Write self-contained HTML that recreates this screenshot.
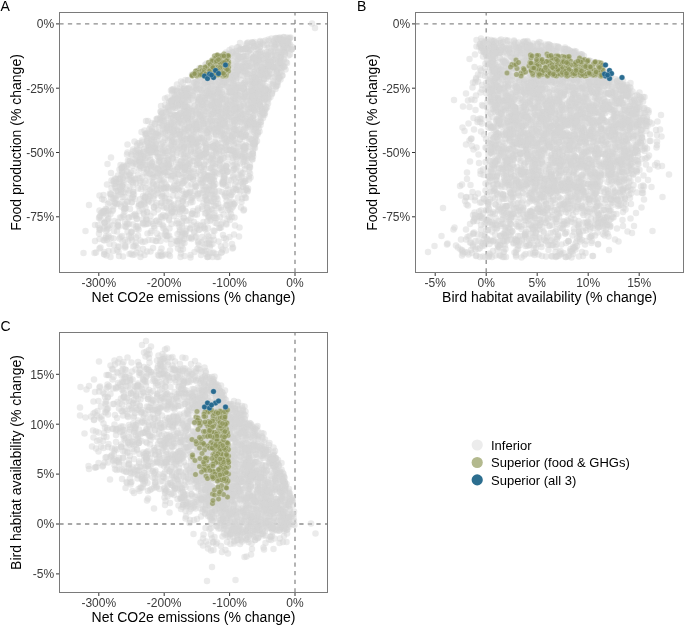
<!DOCTYPE html><html><head><meta charset="utf-8"><style>html,body{margin:0;padding:0;background:#fff;width:685px;height:626px;overflow:hidden}svg{display:block;font-family:"Liberation Sans", sans-serif;will-change:transform}.tk{font-size:12px;fill:#3a3a3a}.ti{font-size:14px;fill:#000}.tag{font-size:14px;fill:#000}.lg{font-size:13px;fill:#000}.g circle{fill:#d4d4d4;fill-opacity:.47}circle.o{fill:#8c9355;fill-opacity:.68;stroke:#fff;stroke-width:1;stroke-opacity:.45}circle.b{fill:#20658c;fill-opacity:.95;stroke:#fff;stroke-width:1;stroke-opacity:.45}</style></head><body><svg width="685" height="626" viewBox="0 0 685 626"><line x1="59.3" x2="327.5" y1="23.95" y2="23.95" stroke="#8c8c8c" stroke-width="1.3" stroke-dasharray="4.3 4.27"/><line y1="272.5" y2="12.5" x1="295.0" x2="295.0" stroke="#8c8c8c" stroke-width="1.3" stroke-dasharray="4.3 4.27"/><line x1="415.3" x2="683.5" y1="23.95" y2="23.95" stroke="#8c8c8c" stroke-width="1.3" stroke-dasharray="4.3 4.27"/><line y1="272.5" y2="12.5" x1="486.2" x2="486.2" stroke="#8c8c8c" stroke-width="1.3" stroke-dasharray="4.3 4.27"/><line x1="59.3" x2="327.5" y1="524.0" y2="524.0" stroke="#8c8c8c" stroke-width="1.3" stroke-dasharray="4.3 4.27"/><line y1="592.5" y2="332.5" x1="295.0" x2="295.0" stroke="#8c8c8c" stroke-width="1.3" stroke-dasharray="4.3 4.27"/><filter id="bl" x="-5%" y="-5%" width="110%" height="110%"><feGaussianBlur stdDeviation="0.7"/></filter><clipPath id="cpA"><rect x="60" y="13" width="267" height="259"/></clipPath><g clip-path="url(#cpA)"><g class="g" filter="url(#bl)"><g transform="scale(.5)"><circle cx=510 cy=164 r=6.5 /><circle cx=319 cy=320 r=6.5 /><circle cx=385 cy=259 r=6.5 /><circle cx=353 cy=279 r=6.5 /><circle cx=401 cy=306 r=6.5 /><circle cx=370 cy=189 r=6.5 /><circle cx=502 cy=109 r=6.5 /><circle cx=479 cy=215 r=6.5 /><circle cx=361 cy=412 r=6.5 /><circle cx=372 cy=185 r=6.5 /><circle cx=456 cy=315 r=6.5 /><circle cx=520 cy=177 r=6.5 /><circle cx=300 cy=330 r=6.5 /><circle cx=542 cy=124 r=6.5 /><circle cx=442 cy=219 r=6.5 /><circle cx=446 cy=219 r=6.5 /><circle cx=562 cy=124 r=6.5 /><circle cx=312 cy=442 r=6.5 /><circle cx=523 cy=194 r=6.5 /><circle cx=386 cy=358 r=6.5 /><circle cx=366 cy=233 r=6.5 /><circle cx=293 cy=439 r=6.5 /><circle cx=412 cy=426 r=6.5 /><circle cx=345 cy=307 r=6.5 /><circle cx=487 cy=178 r=6.5 /><circle cx=434 cy=206 r=6.5 /><circle cx=178 cy=410 r=6.5 /><circle cx=333 cy=305 r=6.5 /><circle cx=465 cy=273 r=6.5 /><circle cx=419 cy=294 r=6.5 /><circle cx=421 cy=490 r=6.5 /><circle cx=462 cy=226 r=6.5 /><circle cx=580 cy=109 r=6.5 /><circle cx=492 cy=143 r=6.5 /><circle cx=449 cy=243 r=6.5 /><circle cx=359 cy=210 r=6.5 /><circle cx=324 cy=332 r=6.5 /><circle cx=418 cy=248 r=6.5 /><circle cx=301 cy=348 r=6.5 /><circle cx=536 cy=183 r=6.5 /><circle cx=547 cy=83 r=6.5 /><circle cx=364 cy=330 r=6.5 /><circle cx=382 cy=299 r=6.5 /><circle cx=493 cy=379 r=6.5 /><circle cx=324 cy=393 r=6.5 /><circle cx=489 cy=358 r=6.5 /><circle cx=463 cy=390 r=6.5 /><circle cx=508 cy=249 r=6.5 /><circle cx=495 cy=383 r=6.5 /><circle cx=318 cy=444 r=6.5 /><circle cx=515 cy=94 r=6.5 /><circle cx=491 cy=143 r=6.5 /><circle cx=226 cy=419 r=6.5 /><circle cx=443 cy=310 r=6.5 /><circle cx=390 cy=307 r=6.5 /><circle cx=438 cy=208 r=6.5 /><circle cx=348 cy=287 r=6.5 /><circle cx=498 cy=341 r=6.5 /><circle cx=279 cy=322 r=6.5 /><circle cx=436 cy=236 r=6.5 /><circle cx=400 cy=314 r=6.5 /><circle cx=370 cy=336 r=6.5 /><circle cx=359 cy=195 r=6.5 /><circle cx=417 cy=259 r=6.5 /><circle cx=413 cy=358 r=6.5 /><circle cx=500 cy=243 r=6.5 /><circle cx=212 cy=429 r=6.5 /><circle cx=511 cy=187 r=6.5 /><circle cx=512 cy=207 r=6.5 /><circle cx=524 cy=134 r=6.5 /><circle cx=458 cy=300 r=6.5 /><circle cx=491 cy=290 r=6.5 /><circle cx=382 cy=353 r=6.5 /><circle cx=486 cy=367 r=6.5 /><circle cx=476 cy=234 r=6.5 /><circle cx=409 cy=286 r=6.5 /><circle cx=446 cy=165 r=6.5 /><circle cx=290 cy=483 r=6.5 /><circle cx=345 cy=352 r=6.5 /><circle cx=236 cy=493 r=6.5 /><circle cx=560 cy=115 r=6.5 /><circle cx=515 cy=184 r=6.5 /><circle cx=428 cy=435 r=6.5 /><circle cx=443 cy=265 r=6.5 /><circle cx=389 cy=465 r=6.5 /><circle cx=487 cy=421 r=6.5 /><circle cx=463 cy=227 r=6.5 /><circle cx=321 cy=246 r=6.5 /><circle cx=308 cy=369 r=6.5 /><circle cx=342 cy=414 r=6.5 /><circle cx=365 cy=304 r=6.5 /><circle cx=505 cy=262 r=6.5 /><circle cx=568 cy=75 r=6.5 /><circle cx=539 cy=125 r=6.5 /><circle cx=255 cy=464 r=6.5 /><circle cx=279 cy=422 r=6.5 /><circle cx=486 cy=374 r=6.5 /><circle cx=295 cy=278 r=6.5 /><circle cx=337 cy=294 r=6.5 /><circle cx=331 cy=263 r=6.5 /><circle cx=439 cy=164 r=6.5 /><circle cx=445 cy=318 r=6.5 /><circle cx=303 cy=462 r=6.5 /><circle cx=467 cy=350 r=6.5 /><circle cx=575 cy=90 r=6.5 /><circle cx=316 cy=338 r=6.5 /><circle cx=440 cy=295 r=6.5 /><circle cx=284 cy=327 r=6.5 /><circle cx=333 cy=335 r=6.5 /><circle cx=212 cy=462 r=6.5 /><circle cx=360 cy=424 r=6.5 /><circle cx=543 cy=89 r=6.5 /><circle cx=203 cy=425 r=6.5 /><circle cx=300 cy=321 r=6.5 /><circle cx=472 cy=123 r=6.5 /><circle cx=564 cy=86 r=6.5 /><circle cx=397 cy=241 r=6.5 /><circle cx=555 cy=163 r=6.5 /><circle cx=431 cy=299 r=6.5 /><circle cx=506 cy=242 r=6.5 /><circle cx=289 cy=261 r=6.5 /><circle cx=368 cy=220 r=6.5 /><circle cx=489 cy=166 r=6.5 /><circle cx=437 cy=153 r=6.5 /><circle cx=343 cy=252 r=6.5 /><circle cx=293 cy=346 r=6.5 /><circle cx=472 cy=107 r=6.5 /><circle cx=313 cy=372 r=6.5 /><circle cx=518 cy=121 r=6.5 /><circle cx=478 cy=182 r=6.5 /><circle cx=396 cy=417 r=6.5 /><circle cx=385 cy=396 r=6.5 /><circle cx=533 cy=125 r=6.5 /><circle cx=564 cy=151 r=6.5 /><circle cx=291 cy=396 r=6.5 /><circle cx=446 cy=162 r=6.5 /><circle cx=223 cy=376 r=6.5 /><circle cx=506 cy=237 r=6.5 /><circle cx=401 cy=259 r=6.5 /><circle cx=260 cy=360 r=6.5 /><circle cx=455 cy=137 r=6.5 /><circle cx=486 cy=112 r=6.5 /><circle cx=505 cy=319 r=6.5 /><circle cx=330 cy=276 r=6.5 /><circle cx=375 cy=235 r=6.5 /><circle cx=240 cy=356 r=6.5 /><circle cx=413 cy=292 r=6.5 /><circle cx=467 cy=207 r=6.5 /><circle cx=338 cy=327 r=6.5 /><circle cx=513 cy=181 r=6.5 /><circle cx=213 cy=511 r=6.5 /><circle cx=397 cy=196 r=6.5 /><circle cx=264 cy=463 r=6.5 /><circle cx=482 cy=171 r=6.5 /><circle cx=499 cy=284 r=6.5 /><circle cx=237 cy=364 r=6.5 /><circle cx=570 cy=90 r=6.5 /><circle cx=196 cy=450 r=6.5 /><circle cx=431 cy=172 r=6.5 /><circle cx=425 cy=210 r=6.5 /><circle cx=521 cy=132 r=6.5 /><circle cx=406 cy=343 r=6.5 /><circle cx=394 cy=429 r=6.5 /><circle cx=405 cy=380 r=6.5 /><circle cx=240 cy=435 r=6.5 /><circle cx=438 cy=210 r=6.5 /><circle cx=524 cy=147 r=6.5 /><circle cx=454 cy=279 r=6.5 /><circle cx=209 cy=446 r=6.5 /><circle cx=489 cy=263 r=6.5 /><circle cx=519 cy=140 r=6.5 /><circle cx=410 cy=427 r=6.5 /><circle cx=517 cy=248 r=6.5 /><circle cx=443 cy=345 r=6.5 /><circle cx=344 cy=186 r=6.5 /><circle cx=502 cy=278 r=6.5 /><circle cx=500 cy=214 r=6.5 /><circle cx=368 cy=295 r=6.5 /><circle cx=238 cy=494 r=6.5 /><circle cx=207 cy=480 r=6.5 /><circle cx=555 cy=154 r=6.5 /><circle cx=414 cy=183 r=6.5 /><circle cx=406 cy=152 r=6.5 /><circle cx=412 cy=238 r=6.5 /><circle cx=365 cy=465 r=6.5 /><circle cx=393 cy=227 r=6.5 /><circle cx=307 cy=347 r=6.5 /><circle cx=383 cy=291 r=6.5 /><circle cx=497 cy=273 r=6.5 /><circle cx=535 cy=89 r=6.5 /><circle cx=357 cy=399 r=6.5 /><circle cx=323 cy=288 r=6.5 /><circle cx=513 cy=117 r=6.5 /><circle cx=450 cy=276 r=6.5 /><circle cx=226 cy=397 r=6.5 /><circle cx=425 cy=137 r=6.5 /><circle cx=340 cy=501 r=6.5 /><circle cx=465 cy=151 r=6.5 /><circle cx=543 cy=147 r=6.5 /><circle cx=483 cy=347 r=6.5 /><circle cx=415 cy=267 r=6.5 /><circle cx=443 cy=337 r=6.5 /><circle cx=394 cy=151 r=6.5 /><circle cx=455 cy=240 r=6.5 /><circle cx=388 cy=283 r=6.5 /><circle cx=255 cy=403 r=6.5 /><circle cx=222 cy=346 r=6.5 /><circle cx=417 cy=259 r=6.5 /><circle cx=373 cy=278 r=6.5 /><circle cx=509 cy=221 r=6.5 /><circle cx=404 cy=275 r=6.5 /><circle cx=348 cy=252 r=6.5 /><circle cx=207 cy=427 r=6.5 /><circle cx=262 cy=309 r=6.5 /><circle cx=214 cy=459 r=6.5 /><circle cx=466 cy=413 r=6.5 /><circle cx=295 cy=351 r=6.5 /><circle cx=345 cy=264 r=6.5 /><circle cx=379 cy=384 r=6.5 /><circle cx=347 cy=379 r=6.5 /><circle cx=423 cy=261 r=6.5 /><circle cx=437 cy=171 r=6.5 /><circle cx=363 cy=182 r=6.5 /><circle cx=480 cy=98 r=6.5 /><circle cx=443 cy=226 r=6.5 /><circle cx=520 cy=192 r=6.5 /><circle cx=441 cy=112 r=6.5 /><circle cx=443 cy=505 r=6.5 /><circle cx=479 cy=455 r=6.5 /><circle cx=461 cy=121 r=6.5 /><circle cx=476 cy=170 r=6.5 /><circle cx=541 cy=124 r=6.5 /><circle cx=304 cy=377 r=6.5 /><circle cx=407 cy=276 r=6.5 /><circle cx=467 cy=186 r=6.5 /><circle cx=333 cy=252 r=6.5 /><circle cx=333 cy=218 r=6.5 /><circle cx=524 cy=140 r=6.5 /><circle cx=410 cy=394 r=6.5 /><circle cx=221 cy=514 r=6.5 /><circle cx=453 cy=109 r=6.5 /><circle cx=491 cy=188 r=6.5 /><circle cx=314 cy=298 r=6.5 /><circle cx=287 cy=402 r=6.5 /><circle cx=407 cy=358 r=6.5 /><circle cx=268 cy=430 r=6.5 /><circle cx=510 cy=174 r=6.5 /><circle cx=353 cy=310 r=6.5 /><circle cx=534 cy=104 r=6.5 /><circle cx=384 cy=233 r=6.5 /><circle cx=523 cy=182 r=6.5 /><circle cx=244 cy=336 r=6.5 /><circle cx=529 cy=194 r=6.5 /><circle cx=480 cy=278 r=6.5 /><circle cx=580 cy=89 r=6.5 /><circle cx=316 cy=476 r=6.5 /><circle cx=476 cy=315 r=6.5 /><circle cx=480 cy=86 r=6.5 /><circle cx=373 cy=307 r=6.5 /><circle cx=531 cy=81 r=6.5 /><circle cx=342 cy=488 r=6.5 /><circle cx=485 cy=288 r=6.5 /><circle cx=533 cy=179 r=6.5 /><circle cx=357 cy=349 r=6.5 /><circle cx=318 cy=512 r=6.5 /><circle cx=255 cy=344 r=6.5 /><circle cx=330 cy=469 r=6.5 /><circle cx=516 cy=265 r=6.5 /><circle cx=399 cy=136 r=6.5 /><circle cx=488 cy=389 r=6.5 /><circle cx=422 cy=336 r=6.5 /><circle cx=429 cy=195 r=6.5 /><circle cx=540 cy=139 r=6.5 /><circle cx=217 cy=437 r=6.5 /><circle cx=431 cy=394 r=6.5 /><circle cx=422 cy=229 r=6.5 /><circle cx=448 cy=476 r=6.5 /><circle cx=425 cy=326 r=6.5 /><circle cx=412 cy=297 r=6.5 /><circle cx=323 cy=332 r=6.5 /><circle cx=522 cy=148 r=6.5 /><circle cx=427 cy=388 r=6.5 /><circle cx=513 cy=121 r=6.5 /><circle cx=448 cy=363 r=6.5 /><circle cx=294 cy=282 r=6.5 /><circle cx=381 cy=456 r=6.5 /><circle cx=380 cy=190 r=6.5 /><circle cx=569 cy=109 r=6.5 /><circle cx=514 cy=163 r=6.5 /><circle cx=504 cy=318 r=6.5 /><circle cx=400 cy=311 r=6.5 /><circle cx=428 cy=398 r=6.5 /><circle cx=217 cy=471 r=6.5 /><circle cx=453 cy=262 r=6.5 /><circle cx=496 cy=377 r=6.5 /><circle cx=422 cy=211 r=6.5 /><circle cx=425 cy=154 r=6.5 /><circle cx=412 cy=305 r=6.5 /><circle cx=488 cy=128 r=6.5 /><circle cx=452 cy=150 r=6.5 /><circle cx=567 cy=97 r=6.5 /><circle cx=506 cy=215 r=6.5 /><circle cx=431 cy=185 r=6.5 /><circle cx=507 cy=197 r=6.5 /><circle cx=482 cy=114 r=6.5 /><circle cx=471 cy=153 r=6.5 /><circle cx=460 cy=440 r=6.5 /><circle cx=455 cy=343 r=6.5 /><circle cx=401 cy=350 r=6.5 /><circle cx=559 cy=136 r=6.5 /><circle cx=396 cy=297 r=6.5 /><circle cx=497 cy=253 r=6.5 /><circle cx=479 cy=227 r=6.5 /><circle cx=508 cy=154 r=6.5 /><circle cx=491 cy=296 r=6.5 /><circle cx=409 cy=167 r=6.5 /><circle cx=429 cy=462 r=6.5 /><circle cx=365 cy=202 r=6.5 /><circle cx=292 cy=272 r=6.5 /><circle cx=474 cy=216 r=6.5 /><circle cx=208 cy=400 r=6.5 /><circle cx=395 cy=387 r=6.5 /><circle cx=373 cy=278 r=6.5 /><circle cx=407 cy=406 r=6.5 /><circle cx=436 cy=201 r=6.5 /><circle cx=335 cy=471 r=6.5 /><circle cx=450 cy=350 r=6.5 /><circle cx=371 cy=182 r=6.5 /><circle cx=285 cy=324 r=6.5 /><circle cx=474 cy=145 r=6.5 /><circle cx=506 cy=308 r=6.5 /><circle cx=453 cy=401 r=6.5 /><circle cx=425 cy=506 r=6.5 /><circle cx=422 cy=361 r=6.5 /><circle cx=443 cy=249 r=6.5 /><circle cx=363 cy=264 r=6.5 /><circle cx=522 cy=149 r=6.5 /><circle cx=304 cy=258 r=6.5 /><circle cx=371 cy=389 r=6.5 /><circle cx=232 cy=358 r=6.5 /><circle cx=383 cy=478 r=6.5 /><circle cx=507 cy=236 r=6.5 /><circle cx=463 cy=155 r=6.5 /><circle cx=418 cy=274 r=6.5 /><circle cx=457 cy=193 r=6.5 /><circle cx=476 cy=242 r=6.5 /><circle cx=260 cy=351 r=6.5 /><circle cx=553 cy=90 r=6.5 /><circle cx=303 cy=405 r=6.5 /><circle cx=399 cy=194 r=6.5 /><circle cx=375 cy=255 r=6.5 /><circle cx=562 cy=80 r=6.5 /><circle cx=325 cy=226 r=6.5 /><circle cx=272 cy=475 r=6.5 /><circle cx=416 cy=144 r=6.5 /><circle cx=427 cy=505 r=6.5 /><circle cx=403 cy=335 r=6.5 /><circle cx=397 cy=277 r=6.5 /><circle cx=552 cy=88 r=6.5 /><circle cx=337 cy=246 r=6.5 /><circle cx=372 cy=192 r=6.5 /><circle cx=569 cy=133 r=6.5 /><circle cx=267 cy=327 r=6.5 /><circle cx=234 cy=500 r=6.5 /><circle cx=376 cy=236 r=6.5 /><circle cx=401 cy=361 r=6.5 /><circle cx=480 cy=139 r=6.5 /><circle cx=207 cy=390 r=6.5 /><circle cx=339 cy=262 r=6.5 /><circle cx=342 cy=427 r=6.5 /><circle cx=280 cy=366 r=6.5 /><circle cx=480 cy=327 r=6.5 /><circle cx=337 cy=344 r=6.5 /><circle cx=467 cy=241 r=6.5 /><circle cx=256 cy=483 r=6.5 /><circle cx=251 cy=454 r=6.5 /><circle cx=393 cy=176 r=6.5 /><circle cx=509 cy=92 r=6.5 /><circle cx=393 cy=258 r=6.5 /><circle cx=487 cy=363 r=6.5 /><circle cx=472 cy=235 r=6.5 /><circle cx=342 cy=290 r=6.5 /><circle cx=230 cy=367 r=6.5 /><circle cx=576 cy=88 r=6.5 /><circle cx=263 cy=356 r=6.5 /><circle cx=370 cy=315 r=6.5 /><circle cx=441 cy=170 r=6.5 /><circle cx=366 cy=187 r=6.5 /><circle cx=426 cy=371 r=6.5 /><circle cx=458 cy=273 r=6.5 /><circle cx=509 cy=230 r=6.5 /><circle cx=214 cy=441 r=6.5 /><circle cx=288 cy=345 r=6.5 /><circle cx=394 cy=147 r=6.5 /><circle cx=338 cy=437 r=6.5 /><circle cx=330 cy=279 r=6.5 /><circle cx=584 cy=98 r=6.5 /><circle cx=502 cy=227 r=6.5 /><circle cx=275 cy=452 r=6.5 /><circle cx=467 cy=197 r=6.5 /><circle cx=241 cy=330 r=6.5 /><circle cx=375 cy=177 r=6.5 /><circle cx=476 cy=294 r=6.5 /><circle cx=488 cy=295 r=6.5 /><circle cx=536 cy=151 r=6.5 /><circle cx=404 cy=185 r=6.5 /><circle cx=308 cy=415 r=6.5 /><circle cx=480 cy=264 r=6.5 /><circle cx=458 cy=146 r=6.5 /><circle cx=478 cy=259 r=6.5 /><circle cx=317 cy=314 r=6.5 /><circle cx=214 cy=479 r=6.5 /><circle cx=313 cy=238 r=6.5 /><circle cx=343 cy=204 r=6.5 /><circle cx=292 cy=242 r=6.5 /><circle cx=476 cy=198 r=6.5 /><circle cx=409 cy=330 r=6.5 /><circle cx=514 cy=130 r=6.5 /><circle cx=536 cy=111 r=6.5 /><circle cx=325 cy=235 r=6.5 /><circle cx=420 cy=177 r=6.5 /><circle cx=462 cy=361 r=6.5 /><circle cx=364 cy=190 r=6.5 /><circle cx=450 cy=233 r=6.5 /><circle cx=439 cy=348 r=6.5 /><circle cx=312 cy=269 r=6.5 /><circle cx=527 cy=175 r=6.5 /><circle cx=309 cy=274 r=6.5 /><circle cx=344 cy=211 r=6.5 /><circle cx=468 cy=221 r=6.5 /><circle cx=368 cy=293 r=6.5 /><circle cx=407 cy=218 r=6.5 /><circle cx=323 cy=229 r=6.5 /><circle cx=466 cy=340 r=6.5 /><circle cx=572 cy=124 r=6.5 /><circle cx=318 cy=360 r=6.5 /><circle cx=420 cy=362 r=6.5 /><circle cx=418 cy=228 r=6.5 /><circle cx=354 cy=483 r=6.5 /><circle cx=413 cy=260 r=6.5 /><circle cx=415 cy=353 r=6.5 /><circle cx=475 cy=155 r=6.5 /><circle cx=216 cy=408 r=6.5 /><circle cx=345 cy=265 r=6.5 /><circle cx=531 cy=181 r=6.5 /><circle cx=316 cy=271 r=6.5 /><circle cx=484 cy=237 r=6.5 /><circle cx=455 cy=438 r=6.5 /><circle cx=321 cy=235 r=6.5 /><circle cx=474 cy=134 r=6.5 /><circle cx=491 cy=98 r=6.5 /><circle cx=389 cy=213 r=6.5 /><circle cx=551 cy=88 r=6.5 /><circle cx=484 cy=230 r=6.5 /><circle cx=500 cy=347 r=6.5 /><circle cx=504 cy=173 r=6.5 /><circle cx=273 cy=322 r=6.5 /><circle cx=402 cy=501 r=6.5 /><circle cx=356 cy=406 r=6.5 /><circle cx=453 cy=449 r=6.5 /><circle cx=417 cy=435 r=6.5 /><circle cx=501 cy=254 r=6.5 /><circle cx=551 cy=113 r=6.5 /><circle cx=415 cy=423 r=6.5 /><circle cx=499 cy=99 r=6.5 /><circle cx=440 cy=434 r=6.5 /><circle cx=489 cy=293 r=6.5 /><circle cx=232 cy=382 r=6.5 /><circle cx=439 cy=299 r=6.5 /><circle cx=485 cy=115 r=6.5 /><circle cx=371 cy=221 r=6.5 /><circle cx=419 cy=372 r=6.5 /><circle cx=460 cy=233 r=6.5 /><circle cx=273 cy=437 r=6.5 /><circle cx=312 cy=288 r=6.5 /><circle cx=511 cy=216 r=6.5 /><circle cx=391 cy=250 r=6.5 /><circle cx=537 cy=198 r=6.5 /><circle cx=438 cy=222 r=6.5 /><circle cx=450 cy=392 r=6.5 /><circle cx=433 cy=121 r=6.5 /><circle cx=339 cy=311 r=6.5 /><circle cx=461 cy=201 r=6.5 /><circle cx=532 cy=186 r=6.5 /><circle cx=427 cy=349 r=6.5 /><circle cx=466 cy=212 r=6.5 /><circle cx=381 cy=276 r=6.5 /><circle cx=396 cy=227 r=6.5 /><circle cx=496 cy=219 r=6.5 /><circle cx=417 cy=178 r=6.5 /><circle cx=582 cy=99 r=6.5 /><circle cx=347 cy=279 r=6.5 /><circle cx=526 cy=184 r=6.5 /><circle cx=465 cy=115 r=6.5 /><circle cx=372 cy=228 r=6.5 /><circle cx=345 cy=317 r=6.5 /><circle cx=228 cy=462 r=6.5 /><circle cx=303 cy=277 r=6.5 /><circle cx=418 cy=421 r=6.5 /><circle cx=281 cy=336 r=6.5 /><circle cx=326 cy=305 r=6.5 /><circle cx=491 cy=99 r=6.5 /><circle cx=229 cy=442 r=6.5 /><circle cx=369 cy=308 r=6.5 /><circle cx=446 cy=164 r=6.5 /><circle cx=401 cy=254 r=6.5 /><circle cx=550 cy=90 r=6.5 /><circle cx=304 cy=326 r=6.5 /><circle cx=477 cy=144 r=6.5 /><circle cx=511 cy=184 r=6.5 /><circle cx=422 cy=439 r=6.5 /><circle cx=409 cy=148 r=6.5 /><circle cx=358 cy=365 r=6.5 /><circle cx=476 cy=141 r=6.5 /><circle cx=523 cy=103 r=6.5 /><circle cx=367 cy=281 r=6.5 /><circle cx=281 cy=362 r=6.5 /><circle cx=510 cy=217 r=6.5 /><circle cx=245 cy=394 r=6.5 /><circle cx=487 cy=113 r=6.5 /><circle cx=371 cy=212 r=6.5 /><circle cx=462 cy=161 r=6.5 /><circle cx=550 cy=137 r=6.5 /><circle cx=527 cy=193 r=6.5 /><circle cx=286 cy=312 r=6.5 /><circle cx=354 cy=305 r=6.5 /><circle cx=489 cy=183 r=6.5 /><circle cx=363 cy=211 r=6.5 /><circle cx=443 cy=250 r=6.5 /><circle cx=474 cy=124 r=6.5 /><circle cx=424 cy=218 r=6.5 /><circle cx=217 cy=502 r=6.5 /><circle cx=364 cy=467 r=6.5 /><circle cx=514 cy=120 r=6.5 /><circle cx=430 cy=223 r=6.5 /><circle cx=504 cy=193 r=6.5 /><circle cx=260 cy=322 r=6.5 /><circle cx=276 cy=350 r=6.5 /><circle cx=291 cy=317 r=6.5 /><circle cx=486 cy=98 r=6.5 /><circle cx=425 cy=356 r=6.5 /><circle cx=355 cy=182 r=6.5 /><circle cx=477 cy=269 r=6.5 /><circle cx=541 cy=194 r=6.5 /><circle cx=478 cy=269 r=6.5 /><circle cx=512 cy=123 r=6.5 /><circle cx=324 cy=252 r=6.5 /><circle cx=489 cy=165 r=6.5 /><circle cx=406 cy=372 r=6.5 /><circle cx=432 cy=305 r=6.5 /><circle cx=519 cy=241 r=6.5 /><circle cx=400 cy=240 r=6.5 /><circle cx=466 cy=273 r=6.5 /><circle cx=442 cy=493 r=6.5 /><circle cx=481 cy=233 r=6.5 /><circle cx=344 cy=281 r=6.5 /><circle cx=357 cy=284 r=6.5 /><circle cx=228 cy=396 r=6.5 /><circle cx=276 cy=377 r=6.5 /><circle cx=434 cy=514 r=6.5 /><circle cx=355 cy=337 r=6.5 /><circle cx=388 cy=444 r=6.5 /><circle cx=412 cy=356 r=6.5 /><circle cx=529 cy=158 r=6.5 /><circle cx=369 cy=206 r=6.5 /><circle cx=404 cy=413 r=6.5 /><circle cx=476 cy=130 r=6.5 /><circle cx=335 cy=271 r=6.5 /><circle cx=359 cy=329 r=6.5 /><circle cx=262 cy=507 r=6.5 /><circle cx=451 cy=337 r=6.5 /><circle cx=430 cy=436 r=6.5 /><circle cx=448 cy=138 r=6.5 /><circle cx=494 cy=264 r=6.5 /><circle cx=382 cy=301 r=6.5 /><circle cx=341 cy=273 r=6.5 /><circle cx=339 cy=203 r=6.5 /><circle cx=473 cy=317 r=6.5 /><circle cx=518 cy=205 r=6.5 /><circle cx=456 cy=343 r=6.5 /><circle cx=428 cy=201 r=6.5 /><circle cx=249 cy=418 r=6.5 /><circle cx=474 cy=238 r=6.5 /><circle cx=321 cy=223 r=6.5 /><circle cx=426 cy=292 r=6.5 /><circle cx=263 cy=474 r=6.5 /><circle cx=248 cy=418 r=6.5 /><circle cx=375 cy=197 r=6.5 /><circle cx=509 cy=179 r=6.5 /><circle cx=523 cy=183 r=6.5 /><circle cx=546 cy=163 r=6.5 /><circle cx=426 cy=223 r=6.5 /><circle cx=449 cy=179 r=6.5 /><circle cx=561 cy=105 r=6.5 /><circle cx=413 cy=138 r=6.5 /><circle cx=519 cy=209 r=6.5 /><circle cx=418 cy=145 r=6.5 /><circle cx=371 cy=422 r=6.5 /><circle cx=440 cy=179 r=6.5 /><circle cx=344 cy=260 r=6.5 /><circle cx=495 cy=239 r=6.5 /><circle cx=491 cy=270 r=6.5 /><circle cx=432 cy=508 r=6.5 /><circle cx=504 cy=85 r=6.5 /><circle cx=527 cy=225 r=6.5 /><circle cx=297 cy=302 r=6.5 /><circle cx=289 cy=510 r=6.5 /><circle cx=425 cy=488 r=6.5 /><circle cx=572 cy=100 r=6.5 /><circle cx=506 cy=293 r=6.5 /><circle cx=505 cy=182 r=6.5 /><circle cx=427 cy=154 r=6.5 /><circle cx=362 cy=192 r=6.5 /><circle cx=405 cy=210 r=6.5 /><circle cx=424 cy=242 r=6.5 /><circle cx=455 cy=143 r=6.5 /><circle cx=570 cy=104 r=6.5 /><circle cx=365 cy=399 r=6.5 /><circle cx=405 cy=418 r=6.5 /><circle cx=343 cy=211 r=6.5 /><circle cx=495 cy=223 r=6.5 /><circle cx=227 cy=412 r=6.5 /><circle cx=318 cy=327 r=6.5 /><circle cx=553 cy=142 r=6.5 /><circle cx=440 cy=155 r=6.5 /><circle cx=293 cy=330 r=6.5 /><circle cx=552 cy=76 r=6.5 /><circle cx=456 cy=209 r=6.5 /><circle cx=407 cy=361 r=6.5 /><circle cx=482 cy=257 r=6.5 /><circle cx=209 cy=445 r=6.5 /><circle cx=424 cy=349 r=6.5 /><circle cx=509 cy=118 r=6.5 /><circle cx=499 cy=334 r=6.5 /><circle cx=542 cy=102 r=6.5 /><circle cx=366 cy=217 r=6.5 /><circle cx=459 cy=474 r=6.5 /><circle cx=491 cy=242 r=6.5 /><circle cx=337 cy=333 r=6.5 /><circle cx=297 cy=299 r=6.5 /><circle cx=324 cy=512 r=6.5 /><circle cx=425 cy=228 r=6.5 /><circle cx=492 cy=174 r=6.5 /><circle cx=201 cy=495 r=6.5 /><circle cx=411 cy=393 r=6.5 /><circle cx=526 cy=184 r=6.5 /><circle cx=255 cy=305 r=6.5 /><circle cx=370 cy=467 r=6.5 /><circle cx=217 cy=475 r=6.5 /><circle cx=469 cy=337 r=6.5 /><circle cx=473 cy=108 r=6.5 /><circle cx=505 cy=118 r=6.5 /><circle cx=445 cy=366 r=6.5 /><circle cx=472 cy=163 r=6.5 /><circle cx=558 cy=155 r=6.5 /><circle cx=513 cy=201 r=6.5 /><circle cx=466 cy=222 r=6.5 /><circle cx=398 cy=327 r=6.5 /><circle cx=516 cy=89 r=6.5 /><circle cx=368 cy=323 r=6.5 /><circle cx=251 cy=493 r=6.5 /><circle cx=521 cy=202 r=6.5 /><circle cx=293 cy=440 r=6.5 /><circle cx=488 cy=228 r=6.5 /><circle cx=254 cy=309 r=6.5 /><circle cx=430 cy=284 r=6.5 /><circle cx=503 cy=208 r=6.5 /><circle cx=222 cy=388 r=6.5 /><circle cx=366 cy=416 r=6.5 /><circle cx=414 cy=190 r=6.5 /><circle cx=281 cy=306 r=6.5 /><circle cx=529 cy=195 r=6.5 /><circle cx=455 cy=137 r=6.5 /><circle cx=482 cy=219 r=6.5 /><circle cx=366 cy=165 r=6.5 /><circle cx=247 cy=345 r=6.5 /><circle cx=504 cy=85 r=6.5 /><circle cx=459 cy=177 r=6.5 /><circle cx=348 cy=432 r=6.5 /><circle cx=325 cy=437 r=6.5 /><circle cx=471 cy=177 r=6.5 /><circle cx=238 cy=512 r=6.5 /><circle cx=526 cy=83 r=6.5 /><circle cx=563 cy=108 r=6.5 /><circle cx=400 cy=330 r=6.5 /><circle cx=434 cy=289 r=6.5 /><circle cx=482 cy=268 r=6.5 /><circle cx=302 cy=284 r=6.5 /><circle cx=466 cy=253 r=6.5 /><circle cx=376 cy=289 r=6.5 /><circle cx=385 cy=322 r=6.5 /><circle cx=274 cy=291 r=6.5 /><circle cx=425 cy=372 r=6.5 /><circle cx=322 cy=511 r=6.5 /><circle cx=489 cy=214 r=6.5 /><circle cx=412 cy=391 r=6.5 /><circle cx=419 cy=353 r=6.5 /><circle cx=376 cy=332 r=6.5 /><circle cx=449 cy=357 r=6.5 /><circle cx=395 cy=243 r=6.5 /><circle cx=360 cy=269 r=6.5 /><circle cx=472 cy=379 r=6.5 /><circle cx=390 cy=429 r=6.5 /><circle cx=397 cy=201 r=6.5 /><circle cx=239 cy=339 r=6.5 /><circle cx=308 cy=425 r=6.5 /><circle cx=454 cy=344 r=6.5 /><circle cx=547 cy=135 r=6.5 /><circle cx=339 cy=457 r=6.5 /><circle cx=283 cy=264 r=6.5 /><circle cx=402 cy=204 r=6.5 /><circle cx=454 cy=221 r=6.5 /><circle cx=473 cy=238 r=6.5 /><circle cx=431 cy=368 r=6.5 /><circle cx=504 cy=178 r=6.5 /><circle cx=236 cy=451 r=6.5 /><circle cx=352 cy=183 r=6.5 /><circle cx=462 cy=234 r=6.5 /><circle cx=462 cy=299 r=6.5 /><circle cx=373 cy=457 r=6.5 /><circle cx=507 cy=116 r=6.5 /><circle cx=247 cy=331 r=6.5 /><circle cx=347 cy=262 r=6.5 /><circle cx=425 cy=241 r=6.5 /><circle cx=511 cy=225 r=6.5 /><circle cx=433 cy=179 r=6.5 /><circle cx=343 cy=202 r=6.5 /><circle cx=388 cy=250 r=6.5 /><circle cx=559 cy=78 r=6.5 /><circle cx=447 cy=189 r=6.5 /><circle cx=379 cy=327 r=6.5 /><circle cx=447 cy=232 r=6.5 /><circle cx=326 cy=257 r=6.5 /><circle cx=447 cy=337 r=6.5 /><circle cx=371 cy=323 r=6.5 /><circle cx=510 cy=196 r=6.5 /><circle cx=490 cy=272 r=6.5 /><circle cx=481 cy=150 r=6.5 /><circle cx=360 cy=226 r=6.5 /><circle cx=426 cy=187 r=6.5 /><circle cx=487 cy=99 r=6.5 /><circle cx=528 cy=119 r=6.5 /><circle cx=567 cy=74 r=6.5 /><circle cx=371 cy=160 r=6.5 /><circle cx=448 cy=306 r=6.5 /><circle cx=521 cy=215 r=6.5 /><circle cx=424 cy=310 r=6.5 /><circle cx=398 cy=343 r=6.5 /><circle cx=410 cy=197 r=6.5 /><circle cx=345 cy=317 r=6.5 /><circle cx=421 cy=390 r=6.5 /><circle cx=430 cy=291 r=6.5 /><circle cx=559 cy=145 r=6.5 /><circle cx=437 cy=118 r=6.5 /><circle cx=221 cy=389 r=6.5 /><circle cx=297 cy=480 r=6.5 /><circle cx=302 cy=263 r=6.5 /><circle cx=429 cy=148 r=6.5 /><circle cx=355 cy=468 r=6.5 /><circle cx=475 cy=219 r=6.5 /><circle cx=298 cy=293 r=6.5 /><circle cx=345 cy=342 r=6.5 /><circle cx=322 cy=317 r=6.5 /><circle cx=335 cy=223 r=6.5 /><circle cx=452 cy=501 r=6.5 /><circle cx=379 cy=234 r=6.5 /><circle cx=342 cy=353 r=6.5 /><circle cx=447 cy=364 r=6.5 /><circle cx=404 cy=503 r=6.5 /><circle cx=321 cy=504 r=6.5 /><circle cx=477 cy=355 r=6.5 /><circle cx=408 cy=248 r=6.5 /><circle cx=404 cy=261 r=6.5 /><circle cx=285 cy=314 r=6.5 /><circle cx=462 cy=204 r=6.5 /><circle cx=364 cy=285 r=6.5 /><circle cx=453 cy=200 r=6.5 /><circle cx=301 cy=333 r=6.5 /><circle cx=393 cy=452 r=6.5 /><circle cx=322 cy=212 r=6.5 /><circle cx=386 cy=359 r=6.5 /><circle cx=438 cy=248 r=6.5 /><circle cx=325 cy=509 r=6.5 /><circle cx=231 cy=373 r=6.5 /><circle cx=237 cy=358 r=6.5 /><circle cx=346 cy=236 r=6.5 /><circle cx=406 cy=451 r=6.5 /><circle cx=530 cy=226 r=6.5 /><circle cx=546 cy=120 r=6.5 /><circle cx=355 cy=230 r=6.5 /><circle cx=490 cy=338 r=6.5 /><circle cx=234 cy=408 r=6.5 /><circle cx=342 cy=210 r=6.5 /><circle cx=357 cy=297 r=6.5 /><circle cx=307 cy=304 r=6.5 /><circle cx=478 cy=191 r=6.5 /><circle cx=398 cy=256 r=6.5 /><circle cx=427 cy=149 r=6.5 /><circle cx=472 cy=339 r=6.5 /><circle cx=542 cy=124 r=6.5 /><circle cx=437 cy=483 r=6.5 /><circle cx=227 cy=368 r=6.5 /><circle cx=520 cy=82 r=6.5 /><circle cx=485 cy=131 r=6.5 /><circle cx=432 cy=265 r=6.5 /><circle cx=395 cy=284 r=6.5 /><circle cx=294 cy=503 r=6.5 /><circle cx=489 cy=112 r=6.5 /><circle cx=442 cy=449 r=6.5 /><circle cx=436 cy=133 r=6.5 /><circle cx=239 cy=365 r=6.5 /><circle cx=398 cy=215 r=6.5 /><circle cx=397 cy=213 r=6.5 /><circle cx=435 cy=241 r=6.5 /><circle cx=308 cy=354 r=6.5 /><circle cx=381 cy=279 r=6.5 /><circle cx=281 cy=308 r=6.5 /><circle cx=430 cy=242 r=6.5 /><circle cx=418 cy=487 r=6.5 /><circle cx=526 cy=236 r=6.5 /><circle cx=489 cy=143 r=6.5 /><circle cx=375 cy=187 r=6.5 /><circle cx=398 cy=198 r=6.5 /><circle cx=406 cy=248 r=6.5 /><circle cx=528 cy=157 r=6.5 /><circle cx=575 cy=82 r=6.5 /><circle cx=404 cy=215 r=6.5 /><circle cx=524 cy=109 r=6.5 /><circle cx=377 cy=310 r=6.5 /><circle cx=402 cy=367 r=6.5 /><circle cx=492 cy=376 r=6.5 /><circle cx=222 cy=395 r=6.5 /><circle cx=342 cy=359 r=6.5 /><circle cx=364 cy=447 r=6.5 /><circle cx=505 cy=122 r=6.5 /><circle cx=308 cy=452 r=6.5 /><circle cx=459 cy=405 r=6.5 /><circle cx=350 cy=230 r=6.5 /><circle cx=583 cy=99 r=6.5 /><circle cx=355 cy=243 r=6.5 /><circle cx=384 cy=149 r=6.5 /><circle cx=362 cy=323 r=6.5 /><circle cx=430 cy=152 r=6.5 /><circle cx=368 cy=214 r=6.5 /><circle cx=328 cy=336 r=6.5 /><circle cx=473 cy=380 r=6.5 /><circle cx=441 cy=126 r=6.5 /><circle cx=262 cy=464 r=6.5 /><circle cx=425 cy=190 r=6.5 /><circle cx=487 cy=195 r=6.5 /><circle cx=530 cy=192 r=6.5 /><circle cx=425 cy=164 r=6.5 /><circle cx=334 cy=330 r=6.5 /><circle cx=476 cy=118 r=6.5 /><circle cx=412 cy=241 r=6.5 /><circle cx=297 cy=403 r=6.5 /><circle cx=244 cy=372 r=6.5 /><circle cx=451 cy=228 r=6.5 /><circle cx=470 cy=240 r=6.5 /><circle cx=424 cy=212 r=6.5 /><circle cx=429 cy=383 r=6.5 /><circle cx=467 cy=306 r=6.5 /><circle cx=417 cy=263 r=6.5 /><circle cx=438 cy=301 r=6.5 /><circle cx=405 cy=201 r=6.5 /><circle cx=267 cy=342 r=6.5 /><circle cx=490 cy=275 r=6.5 /><circle cx=471 cy=189 r=6.5 /><circle cx=471 cy=144 r=6.5 /><circle cx=266 cy=365 r=6.5 /><circle cx=511 cy=202 r=6.5 /><circle cx=462 cy=277 r=6.5 /><circle cx=489 cy=299 r=6.5 /><circle cx=347 cy=178 r=6.5 /><circle cx=252 cy=332 r=6.5 /><circle cx=432 cy=268 r=6.5 /><circle cx=439 cy=187 r=6.5 /><circle cx=304 cy=328 r=6.5 /><circle cx=496 cy=98 r=6.5 /><circle cx=386 cy=192 r=6.5 /><circle cx=370 cy=395 r=6.5 /><circle cx=370 cy=290 r=6.5 /><circle cx=466 cy=316 r=6.5 /><circle cx=539 cy=126 r=6.5 /><circle cx=488 cy=178 r=6.5 /><circle cx=424 cy=390 r=6.5 /><circle cx=343 cy=204 r=6.5 /><circle cx=332 cy=369 r=6.5 /><circle cx=393 cy=164 r=6.5 /><circle cx=296 cy=242 r=6.5 /><circle cx=531 cy=146 r=6.5 /><circle cx=393 cy=317 r=6.5 /><circle cx=323 cy=497 r=6.5 /><circle cx=536 cy=193 r=6.5 /><circle cx=447 cy=267 r=6.5 /><circle cx=215 cy=453 r=6.5 /><circle cx=268 cy=388 r=6.5 /><circle cx=335 cy=350 r=6.5 /><circle cx=337 cy=330 r=6.5 /><circle cx=397 cy=301 r=6.5 /><circle cx=469 cy=135 r=6.5 /><circle cx=242 cy=384 r=6.5 /><circle cx=443 cy=271 r=6.5 /><circle cx=453 cy=224 r=6.5 /><circle cx=446 cy=365 r=6.5 /><circle cx=346 cy=300 r=6.5 /><circle cx=486 cy=324 r=6.5 /><circle cx=330 cy=197 r=6.5 /><circle cx=493 cy=250 r=6.5 /><circle cx=458 cy=360 r=6.5 /><circle cx=271 cy=302 r=6.5 /><circle cx=430 cy=297 r=6.5 /><circle cx=355 cy=368 r=6.5 /><circle cx=313 cy=406 r=6.5 /><circle cx=341 cy=478 r=6.5 /><circle cx=357 cy=350 r=6.5 /><circle cx=322 cy=372 r=6.5 /><circle cx=511 cy=285 r=6.5 /><circle cx=409 cy=455 r=6.5 /><circle cx=411 cy=300 r=6.5 /><circle cx=429 cy=291 r=6.5 /><circle cx=357 cy=244 r=6.5 /><circle cx=479 cy=350 r=6.5 /><circle cx=483 cy=314 r=6.5 /><circle cx=474 cy=132 r=6.5 /><circle cx=209 cy=453 r=6.5 /><circle cx=363 cy=342 r=6.5 /><circle cx=556 cy=131 r=6.5 /><circle cx=403 cy=154 r=6.5 /><circle cx=418 cy=487 r=6.5 /><circle cx=439 cy=321 r=6.5 /><circle cx=534 cy=148 r=6.5 /><circle cx=207 cy=426 r=6.5 /><circle cx=415 cy=164 r=6.5 /><circle cx=480 cy=309 r=6.5 /><circle cx=331 cy=462 r=6.5 /><circle cx=388 cy=463 r=6.5 /><circle cx=269 cy=509 r=6.5 /><circle cx=246 cy=355 r=6.5 /><circle cx=568 cy=120 r=6.5 /><circle cx=431 cy=277 r=6.5 /><circle cx=346 cy=380 r=6.5 /><circle cx=463 cy=174 r=6.5 /><circle cx=418 cy=151 r=6.5 /><circle cx=440 cy=248 r=6.5 /><circle cx=515 cy=265 r=6.5 /><circle cx=409 cy=350 r=6.5 /><circle cx=429 cy=257 r=6.5 /><circle cx=341 cy=249 r=6.5 /><circle cx=499 cy=101 r=6.5 /><circle cx=238 cy=408 r=6.5 /><circle cx=353 cy=231 r=6.5 /><circle cx=464 cy=104 r=6.5 /><circle cx=501 cy=202 r=6.5 /><circle cx=434 cy=169 r=6.5 /><circle cx=322 cy=224 r=6.5 /><circle cx=367 cy=388 r=6.5 /><circle cx=514 cy=143 r=6.5 /><circle cx=535 cy=194 r=6.5 /><circle cx=511 cy=208 r=6.5 /><circle cx=297 cy=401 r=6.5 /><circle cx=542 cy=133 r=6.5 /><circle cx=316 cy=386 r=6.5 /><circle cx=199 cy=421 r=6.5 /><circle cx=366 cy=498 r=6.5 /><circle cx=348 cy=418 r=6.5 /><circle cx=568 cy=95 r=6.5 /><circle cx=336 cy=214 r=6.5 /><circle cx=393 cy=230 r=6.5 /><circle cx=569 cy=88 r=6.5 /><circle cx=343 cy=448 r=6.5 /><circle cx=338 cy=471 r=6.5 /><circle cx=460 cy=155 r=6.5 /><circle cx=291 cy=330 r=6.5 /><circle cx=480 cy=139 r=6.5 /><circle cx=428 cy=360 r=6.5 /><circle cx=528 cy=185 r=6.5 /><circle cx=493 cy=154 r=6.5 /><circle cx=566 cy=88 r=6.5 /><circle cx=470 cy=201 r=6.5 /><circle cx=370 cy=279 r=6.5 /><circle cx=559 cy=95 r=6.5 /><circle cx=190 cy=482 r=6.5 /><circle cx=432 cy=127 r=6.5 /><circle cx=209 cy=509 r=6.5 /><circle cx=384 cy=285 r=6.5 /><circle cx=417 cy=192 r=6.5 /><circle cx=494 cy=313 r=6.5 /><circle cx=463 cy=417 r=6.5 /><circle cx=482 cy=160 r=6.5 /><circle cx=452 cy=192 r=6.5 /><circle cx=501 cy=142 r=6.5 /><circle cx=501 cy=249 r=6.5 /><circle cx=415 cy=514 r=6.5 /><circle cx=559 cy=75 r=6.5 /><circle cx=411 cy=165 r=6.5 /><circle cx=355 cy=195 r=6.5 /><circle cx=451 cy=214 r=6.5 /><circle cx=509 cy=273 r=6.5 /><circle cx=413 cy=165 r=6.5 /><circle cx=425 cy=292 r=6.5 /><circle cx=333 cy=316 r=6.5 /><circle cx=219 cy=488 r=6.5 /><circle cx=330 cy=403 r=6.5 /><circle cx=377 cy=440 r=6.5 /><circle cx=272 cy=485 r=6.5 /><circle cx=487 cy=170 r=6.5 /><circle cx=310 cy=335 r=6.5 /><circle cx=481 cy=364 r=6.5 /><circle cx=473 cy=302 r=6.5 /><circle cx=405 cy=223 r=6.5 /><circle cx=465 cy=210 r=6.5 /><circle cx=281 cy=481 r=6.5 /><circle cx=311 cy=258 r=6.5 /><circle cx=378 cy=175 r=6.5 /><circle cx=469 cy=104 r=6.5 /><circle cx=529 cy=200 r=6.5 /><circle cx=392 cy=352 r=6.5 /><circle cx=408 cy=315 r=6.5 /><circle cx=414 cy=487 r=6.5 /><circle cx=427 cy=361 r=6.5 /><circle cx=293 cy=338 r=6.5 /><circle cx=436 cy=125 r=6.5 /><circle cx=446 cy=139 r=6.5 /><circle cx=525 cy=87 r=6.5 /><circle cx=522 cy=199 r=6.5 /><circle cx=410 cy=130 r=6.5 /><circle cx=254 cy=333 r=6.5 /><circle cx=435 cy=184 r=6.5 /><circle cx=512 cy=255 r=6.5 /><circle cx=307 cy=354 r=6.5 /><circle cx=484 cy=312 r=6.5 /><circle cx=517 cy=187 r=6.5 /><circle cx=418 cy=429 r=6.5 /><circle cx=442 cy=319 r=6.5 /><circle cx=254 cy=447 r=6.5 /><circle cx=327 cy=457 r=6.5 /><circle cx=395 cy=194 r=6.5 /><circle cx=285 cy=484 r=6.5 /><circle cx=421 cy=143 r=6.5 /><circle cx=345 cy=217 r=6.5 /><circle cx=338 cy=404 r=6.5 /><circle cx=517 cy=120 r=6.5 /><circle cx=270 cy=398 r=6.5 /><circle cx=495 cy=162 r=6.5 /><circle cx=398 cy=326 r=6.5 /><circle cx=386 cy=422 r=6.5 /><circle cx=311 cy=304 r=6.5 /><circle cx=546 cy=134 r=6.5 /><circle cx=439 cy=132 r=6.5 /><circle cx=456 cy=145 r=6.5 /><circle cx=418 cy=375 r=6.5 /><circle cx=263 cy=363 r=6.5 /><circle cx=272 cy=311 r=6.5 /><circle cx=276 cy=471 r=6.5 /><circle cx=453 cy=293 r=6.5 /><circle cx=352 cy=261 r=6.5 /><circle cx=442 cy=236 r=6.5 /><circle cx=311 cy=482 r=6.5 /><circle cx=409 cy=338 r=6.5 /><circle cx=320 cy=297 r=6.5 /><circle cx=321 cy=482 r=6.5 /><circle cx=299 cy=363 r=6.5 /><circle cx=407 cy=230 r=6.5 /><circle cx=530 cy=141 r=6.5 /><circle cx=489 cy=303 r=6.5 /><circle cx=297 cy=446 r=6.5 /><circle cx=368 cy=213 r=6.5 /><circle cx=502 cy=199 r=6.5 /><circle cx=507 cy=208 r=6.5 /><circle cx=387 cy=392 r=6.5 /><circle cx=445 cy=227 r=6.5 /><circle cx=493 cy=91 r=6.5 /><circle cx=511 cy=156 r=6.5 /><circle cx=396 cy=318 r=6.5 /><circle cx=501 cy=164 r=6.5 /><circle cx=445 cy=129 r=6.5 /><circle cx=388 cy=338 r=6.5 /><circle cx=363 cy=473 r=6.5 /><circle cx=294 cy=266 r=6.5 /><circle cx=464 cy=97 r=6.5 /><circle cx=460 cy=210 r=6.5 /><circle cx=391 cy=255 r=6.5 /><circle cx=505 cy=307 r=6.5 /><circle cx=349 cy=284 r=6.5 /><circle cx=511 cy=248 r=6.5 /><circle cx=279 cy=286 r=6.5 /><circle cx=406 cy=235 r=6.5 /><circle cx=547 cy=134 r=6.5 /><circle cx=359 cy=242 r=6.5 /><circle cx=505 cy=155 r=6.5 /><circle cx=420 cy=361 r=6.5 /><circle cx=437 cy=204 r=6.5 /><circle cx=421 cy=157 r=6.5 /><circle cx=524 cy=197 r=6.5 /><circle cx=387 cy=264 r=6.5 /><circle cx=499 cy=168 r=6.5 /><circle cx=439 cy=142 r=6.5 /><circle cx=466 cy=495 r=6.5 /><circle cx=472 cy=181 r=6.5 /><circle cx=437 cy=416 r=6.5 /><circle cx=405 cy=242 r=6.5 /><circle cx=536 cy=116 r=6.5 /><circle cx=376 cy=240 r=6.5 /><circle cx=501 cy=216 r=6.5 /><circle cx=333 cy=330 r=6.5 /><circle cx=456 cy=144 r=6.5 /><circle cx=506 cy=117 r=6.5 /><circle cx=328 cy=233 r=6.5 /><circle cx=397 cy=205 r=6.5 /><circle cx=465 cy=404 r=6.5 /><circle cx=528 cy=227 r=6.5 /><circle cx=274 cy=311 r=6.5 /><circle cx=449 cy=268 r=6.5 /><circle cx=506 cy=198 r=6.5 /><circle cx=374 cy=214 r=6.5 /><circle cx=319 cy=448 r=6.5 /><circle cx=581 cy=75 r=6.5 /><circle cx=295 cy=314 r=6.5 /><circle cx=411 cy=399 r=6.5 /><circle cx=244 cy=343 r=6.5 /><circle cx=419 cy=258 r=6.5 /><circle cx=520 cy=210 r=6.5 /><circle cx=505 cy=195 r=6.5 /><circle cx=455 cy=411 r=6.5 /><circle cx=471 cy=226 r=6.5 /><circle cx=440 cy=260 r=6.5 /><circle cx=486 cy=293 r=6.5 /><circle cx=348 cy=200 r=6.5 /><circle cx=415 cy=380 r=6.5 /><circle cx=565 cy=151 r=6.5 /><circle cx=547 cy=119 r=6.5 /><circle cx=243 cy=435 r=6.5 /><circle cx=247 cy=433 r=6.5 /><circle cx=512 cy=126 r=6.5 /><circle cx=489 cy=331 r=6.5 /><circle cx=302 cy=296 r=6.5 /><circle cx=295 cy=341 r=6.5 /><circle cx=374 cy=390 r=6.5 /><circle cx=518 cy=116 r=6.5 /><circle cx=396 cy=204 r=6.5 /><circle cx=220 cy=387 r=6.5 /><circle cx=469 cy=241 r=6.5 /><circle cx=544 cy=188 r=6.5 /><circle cx=479 cy=218 r=6.5 /><circle cx=532 cy=130 r=6.5 /><circle cx=455 cy=246 r=6.5 /><circle cx=415 cy=168 r=6.5 /><circle cx=207 cy=422 r=6.5 /><circle cx=523 cy=218 r=6.5 /><circle cx=295 cy=467 r=6.5 /><circle cx=266 cy=493 r=6.5 /><circle cx=356 cy=196 r=6.5 /><circle cx=501 cy=355 r=6.5 /><circle cx=407 cy=246 r=6.5 /><circle cx=566 cy=80 r=6.5 /><circle cx=474 cy=137 r=6.5 /><circle cx=362 cy=292 r=6.5 /><circle cx=472 cy=363 r=6.5 /><circle cx=241 cy=378 r=6.5 /><circle cx=517 cy=99 r=6.5 /><circle cx=376 cy=257 r=6.5 /><circle cx=171 cy=462 r=6.5 /><circle cx=358 cy=204 r=6.5 /><circle cx=408 cy=293 r=6.5 /><circle cx=249 cy=394 r=6.5 /><circle cx=489 cy=120 r=6.5 /><circle cx=405 cy=313 r=6.5 /><circle cx=326 cy=430 r=6.5 /><circle cx=539 cy=131 r=6.5 /><circle cx=528 cy=179 r=6.5 /><circle cx=376 cy=192 r=6.5 /><circle cx=458 cy=271 r=6.5 /><circle cx=439 cy=117 r=6.5 /><circle cx=493 cy=87 r=6.5 /><circle cx=454 cy=300 r=6.5 /><circle cx=412 cy=186 r=6.5 /><circle cx=384 cy=248 r=6.5 /><circle cx=417 cy=351 r=6.5 /><circle cx=355 cy=334 r=6.5 /><circle cx=510 cy=250 r=6.5 /><circle cx=217 cy=457 r=6.5 /><circle cx=482 cy=415 r=6.5 /><circle cx=364 cy=299 r=6.5 /><circle cx=363 cy=184 r=6.5 /><circle cx=414 cy=217 r=6.5 /><circle cx=497 cy=303 r=6.5 /><circle cx=536 cy=207 r=6.5 /><circle cx=309 cy=296 r=6.5 /><circle cx=412 cy=307 r=6.5 /><circle cx=394 cy=329 r=6.5 /><circle cx=447 cy=162 r=6.5 /><circle cx=199 cy=478 r=6.5 /><circle cx=386 cy=185 r=6.5 /><circle cx=507 cy=264 r=6.5 /><circle cx=427 cy=296 r=6.5 /><circle cx=545 cy=155 r=6.5 /><circle cx=467 cy=150 r=6.5 /><circle cx=414 cy=266 r=6.5 /><circle cx=451 cy=283 r=6.5 /><circle cx=500 cy=330 r=6.5 /><circle cx=409 cy=159 r=6.5 /><circle cx=363 cy=177 r=6.5 /><circle cx=207 cy=423 r=6.5 /><circle cx=338 cy=296 r=6.5 /><circle cx=352 cy=419 r=6.5 /><circle cx=402 cy=339 r=6.5 /><circle cx=391 cy=295 r=6.5 /><circle cx=333 cy=472 r=6.5 /><circle cx=405 cy=355 r=6.5 /><circle cx=416 cy=388 r=6.5 /><circle cx=399 cy=177 r=6.5 /><circle cx=400 cy=316 r=6.5 /><circle cx=420 cy=494 r=6.5 /><circle cx=564 cy=88 r=6.5 /><circle cx=352 cy=325 r=6.5 /><circle cx=480 cy=136 r=6.5 /><circle cx=346 cy=236 r=6.5 /><circle cx=255 cy=329 r=6.5 /><circle cx=432 cy=287 r=6.5 /><circle cx=505 cy=192 r=6.5 /><circle cx=392 cy=224 r=6.5 /><circle cx=360 cy=480 r=6.5 /><circle cx=271 cy=317 r=6.5 /><circle cx=568 cy=101 r=6.5 /><circle cx=552 cy=172 r=6.5 /><circle cx=557 cy=105 r=6.5 /><circle cx=455 cy=283 r=6.5 /><circle cx=332 cy=464 r=6.5 /><circle cx=325 cy=240 r=6.5 /><circle cx=407 cy=303 r=6.5 /><circle cx=364 cy=234 r=6.5 /><circle cx=452 cy=166 r=6.5 /><circle cx=442 cy=455 r=6.5 /><circle cx=454 cy=410 r=6.5 /><circle cx=566 cy=132 r=6.5 /><circle cx=488 cy=177 r=6.5 /><circle cx=368 cy=276 r=6.5 /><circle cx=366 cy=418 r=6.5 /><circle cx=418 cy=280 r=6.5 /><circle cx=524 cy=224 r=6.5 /><circle cx=347 cy=204 r=6.5 /><circle cx=295 cy=448 r=6.5 /><circle cx=238 cy=453 r=6.5 /><circle cx=278 cy=320 r=6.5 /><circle cx=485 cy=300 r=6.5 /><circle cx=424 cy=365 r=6.5 /><circle cx=295 cy=276 r=6.5 /><circle cx=250 cy=444 r=6.5 /><circle cx=360 cy=268 r=6.5 /><circle cx=442 cy=415 r=6.5 /><circle cx=488 cy=176 r=6.5 /><circle cx=472 cy=260 r=6.5 /><circle cx=288 cy=428 r=6.5 /><circle cx=437 cy=514 r=6.5 /><circle cx=230 cy=357 r=6.5 /><circle cx=388 cy=165 r=6.5 /><circle cx=561 cy=76 r=6.5 /><circle cx=354 cy=442 r=6.5 /><circle cx=285 cy=374 r=6.5 /><circle cx=400 cy=159 r=6.5 /><circle cx=477 cy=311 r=6.5 /><circle cx=371 cy=193 r=6.5 /><circle cx=499 cy=311 r=6.5 /><circle cx=519 cy=263 r=6.5 /><circle cx=472 cy=215 r=6.5 /><circle cx=345 cy=245 r=6.5 /><circle cx=240 cy=358 r=6.5 /><circle cx=274 cy=438 r=6.5 /><circle cx=564 cy=135 r=6.5 /><circle cx=345 cy=198 r=6.5 /><circle cx=529 cy=106 r=6.5 /><circle cx=554 cy=77 r=6.5 /><circle cx=419 cy=180 r=6.5 /><circle cx=520 cy=212 r=6.5 /><circle cx=459 cy=130 r=6.5 /><circle cx=554 cy=168 r=6.5 /><circle cx=516 cy=244 r=6.5 /><circle cx=492 cy=118 r=6.5 /><circle cx=363 cy=276 r=6.5 /><circle cx=373 cy=385 r=6.5 /><circle cx=385 cy=272 r=6.5 /><circle cx=488 cy=192 r=6.5 /><circle cx=491 cy=194 r=6.5 /><circle cx=396 cy=284 r=6.5 /><circle cx=431 cy=412 r=6.5 /><circle cx=491 cy=228 r=6.5 /><circle cx=563 cy=144 r=6.5 /><circle cx=478 cy=380 r=6.5 /><circle cx=478 cy=176 r=6.5 /><circle cx=350 cy=231 r=6.5 /><circle cx=463 cy=112 r=6.5 /><circle cx=261 cy=476 r=6.5 /><circle cx=435 cy=189 r=6.5 /><circle cx=516 cy=108 r=6.5 /><circle cx=454 cy=146 r=6.5 /><circle cx=495 cy=317 r=6.5 /><circle cx=237 cy=390 r=6.5 /><circle cx=336 cy=334 r=6.5 /><circle cx=495 cy=250 r=6.5 /><circle cx=250 cy=411 r=6.5 /><circle cx=512 cy=186 r=6.5 /><circle cx=466 cy=353 r=6.5 /><circle cx=469 cy=303 r=6.5 /><circle cx=531 cy=190 r=6.5 /><circle cx=424 cy=252 r=6.5 /><circle cx=328 cy=242 r=6.5 /><circle cx=389 cy=281 r=6.5 /><circle cx=355 cy=392 r=6.5 /><circle cx=492 cy=396 r=6.5 /><circle cx=414 cy=277 r=6.5 /><circle cx=363 cy=246 r=6.5 /><circle cx=236 cy=444 r=6.5 /><circle cx=421 cy=151 r=6.5 /><circle cx=321 cy=377 r=6.5 /><circle cx=346 cy=376 r=6.5 /><circle cx=432 cy=242 r=6.5 /><circle cx=493 cy=292 r=6.5 /><circle cx=362 cy=264 r=6.5 /><circle cx=518 cy=177 r=6.5 /><circle cx=342 cy=243 r=6.5 /><circle cx=425 cy=294 r=6.5 /><circle cx=417 cy=479 r=6.5 /><circle cx=270 cy=428 r=6.5 /><circle cx=505 cy=307 r=6.5 /><circle cx=335 cy=250 r=6.5 /><circle cx=538 cy=82 r=6.5 /><circle cx=502 cy=215 r=6.5 /><circle cx=518 cy=199 r=6.5 /><circle cx=483 cy=245 r=6.5 /><circle cx=342 cy=202 r=6.5 /><circle cx=393 cy=247 r=6.5 /><circle cx=328 cy=376 r=6.5 /><circle cx=509 cy=289 r=6.5 /><circle cx=203 cy=426 r=6.5 /><circle cx=454 cy=233 r=6.5 /><circle cx=509 cy=286 r=6.5 /><circle cx=257 cy=386 r=6.5 /><circle cx=320 cy=348 r=6.5 /><circle cx=496 cy=103 r=6.5 /><circle cx=434 cy=221 r=6.5 /><circle cx=379 cy=278 r=6.5 /><circle cx=453 cy=394 r=6.5 /><circle cx=434 cy=261 r=6.5 /><circle cx=562 cy=111 r=6.5 /><circle cx=504 cy=135 r=6.5 /><circle cx=400 cy=275 r=6.5 /><circle cx=378 cy=246 r=6.5 /><circle cx=324 cy=367 r=6.5 /><circle cx=470 cy=129 r=6.5 /><circle cx=449 cy=142 r=6.5 /><circle cx=480 cy=222 r=6.5 /><circle cx=451 cy=386 r=6.5 /><circle cx=469 cy=435 r=6.5 /><circle cx=389 cy=165 r=6.5 /><circle cx=477 cy=232 r=6.5 /><circle cx=476 cy=373 r=6.5 /><circle cx=276 cy=455 r=6.5 /><circle cx=384 cy=260 r=6.5 /><circle cx=189 cy=506 r=6.5 /><circle cx=345 cy=181 r=6.5 /><circle cx=576 cy=82 r=6.5 /><circle cx=534 cy=204 r=6.5 /><circle cx=460 cy=421 r=6.5 /><circle cx=426 cy=326 r=6.5 /><circle cx=463 cy=241 r=6.5 /><circle cx=354 cy=187 r=6.5 /><circle cx=313 cy=305 r=6.5 /><circle cx=505 cy=179 r=6.5 /><circle cx=544 cy=112 r=6.5 /><circle cx=504 cy=183 r=6.5 /><circle cx=343 cy=210 r=6.5 /><circle cx=199 cy=434 r=6.5 /><circle cx=292 cy=385 r=6.5 /><circle cx=265 cy=311 r=6.5 /><circle cx=511 cy=128 r=6.5 /><circle cx=467 cy=379 r=6.5 /><circle cx=360 cy=460 r=6.5 /><circle cx=485 cy=143 r=6.5 /><circle cx=528 cy=207 r=6.5 /><circle cx=489 cy=143 r=6.5 /><circle cx=550 cy=91 r=6.5 /><circle cx=497 cy=132 r=6.5 /><circle cx=413 cy=401 r=6.5 /><circle cx=397 cy=253 r=6.5 /><circle cx=300 cy=295 r=6.5 /><circle cx=506 cy=302 r=6.5 /><circle cx=411 cy=138 r=6.5 /><circle cx=375 cy=179 r=6.5 /><circle cx=368 cy=178 r=6.5 /><circle cx=460 cy=300 r=6.5 /><circle cx=436 cy=180 r=6.5 /><circle cx=449 cy=234 r=6.5 /><circle cx=462 cy=182 r=6.5 /><circle cx=535 cy=136 r=6.5 /><circle cx=301 cy=304 r=6.5 /><circle cx=575 cy=97 r=6.5 /><circle cx=325 cy=241 r=6.5 /><circle cx=358 cy=203 r=6.5 /><circle cx=331 cy=432 r=6.5 /><circle cx=369 cy=478 r=6.5 /><circle cx=452 cy=411 r=6.5 /><circle cx=389 cy=316 r=6.5 /><circle cx=485 cy=274 r=6.5 /><circle cx=347 cy=198 r=6.5 /><circle cx=284 cy=355 r=6.5 /><circle cx=462 cy=301 r=6.5 /><circle cx=341 cy=255 r=6.5 /><circle cx=521 cy=120 r=6.5 /><circle cx=404 cy=209 r=6.5 /><circle cx=392 cy=374 r=6.5 /><circle cx=332 cy=224 r=6.5 /><circle cx=328 cy=415 r=6.5 /><circle cx=278 cy=408 r=6.5 /><circle cx=389 cy=504 r=6.5 /><circle cx=505 cy=251 r=6.5 /><circle cx=303 cy=341 r=6.5 /><circle cx=403 cy=277 r=6.5 /><circle cx=282 cy=409 r=6.5 /><circle cx=512 cy=109 r=6.5 /><circle cx=556 cy=126 r=6.5 /><circle cx=379 cy=355 r=6.5 /><circle cx=512 cy=207 r=6.5 /><circle cx=409 cy=479 r=6.5 /><circle cx=338 cy=206 r=6.5 /><circle cx=521 cy=244 r=6.5 /><circle cx=341 cy=229 r=6.5 /><circle cx=432 cy=346 r=6.5 /><circle cx=279 cy=312 r=6.5 /><circle cx=452 cy=372 r=6.5 /><circle cx=327 cy=376 r=6.5 /><circle cx=467 cy=289 r=6.5 /><circle cx=404 cy=194 r=6.5 /><circle cx=493 cy=112 r=6.5 /><circle cx=375 cy=214 r=6.5 /><circle cx=549 cy=81 r=6.5 /><circle cx=465 cy=105 r=6.5 /><circle cx=429 cy=222 r=6.5 /><circle cx=213 cy=422 r=6.5 /><circle cx=474 cy=268 r=6.5 /><circle cx=367 cy=316 r=6.5 /><circle cx=327 cy=312 r=6.5 /><circle cx=473 cy=286 r=6.5 /><circle cx=436 cy=263 r=6.5 /><circle cx=278 cy=299 r=6.5 /><circle cx=481 cy=140 r=6.5 /><circle cx=453 cy=156 r=6.5 /><circle cx=530 cy=171 r=6.5 /><circle cx=470 cy=142 r=6.5 /><circle cx=504 cy=239 r=6.5 /><circle cx=397 cy=388 r=6.5 /><circle cx=275 cy=287 r=6.5 /><circle cx=489 cy=323 r=6.5 /><circle cx=415 cy=405 r=6.5 /><circle cx=232 cy=368 r=6.5 /><circle cx=499 cy=92 r=6.5 /><circle cx=451 cy=490 r=6.5 /><circle cx=466 cy=220 r=6.5 /><circle cx=361 cy=280 r=6.5 /><circle cx=271 cy=431 r=6.5 /><circle cx=510 cy=213 r=6.5 /><circle cx=281 cy=398 r=6.5 /><circle cx=510 cy=130 r=6.5 /><circle cx=373 cy=238 r=6.5 /><circle cx=250 cy=452 r=6.5 /><circle cx=371 cy=243 r=6.5 /><circle cx=288 cy=298 r=6.5 /><circle cx=523 cy=214 r=6.5 /><circle cx=305 cy=290 r=6.5 /><circle cx=257 cy=435 r=6.5 /><circle cx=334 cy=374 r=6.5 /><circle cx=518 cy=198 r=6.5 /><circle cx=376 cy=160 r=6.5 /><circle cx=365 cy=192 r=6.5 /><circle cx=449 cy=223 r=6.5 /><circle cx=457 cy=175 r=6.5 /><circle cx=293 cy=267 r=6.5 /><circle cx=468 cy=281 r=6.5 /><circle cx=390 cy=370 r=6.5 /><circle cx=233 cy=364 r=6.5 /><circle cx=473 cy=152 r=6.5 /><circle cx=414 cy=468 r=6.5 /><circle cx=508 cy=295 r=6.5 /><circle cx=433 cy=227 r=6.5 /><circle cx=240 cy=375 r=6.5 /><circle cx=418 cy=324 r=6.5 /><circle cx=434 cy=208 r=6.5 /><circle cx=385 cy=150 r=6.5 /><circle cx=379 cy=176 r=6.5 /><circle cx=358 cy=208 r=6.5 /><circle cx=438 cy=137 r=6.5 /><circle cx=299 cy=347 r=6.5 /><circle cx=453 cy=111 r=6.5 /><circle cx=466 cy=153 r=6.5 /><circle cx=273 cy=329 r=6.5 /><circle cx=377 cy=220 r=6.5 /><circle cx=370 cy=212 r=6.5 /><circle cx=420 cy=135 r=6.5 /><circle cx=419 cy=211 r=6.5 /><circle cx=298 cy=294 r=6.5 /><circle cx=507 cy=197 r=6.5 /><circle cx=267 cy=360 r=6.5 /><circle cx=361 cy=208 r=6.5 /><circle cx=491 cy=96 r=6.5 /><circle cx=556 cy=84 r=6.5 /><circle cx=406 cy=284 r=6.5 /><circle cx=305 cy=480 r=6.5 /><circle cx=531 cy=112 r=6.5 /><circle cx=440 cy=191 r=6.5 /><circle cx=452 cy=333 r=6.5 /><circle cx=309 cy=456 r=6.5 /><circle cx=365 cy=486 r=6.5 /><circle cx=474 cy=149 r=6.5 /><circle cx=369 cy=340 r=6.5 /><circle cx=422 cy=337 r=6.5 /><circle cx=452 cy=332 r=6.5 /><circle cx=554 cy=141 r=6.5 /><circle cx=576 cy=78 r=6.5 /><circle cx=369 cy=200 r=6.5 /><circle cx=474 cy=236 r=6.5 /><circle cx=375 cy=233 r=6.5 /><circle cx=469 cy=357 r=6.5 /><circle cx=167 cy=506 r=6.5 /><circle cx=546 cy=109 r=6.5 /><circle cx=432 cy=270 r=6.5 /><circle cx=413 cy=383 r=6.5 /><circle cx=486 cy=260 r=6.5 /><circle cx=390 cy=382 r=6.5 /><circle cx=426 cy=312 r=6.5 /><circle cx=334 cy=255 r=6.5 /><circle cx=369 cy=254 r=6.5 /><circle cx=377 cy=332 r=6.5 /><circle cx=468 cy=244 r=6.5 /><circle cx=509 cy=220 r=6.5 /><circle cx=416 cy=163 r=6.5 /><circle cx=566 cy=87 r=6.5 /><circle cx=420 cy=131 r=6.5 /><circle cx=533 cy=158 r=6.5 /><circle cx=551 cy=96 r=6.5 /><circle cx=486 cy=309 r=6.5 /><circle cx=331 cy=344 r=6.5 /><circle cx=360 cy=271 r=6.5 /><circle cx=451 cy=198 r=6.5 /><circle cx=349 cy=257 r=6.5 /><circle cx=438 cy=382 r=6.5 /><circle cx=406 cy=193 r=6.5 /><circle cx=393 cy=259 r=6.5 /><circle cx=537 cy=135 r=6.5 /><circle cx=533 cy=147 r=6.5 /><circle cx=344 cy=284 r=6.5 /><circle cx=491 cy=132 r=6.5 /><circle cx=288 cy=404 r=6.5 /><circle cx=418 cy=135 r=6.5 /><circle cx=248 cy=334 r=6.5 /><circle cx=255 cy=404 r=6.5 /><circle cx=453 cy=120 r=6.5 /><circle cx=557 cy=158 r=6.5 /><circle cx=277 cy=459 r=6.5 /><circle cx=281 cy=333 r=6.5 /><circle cx=510 cy=296 r=6.5 /><circle cx=466 cy=384 r=6.5 /><circle cx=526 cy=185 r=6.5 /><circle cx=289 cy=408 r=6.5 /><circle cx=521 cy=172 r=6.5 /><circle cx=412 cy=322 r=6.5 /><circle cx=426 cy=317 r=6.5 /><circle cx=499 cy=149 r=6.5 /><circle cx=532 cy=214 r=6.5 /><circle cx=425 cy=420 r=6.5 /><circle cx=514 cy=117 r=6.5 /><circle cx=429 cy=431 r=6.5 /><circle cx=281 cy=514 r=6.5 /><circle cx=417 cy=192 r=6.5 /><circle cx=219 cy=405 r=6.5 /><circle cx=522 cy=137 r=6.5 /><circle cx=507 cy=260 r=6.5 /><circle cx=360 cy=191 r=6.5 /><circle cx=559 cy=124 r=6.5 /><circle cx=456 cy=112 r=6.5 /><circle cx=359 cy=464 r=6.5 /><circle cx=462 cy=184 r=6.5 /><circle cx=525 cy=217 r=6.5 /><circle cx=219 cy=451 r=6.5 /><circle cx=495 cy=247 r=6.5 /><circle cx=412 cy=374 r=6.5 /><circle cx=470 cy=310 r=6.5 /><circle cx=407 cy=176 r=6.5 /><circle cx=386 cy=178 r=6.5 /><circle cx=375 cy=312 r=6.5 /><circle cx=520 cy=84 r=6.5 /><circle cx=556 cy=164 r=6.5 /><circle cx=530 cy=218 r=6.5 /><circle cx=335 cy=195 r=6.5 /><circle cx=462 cy=218 r=6.5 /><circle cx=495 cy=381 r=6.5 /><circle cx=459 cy=385 r=6.5 /><circle cx=402 cy=171 r=6.5 /><circle cx=348 cy=372 r=6.5 /><circle cx=490 cy=186 r=6.5 /><circle cx=404 cy=474 r=6.5 /><circle cx=444 cy=122 r=6.5 /><circle cx=299 cy=306 r=6.5 /><circle cx=516 cy=251 r=6.5 /><circle cx=359 cy=429 r=6.5 /><circle cx=525 cy=189 r=6.5 /><circle cx=380 cy=286 r=6.5 /><circle cx=503 cy=315 r=6.5 /><circle cx=352 cy=181 r=6.5 /><circle cx=481 cy=243 r=6.5 /><circle cx=273 cy=505 r=6.5 /><circle cx=502 cy=186 r=6.5 /><circle cx=411 cy=145 r=6.5 /><circle cx=385 cy=165 r=6.5 /><circle cx=410 cy=205 r=6.5 /><circle cx=489 cy=295 r=6.5 /><circle cx=414 cy=205 r=6.5 /><circle cx=364 cy=417 r=6.5 /><circle cx=316 cy=307 r=6.5 /><circle cx=494 cy=99 r=6.5 /><circle cx=427 cy=208 r=6.5 /><circle cx=503 cy=147 r=6.5 /><circle cx=472 cy=206 r=6.5 /><circle cx=567 cy=93 r=6.5 /><circle cx=472 cy=222 r=6.5 /><circle cx=370 cy=188 r=6.5 /><circle cx=490 cy=188 r=6.5 /><circle cx=345 cy=411 r=6.5 /><circle cx=258 cy=448 r=6.5 /><circle cx=396 cy=485 r=6.5 /><circle cx=488 cy=177 r=6.5 /><circle cx=491 cy=238 r=6.5 /><circle cx=477 cy=288 r=6.5 /><circle cx=266 cy=299 r=6.5 /><circle cx=451 cy=212 r=6.5 /><circle cx=357 cy=335 r=6.5 /><circle cx=349 cy=241 r=6.5 /><circle cx=441 cy=224 r=6.5 /><circle cx=365 cy=231 r=6.5 /><circle cx=331 cy=433 r=6.5 /><circle cx=393 cy=372 r=6.5 /><circle cx=538 cy=180 r=6.5 /><circle cx=457 cy=202 r=6.5 /><circle cx=410 cy=201 r=6.5 /><circle cx=244 cy=334 r=6.5 /><circle cx=480 cy=175 r=6.5 /><circle cx=380 cy=328 r=6.5 /><circle cx=490 cy=363 r=6.5 /><circle cx=360 cy=295 r=6.5 /><circle cx=368 cy=223 r=6.5 /><circle cx=467 cy=226 r=6.5 /><circle cx=272 cy=453 r=6.5 /><circle cx=329 cy=344 r=6.5 /><circle cx=345 cy=315 r=6.5 /><circle cx=392 cy=249 r=6.5 /><circle cx=323 cy=360 r=6.5 /><circle cx=405 cy=366 r=6.5 /><circle cx=538 cy=95 r=6.5 /><circle cx=527 cy=152 r=6.5 /><circle cx=414 cy=400 r=6.5 /><circle cx=425 cy=231 r=6.5 /><circle cx=322 cy=330 r=6.5 /><circle cx=357 cy=246 r=6.5 /><circle cx=565 cy=86 r=6.5 /><circle cx=452 cy=226 r=6.5 /><circle cx=286 cy=498 r=6.5 /><circle cx=350 cy=381 r=6.5 /><circle cx=455 cy=421 r=6.5 /><circle cx=425 cy=197 r=6.5 /><circle cx=277 cy=306 r=6.5 /><circle cx=530 cy=197 r=6.5 /><circle cx=418 cy=380 r=6.5 /><circle cx=370 cy=210 r=6.5 /><circle cx=347 cy=288 r=6.5 /><circle cx=574 cy=75 r=6.5 /><circle cx=395 cy=391 r=6.5 /><circle cx=367 cy=197 r=6.5 /><circle cx=221 cy=428 r=6.5 /><circle cx=249 cy=385 r=6.5 /><circle cx=324 cy=340 r=6.5 /><circle cx=492 cy=321 r=6.5 /><circle cx=537 cy=196 r=6.5 /><circle cx=544 cy=126 r=6.5 /><circle cx=363 cy=329 r=6.5 /><circle cx=343 cy=292 r=6.5 /><circle cx=354 cy=216 r=6.5 /><circle cx=308 cy=299 r=6.5 /><circle cx=428 cy=344 r=6.5 /><circle cx=433 cy=394 r=6.5 /><circle cx=488 cy=135 r=6.5 /><circle cx=327 cy=306 r=6.5 /><circle cx=322 cy=433 r=6.5 /><circle cx=551 cy=178 r=6.5 /><circle cx=422 cy=230 r=6.5 /><circle cx=192 cy=505 r=6.5 /><circle cx=529 cy=138 r=6.5 /><circle cx=387 cy=322 r=6.5 /><circle cx=477 cy=190 r=6.5 /><circle cx=556 cy=120 r=6.5 /><circle cx=459 cy=255 r=6.5 /><circle cx=310 cy=248 r=6.5 /><circle cx=470 cy=451 r=6.5 /><circle cx=500 cy=244 r=6.5 /><circle cx=363 cy=413 r=6.5 /><circle cx=407 cy=211 r=6.5 /><circle cx=334 cy=416 r=6.5 /><circle cx=306 cy=324 r=6.5 /><circle cx=383 cy=450 r=6.5 /><circle cx=516 cy=165 r=6.5 /><circle cx=398 cy=140 r=6.5 /><circle cx=466 cy=331 r=6.5 /><circle cx=460 cy=277 r=6.5 /><circle cx=245 cy=369 r=6.5 /><circle cx=294 cy=424 r=6.5 /><circle cx=385 cy=427 r=6.5 /><circle cx=368 cy=395 r=6.5 /><circle cx=383 cy=238 r=6.5 /><circle cx=474 cy=253 r=6.5 /><circle cx=292 cy=269 r=6.5 /><circle cx=335 cy=320 r=6.5 /><circle cx=387 cy=201 r=6.5 /><circle cx=199 cy=497 r=6.5 /><circle cx=426 cy=126 r=6.5 /><circle cx=439 cy=456 r=6.5 /><circle cx=452 cy=289 r=6.5 /><circle cx=242 cy=379 r=6.5 /><circle cx=394 cy=178 r=6.5 /><circle cx=409 cy=255 r=6.5 /><circle cx=365 cy=402 r=6.5 /><circle cx=285 cy=419 r=6.5 /><circle cx=265 cy=510 r=6.5 /><circle cx=465 cy=299 r=6.5 /><circle cx=272 cy=327 r=6.5 /><circle cx=355 cy=321 r=6.5 /><circle cx=368 cy=175 r=6.5 /><circle cx=476 cy=395 r=6.5 /><circle cx=324 cy=388 r=6.5 /><circle cx=447 cy=170 r=6.5 /><circle cx=448 cy=316 r=6.5 /><circle cx=392 cy=259 r=6.5 /><circle cx=484 cy=100 r=6.5 /><circle cx=303 cy=443 r=6.5 /><circle cx=355 cy=348 r=6.5 /><circle cx=554 cy=144 r=6.5 /><circle cx=372 cy=265 r=6.5 /><circle cx=329 cy=246 r=6.5 /><circle cx=518 cy=155 r=6.5 /><circle cx=405 cy=309 r=6.5 /><circle cx=537 cy=153 r=6.5 /><circle cx=333 cy=389 r=6.5 /><circle cx=364 cy=190 r=6.5 /><circle cx=372 cy=462 r=6.5 /><circle cx=520 cy=111 r=6.5 /><circle cx=357 cy=234 r=6.5 /><circle cx=469 cy=261 r=6.5 /><circle cx=464 cy=144 r=6.5 /><circle cx=399 cy=459 r=6.5 /><circle cx=371 cy=468 r=6.5 /><circle cx=426 cy=472 r=6.5 /><circle cx=413 cy=224 r=6.5 /><circle cx=559 cy=114 r=6.5 /><circle cx=510 cy=142 r=6.5 /><circle cx=488 cy=319 r=6.5 /><circle cx=428 cy=411 r=6.5 /><circle cx=494 cy=191 r=6.5 /><circle cx=392 cy=265 r=6.5 /><circle cx=330 cy=210 r=6.5 /><circle cx=447 cy=249 r=6.5 /><circle cx=528 cy=90 r=6.5 /><circle cx=505 cy=159 r=6.5 /><circle cx=250 cy=408 r=6.5 /><circle cx=537 cy=79 r=6.5 /><circle cx=457 cy=417 r=6.5 /><circle cx=506 cy=313 r=6.5 /><circle cx=534 cy=138 r=6.5 /><circle cx=445 cy=445 r=6.5 /><circle cx=250 cy=416 r=6.5 /><circle cx=460 cy=184 r=6.5 /><circle cx=416 cy=215 r=6.5 /><circle cx=403 cy=360 r=6.5 /><circle cx=345 cy=337 r=6.5 /><circle cx=448 cy=355 r=6.5 /><circle cx=344 cy=229 r=6.5 /><circle cx=369 cy=177 r=6.5 /><circle cx=464 cy=488 r=6.5 /><circle cx=449 cy=277 r=6.5 /><circle cx=475 cy=119 r=6.5 /><circle cx=430 cy=328 r=6.5 /><circle cx=504 cy=155 r=6.5 /><circle cx=414 cy=416 r=6.5 /><circle cx=560 cy=103 r=6.5 /><circle cx=327 cy=453 r=6.5 /><circle cx=459 cy=185 r=6.5 /><circle cx=402 cy=510 r=6.5 /><circle cx=296 cy=306 r=6.5 /><circle cx=388 cy=269 r=6.5 /><circle cx=228 cy=361 r=6.5 /><circle cx=432 cy=328 r=6.5 /><circle cx=426 cy=344 r=6.5 /><circle cx=543 cy=168 r=6.5 /><circle cx=398 cy=489 r=6.5 /><circle cx=459 cy=134 r=6.5 /><circle cx=215 cy=328 r=6.5 /><circle cx=466 cy=161 r=6.5 /><circle cx=448 cy=279 r=6.5 /><circle cx=568 cy=134 r=6.5 /><circle cx=396 cy=151 r=6.5 /><circle cx=400 cy=163 r=6.5 /><circle cx=265 cy=332 r=6.5 /><circle cx=520 cy=164 r=6.5 /><circle cx=277 cy=305 r=6.5 /><circle cx=507 cy=116 r=6.5 /><circle cx=395 cy=147 r=6.5 /><circle cx=416 cy=131 r=6.5 /><circle cx=214 cy=369 r=6.5 /><circle cx=263 cy=325 r=6.5 /><circle cx=491 cy=146 r=6.5 /><circle cx=383 cy=428 r=6.5 /><circle cx=366 cy=403 r=6.5 /><circle cx=491 cy=311 r=6.5 /><circle cx=423 cy=359 r=6.5 /><circle cx=491 cy=362 r=6.5 /><circle cx=561 cy=128 r=6.5 /><circle cx=341 cy=260 r=6.5 /><circle cx=389 cy=302 r=6.5 /><circle cx=462 cy=127 r=6.5 /><circle cx=556 cy=103 r=6.5 /><circle cx=415 cy=133 r=6.5 /><circle cx=530 cy=185 r=6.5 /><circle cx=405 cy=236 r=6.5 /><circle cx=324 cy=405 r=6.5 /><circle cx=315 cy=239 r=6.5 /><circle cx=416 cy=456 r=6.5 /><circle cx=424 cy=131 r=6.5 /><circle cx=308 cy=414 r=6.5 /><circle cx=434 cy=131 r=6.5 /><circle cx=442 cy=272 r=6.5 /><circle cx=397 cy=228 r=6.5 /><circle cx=247 cy=360 r=6.5 /><circle cx=574 cy=126 r=6.5 /><circle cx=382 cy=400 r=6.5 /><circle cx=560 cy=155 r=6.5 /><circle cx=274 cy=299 r=6.5 /><circle cx=565 cy=80 r=6.5 /><circle cx=268 cy=492 r=6.5 /><circle cx=470 cy=247 r=6.5 /><circle cx=484 cy=177 r=6.5 /><circle cx=522 cy=235 r=6.5 /><circle cx=245 cy=483 r=6.5 /><circle cx=314 cy=467 r=6.5 /><circle cx=344 cy=208 r=6.5 /><circle cx=384 cy=245 r=6.5 /><circle cx=231 cy=376 r=6.5 /><circle cx=335 cy=261 r=6.5 /><circle cx=400 cy=232 r=6.5 /><circle cx=328 cy=327 r=6.5 /><circle cx=538 cy=179 r=6.5 /><circle cx=579 cy=76 r=6.5 /><circle cx=354 cy=258 r=6.5 /><circle cx=423 cy=143 r=6.5 /><circle cx=546 cy=103 r=6.5 /><circle cx=480 cy=279 r=6.5 /><circle cx=379 cy=289 r=6.5 /><circle cx=406 cy=241 r=6.5 /><circle cx=190 cy=450 r=6.5 /><circle cx=438 cy=308 r=6.5 /><circle cx=341 cy=277 r=6.5 /><circle cx=470 cy=406 r=6.5 /><circle cx=469 cy=248 r=6.5 /><circle cx=483 cy=98 r=6.5 /><circle cx=529 cy=178 r=6.5 /><circle cx=301 cy=380 r=6.5 /><circle cx=370 cy=338 r=6.5 /><circle cx=371 cy=190 r=6.5 /><circle cx=260 cy=418 r=6.5 /><circle cx=434 cy=188 r=6.5 /><circle cx=486 cy=346 r=6.5 /><circle cx=508 cy=94 r=6.5 /><circle cx=372 cy=388 r=6.5 /><circle cx=501 cy=178 r=6.5 /><circle cx=397 cy=365 r=6.5 /><circle cx=495 cy=153 r=6.5 /><circle cx=506 cy=286 r=6.5 /><circle cx=365 cy=208 r=6.5 /><circle cx=408 cy=308 r=6.5 /><circle cx=313 cy=369 r=6.5 /><circle cx=408 cy=333 r=6.5 /><circle cx=501 cy=235 r=6.5 /><circle cx=421 cy=162 r=6.5 /><circle cx=337 cy=377 r=6.5 /><circle cx=392 cy=285 r=6.5 /><circle cx=381 cy=405 r=6.5 /><circle cx=395 cy=498 r=6.5 /><circle cx=425 cy=202 r=6.5 /><circle cx=315 cy=346 r=6.5 /><circle cx=475 cy=170 r=6.5 /><circle cx=512 cy=98 r=6.5 /><circle cx=561 cy=159 r=6.5 /><circle cx=403 cy=485 r=6.5 /><circle cx=328 cy=322 r=6.5 /><circle cx=353 cy=299 r=6.5 /><circle cx=230 cy=406 r=6.5 /><circle cx=493 cy=133 r=6.5 /><circle cx=486 cy=124 r=6.5 /><circle cx=306 cy=365 r=6.5 /><circle cx=408 cy=309 r=6.5 /><circle cx=444 cy=384 r=6.5 /><circle cx=483 cy=363 r=6.5 /><circle cx=516 cy=144 r=6.5 /><circle cx=347 cy=248 r=6.5 /><circle cx=521 cy=223 r=6.5 /><circle cx=503 cy=162 r=6.5 /><circle cx=452 cy=478 r=6.5 /><circle cx=440 cy=331 r=6.5 /><circle cx=550 cy=77 r=6.5 /><circle cx=244 cy=344 r=6.5 /><circle cx=376 cy=338 r=6.5 /><circle cx=292 cy=437 r=6.5 /><circle cx=448 cy=352 r=6.5 /><circle cx=323 cy=412 r=6.5 /><circle cx=455 cy=309 r=6.5 /><circle cx=520 cy=165 r=6.5 /><circle cx=530 cy=127 r=6.5 /><circle cx=420 cy=442 r=6.5 /><circle cx=565 cy=79 r=6.5 /><circle cx=327 cy=392 r=6.5 /><circle cx=440 cy=251 r=6.5 /><circle cx=225 cy=450 r=6.5 /><circle cx=465 cy=301 r=6.5 /><circle cx=370 cy=361 r=6.5 /><circle cx=439 cy=127 r=6.5 /><circle cx=444 cy=197 r=6.5 /><circle cx=477 cy=94 r=6.5 /><circle cx=265 cy=395 r=6.5 /><circle cx=330 cy=396 r=6.5 /><circle cx=212 cy=473 r=6.5 /><circle cx=450 cy=164 r=6.5 /><circle cx=213 cy=419 r=6.5 /><circle cx=477 cy=269 r=6.5 /><circle cx=505 cy=134 r=6.5 /><circle cx=536 cy=124 r=6.5 /><circle cx=537 cy=183 r=6.5 /><circle cx=495 cy=246 r=6.5 /><circle cx=527 cy=222 r=6.5 /><circle cx=482 cy=225 r=6.5 /><circle cx=365 cy=355 r=6.5 /><circle cx=427 cy=461 r=6.5 /><circle cx=452 cy=447 r=6.5 /><circle cx=427 cy=183 r=6.5 /><circle cx=344 cy=274 r=6.5 /><circle cx=498 cy=352 r=6.5 /><circle cx=316 cy=510 r=6.5 /><circle cx=331 cy=216 r=6.5 /><circle cx=487 cy=152 r=6.5 /><circle cx=457 cy=109 r=6.5 /><circle cx=481 cy=193 r=6.5 /><circle cx=304 cy=385 r=6.5 /><circle cx=452 cy=139 r=6.5 /><circle cx=350 cy=195 r=6.5 /><circle cx=495 cy=87 r=6.5 /><circle cx=381 cy=341 r=6.5 /><circle cx=266 cy=389 r=6.5 /><circle cx=498 cy=277 r=6.5 /><circle cx=301 cy=319 r=6.5 /><circle cx=338 cy=222 r=6.5 /><circle cx=539 cy=142 r=6.5 /><circle cx=329 cy=290 r=6.5 /><circle cx=473 cy=328 r=6.5 /><circle cx=281 cy=507 r=6.5 /><circle cx=392 cy=285 r=6.5 /><circle cx=445 cy=189 r=6.5 /><circle cx=455 cy=126 r=6.5 /><circle cx=417 cy=236 r=6.5 /><circle cx=535 cy=120 r=6.5 /><circle cx=400 cy=386 r=6.5 /><circle cx=311 cy=336 r=6.5 /><circle cx=346 cy=299 r=6.5 /><circle cx=518 cy=160 r=6.5 /><circle cx=369 cy=229 r=6.5 /><circle cx=281 cy=323 r=6.5 /><circle cx=350 cy=356 r=6.5 /><circle cx=428 cy=293 r=6.5 /><circle cx=259 cy=322 r=6.5 /><circle cx=452 cy=148 r=6.5 /><circle cx=336 cy=236 r=6.5 /><circle cx=350 cy=294 r=6.5 /><circle cx=508 cy=154 r=6.5 /><circle cx=296 cy=388 r=6.5 /><circle cx=409 cy=348 r=6.5 /><circle cx=348 cy=229 r=6.5 /><circle cx=415 cy=309 r=6.5 /><circle cx=290 cy=393 r=6.5 /><circle cx=295 cy=302 r=6.5 /><circle cx=434 cy=447 r=6.5 /><circle cx=330 cy=306 r=6.5 /><circle cx=410 cy=458 r=6.5 /><circle cx=399 cy=397 r=6.5 /><circle cx=390 cy=239 r=6.5 /><circle cx=416 cy=147 r=6.5 /><circle cx=521 cy=107 r=6.5 /><circle cx=273 cy=458 r=6.5 /><circle cx=449 cy=389 r=6.5 /><circle cx=379 cy=219 r=6.5 /><circle cx=207 cy=457 r=6.5 /><circle cx=396 cy=160 r=6.5 /><circle cx=417 cy=305 r=6.5 /><circle cx=248 cy=367 r=6.5 /><circle cx=498 cy=189 r=6.5 /><circle cx=526 cy=167 r=6.5 /><circle cx=266 cy=370 r=6.5 /><circle cx=519 cy=125 r=6.5 /><circle cx=548 cy=135 r=6.5 /><circle cx=427 cy=162 r=6.5 /><circle cx=462 cy=428 r=6.5 /><circle cx=199 cy=456 r=6.5 /><circle cx=445 cy=163 r=6.5 /><circle cx=359 cy=237 r=6.5 /><circle cx=407 cy=456 r=6.5 /><circle cx=377 cy=342 r=6.5 /><circle cx=326 cy=348 r=6.5 /><circle cx=406 cy=209 r=6.5 /><circle cx=336 cy=317 r=6.5 /><circle cx=354 cy=379 r=6.5 /><circle cx=381 cy=355 r=6.5 /><circle cx=523 cy=185 r=6.5 /><circle cx=304 cy=279 r=6.5 /><circle cx=279 cy=410 r=6.5 /><circle cx=369 cy=240 r=6.5 /><circle cx=423 cy=243 r=6.5 /><circle cx=386 cy=221 r=6.5 /><circle cx=209 cy=422 r=6.5 /><circle cx=440 cy=147 r=6.5 /><circle cx=371 cy=350 r=6.5 /><circle cx=494 cy=331 r=6.5 /><circle cx=286 cy=304 r=6.5 /><circle cx=569 cy=103 r=6.5 /><circle cx=534 cy=116 r=6.5 /><circle cx=378 cy=254 r=6.5 /><circle cx=386 cy=354 r=6.5 /><circle cx=407 cy=444 r=6.5 /><circle cx=427 cy=224 r=6.5 /><circle cx=446 cy=342 r=6.5 /><circle cx=382 cy=289 r=6.5 /><circle cx=415 cy=350 r=6.5 /><circle cx=398 cy=311 r=6.5 /><circle cx=435 cy=158 r=6.5 /><circle cx=368 cy=354 r=6.5 /><circle cx=368 cy=436 r=6.5 /><circle cx=392 cy=176 r=6.5 /><circle cx=402 cy=228 r=6.5 /><circle cx=345 cy=205 r=6.5 /><circle cx=531 cy=198 r=6.5 /><circle cx=520 cy=228 r=6.5 /><circle cx=423 cy=175 r=6.5 /><circle cx=424 cy=251 r=6.5 /><circle cx=506 cy=287 r=6.5 /><circle cx=377 cy=178 r=6.5 /><circle cx=377 cy=346 r=6.5 /><circle cx=538 cy=175 r=6.5 /><circle cx=444 cy=278 r=6.5 /><circle cx=350 cy=268 r=6.5 /><circle cx=376 cy=201 r=6.5 /><circle cx=545 cy=182 r=6.5 /><circle cx=459 cy=100 r=6.5 /><circle cx=371 cy=423 r=6.5 /><circle cx=350 cy=194 r=6.5 /><circle cx=543 cy=77 r=6.5 /><circle cx=410 cy=360 r=6.5 /><circle cx=457 cy=232 r=6.5 /><circle cx=262 cy=345 r=6.5 /><circle cx=529 cy=230 r=6.5 /><circle cx=285 cy=439 r=6.5 /><circle cx=231 cy=395 r=6.5 /><circle cx=524 cy=136 r=6.5 /><circle cx=400 cy=219 r=6.5 /><circle cx=422 cy=193 r=6.5 /><circle cx=307 cy=300 r=6.5 /><circle cx=372 cy=231 r=6.5 /><circle cx=499 cy=195 r=6.5 /><circle cx=502 cy=99 r=6.5 /><circle cx=572 cy=86 r=6.5 /><circle cx=489 cy=211 r=6.5 /><circle cx=474 cy=95 r=6.5 /><circle cx=392 cy=249 r=6.5 /><circle cx=425 cy=316 r=6.5 /><circle cx=373 cy=235 r=6.5 /><circle cx=562 cy=131 r=6.5 /><circle cx=319 cy=322 r=6.5 /><circle cx=486 cy=273 r=6.5 /><circle cx=312 cy=389 r=6.5 /><circle cx=367 cy=362 r=6.5 /><circle cx=383 cy=475 r=6.5 /><circle cx=428 cy=212 r=6.5 /><circle cx=436 cy=215 r=6.5 /><circle cx=384 cy=222 r=6.5 /><circle cx=308 cy=382 r=6.5 /><circle cx=406 cy=171 r=6.5 /><circle cx=461 cy=409 r=6.5 /><circle cx=359 cy=268 r=6.5 /><circle cx=481 cy=343 r=6.5 /><circle cx=403 cy=180 r=6.5 /><circle cx=420 cy=242 r=6.5 /><circle cx=515 cy=176 r=6.5 /><circle cx=513 cy=174 r=6.5 /><circle cx=290 cy=395 r=6.5 /><circle cx=421 cy=321 r=6.5 /><circle cx=306 cy=349 r=6.5 /><circle cx=306 cy=333 r=6.5 /><circle cx=514 cy=141 r=6.5 /><circle cx=445 cy=200 r=6.5 /><circle cx=350 cy=424 r=6.5 /><circle cx=357 cy=229 r=6.5 /><circle cx=261 cy=397 r=6.5 /><circle cx=579 cy=77 r=6.5 /><circle cx=491 cy=127 r=6.5 /><circle cx=313 cy=268 r=6.5 /><circle cx=439 cy=339 r=6.5 /><circle cx=479 cy=114 r=6.5 /><circle cx=469 cy=311 r=6.5 /><circle cx=222 cy=476 r=6.5 /><circle cx=508 cy=113 r=6.5 /><circle cx=490 cy=395 r=6.5 /><circle cx=289 cy=325 r=6.5 /><circle cx=495 cy=125 r=6.5 /><circle cx=286 cy=392 r=6.5 /><circle cx=303 cy=305 r=6.5 /><circle cx=301 cy=392 r=6.5 /><circle cx=559 cy=122 r=6.5 /><circle cx=453 cy=217 r=6.5 /><circle cx=465 cy=323 r=6.5 /><circle cx=291 cy=375 r=6.5 /><circle cx=390 cy=211 r=6.5 /><circle cx=209 cy=481 r=6.5 /><circle cx=397 cy=483 r=6.5 /><circle cx=556 cy=124 r=6.5 /><circle cx=359 cy=477 r=6.5 /><circle cx=409 cy=372 r=6.5 /><circle cx=450 cy=243 r=6.5 /><circle cx=376 cy=225 r=6.5 /><circle cx=376 cy=371 r=6.5 /><circle cx=512 cy=124 r=6.5 /><circle cx=369 cy=340 r=6.5 /><circle cx=392 cy=473 r=6.5 /><circle cx=511 cy=194 r=6.5 /><circle cx=419 cy=337 r=6.5 /><circle cx=296 cy=287 r=6.5 /><circle cx=564 cy=86 r=6.5 /><circle cx=430 cy=333 r=6.5 /><circle cx=553 cy=147 r=6.5 /><circle cx=444 cy=157 r=6.5 /><circle cx=430 cy=344 r=6.5 /><circle cx=369 cy=486 r=6.5 /><circle cx=420 cy=187 r=6.5 /><circle cx=367 cy=335 r=6.5 /><circle cx=376 cy=194 r=6.5 /><circle cx=392 cy=288 r=6.5 /><circle cx=428 cy=480 r=6.5 /><circle cx=442 cy=286 r=6.5 /><circle cx=327 cy=251 r=6.5 /><circle cx=496 cy=209 r=6.5 /><circle cx=306 cy=448 r=6.5 /><circle cx=511 cy=255 r=6.5 /><circle cx=432 cy=407 r=6.5 /><circle cx=436 cy=407 r=6.5 /><circle cx=358 cy=241 r=6.5 /><circle cx=479 cy=209 r=6.5 /><circle cx=491 cy=380 r=6.5 /><circle cx=306 cy=496 r=6.5 /><circle cx=484 cy=176 r=6.5 /><circle cx=387 cy=305 r=6.5 /><circle cx=446 cy=368 r=6.5 /><circle cx=259 cy=508 r=6.5 /><circle cx=493 cy=139 r=6.5 /><circle cx=312 cy=291 r=6.5 /><circle cx=416 cy=218 r=6.5 /><circle cx=382 cy=272 r=6.5 /><circle cx=378 cy=263 r=6.5 /><circle cx=379 cy=209 r=6.5 /><circle cx=498 cy=183 r=6.5 /><circle cx=505 cy=189 r=6.5 /><circle cx=513 cy=118 r=6.5 /><circle cx=500 cy=335 r=6.5 /><circle cx=198 cy=467 r=6.5 /><circle cx=499 cy=241 r=6.5 /><circle cx=376 cy=244 r=6.5 /><circle cx=477 cy=118 r=6.5 /><circle cx=417 cy=513 r=6.5 /><circle cx=499 cy=219 r=6.5 /><circle cx=413 cy=296 r=6.5 /><circle cx=402 cy=203 r=6.5 /><circle cx=325 cy=293 r=6.5 /><circle cx=299 cy=258 r=6.5 /><circle cx=443 cy=126 r=6.5 /><circle cx=303 cy=336 r=6.5 /><circle cx=410 cy=489 r=6.5 /><circle cx=425 cy=383 r=6.5 /><circle cx=414 cy=443 r=6.5 /><circle cx=361 cy=500 r=6.5 /><circle cx=564 cy=125 r=6.5 /><circle cx=530 cy=177 r=6.5 /><circle cx=246 cy=384 r=6.5 /><circle cx=291 cy=362 r=6.5 /><circle cx=237 cy=504 r=6.5 /><circle cx=547 cy=167 r=6.5 /><circle cx=235 cy=453 r=6.5 /><circle cx=448 cy=247 r=6.5 /><circle cx=327 cy=359 r=6.5 /><circle cx=452 cy=253 r=6.5 /><circle cx=258 cy=352 r=6.5 /><circle cx=481 cy=267 r=6.5 /><circle cx=349 cy=341 r=6.5 /><circle cx=359 cy=375 r=6.5 /><circle cx=476 cy=192 r=6.5 /><circle cx=402 cy=181 r=6.5 /><circle cx=462 cy=389 r=6.5 /><circle cx=383 cy=395 r=6.5 /><circle cx=572 cy=84 r=6.5 /><circle cx=469 cy=192 r=6.5 /><circle cx=503 cy=195 r=6.5 /><circle cx=381 cy=275 r=6.5 /><circle cx=299 cy=269 r=6.5 /><circle cx=216 cy=439 r=6.5 /><circle cx=342 cy=247 r=6.5 /><circle cx=259 cy=373 r=6.5 /><circle cx=420 cy=506 r=6.5 /><circle cx=509 cy=195 r=6.5 /><circle cx=548 cy=88 r=6.5 /><circle cx=495 cy=148 r=6.5 /><circle cx=263 cy=465 r=6.5 /><circle cx=521 cy=151 r=6.5 /><circle cx=370 cy=258 r=6.5 /><circle cx=409 cy=151 r=6.5 /><circle cx=447 cy=270 r=6.5 /><circle cx=279 cy=356 r=6.5 /><circle cx=338 cy=440 r=6.5 /><circle cx=503 cy=119 r=6.5 /><circle cx=398 cy=315 r=6.5 /><circle cx=354 cy=260 r=6.5 /><circle cx=515 cy=269 r=6.5 /><circle cx=242 cy=388 r=6.5 /><circle cx=472 cy=314 r=6.5 /><circle cx=384 cy=427 r=6.5 /><circle cx=419 cy=378 r=6.5 /><circle cx=232 cy=400 r=6.5 /><circle cx=509 cy=84 r=6.5 /><circle cx=307 cy=393 r=6.5 /><circle cx=461 cy=252 r=6.5 /><circle cx=318 cy=271 r=6.5 /><circle cx=330 cy=345 r=6.5 /><circle cx=443 cy=171 r=6.5 /><circle cx=415 cy=415 r=6.5 /><circle cx=550 cy=154 r=6.5 /><circle cx=364 cy=333 r=6.5 /><circle cx=498 cy=359 r=6.5 /><circle cx=438 cy=128 r=6.5 /><circle cx=354 cy=169 r=6.5 /><circle cx=315 cy=377 r=6.5 /><circle cx=408 cy=328 r=6.5 /><circle cx=490 cy=257 r=6.5 /><circle cx=470 cy=369 r=6.5 /><circle cx=285 cy=284 r=6.5 /><circle cx=499 cy=133 r=6.5 /><circle cx=362 cy=308 r=6.5 /><circle cx=464 cy=434 r=6.5 /><circle cx=303 cy=293 r=6.5 /><circle cx=200 cy=459 r=6.5 /><circle cx=426 cy=193 r=6.5 /><circle cx=452 cy=160 r=6.5 /><circle cx=394 cy=456 r=6.5 /><circle cx=371 cy=262 r=6.5 /><circle cx=317 cy=246 r=6.5 /><circle cx=481 cy=99 r=6.5 /><circle cx=495 cy=202 r=6.5 /><circle cx=311 cy=299 r=6.5 /><circle cx=555 cy=128 r=6.5 /><circle cx=471 cy=150 r=6.5 /><circle cx=304 cy=246 r=6.5 /><circle cx=373 cy=359 r=6.5 /><circle cx=362 cy=163 r=6.5 /><circle cx=457 cy=110 r=6.5 /><circle cx=349 cy=190 r=6.5 /><circle cx=445 cy=343 r=6.5 /><circle cx=339 cy=398 r=6.5 /><circle cx=306 cy=367 r=6.5 /><circle cx=450 cy=165 r=6.5 /><circle cx=367 cy=333 r=6.5 /><circle cx=356 cy=497 r=6.5 /><circle cx=356 cy=377 r=6.5 /><circle cx=511 cy=154 r=6.5 /><circle cx=423 cy=162 r=6.5 /><circle cx=391 cy=475 r=6.5 /><circle cx=436 cy=191 r=6.5 /><circle cx=318 cy=323 r=6.5 /><circle cx=436 cy=287 r=6.5 /><circle cx=249 cy=423 r=6.5 /><circle cx=431 cy=139 r=6.5 /><circle cx=301 cy=466 r=6.5 /><circle cx=322 cy=342 r=6.5 /><circle cx=445 cy=269 r=6.5 /><circle cx=459 cy=147 r=6.5 /><circle cx=315 cy=313 r=6.5 /><circle cx=443 cy=241 r=6.5 /><circle cx=389 cy=175 r=6.5 /><circle cx=423 cy=187 r=6.5 /><circle cx=347 cy=270 r=6.5 /><circle cx=503 cy=194 r=6.5 /><circle cx=337 cy=427 r=6.5 /><circle cx=548 cy=95 r=6.5 /><circle cx=310 cy=294 r=6.5 /><circle cx=431 cy=160 r=6.5 /><circle cx=470 cy=197 r=6.5 /><circle cx=375 cy=260 r=6.5 /><circle cx=398 cy=199 r=6.5 /><circle cx=399 cy=500 r=6.5 /><circle cx=484 cy=201 r=6.5 /><circle cx=433 cy=301 r=6.5 /><circle cx=388 cy=250 r=6.5 /><circle cx=443 cy=295 r=6.5 /><circle cx=510 cy=247 r=6.5 /><circle cx=467 cy=303 r=6.5 /><circle cx=443 cy=215 r=6.5 /><circle cx=513 cy=162 r=6.5 /><circle cx=468 cy=291 r=6.5 /><circle cx=507 cy=289 r=6.5 /><circle cx=337 cy=302 r=6.5 /><circle cx=443 cy=243 r=6.5 /><circle cx=449 cy=168 r=6.5 /><circle cx=282 cy=319 r=6.5 /><circle cx=383 cy=233 r=6.5 /><circle cx=252 cy=351 r=6.5 /><circle cx=454 cy=215 r=6.5 /><circle cx=376 cy=161 r=6.5 /><circle cx=520 cy=94 r=6.5 /><circle cx=250 cy=480 r=6.5 /><circle cx=451 cy=203 r=6.5 /><circle cx=369 cy=512 r=6.5 /><circle cx=546 cy=171 r=6.5 /><circle cx=423 cy=318 r=6.5 /><circle cx=307 cy=397 r=6.5 /><circle cx=474 cy=181 r=6.5 /><circle cx=486 cy=239 r=6.5 /><circle cx=430 cy=204 r=6.5 /><circle cx=395 cy=216 r=6.5 /><circle cx=355 cy=211 r=6.5 /><circle cx=344 cy=423 r=6.5 /><circle cx=344 cy=179 r=6.5 /><circle cx=510 cy=279 r=6.5 /><circle cx=532 cy=115 r=6.5 /><circle cx=476 cy=142 r=6.5 /><circle cx=414 cy=263 r=6.5 /><circle cx=263 cy=405 r=6.5 /><circle cx=449 cy=137 r=6.5 /><circle cx=259 cy=349 r=6.5 /><circle cx=389 cy=373 r=6.5 /><circle cx=363 cy=492 r=6.5 /><circle cx=392 cy=244 r=6.5 /><circle cx=434 cy=250 r=6.5 /><circle cx=418 cy=157 r=6.5 /><circle cx=479 cy=133 r=6.5 /><circle cx=357 cy=198 r=6.5 /><circle cx=395 cy=309 r=6.5 /><circle cx=523 cy=118 r=6.5 /><circle cx=491 cy=164 r=6.5 /><circle cx=327 cy=343 r=6.5 /><circle cx=264 cy=404 r=6.5 /><circle cx=255 cy=448 r=6.5 /><circle cx=375 cy=228 r=6.5 /><circle cx=463 cy=283 r=6.5 /><circle cx=539 cy=148 r=6.5 /><circle cx=408 cy=281 r=6.5 /><circle cx=347 cy=267 r=6.5 /><circle cx=255 cy=289 r=6.5 /><circle cx=333 cy=415 r=6.5 /><circle cx=562 cy=115 r=6.5 /><circle cx=415 cy=174 r=6.5 /><circle cx=279 cy=323 r=6.5 /><circle cx=271 cy=357 r=6.5 /><circle cx=430 cy=202 r=6.5 /><circle cx=508 cy=93 r=6.5 /><circle cx=382 cy=475 r=6.5 /><circle cx=476 cy=196 r=6.5 /><circle cx=428 cy=254 r=6.5 /><circle cx=499 cy=132 r=6.5 /><circle cx=575 cy=87 r=6.5 /><circle cx=427 cy=204 r=6.5 /><circle cx=333 cy=233 r=6.5 /><circle cx=352 cy=207 r=6.5 /><circle cx=385 cy=190 r=6.5 /><circle cx=506 cy=166 r=6.5 /><circle cx=444 cy=198 r=6.5 /><circle cx=343 cy=305 r=6.5 /><circle cx=301 cy=432 r=6.5 /><circle cx=435 cy=146 r=6.5 /><circle cx=445 cy=369 r=6.5 /><circle cx=561 cy=81 r=6.5 /><circle cx=287 cy=366 r=6.5 /><circle cx=425 cy=172 r=6.5 /><circle cx=447 cy=357 r=6.5 /><circle cx=435 cy=398 r=6.5 /><circle cx=301 cy=310 r=6.5 /><circle cx=506 cy=86 r=6.5 /><circle cx=502 cy=240 r=6.5 /><circle cx=575 cy=84 r=6.5 /><circle cx=431 cy=155 r=6.5 /><circle cx=473 cy=132 r=6.5 /><circle cx=324 cy=227 r=6.5 /><circle cx=374 cy=326 r=6.5 /><circle cx=419 cy=353 r=6.5 /><circle cx=455 cy=222 r=6.5 /><circle cx=498 cy=224 r=6.5 /><circle cx=368 cy=297 r=6.5 /><circle cx=337 cy=320 r=6.5 /><circle cx=465 cy=497 r=6.5 /><circle cx=291 cy=415 r=6.5 /><circle cx=470 cy=213 r=6.5 /><circle cx=455 cy=206 r=6.5 /><circle cx=342 cy=327 r=6.5 /><circle cx=511 cy=154 r=6.5 /><circle cx=246 cy=356 r=6.5 /><circle cx=496 cy=85 r=6.5 /><circle cx=522 cy=176 r=6.5 /><circle cx=509 cy=167 r=6.5 /><circle cx=292 cy=448 r=6.5 /><circle cx=357 cy=291 r=6.5 /><circle cx=545 cy=121 r=6.5 /><circle cx=393 cy=347 r=6.5 /><circle cx=441 cy=234 r=6.5 /><circle cx=387 cy=343 r=6.5 /><circle cx=573 cy=90 r=6.5 /><circle cx=509 cy=144 r=6.5 /><circle cx=270 cy=323 r=6.5 /><circle cx=477 cy=112 r=6.5 /><circle cx=290 cy=395 r=6.5 /><circle cx=449 cy=243 r=6.5 /><circle cx=342 cy=181 r=6.5 /><circle cx=301 cy=331 r=6.5 /><circle cx=363 cy=332 r=6.5 /><circle cx=389 cy=276 r=6.5 /><circle cx=326 cy=285 r=6.5 /><circle cx=557 cy=155 r=6.5 /><circle cx=450 cy=252 r=6.5 /><circle cx=364 cy=249 r=6.5 /><circle cx=384 cy=222 r=6.5 /><circle cx=453 cy=140 r=6.5 /><circle cx=522 cy=123 r=6.5 /><circle cx=362 cy=507 r=6.5 /><circle cx=244 cy=372 r=6.5 /><circle cx=486 cy=132 r=6.5 /><circle cx=427 cy=257 r=6.5 /><circle cx=522 cy=244 r=6.5 /><circle cx=380 cy=255 r=6.5 /><circle cx=314 cy=441 r=6.5 /><circle cx=288 cy=312 r=6.5 /><circle cx=289 cy=407 r=6.5 /><circle cx=453 cy=333 r=6.5 /><circle cx=512 cy=157 r=6.5 /><circle cx=209 cy=445 r=6.5 /><circle cx=331 cy=509 r=6.5 /><circle cx=446 cy=144 r=6.5 /><circle cx=504 cy=281 r=6.5 /><circle cx=258 cy=359 r=6.5 /><circle cx=424 cy=289 r=6.5 /><circle cx=329 cy=365 r=6.5 /><circle cx=526 cy=230 r=6.5 /><circle cx=454 cy=259 r=6.5 /><circle cx=304 cy=299 r=6.5 /><circle cx=413 cy=502 r=6.5 /><circle cx=497 cy=233 r=6.5 /><circle cx=469 cy=277 r=6.5 /><circle cx=465 cy=269 r=6.5 /><circle cx=505 cy=193 r=6.5 /><circle cx=380 cy=355 r=6.5 /><circle cx=552 cy=116 r=6.5 /><circle cx=345 cy=423 r=6.5 /><circle cx=250 cy=495 r=6.5 /><circle cx=530 cy=181 r=6.5 /><circle cx=360 cy=228 r=6.5 /><circle cx=436 cy=228 r=6.5 /><circle cx=333 cy=403 r=6.5 /><circle cx=402 cy=232 r=6.5 /><circle cx=391 cy=181 r=6.5 /><circle cx=294 cy=300 r=6.5 /><circle cx=415 cy=207 r=6.5 /><circle cx=227 cy=477 r=6.5 /><circle cx=443 cy=294 r=6.5 /><circle cx=299 cy=392 r=6.5 /><circle cx=472 cy=157 r=6.5 /><circle cx=413 cy=252 r=6.5 /><circle cx=505 cy=167 r=6.5 /><circle cx=445 cy=329 r=6.5 /><circle cx=356 cy=338 r=6.5 /><circle cx=412 cy=305 r=6.5 /><circle cx=346 cy=200 r=6.5 /><circle cx=520 cy=104 r=6.5 /><circle cx=340 cy=512 r=6.5 /><circle cx=440 cy=257 r=6.5 /><circle cx=352 cy=233 r=6.5 /><circle cx=503 cy=210 r=6.5 /><circle cx=246 cy=513 r=6.5 /><circle cx=241 cy=474 r=6.5 /><circle cx=472 cy=102 r=6.5 /><circle cx=218 cy=421 r=6.5 /><circle cx=533 cy=109 r=6.5 /><circle cx=234 cy=463 r=6.5 /><circle cx=297 cy=375 r=6.5 /><circle cx=463 cy=192 r=6.5 /><circle cx=445 cy=499 r=6.5 /><circle cx=377 cy=200 r=6.5 /><circle cx=508 cy=246 r=6.5 /><circle cx=271 cy=491 r=6.5 /><circle cx=428 cy=303 r=6.5 /><circle cx=345 cy=215 r=6.5 /><circle cx=444 cy=197 r=6.5 /><circle cx=353 cy=447 r=6.5 /><circle cx=487 cy=198 r=6.5 /><circle cx=373 cy=298 r=6.5 /><circle cx=410 cy=196 r=6.5 /><circle cx=301 cy=503 r=6.5 /><circle cx=488 cy=419 r=6.5 /><circle cx=358 cy=380 r=6.5 /><circle cx=356 cy=234 r=6.5 /><circle cx=320 cy=360 r=6.5 /><circle cx=496 cy=294 r=6.5 /><circle cx=477 cy=112 r=6.5 /><circle cx=393 cy=173 r=6.5 /><circle cx=488 cy=212 r=6.5 /><circle cx=367 cy=347 r=6.5 /><circle cx=437 cy=224 r=6.5 /><circle cx=428 cy=373 r=6.5 /><circle cx=349 cy=181 r=6.5 /><circle cx=474 cy=141 r=6.5 /><circle cx=376 cy=329 r=6.5 /><circle cx=521 cy=222 r=6.5 /><circle cx=425 cy=314 r=6.5 /><circle cx=403 cy=195 r=6.5 /><circle cx=465 cy=273 r=6.5 /><circle cx=278 cy=338 r=6.5 /><circle cx=528 cy=139 r=6.5 /><circle cx=381 cy=383 r=6.5 /><circle cx=296 cy=398 r=6.5 /><circle cx=236 cy=383 r=6.5 /><circle cx=239 cy=477 r=6.5 /><circle cx=393 cy=286 r=6.5 /><circle cx=246 cy=374 r=6.5 /><circle cx=516 cy=187 r=6.5 /><circle cx=429 cy=426 r=6.5 /><circle cx=425 cy=403 r=6.5 /><circle cx=356 cy=213 r=6.5 /><circle cx=318 cy=255 r=6.5 /><circle cx=202 cy=439 r=6.5 /><circle cx=305 cy=356 r=6.5 /><circle cx=391 cy=280 r=6.5 /><circle cx=304 cy=273 r=6.5 /><circle cx=394 cy=169 r=6.5 /><circle cx=577 cy=111 r=6.5 /><circle cx=385 cy=278 r=6.5 /><circle cx=443 cy=505 r=6.5 /><circle cx=306 cy=265 r=6.5 /><circle cx=380 cy=317 r=6.5 /><circle cx=522 cy=147 r=6.5 /><circle cx=314 cy=380 r=6.5 /><circle cx=467 cy=242 r=6.5 /><circle cx=467 cy=201 r=6.5 /><circle cx=204 cy=398 r=6.5 /><circle cx=280 cy=325 r=6.5 /><circle cx=266 cy=303 r=6.5 /><circle cx=495 cy=252 r=6.5 /><circle cx=359 cy=454 r=6.5 /><circle cx=452 cy=300 r=6.5 /><circle cx=366 cy=267 r=6.5 /><circle cx=507 cy=199 r=6.5 /><circle cx=498 cy=127 r=6.5 /><circle cx=258 cy=435 r=6.5 /><circle cx=483 cy=176 r=6.5 /><circle cx=232 cy=407 r=6.5 /><circle cx=216 cy=427 r=6.5 /><circle cx=458 cy=434 r=6.5 /><circle cx=440 cy=200 r=6.5 /><circle cx=469 cy=223 r=6.5 /><circle cx=477 cy=175 r=6.5 /><circle cx=334 cy=256 r=6.5 /><circle cx=461 cy=173 r=6.5 /><circle cx=535 cy=153 r=6.5 /><circle cx=364 cy=418 r=6.5 /><circle cx=365 cy=442 r=6.5 /><circle cx=490 cy=225 r=6.5 /><circle cx=374 cy=183 r=6.5 /><circle cx=244 cy=472 r=6.5 /><circle cx=468 cy=409 r=6.5 /><circle cx=516 cy=250 r=6.5 /><circle cx=470 cy=207 r=6.5 /><circle cx=507 cy=251 r=6.5 /><circle cx=441 cy=259 r=6.5 /><circle cx=339 cy=335 r=6.5 /><circle cx=422 cy=403 r=6.5 /><circle cx=485 cy=118 r=6.5 /><circle cx=512 cy=165 r=6.5 /><circle cx=208 cy=508 r=6.5 /><circle cx=480 cy=383 r=6.5 /><circle cx=353 cy=362 r=6.5 /><circle cx=521 cy=250 r=6.5 /><circle cx=364 cy=367 r=6.5 /><circle cx=333 cy=479 r=6.5 /><circle cx=432 cy=204 r=6.5 /><circle cx=370 cy=336 r=6.5 /><circle cx=467 cy=408 r=6.5 /><circle cx=485 cy=169 r=6.5 /><circle cx=397 cy=303 r=6.5 /><circle cx=264 cy=433 r=6.5 /><circle cx=454 cy=159 r=6.5 /><circle cx=557 cy=150 r=6.5 /><circle cx=465 cy=166 r=6.5 /><circle cx=243 cy=337 r=6.5 /><circle cx=227 cy=363 r=6.5 /><circle cx=524 cy=225 r=6.5 /><circle cx=289 cy=289 r=6.5 /><circle cx=483 cy=312 r=6.5 /><circle cx=467 cy=162 r=6.5 /><circle cx=315 cy=237 r=6.5 /><circle cx=449 cy=366 r=6.5 /><circle cx=456 cy=371 r=6.5 /><circle cx=354 cy=488 r=6.5 /><circle cx=385 cy=281 r=6.5 /><circle cx=431 cy=126 r=6.5 /><circle cx=510 cy=221 r=6.5 /><circle cx=352 cy=481 r=6.5 /><circle cx=442 cy=154 r=6.5 /><circle cx=316 cy=419 r=6.5 /><circle cx=512 cy=108 r=6.5 /><circle cx=408 cy=380 r=6.5 /><circle cx=333 cy=325 r=6.5 /><circle cx=301 cy=254 r=6.5 /><circle cx=290 cy=268 r=6.5 /><circle cx=302 cy=289 r=6.5 /><circle cx=326 cy=299 r=6.5 /><circle cx=511 cy=276 r=6.5 /><circle cx=395 cy=292 r=6.5 /><circle cx=570 cy=93 r=6.5 /><circle cx=471 cy=172 r=6.5 /><circle cx=436 cy=203 r=6.5 /><circle cx=321 cy=471 r=6.5 /><circle cx=253 cy=453 r=6.5 /><circle cx=361 cy=262 r=6.5 /><circle cx=471 cy=175 r=6.5 /><circle cx=338 cy=329 r=6.5 /><circle cx=477 cy=102 r=6.5 /><circle cx=544 cy=186 r=6.5 /><circle cx=549 cy=102 r=6.5 /><circle cx=225 cy=422 r=6.5 /><circle cx=438 cy=213 r=6.5 /><circle cx=567 cy=118 r=6.5 /><circle cx=346 cy=214 r=6.5 /><circle cx=381 cy=515 r=6.5 /><circle cx=470 cy=184 r=6.5 /><circle cx=414 cy=314 r=6.5 /><circle cx=475 cy=266 r=6.5 /><circle cx=414 cy=181 r=6.5 /><circle cx=490 cy=97 r=6.5 /><circle cx=412 cy=290 r=6.5 /><circle cx=393 cy=330 r=6.5 /><circle cx=437 cy=182 r=6.5 /><circle cx=317 cy=265 r=6.5 /><circle cx=284 cy=281 r=6.5 /><circle cx=489 cy=314 r=6.5 /><circle cx=483 cy=404 r=6.5 /><circle cx=342 cy=233 r=6.5 /><circle cx=522 cy=140 r=6.5 /><circle cx=443 cy=420 r=6.5 /><circle cx=266 cy=449 r=6.5 /><circle cx=309 cy=247 r=6.5 /><circle cx=397 cy=460 r=6.5 /><circle cx=466 cy=194 r=6.5 /><circle cx=441 cy=237 r=6.5 /><circle cx=466 cy=280 r=6.5 /><circle cx=416 cy=248 r=6.5 /><circle cx=469 cy=258 r=6.5 /><circle cx=387 cy=182 r=6.5 /><circle cx=415 cy=199 r=6.5 /><circle cx=469 cy=329 r=6.5 /><circle cx=447 cy=251 r=6.5 /><circle cx=517 cy=155 r=6.5 /><circle cx=334 cy=338 r=6.5 /><circle cx=401 cy=266 r=6.5 /><circle cx=325 cy=301 r=6.5 /><circle cx=359 cy=205 r=6.5 /><circle cx=506 cy=114 r=6.5 /><circle cx=306 cy=280 r=6.5 /><circle cx=348 cy=262 r=6.5 /><circle cx=313 cy=482 r=6.5 /><circle cx=369 cy=258 r=6.5 /><circle cx=565 cy=93 r=6.5 /><circle cx=370 cy=471 r=6.5 /><circle cx=469 cy=377 r=6.5 /><circle cx=314 cy=307 r=6.5 /><circle cx=380 cy=276 r=6.5 /><circle cx=368 cy=290 r=6.5 /><circle cx=312 cy=411 r=6.5 /><circle cx=405 cy=211 r=6.5 /><circle cx=352 cy=268 r=6.5 /><circle cx=449 cy=248 r=6.5 /><circle cx=520 cy=93 r=6.5 /><circle cx=435 cy=119 r=6.5 /><circle cx=381 cy=437 r=6.5 /><circle cx=444 cy=184 r=6.5 /><circle cx=531 cy=219 r=6.5 /><circle cx=467 cy=169 r=6.5 /><circle cx=478 cy=473 r=6.5 /><circle cx=365 cy=481 r=6.5 /><circle cx=286 cy=446 r=6.5 /><circle cx=319 cy=348 r=6.5 /><circle cx=524 cy=166 r=6.5 /><circle cx=428 cy=214 r=6.5 /><circle cx=478 cy=205 r=6.5 /><circle cx=443 cy=135 r=6.5 /><circle cx=411 cy=222 r=6.5 /><circle cx=552 cy=173 r=6.5 /><circle cx=266 cy=383 r=6.5 /><circle cx=562 cy=137 r=6.5 /><circle cx=474 cy=333 r=6.5 /><circle cx=318 cy=281 r=6.5 /><circle cx=470 cy=112 r=6.5 /><circle cx=393 cy=164 r=6.5 /><circle cx=325 cy=450 r=6.5 /><circle cx=450 cy=295 r=6.5 /><circle cx=522 cy=111 r=6.5 /><circle cx=489 cy=253 r=6.5 /><circle cx=211 cy=418 r=6.5 /><circle cx=382 cy=304 r=6.5 /><circle cx=471 cy=179 r=6.5 /><circle cx=401 cy=451 r=6.5 /><circle cx=354 cy=482 r=6.5 /><circle cx=518 cy=256 r=6.5 /><circle cx=431 cy=383 r=6.5 /><circle cx=427 cy=395 r=6.5 /><circle cx=354 cy=211 r=6.5 /><circle cx=365 cy=280 r=6.5 /><circle cx=555 cy=171 r=6.5 /><circle cx=286 cy=447 r=6.5 /><circle cx=422 cy=268 r=6.5 /><circle cx=482 cy=183 r=6.5 /><circle cx=435 cy=255 r=6.5 /><circle cx=347 cy=351 r=6.5 /><circle cx=541 cy=105 r=6.5 /><circle cx=367 cy=467 r=6.5 /><circle cx=222 cy=315 r=6.5 /><circle cx=296 cy=290 r=6.5 /><circle cx=458 cy=184 r=6.5 /><circle cx=502 cy=180 r=6.5 /><circle cx=521 cy=232 r=6.5 /><circle cx=395 cy=421 r=6.5 /><circle cx=421 cy=167 r=6.5 /><circle cx=379 cy=386 r=6.5 /><circle cx=336 cy=281 r=6.5 /><circle cx=408 cy=247 r=6.5 /><circle cx=209 cy=504 r=6.5 /><circle cx=498 cy=207 r=6.5 /><circle cx=433 cy=131 r=6.5 /><circle cx=535 cy=95 r=6.5 /><circle cx=288 cy=449 r=6.5 /><circle cx=510 cy=286 r=6.5 /><circle cx=314 cy=351 r=6.5 /><circle cx=535 cy=110 r=6.5 /><circle cx=380 cy=458 r=6.5 /><circle cx=439 cy=456 r=6.5 /><circle cx=437 cy=242 r=6.5 /><circle cx=367 cy=365 r=6.5 /><circle cx=381 cy=510 r=6.5 /><circle cx=310 cy=292 r=6.5 /><circle cx=322 cy=268 r=6.5 /><circle cx=425 cy=514 r=6.5 /><circle cx=456 cy=122 r=6.5 /><circle cx=199 cy=460 r=6.5 /><circle cx=379 cy=217 r=6.5 /><circle cx=462 cy=167 r=6.5 /><circle cx=493 cy=112 r=6.5 /><circle cx=463 cy=235 r=6.5 /><circle cx=326 cy=265 r=6.5 /><circle cx=378 cy=476 r=6.5 /><circle cx=270 cy=359 r=6.5 /><circle cx=483 cy=353 r=6.5 /><circle cx=280 cy=331 r=6.5 /><circle cx=308 cy=280 r=6.5 /><circle cx=523 cy=150 r=6.5 /><circle cx=372 cy=408 r=6.5 /><circle cx=514 cy=282 r=6.5 /><circle cx=514 cy=132 r=6.5 /><circle cx=489 cy=300 r=6.5 /><circle cx=537 cy=124 r=6.5 /><circle cx=323 cy=393 r=6.5 /><circle cx=223 cy=361 r=6.5 /><circle cx=415 cy=514 r=6.5 /><circle cx=409 cy=495 r=6.5 /><circle cx=440 cy=196 r=6.5 /><circle cx=440 cy=134 r=6.5 /><circle cx=464 cy=270 r=6.5 /><circle cx=473 cy=174 r=6.5 /><circle cx=368 cy=242 r=6.5 /><circle cx=413 cy=410 r=6.5 /><circle cx=506 cy=217 r=6.5 /><circle cx=489 cy=195 r=6.5 /><circle cx=378 cy=190 r=6.5 /><circle cx=247 cy=430 r=6.5 /><circle cx=384 cy=197 r=6.5 /><circle cx=416 cy=164 r=6.5 /><circle cx=367 cy=435 r=6.5 /><circle cx=411 cy=185 r=6.5 /><circle cx=468 cy=259 r=6.5 /><circle cx=455 cy=212 r=6.5 /><circle cx=335 cy=260 r=6.5 /><circle cx=366 cy=203 r=6.5 /><circle cx=397 cy=291 r=6.5 /><circle cx=347 cy=251 r=6.5 /><circle cx=432 cy=150 r=6.5 /><circle cx=462 cy=157 r=6.5 /><circle cx=266 cy=384 r=6.5 /><circle cx=341 cy=418 r=6.5 /><circle cx=375 cy=233 r=6.5 /><circle cx=385 cy=404 r=6.5 /><circle cx=241 cy=367 r=6.5 /><circle cx=330 cy=267 r=6.5 /><circle cx=357 cy=447 r=6.5 /><circle cx=512 cy=272 r=6.5 /><circle cx=428 cy=371 r=6.5 /><circle cx=282 cy=310 r=6.5 /><circle cx=228 cy=490 r=6.5 /><circle cx=463 cy=137 r=6.5 /><circle cx=381 cy=345 r=6.5 /><circle cx=318 cy=338 r=6.5 /><circle cx=562 cy=81 r=6.5 /><circle cx=488 cy=294 r=6.5 /><circle cx=510 cy=169 r=6.5 /><circle cx=243 cy=350 r=6.5 /><circle cx=396 cy=249 r=6.5 /><circle cx=498 cy=122 r=6.5 /><circle cx=500 cy=234 r=6.5 /><circle cx=446 cy=470 r=6.5 /><circle cx=481 cy=213 r=6.5 /><circle cx=445 cy=302 r=6.5 /><circle cx=337 cy=351 r=6.5 /><circle cx=288 cy=303 r=6.5 /><circle cx=337 cy=220 r=6.5 /><circle cx=294 cy=283 r=6.5 /><circle cx=315 cy=337 r=6.5 /><circle cx=429 cy=353 r=6.5 /><circle cx=454 cy=119 r=6.5 /><circle cx=376 cy=387 r=6.5 /><circle cx=417 cy=433 r=6.5 /><circle cx=379 cy=320 r=6.5 /><circle cx=458 cy=262 r=6.5 /><circle cx=265 cy=395 r=6.5 /><circle cx=294 cy=338 r=6.5 /><circle cx=534 cy=215 r=6.5 /><circle cx=485 cy=229 r=6.5 /><circle cx=484 cy=397 r=6.5 /><circle cx=199 cy=391 r=6.5 /><circle cx=421 cy=402 r=6.5 /><circle cx=242 cy=413 r=6.5 /><circle cx=453 cy=284 r=6.5 /><circle cx=349 cy=369 r=6.5 /><circle cx=264 cy=480 r=6.5 /><circle cx=253 cy=379 r=6.5 /><circle cx=487 cy=374 r=6.5 /><circle cx=449 cy=119 r=6.5 /><circle cx=277 cy=412 r=6.5 /><circle cx=250 cy=491 r=6.5 /><circle cx=466 cy=182 r=6.5 /><circle cx=320 cy=315 r=6.5 /><circle cx=470 cy=258 r=6.5 /><circle cx=456 cy=379 r=6.5 /><circle cx=508 cy=192 r=6.5 /><circle cx=465 cy=263 r=6.5 /><circle cx=460 cy=393 r=6.5 /><circle cx=295 cy=425 r=6.5 /><circle cx=560 cy=80 r=6.5 /><circle cx=417 cy=189 r=6.5 /><circle cx=470 cy=151 r=6.5 /><circle cx=481 cy=244 r=6.5 /><circle cx=377 cy=253 r=6.5 /><circle cx=442 cy=236 r=6.5 /><circle cx=456 cy=220 r=6.5 /><circle cx=468 cy=339 r=6.5 /><circle cx=402 cy=143 r=6.5 /><circle cx=226 cy=502 r=6.5 /><circle cx=395 cy=449 r=6.5 /><circle cx=358 cy=271 r=6.5 /><circle cx=282 cy=410 r=6.5 /><circle cx=332 cy=377 r=6.5 /><circle cx=419 cy=294 r=6.5 /><circle cx=435 cy=147 r=6.5 /><circle cx=492 cy=199 r=6.5 /><circle cx=386 cy=289 r=6.5 /><circle cx=417 cy=473 r=6.5 /><circle cx=372 cy=295 r=6.5 /><circle cx=432 cy=221 r=6.5 /><circle cx=456 cy=288 r=6.5 /><circle cx=322 cy=406 r=6.5 /><circle cx=384 cy=279 r=6.5 /><circle cx=520 cy=210 r=6.5 /><circle cx=372 cy=224 r=6.5 /><circle cx=550 cy=110 r=6.5 /><circle cx=432 cy=305 r=6.5 /><circle cx=430 cy=178 r=6.5 /><circle cx=436 cy=319 r=6.5 /><circle cx=406 cy=310 r=6.5 /><circle cx=229 cy=405 r=6.5 /><circle cx=244 cy=404 r=6.5 /><circle cx=320 cy=240 r=6.5 /><circle cx=473 cy=305 r=6.5 /><circle cx=500 cy=245 r=6.5 /><circle cx=439 cy=186 r=6.5 /><circle cx=429 cy=264 r=6.5 /><circle cx=444 cy=242 r=6.5 /><circle cx=377 cy=226 r=6.5 /><circle cx=364 cy=453 r=6.5 /><circle cx=511 cy=261 r=6.5 /><circle cx=509 cy=289 r=6.5 /><circle cx=236 cy=450 r=6.5 /><circle cx=200 cy=432 r=6.5 /><circle cx=447 cy=429 r=6.5 /><circle cx=328 cy=377 r=6.5 /><circle cx=437 cy=211 r=6.5 /><circle cx=459 cy=109 r=6.5 /><circle cx=576 cy=97 r=6.5 /><circle cx=361 cy=514 r=6.5 /><circle cx=533 cy=134 r=6.5 /><circle cx=483 cy=134 r=6.5 /><circle cx=433 cy=139 r=6.5 /><circle cx=366 cy=198 r=6.5 /><circle cx=252 cy=416 r=6.5 /><circle cx=371 cy=333 r=6.5 /><circle cx=350 cy=216 r=6.5 /><circle cx=399 cy=185 r=6.5 /><circle cx=254 cy=343 r=6.5 /><circle cx=385 cy=228 r=6.5 /><circle cx=313 cy=267 r=6.5 /><circle cx=556 cy=77 r=6.5 /><circle cx=497 cy=184 r=6.5 /><circle cx=436 cy=316 r=6.5 /><circle cx=517 cy=106 r=6.5 /><circle cx=322 cy=379 r=6.5 /><circle cx=464 cy=311 r=6.5 /><circle cx=454 cy=173 r=6.5 /><circle cx=438 cy=177 r=6.5 /><circle cx=341 cy=406 r=6.5 /><circle cx=283 cy=332 r=6.5 /><circle cx=281 cy=291 r=6.5 /><circle cx=409 cy=502 r=6.5 /><circle cx=330 cy=258 r=6.5 /><circle cx=316 cy=347 r=6.5 /><circle cx=331 cy=302 r=6.5 /><circle cx=358 cy=418 r=6.5 /><circle cx=269 cy=283 r=6.5 /><circle cx=346 cy=391 r=6.5 /><circle cx=523 cy=182 r=6.5 /><circle cx=423 cy=418 r=6.5 /><circle cx=336 cy=375 r=6.5 /><circle cx=486 cy=208 r=6.5 /><circle cx=478 cy=299 r=6.5 /><circle cx=584 cy=94 r=6.5 /><circle cx=399 cy=278 r=6.5 /><circle cx=373 cy=442 r=6.5 /><circle cx=448 cy=247 r=6.5 /><circle cx=421 cy=480 r=6.5 /><circle cx=521 cy=88 r=6.5 /><circle cx=374 cy=271 r=6.5 /><circle cx=412 cy=265 r=6.5 /><circle cx=468 cy=217 r=6.5 /><circle cx=493 cy=133 r=6.5 /><circle cx=460 cy=184 r=6.5 /><circle cx=433 cy=253 r=6.5 /><circle cx=323 cy=434 r=6.5 /><circle cx=360 cy=175 r=6.5 /><circle cx=395 cy=255 r=6.5 /><circle cx=546 cy=133 r=6.5 /><circle cx=235 cy=381 r=6.5 /><circle cx=488 cy=241 r=6.5 /><circle cx=439 cy=327 r=6.5 /><circle cx=413 cy=127 r=6.5 /><circle cx=314 cy=281 r=6.5 /><circle cx=333 cy=472 r=6.5 /><circle cx=343 cy=201 r=6.5 /><circle cx=231 cy=392 r=6.5 /><circle cx=236 cy=351 r=6.5 /><circle cx=539 cy=128 r=6.5 /><circle cx=480 cy=114 r=6.5 /><circle cx=406 cy=385 r=6.5 /><circle cx=259 cy=381 r=6.5 /><circle cx=431 cy=446 r=6.5 /><circle cx=453 cy=340 r=6.5 /><circle cx=351 cy=416 r=6.5 /><circle cx=422 cy=208 r=6.5 /><circle cx=440 cy=320 r=6.5 /><circle cx=383 cy=369 r=6.5 /><circle cx=443 cy=261 r=6.5 /><circle cx=357 cy=483 r=6.5 /><circle cx=496 cy=167 r=6.5 /><circle cx=445 cy=363 r=6.5 /><circle cx=536 cy=131 r=6.5 /><circle cx=492 cy=270 r=6.5 /><circle cx=528 cy=158 r=6.5 /><circle cx=391 cy=221 r=6.5 /><circle cx=211 cy=476 r=6.5 /><circle cx=571 cy=139 r=6.5 /><circle cx=256 cy=321 r=6.5 /><circle cx=409 cy=229 r=6.5 /><circle cx=395 cy=327 r=6.5 /><circle cx=463 cy=272 r=6.5 /><circle cx=421 cy=240 r=6.5 /><circle cx=198 cy=436 r=6.5 /><circle cx=430 cy=232 r=6.5 /><circle cx=365 cy=367 r=6.5 /><circle cx=466 cy=180 r=6.5 /><circle cx=562 cy=114 r=6.5 /><circle cx=287 cy=426 r=6.5 /><circle cx=426 cy=227 r=6.5 /><circle cx=409 cy=161 r=6.5 /><circle cx=506 cy=149 r=6.5 /><circle cx=273 cy=432 r=6.5 /><circle cx=433 cy=436 r=6.5 /><circle cx=455 cy=328 r=6.5 /><circle cx=411 cy=287 r=6.5 /><circle cx=413 cy=508 r=6.5 /><circle cx=363 cy=321 r=6.5 /><circle cx=359 cy=254 r=6.5 /><circle cx=439 cy=253 r=6.5 /><circle cx=439 cy=208 r=6.5 /><circle cx=578 cy=86 r=6.5 /><circle cx=258 cy=471 r=6.5 /><circle cx=524 cy=135 r=6.5 /><circle cx=438 cy=165 r=6.5 /><circle cx=355 cy=197 r=6.5 /><circle cx=305 cy=263 r=6.5 /><circle cx=537 cy=106 r=6.5 /><circle cx=560 cy=124 r=6.5 /><circle cx=344 cy=425 r=6.5 /><circle cx=508 cy=204 r=6.5 /><circle cx=363 cy=421 r=6.5 /><circle cx=367 cy=310 r=6.5 /><circle cx=282 cy=378 r=6.5 /><circle cx=313 cy=338 r=6.5 /><circle cx=348 cy=409 r=6.5 /><circle cx=349 cy=348 r=6.5 /><circle cx=417 cy=352 r=6.5 /><circle cx=508 cy=88 r=6.5 /><circle cx=362 cy=226 r=6.5 /><circle cx=452 cy=105 r=6.5 /><circle cx=337 cy=509 r=6.5 /><circle cx=364 cy=381 r=6.5 /><circle cx=425 cy=334 r=6.5 /><circle cx=419 cy=433 r=6.5 /><circle cx=459 cy=300 r=6.5 /><circle cx=456 cy=108 r=6.5 /><circle cx=272 cy=366 r=6.5 /><circle cx=465 cy=182 r=6.5 /><circle cx=288 cy=336 r=6.5 /><circle cx=570 cy=107 r=6.5 /><circle cx=447 cy=208 r=6.5 /><circle cx=275 cy=496 r=6.5 /><circle cx=290 cy=316 r=6.5 /><circle cx=400 cy=230 r=6.5 /><circle cx=506 cy=232 r=6.5 /><circle cx=468 cy=469 r=6.5 /><circle cx=624 cy=47 r=6.5 /><circle cx=630 cy=56 r=6.5 /></g></g></g><clipPath id="cpB"><rect x="416" y="13" width="267" height="259"/></clipPath><g clip-path="url(#cpB)"><g class="g" filter="url(#bl)"><g transform="scale(.5)"><circle cx=1106 cy=430 r=6.5 /><circle cx=1184 cy=292 r=6.5 /><circle cx=1106 cy=490 r=6.5 /><circle cx=1180 cy=408 r=6.5 /><circle cx=976 cy=89 r=6.5 /><circle cx=988 cy=332 r=6.5 /><circle cx=1181 cy=250 r=6.5 /><circle cx=1186 cy=171 r=6.5 /><circle cx=1137 cy=394 r=6.5 /><circle cx=1239 cy=323 r=6.5 /><circle cx=1289 cy=194 r=6.5 /><circle cx=1086 cy=278 r=6.5 /><circle cx=1134 cy=265 r=6.5 /><circle cx=988 cy=109 r=6.5 /><circle cx=1259 cy=194 r=6.5 /><circle cx=1041 cy=271 r=6.5 /><circle cx=1165 cy=144 r=6.5 /><circle cx=945 cy=384 r=6.5 /><circle cx=1246 cy=330 r=6.5 /><circle cx=1180 cy=459 r=6.5 /><circle cx=1041 cy=306 r=6.5 /><circle cx=1030 cy=275 r=6.5 /><circle cx=1202 cy=258 r=6.5 /><circle cx=1256 cy=262 r=6.5 /><circle cx=1030 cy=136 r=6.5 /><circle cx=1104 cy=267 r=6.5 /><circle cx=1029 cy=231 r=6.5 /><circle cx=1139 cy=275 r=6.5 /><circle cx=1253 cy=191 r=6.5 /><circle cx=1100 cy=253 r=6.5 /><circle cx=936 cy=411 r=6.5 /><circle cx=1218 cy=272 r=6.5 /><circle cx=1011 cy=391 r=6.5 /><circle cx=940 cy=323 r=6.5 /><circle cx=1140 cy=502 r=6.5 /><circle cx=1191 cy=140 r=6.5 /><circle cx=1182 cy=472 r=6.5 /><circle cx=995 cy=246 r=6.5 /><circle cx=1081 cy=179 r=6.5 /><circle cx=1079 cy=299 r=6.5 /><circle cx=1041 cy=276 r=6.5 /><circle cx=1182 cy=180 r=6.5 /><circle cx=1058 cy=284 r=6.5 /><circle cx=1066 cy=87 r=6.5 /><circle cx=1044 cy=92 r=6.5 /><circle cx=1087 cy=111 r=6.5 /><circle cx=984 cy=329 r=6.5 /><circle cx=1069 cy=250 r=6.5 /><circle cx=1084 cy=235 r=6.5 /><circle cx=1269 cy=254 r=6.5 /><circle cx=1109 cy=194 r=6.5 /><circle cx=1171 cy=281 r=6.5 /><circle cx=1168 cy=112 r=6.5 /><circle cx=1032 cy=505 r=6.5 /><circle cx=1015 cy=348 r=6.5 /><circle cx=981 cy=194 r=6.5 /><circle cx=1235 cy=263 r=6.5 /><circle cx=1027 cy=386 r=6.5 /><circle cx=1274 cy=225 r=6.5 /><circle cx=1070 cy=229 r=6.5 /><circle cx=1049 cy=186 r=6.5 /><circle cx=955 cy=244 r=6.5 /><circle cx=1087 cy=155 r=6.5 /><circle cx=1136 cy=117 r=6.5 /><circle cx=1250 cy=398 r=6.5 /><circle cx=1209 cy=150 r=6.5 /><circle cx=979 cy=112 r=6.5 /><circle cx=1077 cy=150 r=6.5 /><circle cx=1082 cy=149 r=6.5 /><circle cx=1006 cy=338 r=6.5 /><circle cx=1209 cy=173 r=6.5 /><circle cx=1097 cy=348 r=6.5 /><circle cx=1279 cy=340 r=6.5 /><circle cx=946 cy=430 r=6.5 /><circle cx=1025 cy=232 r=6.5 /><circle cx=1194 cy=289 r=6.5 /><circle cx=1000 cy=183 r=6.5 /><circle cx=1139 cy=370 r=6.5 /><circle cx=1001 cy=102 r=6.5 /><circle cx=1197 cy=261 r=6.5 /><circle cx=1155 cy=335 r=6.5 /><circle cx=1096 cy=89 r=6.5 /><circle cx=1074 cy=399 r=6.5 /><circle cx=993 cy=458 r=6.5 /><circle cx=1001 cy=490 r=6.5 /><circle cx=1124 cy=259 r=6.5 /><circle cx=1265 cy=306 r=6.5 /><circle cx=1095 cy=117 r=6.5 /><circle cx=1098 cy=339 r=6.5 /><circle cx=1106 cy=326 r=6.5 /><circle cx=1098 cy=221 r=6.5 /><circle cx=1198 cy=323 r=6.5 /><circle cx=1239 cy=203 r=6.5 /><circle cx=1158 cy=373 r=6.5 /><circle cx=1293 cy=249 r=6.5 /><circle cx=1102 cy=216 r=6.5 /><circle cx=1017 cy=336 r=6.5 /><circle cx=1252 cy=376 r=6.5 /><circle cx=1075 cy=380 r=6.5 /><circle cx=1103 cy=224 r=6.5 /><circle cx=1167 cy=204 r=6.5 /><circle cx=1092 cy=357 r=6.5 /><circle cx=1117 cy=512 r=6.5 /><circle cx=1039 cy=358 r=6.5 /><circle cx=1046 cy=386 r=6.5 /><circle cx=947 cy=442 r=6.5 /><circle cx=1044 cy=339 r=6.5 /><circle cx=1123 cy=489 r=6.5 /><circle cx=1160 cy=119 r=6.5 /><circle cx=1081 cy=179 r=6.5 /><circle cx=979 cy=129 r=6.5 /><circle cx=1189 cy=451 r=6.5 /><circle cx=1054 cy=312 r=6.5 /><circle cx=950 cy=401 r=6.5 /><circle cx=1202 cy=138 r=6.5 /><circle cx=1192 cy=153 r=6.5 /><circle cx=1211 cy=332 r=6.5 /><circle cx=1027 cy=100 r=6.5 /><circle cx=1204 cy=206 r=6.5 /><circle cx=1087 cy=115 r=6.5 /><circle cx=984 cy=178 r=6.5 /><circle cx=1008 cy=356 r=6.5 /><circle cx=1190 cy=471 r=6.5 /><circle cx=1007 cy=436 r=6.5 /><circle cx=1128 cy=104 r=6.5 /><circle cx=1071 cy=157 r=6.5 /><circle cx=1010 cy=125 r=6.5 /><circle cx=1039 cy=341 r=6.5 /><circle cx=1189 cy=307 r=6.5 /><circle cx=1275 cy=301 r=6.5 /><circle cx=1013 cy=237 r=6.5 /><circle cx=1249 cy=219 r=6.5 /><circle cx=1045 cy=100 r=6.5 /><circle cx=992 cy=174 r=6.5 /><circle cx=1257 cy=181 r=6.5 /><circle cx=1127 cy=151 r=6.5 /><circle cx=1033 cy=108 r=6.5 /><circle cx=1139 cy=317 r=6.5 /><circle cx=1118 cy=221 r=6.5 /><circle cx=1103 cy=320 r=6.5 /><circle cx=1156 cy=320 r=6.5 /><circle cx=1075 cy=206 r=6.5 /><circle cx=1038 cy=237 r=6.5 /><circle cx=1155 cy=382 r=6.5 /><circle cx=995 cy=100 r=6.5 /><circle cx=1046 cy=401 r=6.5 /><circle cx=1028 cy=380 r=6.5 /><circle cx=1092 cy=209 r=6.5 /><circle cx=1152 cy=151 r=6.5 /><circle cx=1074 cy=285 r=6.5 /><circle cx=1257 cy=240 r=6.5 /><circle cx=983 cy=131 r=6.5 /><circle cx=1070 cy=224 r=6.5 /><circle cx=1231 cy=181 r=6.5 /><circle cx=995 cy=104 r=6.5 /><circle cx=1177 cy=328 r=6.5 /><circle cx=1249 cy=359 r=6.5 /><circle cx=907 cy=459 r=6.5 /><circle cx=1136 cy=293 r=6.5 /><circle cx=1011 cy=187 r=6.5 /><circle cx=1163 cy=179 r=6.5 /><circle cx=1181 cy=230 r=6.5 /><circle cx=1003 cy=200 r=6.5 /><circle cx=998 cy=141 r=6.5 /><circle cx=1287 cy=235 r=6.5 /><circle cx=1096 cy=362 r=6.5 /><circle cx=1181 cy=160 r=6.5 /><circle cx=1168 cy=134 r=6.5 /><circle cx=1192 cy=302 r=6.5 /><circle cx=1260 cy=240 r=6.5 /><circle cx=1232 cy=392 r=6.5 /><circle cx=984 cy=308 r=6.5 /><circle cx=983 cy=351 r=6.5 /><circle cx=1058 cy=127 r=6.5 /><circle cx=1229 cy=176 r=6.5 /><circle cx=1232 cy=348 r=6.5 /><circle cx=953 cy=511 r=6.5 /><circle cx=1058 cy=449 r=6.5 /><circle cx=1047 cy=116 r=6.5 /><circle cx=1102 cy=415 r=6.5 /><circle cx=1022 cy=226 r=6.5 /><circle cx=1068 cy=98 r=6.5 /><circle cx=1096 cy=284 r=6.5 /><circle cx=1049 cy=292 r=6.5 /><circle cx=957 cy=482 r=6.5 /><circle cx=1067 cy=432 r=6.5 /><circle cx=1051 cy=271 r=6.5 /><circle cx=987 cy=382 r=6.5 /><circle cx=1051 cy=247 r=6.5 /><circle cx=1045 cy=106 r=6.5 /><circle cx=1047 cy=417 r=6.5 /><circle cx=1223 cy=219 r=6.5 /><circle cx=983 cy=172 r=6.5 /><circle cx=1175 cy=444 r=6.5 /><circle cx=1247 cy=364 r=6.5 /><circle cx=1008 cy=96 r=6.5 /><circle cx=1010 cy=127 r=6.5 /><circle cx=1149 cy=366 r=6.5 /><circle cx=1019 cy=200 r=6.5 /><circle cx=1076 cy=321 r=6.5 /><circle cx=1056 cy=122 r=6.5 /><circle cx=1272 cy=245 r=6.5 /><circle cx=1075 cy=267 r=6.5 /><circle cx=1077 cy=202 r=6.5 /><circle cx=1070 cy=190 r=6.5 /><circle cx=1120 cy=225 r=6.5 /><circle cx=1112 cy=347 r=6.5 /><circle cx=1080 cy=446 r=6.5 /><circle cx=991 cy=360 r=6.5 /><circle cx=1239 cy=342 r=6.5 /><circle cx=1012 cy=154 r=6.5 /><circle cx=978 cy=419 r=6.5 /><circle cx=1224 cy=225 r=6.5 /><circle cx=943 cy=277 r=6.5 /><circle cx=1078 cy=169 r=6.5 /><circle cx=1012 cy=220 r=6.5 /><circle cx=1043 cy=286 r=6.5 /><circle cx=1010 cy=278 r=6.5 /><circle cx=1122 cy=138 r=6.5 /><circle cx=1006 cy=264 r=6.5 /><circle cx=1104 cy=423 r=6.5 /><circle cx=1059 cy=233 r=6.5 /><circle cx=1247 cy=220 r=6.5 /><circle cx=986 cy=142 r=6.5 /><circle cx=1248 cy=298 r=6.5 /><circle cx=1273 cy=289 r=6.5 /><circle cx=1063 cy=480 r=6.5 /><circle cx=1122 cy=380 r=6.5 /><circle cx=1258 cy=306 r=6.5 /><circle cx=1106 cy=400 r=6.5 /><circle cx=1184 cy=471 r=6.5 /><circle cx=1081 cy=237 r=6.5 /><circle cx=1041 cy=266 r=6.5 /><circle cx=1073 cy=161 r=6.5 /><circle cx=1210 cy=243 r=6.5 /><circle cx=1077 cy=334 r=6.5 /><circle cx=1041 cy=136 r=6.5 /><circle cx=1281 cy=286 r=6.5 /><circle cx=1229 cy=397 r=6.5 /><circle cx=1282 cy=236 r=6.5 /><circle cx=1066 cy=188 r=6.5 /><circle cx=1104 cy=146 r=6.5 /><circle cx=982 cy=270 r=6.5 /><circle cx=1106 cy=465 r=6.5 /><circle cx=1127 cy=152 r=6.5 /><circle cx=1212 cy=444 r=6.5 /><circle cx=976 cy=408 r=6.5 /><circle cx=1023 cy=232 r=6.5 /><circle cx=1076 cy=178 r=6.5 /><circle cx=1103 cy=324 r=6.5 /><circle cx=1257 cy=373 r=6.5 /><circle cx=1263 cy=297 r=6.5 /><circle cx=991 cy=224 r=6.5 /><circle cx=1219 cy=440 r=6.5 /><circle cx=1033 cy=104 r=6.5 /><circle cx=1067 cy=319 r=6.5 /><circle cx=1068 cy=110 r=6.5 /><circle cx=1167 cy=127 r=6.5 /><circle cx=1022 cy=370 r=6.5 /><circle cx=1102 cy=148 r=6.5 /><circle cx=1118 cy=427 r=6.5 /><circle cx=1121 cy=238 r=6.5 /><circle cx=1194 cy=405 r=6.5 /><circle cx=987 cy=482 r=6.5 /><circle cx=1084 cy=278 r=6.5 /><circle cx=1230 cy=189 r=6.5 /><circle cx=1032 cy=510 r=6.5 /><circle cx=1054 cy=120 r=6.5 /><circle cx=1112 cy=377 r=6.5 /><circle cx=1171 cy=405 r=6.5 /><circle cx=1299 cy=339 r=6.5 /><circle cx=1013 cy=195 r=6.5 /><circle cx=1120 cy=298 r=6.5 /><circle cx=1032 cy=136 r=6.5 /><circle cx=1043 cy=91 r=6.5 /><circle cx=1161 cy=135 r=6.5 /><circle cx=1220 cy=205 r=6.5 /><circle cx=1184 cy=183 r=6.5 /><circle cx=1242 cy=201 r=6.5 /><circle cx=1120 cy=311 r=6.5 /><circle cx=1048 cy=184 r=6.5 /><circle cx=1250 cy=305 r=6.5 /><circle cx=1109 cy=370 r=6.5 /><circle cx=1063 cy=182 r=6.5 /><circle cx=1053 cy=427 r=6.5 /><circle cx=986 cy=279 r=6.5 /><circle cx=1025 cy=242 r=6.5 /><circle cx=1087 cy=331 r=6.5 /><circle cx=1195 cy=199 r=6.5 /><circle cx=1107 cy=380 r=6.5 /><circle cx=1104 cy=285 r=6.5 /><circle cx=1112 cy=245 r=6.5 /><circle cx=1108 cy=114 r=6.5 /><circle cx=1160 cy=168 r=6.5 /><circle cx=1179 cy=424 r=6.5 /><circle cx=1190 cy=338 r=6.5 /><circle cx=1137 cy=202 r=6.5 /><circle cx=1107 cy=253 r=6.5 /><circle cx=985 cy=209 r=6.5 /><circle cx=1178 cy=263 r=6.5 /><circle cx=1002 cy=178 r=6.5 /><circle cx=1016 cy=434 r=6.5 /><circle cx=1245 cy=181 r=6.5 /><circle cx=1264 cy=254 r=6.5 /><circle cx=990 cy=330 r=6.5 /><circle cx=1204 cy=273 r=6.5 /><circle cx=1257 cy=270 r=6.5 /><circle cx=980 cy=300 r=6.5 /><circle cx=1079 cy=459 r=6.5 /><circle cx=1038 cy=451 r=6.5 /><circle cx=1304 cy=247 r=6.5 /><circle cx=1007 cy=219 r=6.5 /><circle cx=1234 cy=162 r=6.5 /><circle cx=1144 cy=286 r=6.5 /><circle cx=993 cy=282 r=6.5 /><circle cx=1198 cy=243 r=6.5 /><circle cx=1232 cy=248 r=6.5 /><circle cx=1054 cy=280 r=6.5 /><circle cx=1127 cy=225 r=6.5 /><circle cx=1139 cy=290 r=6.5 /><circle cx=1018 cy=370 r=6.5 /><circle cx=1080 cy=154 r=6.5 /><circle cx=1252 cy=177 r=6.5 /><circle cx=1052 cy=464 r=6.5 /><circle cx=1249 cy=361 r=6.5 /><circle cx=1119 cy=210 r=6.5 /><circle cx=1146 cy=316 r=6.5 /><circle cx=1090 cy=236 r=6.5 /><circle cx=1085 cy=388 r=6.5 /><circle cx=1123 cy=114 r=6.5 /><circle cx=997 cy=251 r=6.5 /><circle cx=1255 cy=175 r=6.5 /><circle cx=1284 cy=239 r=6.5 /><circle cx=1156 cy=200 r=6.5 /><circle cx=1164 cy=266 r=6.5 /><circle cx=1283 cy=226 r=6.5 /><circle cx=1007 cy=202 r=6.5 /><circle cx=1077 cy=279 r=6.5 /><circle cx=987 cy=330 r=6.5 /><circle cx=1121 cy=259 r=6.5 /><circle cx=1251 cy=298 r=6.5 /><circle cx=1064 cy=177 r=6.5 /><circle cx=1067 cy=324 r=6.5 /><circle cx=1031 cy=216 r=6.5 /><circle cx=1067 cy=343 r=6.5 /><circle cx=1065 cy=316 r=6.5 /><circle cx=1094 cy=178 r=6.5 /><circle cx=1167 cy=445 r=6.5 /><circle cx=1089 cy=164 r=6.5 /><circle cx=1103 cy=434 r=6.5 /><circle cx=1022 cy=449 r=6.5 /><circle cx=1136 cy=113 r=6.5 /><circle cx=1230 cy=219 r=6.5 /><circle cx=963 cy=96 r=6.5 /><circle cx=1109 cy=298 r=6.5 /><circle cx=1146 cy=235 r=6.5 /><circle cx=1072 cy=248 r=6.5 /><circle cx=1044 cy=254 r=6.5 /><circle cx=1202 cy=350 r=6.5 /><circle cx=988 cy=352 r=6.5 /><circle cx=1216 cy=343 r=6.5 /><circle cx=909 cy=455 r=6.5 /><circle cx=1259 cy=233 r=6.5 /><circle cx=1074 cy=215 r=6.5 /><circle cx=999 cy=192 r=6.5 /><circle cx=1008 cy=176 r=6.5 /><circle cx=1236 cy=399 r=6.5 /><circle cx=1012 cy=125 r=6.5 /><circle cx=1096 cy=204 r=6.5 /><circle cx=1044 cy=135 r=6.5 /><circle cx=1061 cy=101 r=6.5 /><circle cx=1245 cy=264 r=6.5 /><circle cx=1242 cy=197 r=6.5 /><circle cx=1079 cy=439 r=6.5 /><circle cx=1258 cy=331 r=6.5 /><circle cx=1192 cy=298 r=6.5 /><circle cx=1091 cy=446 r=6.5 /><circle cx=1150 cy=131 r=6.5 /><circle cx=1157 cy=366 r=6.5 /><circle cx=1239 cy=271 r=6.5 /><circle cx=1150 cy=198 r=6.5 /><circle cx=1066 cy=475 r=6.5 /><circle cx=1003 cy=228 r=6.5 /><circle cx=1029 cy=216 r=6.5 /><circle cx=1104 cy=252 r=6.5 /><circle cx=1011 cy=304 r=6.5 /><circle cx=1026 cy=341 r=6.5 /><circle cx=1099 cy=295 r=6.5 /><circle cx=1114 cy=419 r=6.5 /><circle cx=947 cy=299 r=6.5 /><circle cx=1044 cy=364 r=6.5 /><circle cx=1034 cy=407 r=6.5 /><circle cx=1074 cy=302 r=6.5 /><circle cx=1117 cy=381 r=6.5 /><circle cx=1006 cy=206 r=6.5 /><circle cx=1056 cy=344 r=6.5 /><circle cx=1183 cy=259 r=6.5 /><circle cx=1070 cy=118 r=6.5 /><circle cx=1101 cy=293 r=6.5 /><circle cx=1157 cy=157 r=6.5 /><circle cx=949 cy=425 r=6.5 /><circle cx=1143 cy=145 r=6.5 /><circle cx=1056 cy=182 r=6.5 /><circle cx=1032 cy=365 r=6.5 /><circle cx=1256 cy=289 r=6.5 /><circle cx=1050 cy=210 r=6.5 /><circle cx=1055 cy=125 r=6.5 /><circle cx=995 cy=183 r=6.5 /><circle cx=1238 cy=294 r=6.5 /><circle cx=987 cy=275 r=6.5 /><circle cx=1205 cy=166 r=6.5 /><circle cx=1184 cy=137 r=6.5 /><circle cx=984 cy=463 r=6.5 /><circle cx=1163 cy=320 r=6.5 /><circle cx=1010 cy=122 r=6.5 /><circle cx=1177 cy=239 r=6.5 /><circle cx=1048 cy=129 r=6.5 /><circle cx=1166 cy=381 r=6.5 /><circle cx=999 cy=155 r=6.5 /><circle cx=1065 cy=455 r=6.5 /><circle cx=1185 cy=148 r=6.5 /><circle cx=1137 cy=273 r=6.5 /><circle cx=1151 cy=248 r=6.5 /><circle cx=1282 cy=260 r=6.5 /><circle cx=1051 cy=508 r=6.5 /><circle cx=1134 cy=330 r=6.5 /><circle cx=1198 cy=245 r=6.5 /><circle cx=1037 cy=287 r=6.5 /><circle cx=1221 cy=295 r=6.5 /><circle cx=1190 cy=196 r=6.5 /><circle cx=1205 cy=145 r=6.5 /><circle cx=1206 cy=251 r=6.5 /><circle cx=1192 cy=170 r=6.5 /><circle cx=1056 cy=181 r=6.5 /><circle cx=1163 cy=304 r=6.5 /><circle cx=1223 cy=327 r=6.5 /><circle cx=1175 cy=236 r=6.5 /><circle cx=1147 cy=280 r=6.5 /><circle cx=1158 cy=193 r=6.5 /><circle cx=1172 cy=152 r=6.5 /><circle cx=1102 cy=344 r=6.5 /><circle cx=939 cy=214 r=6.5 /><circle cx=1110 cy=265 r=6.5 /><circle cx=1127 cy=407 r=6.5 /><circle cx=1272 cy=271 r=6.5 /><circle cx=949 cy=438 r=6.5 /><circle cx=1248 cy=305 r=6.5 /><circle cx=1078 cy=84 r=6.5 /><circle cx=1017 cy=170 r=6.5 /><circle cx=1175 cy=164 r=6.5 /><circle cx=982 cy=341 r=6.5 /><circle cx=1087 cy=376 r=6.5 /><circle cx=1112 cy=213 r=6.5 /><circle cx=1025 cy=289 r=6.5 /><circle cx=1106 cy=394 r=6.5 /><circle cx=1028 cy=335 r=6.5 /><circle cx=975 cy=446 r=6.5 /><circle cx=1203 cy=154 r=6.5 /><circle cx=995 cy=390 r=6.5 /><circle cx=1212 cy=143 r=6.5 /><circle cx=1199 cy=162 r=6.5 /><circle cx=1058 cy=277 r=6.5 /><circle cx=1019 cy=259 r=6.5 /><circle cx=1139 cy=281 r=6.5 /><circle cx=989 cy=81 r=6.5 /><circle cx=1105 cy=150 r=6.5 /><circle cx=1021 cy=250 r=6.5 /><circle cx=1209 cy=436 r=6.5 /><circle cx=1208 cy=199 r=6.5 /><circle cx=1013 cy=328 r=6.5 /><circle cx=1063 cy=365 r=6.5 /><circle cx=1118 cy=197 r=6.5 /><circle cx=1053 cy=119 r=6.5 /><circle cx=1136 cy=385 r=6.5 /><circle cx=1041 cy=437 r=6.5 /><circle cx=1220 cy=209 r=6.5 /><circle cx=988 cy=480 r=6.5 /><circle cx=1036 cy=243 r=6.5 /><circle cx=1046 cy=224 r=6.5 /><circle cx=1028 cy=128 r=6.5 /><circle cx=1050 cy=362 r=6.5 /><circle cx=1202 cy=335 r=6.5 /><circle cx=1110 cy=222 r=6.5 /><circle cx=1210 cy=435 r=6.5 /><circle cx=960 cy=514 r=6.5 /><circle cx=1068 cy=195 r=6.5 /><circle cx=1053 cy=279 r=6.5 /><circle cx=1047 cy=266 r=6.5 /><circle cx=1137 cy=213 r=6.5 /><circle cx=1155 cy=253 r=6.5 /><circle cx=1196 cy=396 r=6.5 /><circle cx=1037 cy=141 r=6.5 /><circle cx=1073 cy=138 r=6.5 /><circle cx=1170 cy=332 r=6.5 /><circle cx=1172 cy=171 r=6.5 /><circle cx=1129 cy=272 r=6.5 /><circle cx=1255 cy=342 r=6.5 /><circle cx=1003 cy=91 r=6.5 /><circle cx=1198 cy=200 r=6.5 /><circle cx=1239 cy=201 r=6.5 /><circle cx=1056 cy=274 r=6.5 /><circle cx=994 cy=302 r=6.5 /><circle cx=979 cy=186 r=6.5 /><circle cx=992 cy=322 r=6.5 /><circle cx=1224 cy=299 r=6.5 /><circle cx=1029 cy=251 r=6.5 /><circle cx=1068 cy=169 r=6.5 /><circle cx=1100 cy=335 r=6.5 /><circle cx=1274 cy=339 r=6.5 /><circle cx=1085 cy=298 r=6.5 /><circle cx=1233 cy=252 r=6.5 /><circle cx=1208 cy=240 r=6.5 /><circle cx=1011 cy=80 r=6.5 /><circle cx=1201 cy=346 r=6.5 /><circle cx=1031 cy=86 r=6.5 /><circle cx=1011 cy=416 r=6.5 /><circle cx=1019 cy=268 r=6.5 /><circle cx=1034 cy=228 r=6.5 /><circle cx=1176 cy=392 r=6.5 /><circle cx=1247 cy=248 r=6.5 /><circle cx=1176 cy=451 r=6.5 /><circle cx=1230 cy=288 r=6.5 /><circle cx=1128 cy=185 r=6.5 /><circle cx=1033 cy=360 r=6.5 /><circle cx=1035 cy=266 r=6.5 /><circle cx=856 cy=504 r=6.5 /><circle cx=1210 cy=445 r=6.5 /><circle cx=1123 cy=508 r=6.5 /><circle cx=1118 cy=433 r=6.5 /><circle cx=1231 cy=291 r=6.5 /><circle cx=983 cy=344 r=6.5 /><circle cx=1009 cy=471 r=6.5 /><circle cx=1102 cy=204 r=6.5 /><circle cx=1030 cy=216 r=6.5 /><circle cx=1083 cy=229 r=6.5 /><circle cx=964 cy=82 r=6.5 /><circle cx=1253 cy=343 r=6.5 /><circle cx=990 cy=319 r=6.5 /><circle cx=1220 cy=454 r=6.5 /><circle cx=1132 cy=135 r=6.5 /><circle cx=1206 cy=270 r=6.5 /><circle cx=1145 cy=363 r=6.5 /><circle cx=1244 cy=176 r=6.5 /><circle cx=1247 cy=339 r=6.5 /><circle cx=1012 cy=270 r=6.5 /><circle cx=1121 cy=374 r=6.5 /><circle cx=1148 cy=159 r=6.5 /><circle cx=1071 cy=321 r=6.5 /><circle cx=1246 cy=383 r=6.5 /><circle cx=1045 cy=165 r=6.5 /><circle cx=1005 cy=305 r=6.5 /><circle cx=1074 cy=238 r=6.5 /><circle cx=1107 cy=280 r=6.5 /><circle cx=1108 cy=276 r=6.5 /><circle cx=1135 cy=107 r=6.5 /><circle cx=985 cy=148 r=6.5 /><circle cx=1162 cy=354 r=6.5 /><circle cx=1029 cy=242 r=6.5 /><circle cx=1191 cy=245 r=6.5 /><circle cx=1012 cy=265 r=6.5 /><circle cx=1156 cy=286 r=6.5 /><circle cx=1091 cy=481 r=6.5 /><circle cx=1092 cy=283 r=6.5 /><circle cx=1103 cy=512 r=6.5 /><circle cx=963 cy=485 r=6.5 /><circle cx=1003 cy=149 r=6.5 /><circle cx=883 cy=472 r=6.5 /><circle cx=1230 cy=235 r=6.5 /><circle cx=1044 cy=481 r=6.5 /><circle cx=1140 cy=166 r=6.5 /><circle cx=1203 cy=258 r=6.5 /><circle cx=1139 cy=314 r=6.5 /><circle cx=1000 cy=86 r=6.5 /><circle cx=1104 cy=317 r=6.5 /><circle cx=1096 cy=489 r=6.5 /><circle cx=1216 cy=382 r=6.5 /><circle cx=1183 cy=383 r=6.5 /><circle cx=1278 cy=252 r=6.5 /><circle cx=1041 cy=239 r=6.5 /><circle cx=983 cy=120 r=6.5 /><circle cx=1175 cy=425 r=6.5 /><circle cx=1195 cy=157 r=6.5 /><circle cx=1261 cy=313 r=6.5 /><circle cx=1111 cy=167 r=6.5 /><circle cx=1108 cy=153 r=6.5 /><circle cx=1274 cy=344 r=6.5 /><circle cx=1007 cy=467 r=6.5 /><circle cx=1051 cy=286 r=6.5 /><circle cx=1215 cy=338 r=6.5 /><circle cx=1048 cy=261 r=6.5 /><circle cx=1188 cy=403 r=6.5 /><circle cx=1113 cy=239 r=6.5 /><circle cx=1158 cy=143 r=6.5 /><circle cx=1171 cy=274 r=6.5 /><circle cx=1155 cy=117 r=6.5 /><circle cx=1174 cy=271 r=6.5 /><circle cx=1034 cy=155 r=6.5 /><circle cx=1150 cy=205 r=6.5 /><circle cx=1067 cy=334 r=6.5 /><circle cx=1027 cy=229 r=6.5 /><circle cx=1009 cy=240 r=6.5 /><circle cx=1122 cy=333 r=6.5 /><circle cx=1144 cy=503 r=6.5 /><circle cx=1170 cy=146 r=6.5 /><circle cx=1093 cy=476 r=6.5 /><circle cx=1044 cy=253 r=6.5 /><circle cx=1256 cy=374 r=6.5 /><circle cx=1040 cy=96 r=6.5 /><circle cx=1071 cy=357 r=6.5 /><circle cx=984 cy=450 r=6.5 /><circle cx=993 cy=210 r=6.5 /><circle cx=1202 cy=398 r=6.5 /><circle cx=1109 cy=271 r=6.5 /><circle cx=1152 cy=165 r=6.5 /><circle cx=1109 cy=117 r=6.5 /><circle cx=1277 cy=243 r=6.5 /><circle cx=1060 cy=396 r=6.5 /><circle cx=1186 cy=169 r=6.5 /><circle cx=967 cy=350 r=6.5 /><circle cx=1174 cy=194 r=6.5 /><circle cx=1191 cy=171 r=6.5 /><circle cx=1134 cy=354 r=6.5 /><circle cx=952 cy=159 r=6.5 /><circle cx=1065 cy=396 r=6.5 /><circle cx=986 cy=395 r=6.5 /><circle cx=963 cy=95 r=6.5 /><circle cx=1110 cy=325 r=6.5 /><circle cx=1067 cy=151 r=6.5 /><circle cx=960 cy=432 r=6.5 /><circle cx=1059 cy=265 r=6.5 /><circle cx=1178 cy=272 r=6.5 /><circle cx=1135 cy=408 r=6.5 /><circle cx=993 cy=265 r=6.5 /><circle cx=1122 cy=368 r=6.5 /><circle cx=1164 cy=413 r=6.5 /><circle cx=1054 cy=296 r=6.5 /><circle cx=1099 cy=147 r=6.5 /><circle cx=1220 cy=218 r=6.5 /><circle cx=1089 cy=279 r=6.5 /><circle cx=1088 cy=425 r=6.5 /><circle cx=1199 cy=192 r=6.5 /><circle cx=1037 cy=95 r=6.5 /><circle cx=985 cy=105 r=6.5 /><circle cx=1070 cy=319 r=6.5 /><circle cx=1213 cy=147 r=6.5 /><circle cx=1101 cy=354 r=6.5 /><circle cx=1171 cy=197 r=6.5 /><circle cx=997 cy=442 r=6.5 /><circle cx=1041 cy=155 r=6.5 /><circle cx=996 cy=240 r=6.5 /><circle cx=940 cy=448 r=6.5 /><circle cx=1273 cy=220 r=6.5 /><circle cx=1082 cy=343 r=6.5 /><circle cx=1224 cy=190 r=6.5 /><circle cx=1072 cy=214 r=6.5 /><circle cx=1047 cy=83 r=6.5 /><circle cx=1276 cy=287 r=6.5 /><circle cx=1197 cy=446 r=6.5 /><circle cx=1141 cy=228 r=6.5 /><circle cx=1125 cy=310 r=6.5 /><circle cx=1127 cy=249 r=6.5 /><circle cx=1169 cy=127 r=6.5 /><circle cx=1151 cy=375 r=6.5 /><circle cx=1185 cy=330 r=6.5 /><circle cx=1151 cy=242 r=6.5 /><circle cx=1090 cy=359 r=6.5 /><circle cx=1253 cy=285 r=6.5 /><circle cx=1155 cy=276 r=6.5 /><circle cx=1054 cy=127 r=6.5 /><circle cx=999 cy=142 r=6.5 /><circle cx=1031 cy=481 r=6.5 /><circle cx=1008 cy=503 r=6.5 /><circle cx=1057 cy=131 r=6.5 /><circle cx=1217 cy=288 r=6.5 /><circle cx=1161 cy=152 r=6.5 /><circle cx=1131 cy=219 r=6.5 /><circle cx=995 cy=199 r=6.5 /><circle cx=1171 cy=445 r=6.5 /><circle cx=1116 cy=262 r=6.5 /><circle cx=1185 cy=427 r=6.5 /><circle cx=1198 cy=429 r=6.5 /><circle cx=1164 cy=118 r=6.5 /><circle cx=1092 cy=93 r=6.5 /><circle cx=1168 cy=270 r=6.5 /><circle cx=1033 cy=358 r=6.5 /><circle cx=1011 cy=136 r=6.5 /><circle cx=1071 cy=476 r=6.5 /><circle cx=1062 cy=450 r=6.5 /><circle cx=1123 cy=371 r=6.5 /><circle cx=1189 cy=385 r=6.5 /><circle cx=1179 cy=396 r=6.5 /><circle cx=1264 cy=466 r=6.5 /><circle cx=1129 cy=183 r=6.5 /><circle cx=1127 cy=301 r=6.5 /><circle cx=978 cy=112 r=6.5 /><circle cx=986 cy=134 r=6.5 /><circle cx=1251 cy=238 r=6.5 /><circle cx=1132 cy=371 r=6.5 /><circle cx=1148 cy=322 r=6.5 /><circle cx=1037 cy=228 r=6.5 /><circle cx=1264 cy=204 r=6.5 /><circle cx=1251 cy=183 r=6.5 /><circle cx=1187 cy=393 r=6.5 /><circle cx=1096 cy=225 r=6.5 /><circle cx=1047 cy=284 r=6.5 /><circle cx=1037 cy=317 r=6.5 /><circle cx=1215 cy=433 r=6.5 /><circle cx=1041 cy=326 r=6.5 /><circle cx=1070 cy=286 r=6.5 /><circle cx=1076 cy=150 r=6.5 /><circle cx=1121 cy=275 r=6.5 /><circle cx=1102 cy=111 r=6.5 /><circle cx=1148 cy=363 r=6.5 /><circle cx=969 cy=491 r=6.5 /><circle cx=1000 cy=116 r=6.5 /><circle cx=1260 cy=199 r=6.5 /><circle cx=981 cy=184 r=6.5 /><circle cx=1217 cy=262 r=6.5 /><circle cx=1112 cy=386 r=6.5 /><circle cx=1167 cy=347 r=6.5 /><circle cx=1065 cy=181 r=6.5 /><circle cx=1184 cy=257 r=6.5 /><circle cx=1154 cy=337 r=6.5 /><circle cx=997 cy=161 r=6.5 /><circle cx=1157 cy=400 r=6.5 /><circle cx=1266 cy=271 r=6.5 /><circle cx=995 cy=280 r=6.5 /><circle cx=1166 cy=213 r=6.5 /><circle cx=1181 cy=219 r=6.5 /><circle cx=1032 cy=190 r=6.5 /><circle cx=1015 cy=146 r=6.5 /><circle cx=1008 cy=175 r=6.5 /><circle cx=1168 cy=121 r=6.5 /><circle cx=1048 cy=233 r=6.5 /><circle cx=1240 cy=386 r=6.5 /><circle cx=929 cy=262 r=6.5 /><circle cx=1084 cy=379 r=6.5 /><circle cx=1074 cy=203 r=6.5 /><circle cx=1277 cy=328 r=6.5 /><circle cx=984 cy=199 r=6.5 /><circle cx=1109 cy=92 r=6.5 /><circle cx=1071 cy=453 r=6.5 /><circle cx=971 cy=127 r=6.5 /><circle cx=1150 cy=192 r=6.5 /><circle cx=980 cy=399 r=6.5 /><circle cx=1123 cy=329 r=6.5 /><circle cx=1187 cy=226 r=6.5 /><circle cx=1123 cy=146 r=6.5 /><circle cx=1098 cy=392 r=6.5 /><circle cx=998 cy=181 r=6.5 /><circle cx=1117 cy=274 r=6.5 /><circle cx=1227 cy=279 r=6.5 /><circle cx=1203 cy=359 r=6.5 /><circle cx=942 cy=485 r=6.5 /><circle cx=994 cy=361 r=6.5 /><circle cx=1156 cy=318 r=6.5 /><circle cx=976 cy=100 r=6.5 /><circle cx=1134 cy=449 r=6.5 /><circle cx=1056 cy=441 r=6.5 /><circle cx=1082 cy=488 r=6.5 /><circle cx=980 cy=177 r=6.5 /><circle cx=1022 cy=211 r=6.5 /><circle cx=1018 cy=320 r=6.5 /><circle cx=1070 cy=195 r=6.5 /><circle cx=1133 cy=282 r=6.5 /><circle cx=1147 cy=497 r=6.5 /><circle cx=1006 cy=237 r=6.5 /><circle cx=942 cy=394 r=6.5 /><circle cx=1225 cy=262 r=6.5 /><circle cx=1153 cy=405 r=6.5 /><circle cx=1115 cy=131 r=6.5 /><circle cx=1230 cy=267 r=6.5 /><circle cx=1183 cy=375 r=6.5 /><circle cx=1092 cy=342 r=6.5 /><circle cx=1014 cy=320 r=6.5 /><circle cx=1246 cy=254 r=6.5 /><circle cx=1001 cy=511 r=6.5 /><circle cx=1297 cy=221 r=6.5 /><circle cx=1073 cy=423 r=6.5 /><circle cx=992 cy=359 r=6.5 /><circle cx=1253 cy=182 r=6.5 /><circle cx=1215 cy=449 r=6.5 /><circle cx=1149 cy=329 r=6.5 /><circle cx=1039 cy=485 r=6.5 /><circle cx=1239 cy=411 r=6.5 /><circle cx=1185 cy=186 r=6.5 /><circle cx=1062 cy=193 r=6.5 /><circle cx=1183 cy=183 r=6.5 /><circle cx=1225 cy=405 r=6.5 /><circle cx=1013 cy=427 r=6.5 /><circle cx=1103 cy=412 r=6.5 /><circle cx=1061 cy=141 r=6.5 /><circle cx=1218 cy=215 r=6.5 /><circle cx=1269 cy=217 r=6.5 /><circle cx=1085 cy=105 r=6.5 /><circle cx=982 cy=170 r=6.5 /><circle cx=1146 cy=350 r=6.5 /><circle cx=1202 cy=235 r=6.5 /><circle cx=1039 cy=392 r=6.5 /><circle cx=1074 cy=291 r=6.5 /><circle cx=1094 cy=416 r=6.5 /><circle cx=1052 cy=219 r=6.5 /><circle cx=1022 cy=389 r=6.5 /><circle cx=1098 cy=102 r=6.5 /><circle cx=1021 cy=206 r=6.5 /><circle cx=1193 cy=412 r=6.5 /><circle cx=1239 cy=239 r=6.5 /><circle cx=1063 cy=98 r=6.5 /><circle cx=1187 cy=253 r=6.5 /><circle cx=1157 cy=369 r=6.5 /><circle cx=1181 cy=211 r=6.5 /><circle cx=1088 cy=205 r=6.5 /><circle cx=1051 cy=492 r=6.5 /><circle cx=1132 cy=279 r=6.5 /><circle cx=1272 cy=294 r=6.5 /><circle cx=990 cy=162 r=6.5 /><circle cx=997 cy=248 r=6.5 /><circle cx=1155 cy=204 r=6.5 /><circle cx=1063 cy=121 r=6.5 /><circle cx=1079 cy=125 r=6.5 /><circle cx=969 cy=469 r=6.5 /><circle cx=1262 cy=387 r=6.5 /><circle cx=1088 cy=401 r=6.5 /><circle cx=1127 cy=312 r=6.5 /><circle cx=1125 cy=374 r=6.5 /><circle cx=1053 cy=118 r=6.5 /><circle cx=1247 cy=380 r=6.5 /><circle cx=1110 cy=484 r=6.5 /><circle cx=1110 cy=309 r=6.5 /><circle cx=1217 cy=288 r=6.5 /><circle cx=1071 cy=340 r=6.5 /><circle cx=1118 cy=285 r=6.5 /><circle cx=1243 cy=312 r=6.5 /><circle cx=1055 cy=435 r=6.5 /><circle cx=1047 cy=84 r=6.5 /><circle cx=1025 cy=198 r=6.5 /><circle cx=1148 cy=203 r=6.5 /><circle cx=1169 cy=329 r=6.5 /><circle cx=1042 cy=290 r=6.5 /><circle cx=1196 cy=489 r=6.5 /><circle cx=987 cy=111 r=6.5 /><circle cx=1135 cy=128 r=6.5 /><circle cx=1046 cy=96 r=6.5 /><circle cx=1086 cy=237 r=6.5 /><circle cx=1143 cy=181 r=6.5 /><circle cx=1127 cy=240 r=6.5 /><circle cx=1072 cy=131 r=6.5 /><circle cx=1151 cy=206 r=6.5 /><circle cx=1067 cy=444 r=6.5 /><circle cx=1245 cy=175 r=6.5 /><circle cx=934 cy=358 r=6.5 /><circle cx=1202 cy=256 r=6.5 /><circle cx=1008 cy=104 r=6.5 /><circle cx=1035 cy=415 r=6.5 /><circle cx=1160 cy=469 r=6.5 /><circle cx=1277 cy=276 r=6.5 /><circle cx=1125 cy=193 r=6.5 /><circle cx=1188 cy=420 r=6.5 /><circle cx=997 cy=134 r=6.5 /><circle cx=1156 cy=203 r=6.5 /><circle cx=1061 cy=160 r=6.5 /><circle cx=1095 cy=441 r=6.5 /><circle cx=1208 cy=329 r=6.5 /><circle cx=1260 cy=315 r=6.5 /><circle cx=1179 cy=294 r=6.5 /><circle cx=932 cy=459 r=6.5 /><circle cx=1103 cy=210 r=6.5 /><circle cx=1154 cy=387 r=6.5 /><circle cx=1136 cy=137 r=6.5 /><circle cx=1031 cy=245 r=6.5 /><circle cx=1148 cy=302 r=6.5 /><circle cx=1131 cy=163 r=6.5 /><circle cx=1186 cy=377 r=6.5 /><circle cx=1144 cy=236 r=6.5 /><circle cx=1128 cy=271 r=6.5 /><circle cx=1158 cy=172 r=6.5 /><circle cx=1000 cy=490 r=6.5 /><circle cx=912 cy=491 r=6.5 /><circle cx=1096 cy=118 r=6.5 /><circle cx=1122 cy=332 r=6.5 /><circle cx=1177 cy=418 r=6.5 /><circle cx=1174 cy=140 r=6.5 /><circle cx=1124 cy=169 r=6.5 /><circle cx=1019 cy=357 r=6.5 /><circle cx=1282 cy=373 r=6.5 /><circle cx=1161 cy=379 r=6.5 /><circle cx=1120 cy=161 r=6.5 /><circle cx=1182 cy=260 r=6.5 /><circle cx=1222 cy=219 r=6.5 /><circle cx=1035 cy=271 r=6.5 /><circle cx=994 cy=450 r=6.5 /><circle cx=1274 cy=216 r=6.5 /><circle cx=1105 cy=357 r=6.5 /><circle cx=1055 cy=180 r=6.5 /><circle cx=978 cy=353 r=6.5 /><circle cx=1033 cy=96 r=6.5 /><circle cx=1194 cy=269 r=6.5 /><circle cx=1108 cy=283 r=6.5 /><circle cx=1215 cy=414 r=6.5 /><circle cx=1245 cy=252 r=6.5 /><circle cx=1195 cy=465 r=6.5 /><circle cx=1165 cy=322 r=6.5 /><circle cx=1246 cy=380 r=6.5 /><circle cx=1094 cy=141 r=6.5 /><circle cx=1030 cy=139 r=6.5 /><circle cx=1117 cy=345 r=6.5 /><circle cx=1185 cy=418 r=6.5 /><circle cx=1049 cy=170 r=6.5 /><circle cx=1038 cy=390 r=6.5 /><circle cx=1064 cy=343 r=6.5 /><circle cx=1001 cy=417 r=6.5 /><circle cx=996 cy=492 r=6.5 /><circle cx=1261 cy=175 r=6.5 /><circle cx=1088 cy=243 r=6.5 /><circle cx=1161 cy=257 r=6.5 /><circle cx=1162 cy=326 r=6.5 /><circle cx=1082 cy=92 r=6.5 /><circle cx=940 cy=485 r=6.5 /><circle cx=996 cy=421 r=6.5 /><circle cx=1114 cy=448 r=6.5 /><circle cx=1035 cy=273 r=6.5 /><circle cx=1273 cy=299 r=6.5 /><circle cx=922 cy=479 r=6.5 /><circle cx=1150 cy=249 r=6.5 /><circle cx=1019 cy=298 r=6.5 /><circle cx=1151 cy=150 r=6.5 /><circle cx=1088 cy=234 r=6.5 /><circle cx=1039 cy=160 r=6.5 /><circle cx=995 cy=337 r=6.5 /><circle cx=1055 cy=323 r=6.5 /><circle cx=1253 cy=282 r=6.5 /><circle cx=1099 cy=238 r=6.5 /><circle cx=1203 cy=326 r=6.5 /><circle cx=966 cy=427 r=6.5 /><circle cx=1077 cy=314 r=6.5 /><circle cx=1222 cy=240 r=6.5 /><circle cx=1100 cy=451 r=6.5 /><circle cx=1205 cy=139 r=6.5 /><circle cx=1046 cy=137 r=6.5 /><circle cx=1228 cy=195 r=6.5 /><circle cx=1155 cy=217 r=6.5 /><circle cx=1143 cy=151 r=6.5 /><circle cx=1094 cy=279 r=6.5 /><circle cx=1199 cy=150 r=6.5 /><circle cx=1103 cy=252 r=6.5 /><circle cx=1099 cy=379 r=6.5 /><circle cx=1053 cy=111 r=6.5 /><circle cx=1244 cy=191 r=6.5 /><circle cx=1130 cy=289 r=6.5 /><circle cx=1132 cy=268 r=6.5 /><circle cx=1087 cy=110 r=6.5 /><circle cx=966 cy=487 r=6.5 /><circle cx=977 cy=371 r=6.5 /><circle cx=1258 cy=223 r=6.5 /><circle cx=962 cy=450 r=6.5 /><circle cx=1068 cy=353 r=6.5 /><circle cx=1180 cy=270 r=6.5 /><circle cx=1085 cy=252 r=6.5 /><circle cx=1197 cy=213 r=6.5 /><circle cx=1116 cy=201 r=6.5 /><circle cx=1016 cy=153 r=6.5 /><circle cx=1246 cy=255 r=6.5 /><circle cx=1081 cy=85 r=6.5 /><circle cx=1201 cy=328 r=6.5 /><circle cx=971 cy=178 r=6.5 /><circle cx=1062 cy=275 r=6.5 /><circle cx=988 cy=253 r=6.5 /><circle cx=1137 cy=182 r=6.5 /><circle cx=1179 cy=175 r=6.5 /><circle cx=1031 cy=172 r=6.5 /><circle cx=1158 cy=473 r=6.5 /><circle cx=1095 cy=202 r=6.5 /><circle cx=942 cy=278 r=6.5 /><circle cx=977 cy=409 r=6.5 /><circle cx=1098 cy=257 r=6.5 /><circle cx=1254 cy=301 r=6.5 /><circle cx=975 cy=100 r=6.5 /><circle cx=1084 cy=421 r=6.5 /><circle cx=1079 cy=285 r=6.5 /><circle cx=1001 cy=223 r=6.5 /><circle cx=1126 cy=418 r=6.5 /><circle cx=1007 cy=489 r=6.5 /><circle cx=1050 cy=198 r=6.5 /><circle cx=971 cy=83 r=6.5 /><circle cx=1007 cy=363 r=6.5 /><circle cx=1021 cy=241 r=6.5 /><circle cx=960 cy=244 r=6.5 /><circle cx=1286 cy=371 r=6.5 /><circle cx=1299 cy=244 r=6.5 /><circle cx=1015 cy=107 r=6.5 /><circle cx=1107 cy=285 r=6.5 /><circle cx=1227 cy=330 r=6.5 /><circle cx=1065 cy=106 r=6.5 /><circle cx=1224 cy=341 r=6.5 /><circle cx=1013 cy=246 r=6.5 /><circle cx=1144 cy=106 r=6.5 /><circle cx=988 cy=171 r=6.5 /><circle cx=1204 cy=154 r=6.5 /><circle cx=1067 cy=168 r=6.5 /><circle cx=1189 cy=213 r=6.5 /><circle cx=1118 cy=305 r=6.5 /><circle cx=1209 cy=217 r=6.5 /><circle cx=992 cy=219 r=6.5 /><circle cx=1219 cy=335 r=6.5 /><circle cx=999 cy=248 r=6.5 /><circle cx=1012 cy=335 r=6.5 /><circle cx=1154 cy=137 r=6.5 /><circle cx=1272 cy=320 r=6.5 /><circle cx=1098 cy=399 r=6.5 /><circle cx=1100 cy=293 r=6.5 /><circle cx=1189 cy=227 r=6.5 /><circle cx=1162 cy=203 r=6.5 /><circle cx=1079 cy=350 r=6.5 /><circle cx=1183 cy=368 r=6.5 /><circle cx=997 cy=97 r=6.5 /><circle cx=1193 cy=350 r=6.5 /><circle cx=1084 cy=217 r=6.5 /><circle cx=1081 cy=356 r=6.5 /><circle cx=1012 cy=474 r=6.5 /><circle cx=966 cy=113 r=6.5 /><circle cx=1224 cy=265 r=6.5 /><circle cx=1281 cy=282 r=6.5 /><circle cx=977 cy=416 r=6.5 /><circle cx=1231 cy=385 r=6.5 /><circle cx=1256 cy=250 r=6.5 /><circle cx=1057 cy=272 r=6.5 /><circle cx=1190 cy=293 r=6.5 /><circle cx=1176 cy=199 r=6.5 /><circle cx=1202 cy=439 r=6.5 /><circle cx=1095 cy=291 r=6.5 /><circle cx=1102 cy=244 r=6.5 /><circle cx=1151 cy=321 r=6.5 /><circle cx=1149 cy=446 r=6.5 /><circle cx=1174 cy=446 r=6.5 /><circle cx=1137 cy=360 r=6.5 /><circle cx=1130 cy=467 r=6.5 /><circle cx=1076 cy=100 r=6.5 /><circle cx=1108 cy=126 r=6.5 /><circle cx=1064 cy=341 r=6.5 /><circle cx=1185 cy=259 r=6.5 /><circle cx=1214 cy=282 r=6.5 /><circle cx=1085 cy=158 r=6.5 /><circle cx=981 cy=227 r=6.5 /><circle cx=1011 cy=201 r=6.5 /><circle cx=1023 cy=241 r=6.5 /><circle cx=1033 cy=140 r=6.5 /><circle cx=1116 cy=159 r=6.5 /><circle cx=1246 cy=379 r=6.5 /><circle cx=1100 cy=200 r=6.5 /><circle cx=1175 cy=137 r=6.5 /><circle cx=1183 cy=300 r=6.5 /><circle cx=1110 cy=325 r=6.5 /><circle cx=1068 cy=267 r=6.5 /><circle cx=1149 cy=122 r=6.5 /><circle cx=1059 cy=239 r=6.5 /><circle cx=1197 cy=437 r=6.5 /><circle cx=1085 cy=327 r=6.5 /><circle cx=987 cy=290 r=6.5 /><circle cx=1031 cy=193 r=6.5 /><circle cx=1028 cy=258 r=6.5 /><circle cx=1048 cy=511 r=6.5 /><circle cx=1099 cy=238 r=6.5 /><circle cx=1067 cy=496 r=6.5 /><circle cx=1059 cy=225 r=6.5 /><circle cx=994 cy=328 r=6.5 /><circle cx=1101 cy=206 r=6.5 /><circle cx=1176 cy=368 r=6.5 /><circle cx=1149 cy=144 r=6.5 /><circle cx=1103 cy=226 r=6.5 /><circle cx=1065 cy=291 r=6.5 /><circle cx=974 cy=215 r=6.5 /><circle cx=1277 cy=248 r=6.5 /><circle cx=1190 cy=398 r=6.5 /><circle cx=1140 cy=244 r=6.5 /><circle cx=1032 cy=487 r=6.5 /><circle cx=990 cy=469 r=6.5 /><circle cx=976 cy=225 r=6.5 /><circle cx=1002 cy=132 r=6.5 /><circle cx=1005 cy=333 r=6.5 /><circle cx=1013 cy=315 r=6.5 /><circle cx=1001 cy=171 r=6.5 /><circle cx=1126 cy=175 r=6.5 /><circle cx=1052 cy=101 r=6.5 /><circle cx=1141 cy=275 r=6.5 /><circle cx=991 cy=171 r=6.5 /><circle cx=1172 cy=226 r=6.5 /><circle cx=1164 cy=138 r=6.5 /><circle cx=921 cy=499 r=6.5 /><circle cx=1104 cy=361 r=6.5 /><circle cx=1077 cy=184 r=6.5 /><circle cx=1136 cy=249 r=6.5 /><circle cx=981 cy=96 r=6.5 /><circle cx=1042 cy=154 r=6.5 /><circle cx=1123 cy=215 r=6.5 /><circle cx=1067 cy=258 r=6.5 /><circle cx=1094 cy=196 r=6.5 /><circle cx=1160 cy=323 r=6.5 /><circle cx=1076 cy=340 r=6.5 /><circle cx=1189 cy=346 r=6.5 /><circle cx=1133 cy=158 r=6.5 /><circle cx=1071 cy=133 r=6.5 /><circle cx=1109 cy=420 r=6.5 /><circle cx=1235 cy=255 r=6.5 /><circle cx=1081 cy=298 r=6.5 /><circle cx=1087 cy=386 r=6.5 /><circle cx=1012 cy=97 r=6.5 /><circle cx=1228 cy=279 r=6.5 /><circle cx=1070 cy=231 r=6.5 /><circle cx=984 cy=179 r=6.5 /><circle cx=1099 cy=155 r=6.5 /><circle cx=1019 cy=470 r=6.5 /><circle cx=1294 cy=238 r=6.5 /><circle cx=993 cy=102 r=6.5 /><circle cx=1204 cy=190 r=6.5 /><circle cx=1103 cy=490 r=6.5 /><circle cx=1107 cy=438 r=6.5 /><circle cx=1101 cy=374 r=6.5 /><circle cx=1034 cy=155 r=6.5 /><circle cx=991 cy=98 r=6.5 /><circle cx=1149 cy=383 r=6.5 /><circle cx=1120 cy=341 r=6.5 /><circle cx=1176 cy=451 r=6.5 /><circle cx=1118 cy=95 r=6.5 /><circle cx=1024 cy=206 r=6.5 /><circle cx=1105 cy=478 r=6.5 /><circle cx=1214 cy=297 r=6.5 /><circle cx=1184 cy=320 r=6.5 /><circle cx=1116 cy=257 r=6.5 /><circle cx=1079 cy=412 r=6.5 /><circle cx=1225 cy=303 r=6.5 /><circle cx=1015 cy=480 r=6.5 /><circle cx=1062 cy=160 r=6.5 /><circle cx=1057 cy=458 r=6.5 /><circle cx=1020 cy=260 r=6.5 /><circle cx=1064 cy=171 r=6.5 /><circle cx=1127 cy=409 r=6.5 /><circle cx=1066 cy=507 r=6.5 /><circle cx=1129 cy=243 r=6.5 /><circle cx=1213 cy=162 r=6.5 /><circle cx=1026 cy=291 r=6.5 /><circle cx=1221 cy=317 r=6.5 /><circle cx=1288 cy=373 r=6.5 /><circle cx=1062 cy=467 r=6.5 /><circle cx=1080 cy=424 r=6.5 /><circle cx=1076 cy=114 r=6.5 /><circle cx=1130 cy=270 r=6.5 /><circle cx=1040 cy=308 r=6.5 /><circle cx=1190 cy=305 r=6.5 /><circle cx=1085 cy=301 r=6.5 /><circle cx=995 cy=172 r=6.5 /><circle cx=1121 cy=274 r=6.5 /><circle cx=1193 cy=296 r=6.5 /><circle cx=1067 cy=254 r=6.5 /><circle cx=1043 cy=405 r=6.5 /><circle cx=1266 cy=350 r=6.5 /><circle cx=1252 cy=408 r=6.5 /><circle cx=1170 cy=133 r=6.5 /><circle cx=1123 cy=248 r=6.5 /><circle cx=1022 cy=365 r=6.5 /><circle cx=1087 cy=193 r=6.5 /><circle cx=1177 cy=398 r=6.5 /><circle cx=1228 cy=229 r=6.5 /><circle cx=1211 cy=226 r=6.5 /><circle cx=1201 cy=184 r=6.5 /><circle cx=1219 cy=350 r=6.5 /><circle cx=1044 cy=215 r=6.5 /><circle cx=990 cy=216 r=6.5 /><circle cx=1070 cy=175 r=6.5 /><circle cx=1231 cy=324 r=6.5 /><circle cx=1025 cy=248 r=6.5 /><circle cx=1014 cy=161 r=6.5 /><circle cx=1021 cy=439 r=6.5 /><circle cx=1046 cy=307 r=6.5 /><circle cx=1210 cy=153 r=6.5 /><circle cx=1197 cy=372 r=6.5 /><circle cx=961 cy=342 r=6.5 /><circle cx=1132 cy=106 r=6.5 /><circle cx=1081 cy=116 r=6.5 /><circle cx=998 cy=283 r=6.5 /><circle cx=1151 cy=487 r=6.5 /><circle cx=1249 cy=214 r=6.5 /><circle cx=1025 cy=152 r=6.5 /><circle cx=1114 cy=251 r=6.5 /><circle cx=1079 cy=375 r=6.5 /><circle cx=1052 cy=269 r=6.5 /><circle cx=1070 cy=274 r=6.5 /><circle cx=1096 cy=416 r=6.5 /><circle cx=1016 cy=456 r=6.5 /><circle cx=974 cy=113 r=6.5 /><circle cx=1070 cy=455 r=6.5 /><circle cx=1054 cy=369 r=6.5 /><circle cx=1010 cy=412 r=6.5 /><circle cx=1225 cy=347 r=6.5 /><circle cx=1187 cy=153 r=6.5 /><circle cx=1051 cy=325 r=6.5 /><circle cx=995 cy=173 r=6.5 /><circle cx=958 cy=433 r=6.5 /><circle cx=1163 cy=315 r=6.5 /><circle cx=1070 cy=102 r=6.5 /><circle cx=1191 cy=400 r=6.5 /><circle cx=1147 cy=226 r=6.5 /><circle cx=1109 cy=162 r=6.5 /><circle cx=1104 cy=450 r=6.5 /><circle cx=961 cy=432 r=6.5 /><circle cx=1079 cy=108 r=6.5 /><circle cx=1081 cy=179 r=6.5 /><circle cx=1202 cy=426 r=6.5 /><circle cx=1150 cy=495 r=6.5 /><circle cx=1047 cy=340 r=6.5 /><circle cx=972 cy=445 r=6.5 /><circle cx=1080 cy=476 r=6.5 /><circle cx=1078 cy=149 r=6.5 /><circle cx=1037 cy=122 r=6.5 /><circle cx=987 cy=148 r=6.5 /><circle cx=1148 cy=345 r=6.5 /><circle cx=1095 cy=473 r=6.5 /><circle cx=1046 cy=256 r=6.5 /><circle cx=1234 cy=253 r=6.5 /><circle cx=999 cy=81 r=6.5 /><circle cx=943 cy=199 r=6.5 /><circle cx=1162 cy=191 r=6.5 /><circle cx=1080 cy=450 r=6.5 /><circle cx=985 cy=187 r=6.5 /><circle cx=1155 cy=251 r=6.5 /><circle cx=1026 cy=268 r=6.5 /><circle cx=1116 cy=234 r=6.5 /><circle cx=1182 cy=214 r=6.5 /><circle cx=1173 cy=218 r=6.5 /><circle cx=987 cy=83 r=6.5 /><circle cx=1013 cy=173 r=6.5 /><circle cx=1000 cy=472 r=6.5 /><circle cx=1015 cy=425 r=6.5 /><circle cx=992 cy=260 r=6.5 /><circle cx=994 cy=350 r=6.5 /><circle cx=1237 cy=483 r=6.5 /><circle cx=994 cy=101 r=6.5 /><circle cx=1153 cy=148 r=6.5 /><circle cx=1236 cy=172 r=6.5 /><circle cx=978 cy=106 r=6.5 /><circle cx=1231 cy=349 r=6.5 /><circle cx=1262 cy=295 r=6.5 /><circle cx=1259 cy=319 r=6.5 /><circle cx=1127 cy=448 r=6.5 /><circle cx=1082 cy=116 r=6.5 /><circle cx=1082 cy=394 r=6.5 /><circle cx=1137 cy=210 r=6.5 /><circle cx=1290 cy=227 r=6.5 /><circle cx=1170 cy=284 r=6.5 /><circle cx=1315 cy=243 r=6.5 /><circle cx=1152 cy=243 r=6.5 /><circle cx=1069 cy=155 r=6.5 /><circle cx=988 cy=369 r=6.5 /><circle cx=980 cy=322 r=6.5 /><circle cx=1035 cy=228 r=6.5 /><circle cx=1171 cy=210 r=6.5 /><circle cx=1006 cy=391 r=6.5 /><circle cx=1033 cy=174 r=6.5 /><circle cx=1125 cy=457 r=6.5 /><circle cx=1198 cy=250 r=6.5 /><circle cx=1040 cy=107 r=6.5 /><circle cx=1045 cy=232 r=6.5 /><circle cx=1283 cy=198 r=6.5 /><circle cx=1125 cy=449 r=6.5 /><circle cx=1172 cy=353 r=6.5 /><circle cx=1066 cy=243 r=6.5 /><circle cx=1154 cy=231 r=6.5 /><circle cx=1199 cy=223 r=6.5 /><circle cx=1239 cy=344 r=6.5 /><circle cx=1029 cy=135 r=6.5 /><circle cx=1244 cy=285 r=6.5 /><circle cx=1065 cy=195 r=6.5 /><circle cx=1080 cy=230 r=6.5 /><circle cx=1166 cy=257 r=6.5 /><circle cx=1085 cy=229 r=6.5 /><circle cx=1051 cy=90 r=6.5 /><circle cx=1245 cy=281 r=6.5 /><circle cx=1244 cy=324 r=6.5 /><circle cx=1087 cy=241 r=6.5 /><circle cx=1204 cy=262 r=6.5 /><circle cx=1057 cy=283 r=6.5 /><circle cx=1103 cy=348 r=6.5 /><circle cx=1004 cy=294 r=6.5 /><circle cx=1262 cy=250 r=6.5 /><circle cx=1100 cy=388 r=6.5 /><circle cx=1158 cy=513 r=6.5 /><circle cx=988 cy=159 r=6.5 /><circle cx=1279 cy=240 r=6.5 /><circle cx=1230 cy=227 r=6.5 /><circle cx=1069 cy=165 r=6.5 /><circle cx=1144 cy=156 r=6.5 /><circle cx=991 cy=511 r=6.5 /><circle cx=986 cy=101 r=6.5 /><circle cx=1066 cy=147 r=6.5 /><circle cx=1012 cy=514 r=6.5 /><circle cx=1126 cy=117 r=6.5 /><circle cx=1121 cy=186 r=6.5 /><circle cx=1197 cy=267 r=6.5 /><circle cx=995 cy=499 r=6.5 /><circle cx=963 cy=95 r=6.5 /><circle cx=1242 cy=328 r=6.5 /><circle cx=984 cy=444 r=6.5 /><circle cx=1059 cy=207 r=6.5 /><circle cx=1077 cy=509 r=6.5 /><circle cx=1238 cy=364 r=6.5 /><circle cx=1098 cy=162 r=6.5 /><circle cx=1068 cy=353 r=6.5 /><circle cx=1037 cy=85 r=6.5 /><circle cx=1118 cy=284 r=6.5 /><circle cx=1197 cy=429 r=6.5 /><circle cx=1113 cy=362 r=6.5 /><circle cx=1182 cy=220 r=6.5 /><circle cx=1031 cy=184 r=6.5 /><circle cx=1003 cy=374 r=6.5 /><circle cx=1027 cy=485 r=6.5 /><circle cx=1008 cy=271 r=6.5 /><circle cx=1250 cy=241 r=6.5 /><circle cx=1084 cy=176 r=6.5 /><circle cx=1255 cy=193 r=6.5 /><circle cx=1052 cy=250 r=6.5 /><circle cx=1111 cy=266 r=6.5 /><circle cx=1236 cy=299 r=6.5 /><circle cx=1163 cy=351 r=6.5 /><circle cx=1057 cy=249 r=6.5 /><circle cx=1286 cy=203 r=6.5 /><circle cx=1280 cy=206 r=6.5 /><circle cx=1094 cy=225 r=6.5 /><circle cx=979 cy=248 r=6.5 /><circle cx=1012 cy=127 r=6.5 /><circle cx=1205 cy=285 r=6.5 /><circle cx=1099 cy=113 r=6.5 /><circle cx=1058 cy=281 r=6.5 /><circle cx=1061 cy=156 r=6.5 /><circle cx=986 cy=502 r=6.5 /><circle cx=1273 cy=300 r=6.5 /><circle cx=1138 cy=205 r=6.5 /><circle cx=1017 cy=173 r=6.5 /><circle cx=1138 cy=407 r=6.5 /><circle cx=1214 cy=435 r=6.5 /><circle cx=1015 cy=175 r=6.5 /><circle cx=1040 cy=121 r=6.5 /><circle cx=1199 cy=178 r=6.5 /><circle cx=1043 cy=174 r=6.5 /><circle cx=956 cy=469 r=6.5 /><circle cx=1149 cy=102 r=6.5 /><circle cx=1150 cy=375 r=6.5 /><circle cx=1032 cy=110 r=6.5 /><circle cx=1131 cy=216 r=6.5 /><circle cx=1092 cy=513 r=6.5 /><circle cx=1073 cy=184 r=6.5 /><circle cx=1252 cy=190 r=6.5 /><circle cx=1018 cy=298 r=6.5 /><circle cx=1180 cy=228 r=6.5 /><circle cx=1164 cy=504 r=6.5 /><circle cx=1069 cy=380 r=6.5 /><circle cx=1182 cy=142 r=6.5 /><circle cx=1049 cy=450 r=6.5 /><circle cx=1148 cy=216 r=6.5 /><circle cx=1247 cy=267 r=6.5 /><circle cx=1102 cy=355 r=6.5 /><circle cx=1104 cy=310 r=6.5 /><circle cx=1108 cy=302 r=6.5 /><circle cx=1018 cy=455 r=6.5 /><circle cx=1117 cy=255 r=6.5 /><circle cx=1265 cy=325 r=6.5 /><circle cx=1170 cy=208 r=6.5 /><circle cx=1197 cy=426 r=6.5 /><circle cx=1031 cy=247 r=6.5 /><circle cx=1001 cy=146 r=6.5 /><circle cx=980 cy=126 r=6.5 /><circle cx=1113 cy=202 r=6.5 /><circle cx=1179 cy=448 r=6.5 /><circle cx=1286 cy=282 r=6.5 /><circle cx=1072 cy=496 r=6.5 /><circle cx=1199 cy=166 r=6.5 /><circle cx=1176 cy=342 r=6.5 /><circle cx=1154 cy=162 r=6.5 /><circle cx=971 cy=514 r=6.5 /><circle cx=1072 cy=270 r=6.5 /><circle cx=948 cy=465 r=6.5 /><circle cx=1109 cy=123 r=6.5 /><circle cx=1240 cy=281 r=6.5 /><circle cx=1270 cy=229 r=6.5 /><circle cx=1184 cy=217 r=6.5 /><circle cx=1098 cy=150 r=6.5 /><circle cx=1212 cy=379 r=6.5 /><circle cx=1082 cy=106 r=6.5 /><circle cx=1217 cy=158 r=6.5 /><circle cx=1125 cy=457 r=6.5 /><circle cx=1199 cy=156 r=6.5 /><circle cx=1085 cy=454 r=6.5 /><circle cx=1013 cy=329 r=6.5 /><circle cx=1021 cy=91 r=6.5 /><circle cx=1056 cy=172 r=6.5 /><circle cx=1054 cy=266 r=6.5 /><circle cx=1137 cy=172 r=6.5 /><circle cx=1076 cy=88 r=6.5 /><circle cx=1234 cy=313 r=6.5 /><circle cx=1244 cy=167 r=6.5 /><circle cx=1139 cy=101 r=6.5 /><circle cx=1009 cy=398 r=6.5 /><circle cx=1049 cy=470 r=6.5 /><circle cx=1060 cy=271 r=6.5 /><circle cx=1214 cy=266 r=6.5 /><circle cx=1245 cy=344 r=6.5 /><circle cx=1076 cy=488 r=6.5 /><circle cx=1179 cy=147 r=6.5 /><circle cx=1128 cy=244 r=6.5 /><circle cx=1206 cy=217 r=6.5 /><circle cx=1152 cy=225 r=6.5 /><circle cx=946 cy=493 r=6.5 /><circle cx=1141 cy=226 r=6.5 /><circle cx=1092 cy=445 r=6.5 /><circle cx=1203 cy=167 r=6.5 /><circle cx=1236 cy=206 r=6.5 /><circle cx=1257 cy=240 r=6.5 /><circle cx=985 cy=451 r=6.5 /><circle cx=1061 cy=368 r=6.5 /><circle cx=1179 cy=178 r=6.5 /><circle cx=1014 cy=269 r=6.5 /><circle cx=1096 cy=261 r=6.5 /><circle cx=1093 cy=382 r=6.5 /><circle cx=1181 cy=349 r=6.5 /><circle cx=1052 cy=368 r=6.5 /><circle cx=1144 cy=330 r=6.5 /><circle cx=1159 cy=227 r=6.5 /><circle cx=1145 cy=211 r=6.5 /><circle cx=1121 cy=456 r=6.5 /><circle cx=1225 cy=252 r=6.5 /><circle cx=1072 cy=361 r=6.5 /><circle cx=1088 cy=370 r=6.5 /><circle cx=1178 cy=164 r=6.5 /><circle cx=1285 cy=299 r=6.5 /><circle cx=1222 cy=190 r=6.5 /><circle cx=1243 cy=307 r=6.5 /><circle cx=1211 cy=172 r=6.5 /><circle cx=1073 cy=234 r=6.5 /><circle cx=1155 cy=189 r=6.5 /><circle cx=1084 cy=313 r=6.5 /><circle cx=1169 cy=423 r=6.5 /><circle cx=1166 cy=369 r=6.5 /><circle cx=1055 cy=206 r=6.5 /><circle cx=1137 cy=136 r=6.5 /><circle cx=1193 cy=267 r=6.5 /><circle cx=1020 cy=446 r=6.5 /><circle cx=1017 cy=101 r=6.5 /><circle cx=1092 cy=260 r=6.5 /><circle cx=982 cy=481 r=6.5 /><circle cx=1084 cy=417 r=6.5 /><circle cx=960 cy=237 r=6.5 /><circle cx=1063 cy=325 r=6.5 /><circle cx=1241 cy=180 r=6.5 /><circle cx=1113 cy=93 r=6.5 /><circle cx=1034 cy=452 r=6.5 /><circle cx=1123 cy=367 r=6.5 /><circle cx=962 cy=141 r=6.5 /><circle cx=1110 cy=306 r=6.5 /><circle cx=1184 cy=277 r=6.5 /><circle cx=932 cy=187 r=6.5 /><circle cx=983 cy=191 r=6.5 /><circle cx=1141 cy=323 r=6.5 /><circle cx=1045 cy=123 r=6.5 /><circle cx=1195 cy=349 r=6.5 /><circle cx=1027 cy=319 r=6.5 /><circle cx=1118 cy=269 r=6.5 /><circle cx=1016 cy=364 r=6.5 /><circle cx=1002 cy=309 r=6.5 /><circle cx=1094 cy=235 r=6.5 /><circle cx=1269 cy=226 r=6.5 /><circle cx=1260 cy=396 r=6.5 /><circle cx=952 cy=156 r=6.5 /><circle cx=960 cy=89 r=6.5 /><circle cx=1156 cy=329 r=6.5 /><circle cx=985 cy=118 r=6.5 /><circle cx=973 cy=440 r=6.5 /><circle cx=972 cy=186 r=6.5 /><circle cx=1191 cy=388 r=6.5 /><circle cx=1113 cy=435 r=6.5 /><circle cx=1127 cy=241 r=6.5 /><circle cx=1103 cy=282 r=6.5 /><circle cx=1077 cy=258 r=6.5 /><circle cx=980 cy=434 r=6.5 /><circle cx=996 cy=196 r=6.5 /><circle cx=1114 cy=315 r=6.5 /><circle cx=987 cy=123 r=6.5 /><circle cx=1048 cy=215 r=6.5 /><circle cx=1038 cy=374 r=6.5 /><circle cx=1142 cy=162 r=6.5 /><circle cx=1109 cy=139 r=6.5 /><circle cx=985 cy=428 r=6.5 /><circle cx=1060 cy=423 r=6.5 /><circle cx=1164 cy=234 r=6.5 /><circle cx=1046 cy=268 r=6.5 /><circle cx=995 cy=489 r=6.5 /><circle cx=1267 cy=370 r=6.5 /><circle cx=1168 cy=304 r=6.5 /><circle cx=1048 cy=231 r=6.5 /><circle cx=1109 cy=340 r=6.5 /><circle cx=1121 cy=256 r=6.5 /><circle cx=966 cy=212 r=6.5 /><circle cx=1045 cy=420 r=6.5 /><circle cx=1143 cy=280 r=6.5 /><circle cx=1159 cy=211 r=6.5 /><circle cx=1178 cy=216 r=6.5 /><circle cx=1030 cy=214 r=6.5 /><circle cx=1201 cy=272 r=6.5 /><circle cx=1168 cy=176 r=6.5 /><circle cx=1196 cy=488 r=6.5 /><circle cx=1239 cy=249 r=6.5 /><circle cx=1310 cy=330 r=6.5 /><circle cx=1160 cy=283 r=6.5 /><circle cx=1086 cy=106 r=6.5 /><circle cx=1118 cy=325 r=6.5 /><circle cx=1098 cy=345 r=6.5 /><circle cx=1261 cy=318 r=6.5 /><circle cx=1049 cy=135 r=6.5 /><circle cx=1081 cy=136 r=6.5 /><circle cx=1010 cy=359 r=6.5 /><circle cx=1191 cy=367 r=6.5 /><circle cx=1176 cy=142 r=6.5 /><circle cx=1189 cy=448 r=6.5 /><circle cx=1191 cy=223 r=6.5 /><circle cx=1210 cy=188 r=6.5 /><circle cx=1055 cy=428 r=6.5 /><circle cx=999 cy=106 r=6.5 /><circle cx=981 cy=203 r=6.5 /><circle cx=1087 cy=463 r=6.5 /><circle cx=1052 cy=94 r=6.5 /><circle cx=1295 cy=315 r=6.5 /><circle cx=1155 cy=355 r=6.5 /><circle cx=1119 cy=122 r=6.5 /><circle cx=1048 cy=165 r=6.5 /><circle cx=1267 cy=207 r=6.5 /><circle cx=1161 cy=384 r=6.5 /><circle cx=1236 cy=282 r=6.5 /><circle cx=1233 cy=428 r=6.5 /><circle cx=1186 cy=372 r=6.5 /><circle cx=1137 cy=483 r=6.5 /><circle cx=1096 cy=373 r=6.5 /><circle cx=1043 cy=515 r=6.5 /><circle cx=1076 cy=287 r=6.5 /><circle cx=1051 cy=210 r=6.5 /><circle cx=999 cy=246 r=6.5 /><circle cx=1097 cy=208 r=6.5 /><circle cx=894 cy=489 r=6.5 /><circle cx=1126 cy=363 r=6.5 /><circle cx=1312 cy=260 r=6.5 /><circle cx=1119 cy=201 r=6.5 /><circle cx=1098 cy=245 r=6.5 /><circle cx=1005 cy=335 r=6.5 /><circle cx=1204 cy=148 r=6.5 /><circle cx=970 cy=136 r=6.5 /><circle cx=1032 cy=126 r=6.5 /><circle cx=1060 cy=431 r=6.5 /><circle cx=1073 cy=364 r=6.5 /><circle cx=1194 cy=240 r=6.5 /><circle cx=1230 cy=249 r=6.5 /><circle cx=1051 cy=189 r=6.5 /><circle cx=1273 cy=228 r=6.5 /><circle cx=920 cy=372 r=6.5 /><circle cx=1106 cy=377 r=6.5 /><circle cx=1090 cy=179 r=6.5 /><circle cx=1107 cy=272 r=6.5 /><circle cx=1153 cy=152 r=6.5 /><circle cx=1096 cy=208 r=6.5 /><circle cx=1182 cy=322 r=6.5 /><circle cx=1261 cy=232 r=6.5 /><circle cx=1211 cy=285 r=6.5 /><circle cx=1072 cy=158 r=6.5 /><circle cx=1031 cy=286 r=6.5 /><circle cx=1019 cy=195 r=6.5 /><circle cx=1249 cy=318 r=6.5 /><circle cx=1118 cy=162 r=6.5 /><circle cx=1021 cy=429 r=6.5 /><circle cx=1250 cy=184 r=6.5 /><circle cx=1062 cy=163 r=6.5 /><circle cx=1134 cy=147 r=6.5 /><circle cx=1257 cy=270 r=6.5 /><circle cx=1069 cy=358 r=6.5 /><circle cx=1183 cy=217 r=6.5 /><circle cx=1127 cy=319 r=6.5 /><circle cx=1182 cy=298 r=6.5 /><circle cx=1142 cy=281 r=6.5 /><circle cx=1298 cy=311 r=6.5 /><circle cx=1160 cy=478 r=6.5 /><circle cx=1275 cy=306 r=6.5 /><circle cx=1105 cy=138 r=6.5 /><circle cx=1187 cy=151 r=6.5 /><circle cx=1103 cy=349 r=6.5 /><circle cx=996 cy=295 r=6.5 /><circle cx=977 cy=364 r=6.5 /><circle cx=1039 cy=420 r=6.5 /><circle cx=1038 cy=98 r=6.5 /><circle cx=1104 cy=160 r=6.5 /><circle cx=1078 cy=301 r=6.5 /><circle cx=1067 cy=360 r=6.5 /><circle cx=1094 cy=237 r=6.5 /><circle cx=1002 cy=86 r=6.5 /><circle cx=1065 cy=134 r=6.5 /><circle cx=1239 cy=294 r=6.5 /><circle cx=1065 cy=176 r=6.5 /><circle cx=908 cy=200 r=6.5 /><circle cx=1042 cy=315 r=6.5 /><circle cx=1162 cy=413 r=6.5 /><circle cx=1201 cy=151 r=6.5 /><circle cx=1127 cy=231 r=6.5 /><circle cx=1074 cy=111 r=6.5 /><circle cx=1072 cy=286 r=6.5 /><circle cx=986 cy=122 r=6.5 /><circle cx=1130 cy=131 r=6.5 /><circle cx=1072 cy=230 r=6.5 /><circle cx=1162 cy=262 r=6.5 /><circle cx=1074 cy=189 r=6.5 /><circle cx=1027 cy=394 r=6.5 /><circle cx=984 cy=288 r=6.5 /><circle cx=1000 cy=483 r=6.5 /><circle cx=1186 cy=456 r=6.5 /><circle cx=1018 cy=96 r=6.5 /><circle cx=1201 cy=171 r=6.5 /><circle cx=1123 cy=345 r=6.5 /><circle cx=1172 cy=164 r=6.5 /><circle cx=1057 cy=376 r=6.5 /><circle cx=1209 cy=350 r=6.5 /><circle cx=1241 cy=244 r=6.5 /><circle cx=1010 cy=202 r=6.5 /><circle cx=1001 cy=226 r=6.5 /><circle cx=993 cy=196 r=6.5 /><circle cx=1018 cy=204 r=6.5 /><circle cx=1217 cy=418 r=6.5 /><circle cx=1092 cy=223 r=6.5 /><circle cx=1002 cy=250 r=6.5 /><circle cx=1231 cy=298 r=6.5 /><circle cx=990 cy=158 r=6.5 /><circle cx=1138 cy=377 r=6.5 /><circle cx=997 cy=201 r=6.5 /><circle cx=1248 cy=302 r=6.5 /><circle cx=977 cy=175 r=6.5 /><circle cx=1110 cy=378 r=6.5 /><circle cx=1040 cy=127 r=6.5 /><circle cx=1218 cy=500 r=6.5 /><circle cx=1051 cy=473 r=6.5 /><circle cx=990 cy=129 r=6.5 /><circle cx=1000 cy=208 r=6.5 /><circle cx=1066 cy=348 r=6.5 /><circle cx=1085 cy=191 r=6.5 /><circle cx=1056 cy=204 r=6.5 /><circle cx=1082 cy=102 r=6.5 /><circle cx=1246 cy=172 r=6.5 /><circle cx=1285 cy=380 r=6.5 /><circle cx=1230 cy=271 r=6.5 /><circle cx=994 cy=456 r=6.5 /><circle cx=1170 cy=489 r=6.5 /><circle cx=1082 cy=272 r=6.5 /><circle cx=1024 cy=195 r=6.5 /><circle cx=1002 cy=337 r=6.5 /><circle cx=1002 cy=472 r=6.5 /><circle cx=1159 cy=130 r=6.5 /><circle cx=1131 cy=514 r=6.5 /><circle cx=1252 cy=192 r=6.5 /><circle cx=1111 cy=102 r=6.5 /><circle cx=1115 cy=121 r=6.5 /><circle cx=1162 cy=230 r=6.5 /><circle cx=1018 cy=89 r=6.5 /><circle cx=1027 cy=379 r=6.5 /><circle cx=922 cy=391 r=6.5 /><circle cx=1105 cy=316 r=6.5 /><circle cx=1260 cy=252 r=6.5 /><circle cx=949 cy=134 r=6.5 /><circle cx=1012 cy=397 r=6.5 /><circle cx=1225 cy=340 r=6.5 /><circle cx=1103 cy=365 r=6.5 /><circle cx=1262 cy=408 r=6.5 /><circle cx=1172 cy=482 r=6.5 /><circle cx=1119 cy=150 r=6.5 /><circle cx=1156 cy=152 r=6.5 /><circle cx=1034 cy=246 r=6.5 /><circle cx=1128 cy=443 r=6.5 /><circle cx=1213 cy=394 r=6.5 /><circle cx=1070 cy=291 r=6.5 /><circle cx=983 cy=382 r=6.5 /><circle cx=1105 cy=205 r=6.5 /><circle cx=1141 cy=111 r=6.5 /><circle cx=1025 cy=330 r=6.5 /><circle cx=1150 cy=393 r=6.5 /><circle cx=1177 cy=142 r=6.5 /><circle cx=1175 cy=147 r=6.5 /><circle cx=1009 cy=200 r=6.5 /><circle cx=1029 cy=260 r=6.5 /><circle cx=1059 cy=490 r=6.5 /><circle cx=1004 cy=439 r=6.5 /><circle cx=1024 cy=240 r=6.5 /><circle cx=895 cy=487 r=6.5 /><circle cx=1261 cy=379 r=6.5 /><circle cx=1149 cy=237 r=6.5 /><circle cx=1002 cy=79 r=6.5 /><circle cx=1080 cy=264 r=6.5 /><circle cx=975 cy=203 r=6.5 /><circle cx=1000 cy=310 r=6.5 /><circle cx=1279 cy=185 r=6.5 /><circle cx=1215 cy=380 r=6.5 /><circle cx=988 cy=222 r=6.5 /><circle cx=1118 cy=197 r=6.5 /><circle cx=1036 cy=472 r=6.5 /><circle cx=1236 cy=412 r=6.5 /><circle cx=1108 cy=377 r=6.5 /><circle cx=1253 cy=331 r=6.5 /><circle cx=1143 cy=193 r=6.5 /><circle cx=1004 cy=195 r=6.5 /><circle cx=1186 cy=130 r=6.5 /><circle cx=1064 cy=336 r=6.5 /><circle cx=1136 cy=249 r=6.5 /><circle cx=1194 cy=377 r=6.5 /><circle cx=1242 cy=227 r=6.5 /><circle cx=1237 cy=402 r=6.5 /><circle cx=979 cy=161 r=6.5 /><circle cx=1181 cy=223 r=6.5 /><circle cx=1113 cy=371 r=6.5 /><circle cx=1123 cy=255 r=6.5 /><circle cx=1088 cy=269 r=6.5 /><circle cx=1115 cy=427 r=6.5 /><circle cx=1196 cy=245 r=6.5 /><circle cx=1114 cy=298 r=6.5 /><circle cx=1212 cy=459 r=6.5 /><circle cx=1086 cy=189 r=6.5 /><circle cx=1026 cy=223 r=6.5 /><circle cx=1132 cy=446 r=6.5 /><circle cx=1104 cy=167 r=6.5 /><circle cx=1089 cy=155 r=6.5 /><circle cx=1026 cy=425 r=6.5 /><circle cx=1144 cy=106 r=6.5 /><circle cx=1166 cy=221 r=6.5 /><circle cx=1210 cy=335 r=6.5 /><circle cx=1266 cy=229 r=6.5 /><circle cx=1067 cy=343 r=6.5 /><circle cx=1161 cy=134 r=6.5 /><circle cx=1085 cy=124 r=6.5 /><circle cx=1125 cy=323 r=6.5 /><circle cx=1154 cy=297 r=6.5 /><circle cx=1056 cy=234 r=6.5 /><circle cx=1111 cy=167 r=6.5 /><circle cx=1143 cy=397 r=6.5 /><circle cx=1144 cy=143 r=6.5 /><circle cx=1270 cy=306 r=6.5 /><circle cx=1151 cy=124 r=6.5 /><circle cx=974 cy=390 r=6.5 /><circle cx=1051 cy=88 r=6.5 /><circle cx=1184 cy=209 r=6.5 /><circle cx=1059 cy=403 r=6.5 /><circle cx=1231 cy=197 r=6.5 /><circle cx=1179 cy=174 r=6.5 /><circle cx=1028 cy=352 r=6.5 /><circle cx=1235 cy=250 r=6.5 /><circle cx=1153 cy=188 r=6.5 /><circle cx=1042 cy=177 r=6.5 /><circle cx=1290 cy=293 r=6.5 /><circle cx=1119 cy=350 r=6.5 /><circle cx=994 cy=368 r=6.5 /><circle cx=1062 cy=387 r=6.5 /><circle cx=1081 cy=195 r=6.5 /><circle cx=1063 cy=114 r=6.5 /><circle cx=1261 cy=166 r=6.5 /><circle cx=1155 cy=110 r=6.5 /><circle cx=972 cy=278 r=6.5 /><circle cx=1058 cy=105 r=6.5 /><circle cx=1024 cy=357 r=6.5 /><circle cx=1122 cy=186 r=6.5 /><circle cx=1107 cy=210 r=6.5 /><circle cx=1180 cy=125 r=6.5 /><circle cx=991 cy=409 r=6.5 /><circle cx=1080 cy=139 r=6.5 /><circle cx=1274 cy=251 r=6.5 /><circle cx=1036 cy=386 r=6.5 /><circle cx=1225 cy=185 r=6.5 /><circle cx=1286 cy=194 r=6.5 /><circle cx=989 cy=381 r=6.5 /><circle cx=983 cy=111 r=6.5 /><circle cx=1225 cy=214 r=6.5 /><circle cx=1259 cy=175 r=6.5 /><circle cx=1218 cy=312 r=6.5 /><circle cx=1029 cy=505 r=6.5 /><circle cx=1264 cy=300 r=6.5 /><circle cx=1135 cy=291 r=6.5 /><circle cx=1050 cy=344 r=6.5 /><circle cx=1116 cy=253 r=6.5 /><circle cx=1061 cy=172 r=6.5 /><circle cx=1282 cy=287 r=6.5 /><circle cx=1125 cy=204 r=6.5 /><circle cx=1212 cy=218 r=6.5 /><circle cx=1248 cy=376 r=6.5 /><circle cx=1081 cy=114 r=6.5 /><circle cx=1036 cy=491 r=6.5 /><circle cx=1021 cy=161 r=6.5 /><circle cx=1105 cy=124 r=6.5 /><circle cx=1086 cy=225 r=6.5 /><circle cx=1171 cy=194 r=6.5 /><circle cx=1119 cy=395 r=6.5 /><circle cx=1268 cy=202 r=6.5 /><circle cx=997 cy=494 r=6.5 /><circle cx=964 cy=179 r=6.5 /><circle cx=1216 cy=388 r=6.5 /><circle cx=1053 cy=246 r=6.5 /><circle cx=1244 cy=236 r=6.5 /><circle cx=1153 cy=120 r=6.5 /><circle cx=1112 cy=197 r=6.5 /><circle cx=1091 cy=249 r=6.5 /><circle cx=1192 cy=286 r=6.5 /><circle cx=1237 cy=173 r=6.5 /><circle cx=1094 cy=287 r=6.5 /><circle cx=1236 cy=227 r=6.5 /><circle cx=1006 cy=84 r=6.5 /><circle cx=1046 cy=245 r=6.5 /><circle cx=976 cy=460 r=6.5 /><circle cx=1273 cy=342 r=6.5 /><circle cx=962 cy=102 r=6.5 /><circle cx=1104 cy=153 r=6.5 /><circle cx=982 cy=126 r=6.5 /><circle cx=1051 cy=190 r=6.5 /><circle cx=1275 cy=247 r=6.5 /><circle cx=1127 cy=103 r=6.5 /><circle cx=1025 cy=188 r=6.5 /><circle cx=1048 cy=350 r=6.5 /><circle cx=1151 cy=124 r=6.5 /><circle cx=1187 cy=214 r=6.5 /><circle cx=1085 cy=132 r=6.5 /><circle cx=1084 cy=324 r=6.5 /><circle cx=1100 cy=229 r=6.5 /><circle cx=1182 cy=269 r=6.5 /><circle cx=1219 cy=188 r=6.5 /><circle cx=1052 cy=293 r=6.5 /><circle cx=1119 cy=259 r=6.5 /><circle cx=1281 cy=270 r=6.5 /><circle cx=1255 cy=314 r=6.5 /><circle cx=1080 cy=356 r=6.5 /><circle cx=1135 cy=220 r=6.5 /><circle cx=1022 cy=388 r=6.5 /><circle cx=1205 cy=277 r=6.5 /><circle cx=1182 cy=369 r=6.5 /><circle cx=1031 cy=114 r=6.5 /><circle cx=1098 cy=452 r=6.5 /><circle cx=1082 cy=284 r=6.5 /><circle cx=1042 cy=337 r=6.5 /><circle cx=1088 cy=286 r=6.5 /><circle cx=1100 cy=229 r=6.5 /><circle cx=1264 cy=333 r=6.5 /><circle cx=1035 cy=165 r=6.5 /><circle cx=1055 cy=350 r=6.5 /><circle cx=1131 cy=404 r=6.5 /><circle cx=1176 cy=368 r=6.5 /><circle cx=1072 cy=262 r=6.5 /><circle cx=986 cy=161 r=6.5 /><circle cx=964 cy=247 r=6.5 /><circle cx=1016 cy=81 r=6.5 /><circle cx=1190 cy=133 r=6.5 /><circle cx=1013 cy=202 r=6.5 /><circle cx=987 cy=254 r=6.5 /><circle cx=1272 cy=226 r=6.5 /><circle cx=1099 cy=330 r=6.5 /><circle cx=1129 cy=241 r=6.5 /><circle cx=1155 cy=162 r=6.5 /><circle cx=1260 cy=307 r=6.5 /><circle cx=1011 cy=321 r=6.5 /><circle cx=971 cy=324 r=6.5 /><circle cx=1200 cy=353 r=6.5 /><circle cx=1097 cy=292 r=6.5 /><circle cx=1212 cy=158 r=6.5 /><circle cx=1162 cy=113 r=6.5 /><circle cx=1089 cy=365 r=6.5 /><circle cx=1245 cy=192 r=6.5 /><circle cx=1274 cy=251 r=6.5 /><circle cx=1110 cy=364 r=6.5 /><circle cx=1054 cy=167 r=6.5 /><circle cx=972 cy=144 r=6.5 /><circle cx=1279 cy=199 r=6.5 /><circle cx=1179 cy=175 r=6.5 /><circle cx=1081 cy=205 r=6.5 /><circle cx=1286 cy=241 r=6.5 /><circle cx=1133 cy=117 r=6.5 /><circle cx=1068 cy=212 r=6.5 /><circle cx=1080 cy=372 r=6.5 /><circle cx=1094 cy=237 r=6.5 /><circle cx=1049 cy=290 r=6.5 /><circle cx=1116 cy=394 r=6.5 /><circle cx=1184 cy=134 r=6.5 /><circle cx=1238 cy=215 r=6.5 /><circle cx=1167 cy=261 r=6.5 /><circle cx=1083 cy=195 r=6.5 /><circle cx=1059 cy=387 r=6.5 /><circle cx=1025 cy=463 r=6.5 /><circle cx=1183 cy=269 r=6.5 /><circle cx=1068 cy=144 r=6.5 /><circle cx=1063 cy=423 r=6.5 /><circle cx=1111 cy=227 r=6.5 /><circle cx=1032 cy=417 r=6.5 /><circle cx=1242 cy=196 r=6.5 /><circle cx=1195 cy=175 r=6.5 /><circle cx=1274 cy=190 r=6.5 /><circle cx=1052 cy=287 r=6.5 /><circle cx=1074 cy=87 r=6.5 /><circle cx=1127 cy=243 r=6.5 /><circle cx=1063 cy=259 r=6.5 /><circle cx=1159 cy=278 r=6.5 /><circle cx=1041 cy=110 r=6.5 /><circle cx=974 cy=478 r=6.5 /><circle cx=1211 cy=319 r=6.5 /><circle cx=1098 cy=222 r=6.5 /><circle cx=1055 cy=224 r=6.5 /><circle cx=1287 cy=351 r=6.5 /><circle cx=1049 cy=184 r=6.5 /><circle cx=1033 cy=416 r=6.5 /><circle cx=1144 cy=173 r=6.5 /><circle cx=1066 cy=99 r=6.5 /><circle cx=991 cy=182 r=6.5 /><circle cx=973 cy=84 r=6.5 /><circle cx=1168 cy=178 r=6.5 /><circle cx=1193 cy=171 r=6.5 /><circle cx=1160 cy=177 r=6.5 /><circle cx=1065 cy=133 r=6.5 /><circle cx=1264 cy=258 r=6.5 /><circle cx=994 cy=196 r=6.5 /><circle cx=1221 cy=308 r=6.5 /><circle cx=1117 cy=472 r=6.5 /><circle cx=1204 cy=148 r=6.5 /><circle cx=1055 cy=240 r=6.5 /><circle cx=1104 cy=513 r=6.5 /><circle cx=1141 cy=235 r=6.5 /><circle cx=1011 cy=163 r=6.5 /><circle cx=1215 cy=217 r=6.5 /><circle cx=986 cy=370 r=6.5 /><circle cx=1129 cy=98 r=6.5 /><circle cx=1215 cy=467 r=6.5 /><circle cx=1058 cy=166 r=6.5 /><circle cx=1133 cy=358 r=6.5 /><circle cx=1263 cy=347 r=6.5 /><circle cx=1223 cy=252 r=6.5 /><circle cx=1159 cy=159 r=6.5 /><circle cx=1287 cy=217 r=6.5 /><circle cx=1228 cy=165 r=6.5 /><circle cx=1034 cy=334 r=6.5 /><circle cx=1211 cy=465 r=6.5 /><circle cx=1231 cy=206 r=6.5 /><circle cx=1134 cy=310 r=6.5 /><circle cx=990 cy=290 r=6.5 /><circle cx=1231 cy=240 r=6.5 /><circle cx=1098 cy=89 r=6.5 /><circle cx=1062 cy=108 r=6.5 /><circle cx=1154 cy=235 r=6.5 /><circle cx=1230 cy=201 r=6.5 /><circle cx=1212 cy=161 r=6.5 /><circle cx=1201 cy=413 r=6.5 /><circle cx=1162 cy=299 r=6.5 /><circle cx=950 cy=109 r=6.5 /><circle cx=1222 cy=151 r=6.5 /><circle cx=1055 cy=97 r=6.5 /><circle cx=1212 cy=223 r=6.5 /><circle cx=1192 cy=152 r=6.5 /><circle cx=1295 cy=252 r=6.5 /><circle cx=1144 cy=170 r=6.5 /><circle cx=1028 cy=368 r=6.5 /><circle cx=1135 cy=440 r=6.5 /><circle cx=1020 cy=129 r=6.5 /><circle cx=1184 cy=334 r=6.5 /><circle cx=1038 cy=373 r=6.5 /><circle cx=1209 cy=290 r=6.5 /><circle cx=1145 cy=371 r=6.5 /><circle cx=1089 cy=339 r=6.5 /><circle cx=1207 cy=420 r=6.5 /><circle cx=1061 cy=114 r=6.5 /><circle cx=1200 cy=453 r=6.5 /><circle cx=1185 cy=129 r=6.5 /><circle cx=991 cy=450 r=6.5 /><circle cx=1224 cy=186 r=6.5 /><circle cx=1015 cy=205 r=6.5 /><circle cx=1016 cy=204 r=6.5 /><circle cx=1075 cy=420 r=6.5 /><circle cx=1215 cy=214 r=6.5 /><circle cx=947 cy=468 r=6.5 /><circle cx=1063 cy=286 r=6.5 /><circle cx=1182 cy=437 r=6.5 /><circle cx=1223 cy=313 r=6.5 /><circle cx=1181 cy=454 r=6.5 /><circle cx=1238 cy=172 r=6.5 /><circle cx=1052 cy=344 r=6.5 /><circle cx=1101 cy=272 r=6.5 /><circle cx=975 cy=127 r=6.5 /><circle cx=1248 cy=405 r=6.5 /><circle cx=1242 cy=233 r=6.5 /><circle cx=1008 cy=514 r=6.5 /><circle cx=1268 cy=218 r=6.5 /><circle cx=1016 cy=192 r=6.5 /><circle cx=1102 cy=402 r=6.5 /><circle cx=1211 cy=398 r=6.5 /><circle cx=1166 cy=183 r=6.5 /><circle cx=1196 cy=311 r=6.5 /><circle cx=1166 cy=196 r=6.5 /><circle cx=1021 cy=276 r=6.5 /><circle cx=1047 cy=213 r=6.5 /><circle cx=1016 cy=166 r=6.5 /><circle cx=1057 cy=92 r=6.5 /><circle cx=1003 cy=107 r=6.5 /><circle cx=1148 cy=458 r=6.5 /><circle cx=1069 cy=432 r=6.5 /><circle cx=1029 cy=129 r=6.5 /><circle cx=1089 cy=353 r=6.5 /><circle cx=980 cy=157 r=6.5 /><circle cx=1188 cy=329 r=6.5 /><circle cx=994 cy=213 r=6.5 /><circle cx=1241 cy=228 r=6.5 /><circle cx=1269 cy=272 r=6.5 /><circle cx=1250 cy=220 r=6.5 /><circle cx=996 cy=369 r=6.5 /><circle cx=995 cy=388 r=6.5 /><circle cx=1281 cy=195 r=6.5 /><circle cx=1105 cy=367 r=6.5 /><circle cx=1184 cy=482 r=6.5 /><circle cx=1000 cy=471 r=6.5 /><circle cx=961 cy=436 r=6.5 /><circle cx=1152 cy=315 r=6.5 /><circle cx=1254 cy=170 r=6.5 /><circle cx=1077 cy=204 r=6.5 /><circle cx=1201 cy=349 r=6.5 /><circle cx=1196 cy=174 r=6.5 /><circle cx=1149 cy=269 r=6.5 /><circle cx=1221 cy=182 r=6.5 /><circle cx=1041 cy=321 r=6.5 /><circle cx=990 cy=427 r=6.5 /><circle cx=1165 cy=329 r=6.5 /><circle cx=1217 cy=473 r=6.5 /><circle cx=1144 cy=267 r=6.5 /><circle cx=1050 cy=133 r=6.5 /><circle cx=1189 cy=240 r=6.5 /><circle cx=1080 cy=439 r=6.5 /><circle cx=1164 cy=270 r=6.5 /><circle cx=1256 cy=190 r=6.5 /><circle cx=1023 cy=228 r=6.5 /><circle cx=1011 cy=101 r=6.5 /><circle cx=956 cy=149 r=6.5 /><circle cx=1242 cy=410 r=6.5 /><circle cx=1165 cy=228 r=6.5 /><circle cx=1032 cy=513 r=6.5 /><circle cx=1060 cy=202 r=6.5 /><circle cx=1188 cy=250 r=6.5 /><circle cx=979 cy=87 r=6.5 /><circle cx=1206 cy=443 r=6.5 /><circle cx=1123 cy=415 r=6.5 /><circle cx=1030 cy=222 r=6.5 /><circle cx=1289 cy=297 r=6.5 /><circle cx=1211 cy=421 r=6.5 /><circle cx=1041 cy=306 r=6.5 /><circle cx=1244 cy=318 r=6.5 /><circle cx=1080 cy=387 r=6.5 /><circle cx=1276 cy=259 r=6.5 /><circle cx=1107 cy=371 r=6.5 /><circle cx=1210 cy=160 r=6.5 /><circle cx=1214 cy=433 r=6.5 /><circle cx=1087 cy=224 r=6.5 /><circle cx=1022 cy=465 r=6.5 /><circle cx=1246 cy=250 r=6.5 /><circle cx=1037 cy=405 r=6.5 /><circle cx=1209 cy=471 r=6.5 /><circle cx=978 cy=250 r=6.5 /><circle cx=1143 cy=127 r=6.5 /><circle cx=1097 cy=216 r=6.5 /><circle cx=1217 cy=324 r=6.5 /><circle cx=1197 cy=352 r=6.5 /><circle cx=1067 cy=292 r=6.5 /><circle cx=1090 cy=297 r=6.5 /><circle cx=1111 cy=198 r=6.5 /><circle cx=998 cy=336 r=6.5 /><circle cx=1159 cy=134 r=6.5 /><circle cx=976 cy=405 r=6.5 /><circle cx=1001 cy=239 r=6.5 /><circle cx=1084 cy=122 r=6.5 /><circle cx=1073 cy=190 r=6.5 /><circle cx=986 cy=109 r=6.5 /><circle cx=946 cy=467 r=6.5 /><circle cx=1235 cy=253 r=6.5 /><circle cx=976 cy=481 r=6.5 /><circle cx=1233 cy=227 r=6.5 /><circle cx=1121 cy=191 r=6.5 /><circle cx=1212 cy=185 r=6.5 /><circle cx=1281 cy=283 r=6.5 /><circle cx=1030 cy=367 r=6.5 /><circle cx=961 cy=348 r=6.5 /><circle cx=1042 cy=348 r=6.5 /><circle cx=1151 cy=204 r=6.5 /><circle cx=1076 cy=195 r=6.5 /><circle cx=1024 cy=269 r=6.5 /><circle cx=1268 cy=248 r=6.5 /><circle cx=1270 cy=192 r=6.5 /><circle cx=1164 cy=118 r=6.5 /><circle cx=1002 cy=168 r=6.5 /><circle cx=1070 cy=115 r=6.5 /><circle cx=1164 cy=109 r=6.5 /><circle cx=1116 cy=190 r=6.5 /><circle cx=1032 cy=98 r=6.5 /><circle cx=985 cy=253 r=6.5 /><circle cx=1002 cy=248 r=6.5 /><circle cx=1107 cy=179 r=6.5 /><circle cx=1159 cy=196 r=6.5 /><circle cx=1040 cy=472 r=6.5 /><circle cx=1141 cy=134 r=6.5 /><circle cx=1257 cy=345 r=6.5 /><circle cx=1104 cy=220 r=6.5 /><circle cx=1245 cy=337 r=6.5 /><circle cx=1022 cy=435 r=6.5 /><circle cx=1168 cy=395 r=6.5 /><circle cx=996 cy=91 r=6.5 /><circle cx=1109 cy=265 r=6.5 /><circle cx=1257 cy=248 r=6.5 /><circle cx=1014 cy=251 r=6.5 /><circle cx=1162 cy=135 r=6.5 /><circle cx=1261 cy=362 r=6.5 /><circle cx=1134 cy=306 r=6.5 /><circle cx=1166 cy=204 r=6.5 /><circle cx=1158 cy=216 r=6.5 /><circle cx=1010 cy=491 r=6.5 /><circle cx=1111 cy=504 r=6.5 /><circle cx=1047 cy=373 r=6.5 /><circle cx=985 cy=132 r=6.5 /><circle cx=1128 cy=190 r=6.5 /><circle cx=1225 cy=279 r=6.5 /><circle cx=1135 cy=246 r=6.5 /><circle cx=1153 cy=243 r=6.5 /><circle cx=1246 cy=162 r=6.5 /><circle cx=1162 cy=395 r=6.5 /><circle cx=1158 cy=245 r=6.5 /><circle cx=984 cy=82 r=6.5 /><circle cx=1137 cy=142 r=6.5 /><circle cx=981 cy=426 r=6.5 /><circle cx=952 cy=512 r=6.5 /><circle cx=1268 cy=269 r=6.5 /><circle cx=1093 cy=483 r=6.5 /><circle cx=1207 cy=261 r=6.5 /><circle cx=1170 cy=252 r=6.5 /><circle cx=1044 cy=252 r=6.5 /><circle cx=1225 cy=410 r=6.5 /><circle cx=1068 cy=226 r=6.5 /><circle cx=1155 cy=231 r=6.5 /><circle cx=1007 cy=338 r=6.5 /><circle cx=1217 cy=348 r=6.5 /><circle cx=1018 cy=366 r=6.5 /><circle cx=1035 cy=111 r=6.5 /><circle cx=1099 cy=160 r=6.5 /><circle cx=1010 cy=479 r=6.5 /><circle cx=1178 cy=122 r=6.5 /><circle cx=1119 cy=150 r=6.5 /><circle cx=1178 cy=399 r=6.5 /><circle cx=1284 cy=270 r=6.5 /><circle cx=1043 cy=106 r=6.5 /><circle cx=1262 cy=340 r=6.5 /><circle cx=1096 cy=429 r=6.5 /><circle cx=1063 cy=314 r=6.5 /><circle cx=1086 cy=255 r=6.5 /><circle cx=1231 cy=158 r=6.5 /><circle cx=1237 cy=275 r=6.5 /><circle cx=1255 cy=463 r=6.5 /><circle cx=1087 cy=423 r=6.5 /><circle cx=1171 cy=284 r=6.5 /><circle cx=1222 cy=422 r=6.5 /><circle cx=1069 cy=491 r=6.5 /><circle cx=1227 cy=428 r=6.5 /><circle cx=997 cy=484 r=6.5 /><circle cx=1257 cy=276 r=6.5 /><circle cx=1195 cy=164 r=6.5 /><circle cx=1094 cy=107 r=6.5 /><circle cx=932 cy=395 r=6.5 /><circle cx=1039 cy=491 r=6.5 /><circle cx=1059 cy=195 r=6.5 /><circle cx=1217 cy=210 r=6.5 /><circle cx=1079 cy=166 r=6.5 /><circle cx=1030 cy=287 r=6.5 /><circle cx=1091 cy=243 r=6.5 /><circle cx=1179 cy=168 r=6.5 /><circle cx=955 cy=239 r=6.5 /><circle cx=1060 cy=90 r=6.5 /><circle cx=972 cy=166 r=6.5 /><circle cx=1122 cy=342 r=6.5 /><circle cx=973 cy=460 r=6.5 /><circle cx=1133 cy=253 r=6.5 /><circle cx=1225 cy=400 r=6.5 /><circle cx=1133 cy=238 r=6.5 /><circle cx=1013 cy=413 r=6.5 /><circle cx=951 cy=482 r=6.5 /><circle cx=1164 cy=480 r=6.5 /><circle cx=941 cy=370 r=6.5 /><circle cx=1073 cy=320 r=6.5 /><circle cx=967 cy=397 r=6.5 /><circle cx=1061 cy=432 r=6.5 /><circle cx=1054 cy=129 r=6.5 /><circle cx=1245 cy=440 r=6.5 /><circle cx=976 cy=460 r=6.5 /><circle cx=1173 cy=333 r=6.5 /><circle cx=1187 cy=241 r=6.5 /><circle cx=1091 cy=89 r=6.5 /><circle cx=992 cy=86 r=6.5 /><circle cx=1049 cy=378 r=6.5 /><circle cx=1143 cy=444 r=6.5 /><circle cx=1120 cy=134 r=6.5 /><circle cx=1184 cy=149 r=6.5 /><circle cx=1169 cy=390 r=6.5 /><circle cx=1154 cy=357 r=6.5 /><circle cx=1129 cy=249 r=6.5 /><circle cx=1050 cy=282 r=6.5 /><circle cx=1094 cy=377 r=6.5 /><circle cx=1021 cy=448 r=6.5 /><circle cx=1022 cy=185 r=6.5 /><circle cx=983 cy=178 r=6.5 /><circle cx=960 cy=137 r=6.5 /><circle cx=1051 cy=114 r=6.5 /><circle cx=1051 cy=233 r=6.5 /><circle cx=1140 cy=387 r=6.5 /><circle cx=1083 cy=103 r=6.5 /><circle cx=1065 cy=111 r=6.5 /><circle cx=1226 cy=322 r=6.5 /><circle cx=1116 cy=355 r=6.5 /><circle cx=1229 cy=185 r=6.5 /><circle cx=1180 cy=399 r=6.5 /><circle cx=1154 cy=240 r=6.5 /><circle cx=1222 cy=399 r=6.5 /><circle cx=1195 cy=161 r=6.5 /><circle cx=1233 cy=206 r=6.5 /><circle cx=1022 cy=301 r=6.5 /><circle cx=1031 cy=214 r=6.5 /><circle cx=1122 cy=370 r=6.5 /><circle cx=1149 cy=342 r=6.5 /><circle cx=1033 cy=500 r=6.5 /><circle cx=1101 cy=178 r=6.5 /><circle cx=1062 cy=355 r=6.5 /><circle cx=1151 cy=268 r=6.5 /><circle cx=1264 cy=217 r=6.5 /><circle cx=1090 cy=202 r=6.5 /><circle cx=1033 cy=263 r=6.5 /><circle cx=1099 cy=132 r=6.5 /><circle cx=1050 cy=229 r=6.5 /><circle cx=1086 cy=139 r=6.5 /><circle cx=1178 cy=121 r=6.5 /><circle cx=971 cy=295 r=6.5 /><circle cx=1108 cy=382 r=6.5 /><circle cx=1199 cy=370 r=6.5 /><circle cx=1135 cy=399 r=6.5 /><circle cx=1012 cy=335 r=6.5 /><circle cx=1002 cy=301 r=6.5 /><circle cx=1248 cy=275 r=6.5 /><circle cx=1157 cy=442 r=6.5 /><circle cx=1077 cy=215 r=6.5 /><circle cx=1219 cy=349 r=6.5 /><circle cx=1067 cy=293 r=6.5 /><circle cx=1232 cy=208 r=6.5 /><circle cx=1115 cy=287 r=6.5 /><circle cx=1148 cy=250 r=6.5 /><circle cx=1017 cy=205 r=6.5 /><circle cx=1177 cy=205 r=6.5 /><circle cx=1198 cy=231 r=6.5 /><circle cx=1127 cy=123 r=6.5 /><circle cx=1088 cy=145 r=6.5 /><circle cx=1100 cy=256 r=6.5 /><circle cx=957 cy=433 r=6.5 /><circle cx=1179 cy=400 r=6.5 /><circle cx=1222 cy=335 r=6.5 /><circle cx=1026 cy=298 r=6.5 /><circle cx=1082 cy=444 r=6.5 /><circle cx=1028 cy=274 r=6.5 /><circle cx=1179 cy=238 r=6.5 /><circle cx=1084 cy=174 r=6.5 /><circle cx=1036 cy=192 r=6.5 /><circle cx=1132 cy=340 r=6.5 /><circle cx=1193 cy=207 r=6.5 /><circle cx=1007 cy=504 r=6.5 /><circle cx=1031 cy=238 r=6.5 /><circle cx=1199 cy=165 r=6.5 /><circle cx=985 cy=234 r=6.5 /><circle cx=1165 cy=350 r=6.5 /><circle cx=1008 cy=297 r=6.5 /><circle cx=1020 cy=258 r=6.5 /><circle cx=1021 cy=277 r=6.5 /><circle cx=1242 cy=398 r=6.5 /><circle cx=1259 cy=275 r=6.5 /><circle cx=1204 cy=281 r=6.5 /><circle cx=988 cy=103 r=6.5 /><circle cx=989 cy=302 r=6.5 /><circle cx=1077 cy=344 r=6.5 /><circle cx=1026 cy=264 r=6.5 /><circle cx=1107 cy=362 r=6.5 /><circle cx=1012 cy=151 r=6.5 /><circle cx=995 cy=311 r=6.5 /><circle cx=1098 cy=185 r=6.5 /><circle cx=1110 cy=111 r=6.5 /><circle cx=1034 cy=180 r=6.5 /><circle cx=1018 cy=197 r=6.5 /><circle cx=1134 cy=371 r=6.5 /><circle cx=1005 cy=413 r=6.5 /><circle cx=1020 cy=335 r=6.5 /><circle cx=1057 cy=104 r=6.5 /><circle cx=1049 cy=441 r=6.5 /><circle cx=1084 cy=512 r=6.5 /><circle cx=1024 cy=314 r=6.5 /><circle cx=1096 cy=219 r=6.5 /><circle cx=974 cy=119 r=6.5 /><circle cx=1111 cy=102 r=6.5 /><circle cx=1061 cy=191 r=6.5 /><circle cx=1130 cy=366 r=6.5 /><circle cx=1229 cy=386 r=6.5 /><circle cx=1112 cy=122 r=6.5 /><circle cx=1155 cy=259 r=6.5 /><circle cx=1037 cy=289 r=6.5 /><circle cx=1027 cy=135 r=6.5 /><circle cx=1148 cy=109 r=6.5 /><circle cx=1137 cy=427 r=6.5 /><circle cx=1268 cy=452 r=6.5 /><circle cx=1196 cy=306 r=6.5 /><circle cx=1107 cy=250 r=6.5 /><circle cx=991 cy=156 r=6.5 /><circle cx=1119 cy=411 r=6.5 /><circle cx=1314 cy=283 r=6.5 /><circle cx=1011 cy=498 r=6.5 /><circle cx=1228 cy=251 r=6.5 /><circle cx=1125 cy=282 r=6.5 /><circle cx=1179 cy=301 r=6.5 /><circle cx=1090 cy=272 r=6.5 /><circle cx=1112 cy=444 r=6.5 /><circle cx=1075 cy=97 r=6.5 /><circle cx=1294 cy=243 r=6.5 /><circle cx=1041 cy=308 r=6.5 /><circle cx=1013 cy=191 r=6.5 /><circle cx=1265 cy=183 r=6.5 /><circle cx=1042 cy=255 r=6.5 /><circle cx=1087 cy=394 r=6.5 /><circle cx=1189 cy=210 r=6.5 /><circle cx=986 cy=217 r=6.5 /><circle cx=1130 cy=95 r=6.5 /><circle cx=1072 cy=121 r=6.5 /><circle cx=1108 cy=200 r=6.5 /><circle cx=1209 cy=384 r=6.5 /><circle cx=1107 cy=187 r=6.5 /><circle cx=1122 cy=216 r=6.5 /><circle cx=1222 cy=397 r=6.5 /><circle cx=1083 cy=312 r=6.5 /><circle cx=1059 cy=186 r=6.5 /><circle cx=1261 cy=243 r=6.5 /><circle cx=1173 cy=199 r=6.5 /><circle cx=1143 cy=378 r=6.5 /><circle cx=1070 cy=329 r=6.5 /><circle cx=1114 cy=207 r=6.5 /><circle cx=1117 cy=202 r=6.5 /><circle cx=1217 cy=340 r=6.5 /><circle cx=939 cy=472 r=6.5 /><circle cx=998 cy=299 r=6.5 /><circle cx=993 cy=269 r=6.5 /><circle cx=1117 cy=301 r=6.5 /><circle cx=1158 cy=362 r=6.5 /><circle cx=1119 cy=332 r=6.5 /><circle cx=1078 cy=390 r=6.5 /><circle cx=1202 cy=209 r=6.5 /><circle cx=1115 cy=474 r=6.5 /><circle cx=1126 cy=188 r=6.5 /><circle cx=1224 cy=364 r=6.5 /><circle cx=964 cy=210 r=6.5 /><circle cx=988 cy=339 r=6.5 /><circle cx=1019 cy=271 r=6.5 /><circle cx=1032 cy=223 r=6.5 /><circle cx=1267 cy=211 r=6.5 /><circle cx=1088 cy=411 r=6.5 /><circle cx=979 cy=108 r=6.5 /><circle cx=1284 cy=276 r=6.5 /><circle cx=1004 cy=203 r=6.5 /><circle cx=1100 cy=294 r=6.5 /><circle cx=945 cy=175 r=6.5 /><circle cx=1101 cy=387 r=6.5 /><circle cx=969 cy=448 r=6.5 /><circle cx=1020 cy=279 r=6.5 /><circle cx=1057 cy=145 r=6.5 /><circle cx=1022 cy=338 r=6.5 /><circle cx=1292 cy=242 r=6.5 /><circle cx=1096 cy=254 r=6.5 /><circle cx=1216 cy=317 r=6.5 /><circle cx=990 cy=184 r=6.5 /><circle cx=1052 cy=218 r=6.5 /><circle cx=1000 cy=452 r=6.5 /><circle cx=1221 cy=369 r=6.5 /><circle cx=1227 cy=304 r=6.5 /><circle cx=1225 cy=238 r=6.5 /><circle cx=1112 cy=281 r=6.5 /><circle cx=1191 cy=124 r=6.5 /><circle cx=1284 cy=386 r=6.5 /><circle cx=1267 cy=200 r=6.5 /><circle cx=1294 cy=297 r=6.5 /><circle cx=1083 cy=494 r=6.5 /><circle cx=991 cy=116 r=6.5 /><circle cx=1126 cy=164 r=6.5 /><circle cx=1267 cy=306 r=6.5 /><circle cx=1160 cy=483 r=6.5 /><circle cx=1022 cy=399 r=6.5 /><circle cx=990 cy=94 r=6.5 /><circle cx=1197 cy=445 r=6.5 /><circle cx=1216 cy=189 r=6.5 /><circle cx=1126 cy=165 r=6.5 /><circle cx=1065 cy=151 r=6.5 /><circle cx=1060 cy=422 r=6.5 /><circle cx=1140 cy=297 r=6.5 /><circle cx=1136 cy=233 r=6.5 /><circle cx=1145 cy=420 r=6.5 /><circle cx=1022 cy=216 r=6.5 /><circle cx=1179 cy=474 r=6.5 /><circle cx=1000 cy=105 r=6.5 /><circle cx=1053 cy=476 r=6.5 /><circle cx=1150 cy=246 r=6.5 /><circle cx=1001 cy=236 r=6.5 /><circle cx=1151 cy=109 r=6.5 /><circle cx=961 cy=150 r=6.5 /><circle cx=1107 cy=115 r=6.5 /><circle cx=968 cy=479 r=6.5 /><circle cx=1140 cy=243 r=6.5 /><circle cx=1031 cy=310 r=6.5 /><circle cx=1297 cy=225 r=6.5 /><circle cx=1005 cy=430 r=6.5 /><circle cx=1202 cy=282 r=6.5 /><circle cx=1017 cy=138 r=6.5 /><circle cx=1208 cy=220 r=6.5 /><circle cx=958 cy=423 r=6.5 /><circle cx=985 cy=331 r=6.5 /><circle cx=1090 cy=240 r=6.5 /><circle cx=998 cy=202 r=6.5 /><circle cx=1090 cy=250 r=6.5 /><circle cx=1246 cy=424 r=6.5 /><circle cx=1095 cy=382 r=6.5 /><circle cx=1055 cy=492 r=6.5 /><circle cx=1178 cy=217 r=6.5 /><circle cx=1126 cy=266 r=6.5 /><circle cx=1296 cy=360 r=6.5 /><circle cx=1184 cy=350 r=6.5 /><circle cx=1039 cy=349 r=6.5 /><circle cx=1078 cy=212 r=6.5 /><circle cx=1176 cy=157 r=6.5 /><circle cx=1244 cy=206 r=6.5 /><circle cx=1236 cy=408 r=6.5 /><circle cx=1002 cy=104 r=6.5 /><circle cx=1083 cy=178 r=6.5 /><circle cx=1178 cy=327 r=6.5 /><circle cx=1252 cy=304 r=6.5 /><circle cx=1203 cy=238 r=6.5 /><circle cx=971 cy=99 r=6.5 /><circle cx=1189 cy=343 r=6.5 /><circle cx=1025 cy=137 r=6.5 /><circle cx=1162 cy=161 r=6.5 /><circle cx=1121 cy=152 r=6.5 /><circle cx=1081 cy=320 r=6.5 /><circle cx=1051 cy=469 r=6.5 /><circle cx=1194 cy=187 r=6.5 /><circle cx=1142 cy=139 r=6.5 /><circle cx=1152 cy=118 r=6.5 /><circle cx=1118 cy=151 r=6.5 /><circle cx=1148 cy=186 r=6.5 /><circle cx=1275 cy=328 r=6.5 /><circle cx=983 cy=256 r=6.5 /><circle cx=1043 cy=147 r=6.5 /><circle cx=1273 cy=250 r=6.5 /><circle cx=1042 cy=141 r=6.5 /><circle cx=1197 cy=187 r=6.5 /><circle cx=1051 cy=302 r=6.5 /><circle cx=1158 cy=151 r=6.5 /><circle cx=993 cy=154 r=6.5 /><circle cx=1230 cy=234 r=6.5 /><circle cx=1086 cy=393 r=6.5 /><circle cx=1162 cy=220 r=6.5 /><circle cx=1063 cy=178 r=6.5 /><circle cx=1145 cy=175 r=6.5 /><circle cx=1051 cy=359 r=6.5 /><circle cx=1142 cy=241 r=6.5 /><circle cx=1179 cy=266 r=6.5 /><circle cx=1212 cy=309 r=6.5 /><circle cx=1134 cy=208 r=6.5 /><circle cx=1027 cy=428 r=6.5 /><circle cx=977 cy=286 r=6.5 /><circle cx=1170 cy=456 r=6.5 /><circle cx=1142 cy=327 r=6.5 /><circle cx=1187 cy=343 r=6.5 /><circle cx=1027 cy=428 r=6.5 /><circle cx=1069 cy=376 r=6.5 /><circle cx=1172 cy=388 r=6.5 /><circle cx=1149 cy=175 r=6.5 /><circle cx=1093 cy=368 r=6.5 /><circle cx=1056 cy=183 r=6.5 /><circle cx=1171 cy=316 r=6.5 /><circle cx=1257 cy=300 r=6.5 /><circle cx=1019 cy=379 r=6.5 /><circle cx=981 cy=91 r=6.5 /><circle cx=993 cy=385 r=6.5 /><circle cx=1168 cy=261 r=6.5 /><circle cx=1216 cy=186 r=6.5 /><circle cx=1189 cy=185 r=6.5 /><circle cx=1193 cy=250 r=6.5 /><circle cx=1234 cy=322 r=6.5 /><circle cx=1258 cy=243 r=6.5 /><circle cx=1191 cy=212 r=6.5 /><circle cx=1140 cy=199 r=6.5 /><circle cx=1083 cy=224 r=6.5 /><circle cx=1183 cy=163 r=6.5 /><circle cx=1196 cy=430 r=6.5 /><circle cx=1146 cy=417 r=6.5 /><circle cx=1065 cy=466 r=6.5 /><circle cx=1164 cy=411 r=6.5 /><circle cx=1069 cy=435 r=6.5 /><circle cx=1046 cy=266 r=6.5 /><circle cx=1024 cy=462 r=6.5 /><circle cx=1013 cy=412 r=6.5 /><circle cx=1048 cy=213 r=6.5 /><circle cx=1074 cy=418 r=6.5 /><circle cx=1171 cy=328 r=6.5 /><circle cx=1085 cy=164 r=6.5 /><circle cx=1079 cy=432 r=6.5 /><circle cx=990 cy=378 r=6.5 /><circle cx=991 cy=322 r=6.5 /><circle cx=1249 cy=222 r=6.5 /><circle cx=1140 cy=362 r=6.5 /><circle cx=1178 cy=127 r=6.5 /><circle cx=1194 cy=412 r=6.5 /><circle cx=1137 cy=482 r=6.5 /><circle cx=1159 cy=392 r=6.5 /><circle cx=1112 cy=342 r=6.5 /><circle cx=1116 cy=419 r=6.5 /><circle cx=1134 cy=106 r=6.5 /><circle cx=1150 cy=282 r=6.5 /><circle cx=1234 cy=400 r=6.5 /><circle cx=1113 cy=184 r=6.5 /><circle cx=1219 cy=422 r=6.5 /><circle cx=1091 cy=290 r=6.5 /><circle cx=1271 cy=234 r=6.5 /><circle cx=1039 cy=365 r=6.5 /><circle cx=992 cy=241 r=6.5 /><circle cx=1124 cy=381 r=6.5 /><circle cx=1129 cy=126 r=6.5 /><circle cx=1129 cy=449 r=6.5 /><circle cx=1212 cy=306 r=6.5 /><circle cx=1193 cy=367 r=6.5 /><circle cx=1039 cy=252 r=6.5 /><circle cx=1322 cy=230 r=6.5 /><circle cx=1054 cy=99 r=6.5 /><circle cx=995 cy=267 r=6.5 /><circle cx=1085 cy=421 r=6.5 /><circle cx=1079 cy=287 r=6.5 /><circle cx=1170 cy=275 r=6.5 /><circle cx=1190 cy=369 r=6.5 /><circle cx=999 cy=177 r=6.5 /><circle cx=1125 cy=443 r=6.5 /><circle cx=937 cy=247 r=6.5 /><circle cx=1027 cy=213 r=6.5 /><circle cx=1110 cy=162 r=6.5 /><circle cx=939 cy=118 r=6.5 /><circle cx=1185 cy=235 r=6.5 /><circle cx=1072 cy=310 r=6.5 /><circle cx=1074 cy=262 r=6.5 /><circle cx=1185 cy=157 r=6.5 /><circle cx=1157 cy=293 r=6.5 /><circle cx=1255 cy=202 r=6.5 /><circle cx=1234 cy=365 r=6.5 /><circle cx=1034 cy=483 r=6.5 /><circle cx=1022 cy=268 r=6.5 /><circle cx=1040 cy=221 r=6.5 /><circle cx=1164 cy=207 r=6.5 /><circle cx=1235 cy=316 r=6.5 /><circle cx=1104 cy=135 r=6.5 /><circle cx=1132 cy=244 r=6.5 /><circle cx=1105 cy=138 r=6.5 /><circle cx=1058 cy=478 r=6.5 /><circle cx=953 cy=80 r=6.5 /><circle cx=1090 cy=174 r=6.5 /><circle cx=1142 cy=503 r=6.5 /><circle cx=1245 cy=208 r=6.5 /><circle cx=1122 cy=266 r=6.5 /><circle cx=1015 cy=300 r=6.5 /><circle cx=1049 cy=329 r=6.5 /><circle cx=1092 cy=222 r=6.5 /><circle cx=1245 cy=256 r=6.5 /><circle cx=989 cy=126 r=6.5 /><circle cx=978 cy=513 r=6.5 /><circle cx=1081 cy=126 r=6.5 /><circle cx=1314 cy=270 r=6.5 /><circle cx=1028 cy=417 r=6.5 /><circle cx=1224 cy=312 r=6.5 /><circle cx=1011 cy=366 r=6.5 /><circle cx=1221 cy=452 r=6.5 /><circle cx=1246 cy=283 r=6.5 /><circle cx=1096 cy=437 r=6.5 /><circle cx=1150 cy=389 r=6.5 /><circle cx=1237 cy=325 r=6.5 /><circle cx=1058 cy=289 r=6.5 /><circle cx=1292 cy=241 r=6.5 /><circle cx=1013 cy=412 r=6.5 /><circle cx=1054 cy=235 r=6.5 /><circle cx=932 cy=479 r=6.5 /><circle cx=1111 cy=463 r=6.5 /><circle cx=963 cy=238 r=6.5 /><circle cx=1071 cy=154 r=6.5 /><circle cx=1235 cy=360 r=6.5 /><circle cx=1108 cy=359 r=6.5 /><circle cx=1103 cy=197 r=6.5 /><circle cx=1136 cy=128 r=6.5 /><circle cx=1198 cy=307 r=6.5 /><circle cx=1276 cy=302 r=6.5 /><circle cx=1191 cy=185 r=6.5 /><circle cx=1111 cy=439 r=6.5 /><circle cx=1198 cy=300 r=6.5 /><circle cx=1105 cy=264 r=6.5 /><circle cx=982 cy=182 r=6.5 /><circle cx=1068 cy=216 r=6.5 /><circle cx=1073 cy=101 r=6.5 /><circle cx=1119 cy=187 r=6.5 /><circle cx=1064 cy=266 r=6.5 /><circle cx=997 cy=414 r=6.5 /><circle cx=982 cy=94 r=6.5 /><circle cx=1016 cy=370 r=6.5 /><circle cx=1065 cy=390 r=6.5 /><circle cx=1219 cy=157 r=6.5 /><circle cx=1079 cy=182 r=6.5 /><circle cx=998 cy=205 r=6.5 /><circle cx=1179 cy=219 r=6.5 /><circle cx=1179 cy=215 r=6.5 /><circle cx=1169 cy=240 r=6.5 /><circle cx=1026 cy=396 r=6.5 /><circle cx=1043 cy=453 r=6.5 /><circle cx=1172 cy=383 r=6.5 /><circle cx=1177 cy=228 r=6.5 /><circle cx=1176 cy=147 r=6.5 /><circle cx=1075 cy=102 r=6.5 /><circle cx=1173 cy=417 r=6.5 /><circle cx=937 cy=509 r=6.5 /><circle cx=1078 cy=175 r=6.5 /><circle cx=1114 cy=512 r=6.5 /><circle cx=1013 cy=353 r=6.5 /><circle cx=1050 cy=111 r=6.5 /><circle cx=1104 cy=208 r=6.5 /><circle cx=983 cy=122 r=6.5 /><circle cx=1121 cy=270 r=6.5 /><circle cx=1090 cy=388 r=6.5 /><circle cx=1117 cy=317 r=6.5 /><circle cx=1014 cy=242 r=6.5 /><circle cx=949 cy=436 r=6.5 /><circle cx=1054 cy=116 r=6.5 /><circle cx=1037 cy=129 r=6.5 /><circle cx=979 cy=333 r=6.5 /><circle cx=1158 cy=463 r=6.5 /><circle cx=1034 cy=296 r=6.5 /><circle cx=1313 cy=295 r=6.5 /><circle cx=987 cy=321 r=6.5 /><circle cx=1211 cy=318 r=6.5 /><circle cx=944 cy=506 r=6.5 /><circle cx=992 cy=107 r=6.5 /><circle cx=1149 cy=189 r=6.5 /><circle cx=1049 cy=183 r=6.5 /><circle cx=1207 cy=456 r=6.5 /><circle cx=1160 cy=114 r=6.5 /><circle cx=1089 cy=301 r=6.5 /><circle cx=1056 cy=236 r=6.5 /><circle cx=1086 cy=426 r=6.5 /><circle cx=1179 cy=136 r=6.5 /><circle cx=1011 cy=466 r=6.5 /><circle cx=1196 cy=280 r=6.5 /><circle cx=1157 cy=271 r=6.5 /><circle cx=994 cy=209 r=6.5 /><circle cx=1120 cy=409 r=6.5 /><circle cx=1028 cy=291 r=6.5 /><circle cx=1006 cy=389 r=6.5 /><circle cx=1064 cy=277 r=6.5 /><circle cx=1087 cy=236 r=6.5 /><circle cx=986 cy=424 r=6.5 /><circle cx=985 cy=125 r=6.5 /><circle cx=1034 cy=481 r=6.5 /><circle cx=1210 cy=310 r=6.5 /><circle cx=1261 cy=328 r=6.5 /><circle cx=1155 cy=414 r=6.5 /><circle cx=1166 cy=512 r=6.5 /><circle cx=1194 cy=202 r=6.5 /><circle cx=1078 cy=183 r=6.5 /><circle cx=1167 cy=226 r=6.5 /><circle cx=987 cy=190 r=6.5 /><circle cx=1150 cy=255 r=6.5 /><circle cx=1010 cy=252 r=6.5 /><circle cx=1024 cy=238 r=6.5 /><circle cx=966 cy=88 r=6.5 /><circle cx=998 cy=419 r=6.5 /><circle cx=1276 cy=323 r=6.5 /><circle cx=1103 cy=481 r=6.5 /><circle cx=1117 cy=285 r=6.5 /><circle cx=1190 cy=308 r=6.5 /><circle cx=1070 cy=170 r=6.5 /><circle cx=1166 cy=381 r=6.5 /><circle cx=1064 cy=333 r=6.5 /><circle cx=1155 cy=418 r=6.5 /><circle cx=1099 cy=213 r=6.5 /><circle cx=1197 cy=153 r=6.5 /><circle cx=1158 cy=120 r=6.5 /><circle cx=978 cy=353 r=6.5 /><circle cx=1208 cy=420 r=6.5 /><circle cx=1204 cy=232 r=6.5 /><circle cx=1221 cy=254 r=6.5 /><circle cx=1102 cy=92 r=6.5 /><circle cx=1235 cy=161 r=6.5 /><circle cx=1149 cy=183 r=6.5 /><circle cx=1214 cy=203 r=6.5 /><circle cx=1147 cy=138 r=6.5 /><circle cx=1093 cy=168 r=6.5 /><circle cx=1070 cy=136 r=6.5 /><circle cx=1141 cy=498 r=6.5 /><circle cx=1033 cy=184 r=6.5 /><circle cx=1170 cy=394 r=6.5 /><circle cx=1064 cy=343 r=6.5 /><circle cx=1059 cy=203 r=6.5 /><circle cx=1036 cy=345 r=6.5 /><circle cx=1033 cy=258 r=6.5 /><circle cx=1185 cy=155 r=6.5 /><circle cx=924 cy=511 r=6.5 /><circle cx=1106 cy=111 r=6.5 /><circle cx=1172 cy=345 r=6.5 /><circle cx=982 cy=129 r=6.5 /><circle cx=1276 cy=312 r=6.5 /><circle cx=1161 cy=416 r=6.5 /><circle cx=1140 cy=102 r=6.5 /><circle cx=1116 cy=261 r=6.5 /><circle cx=1078 cy=400 r=6.5 /><circle cx=1213 cy=244 r=6.5 /><circle cx=1088 cy=479 r=6.5 /><circle cx=977 cy=255 r=6.5 /><circle cx=1145 cy=255 r=6.5 /><circle cx=1269 cy=199 r=6.5 /><circle cx=1189 cy=389 r=6.5 /><circle cx=925 cy=503 r=6.5 /><circle cx=1069 cy=185 r=6.5 /><circle cx=1115 cy=325 r=6.5 /><circle cx=1113 cy=322 r=6.5 /><circle cx=1047 cy=201 r=6.5 /><circle cx=1257 cy=214 r=6.5 /><circle cx=1028 cy=83 r=6.5 /><circle cx=1018 cy=243 r=6.5 /><circle cx=1042 cy=242 r=6.5 /><circle cx=1196 cy=282 r=6.5 /><circle cx=1193 cy=170 r=6.5 /><circle cx=1139 cy=301 r=6.5 /><circle cx=1155 cy=160 r=6.5 /><circle cx=1023 cy=188 r=6.5 /><circle cx=1173 cy=421 r=6.5 /><circle cx=1227 cy=237 r=6.5 /><circle cx=1060 cy=114 r=6.5 /><circle cx=1161 cy=123 r=6.5 /><circle cx=1272 cy=234 r=6.5 /><circle cx=1196 cy=163 r=6.5 /><circle cx=1146 cy=245 r=6.5 /><circle cx=1133 cy=266 r=6.5 /><circle cx=1151 cy=499 r=6.5 /><circle cx=969 cy=96 r=6.5 /><circle cx=1233 cy=363 r=6.5 /><circle cx=1011 cy=216 r=6.5 /><circle cx=1065 cy=401 r=6.5 /><circle cx=1105 cy=251 r=6.5 /><circle cx=1157 cy=315 r=6.5 /><circle cx=985 cy=203 r=6.5 /><circle cx=953 cy=295 r=6.5 /><circle cx=1249 cy=393 r=6.5 /><circle cx=1091 cy=167 r=6.5 /><circle cx=1163 cy=128 r=6.5 /><circle cx=1081 cy=236 r=6.5 /><circle cx=1266 cy=311 r=6.5 /><circle cx=1284 cy=318 r=6.5 /><circle cx=1198 cy=441 r=6.5 /><circle cx=1020 cy=420 r=6.5 /><circle cx=991 cy=271 r=6.5 /><circle cx=952 cy=191 r=6.5 /><circle cx=1135 cy=241 r=6.5 /><circle cx=1169 cy=259 r=6.5 /><circle cx=930 cy=504 r=6.5 /><circle cx=1226 cy=221 r=6.5 /><circle cx=1006 cy=213 r=6.5 /><circle cx=1111 cy=249 r=6.5 /><circle cx=1111 cy=366 r=6.5 /><circle cx=1154 cy=492 r=6.5 /><circle cx=951 cy=220 r=6.5 /><circle cx=1131 cy=467 r=6.5 /><circle cx=1141 cy=333 r=6.5 /><circle cx=960 cy=405 r=6.5 /><circle cx=1158 cy=448 r=6.5 /><circle cx=998 cy=313 r=6.5 /><circle cx=1248 cy=235 r=6.5 /><circle cx=1165 cy=121 r=6.5 /><circle cx=984 cy=128 r=6.5 /><circle cx=1088 cy=139 r=6.5 /><circle cx=1161 cy=200 r=6.5 /><circle cx=1051 cy=303 r=6.5 /><circle cx=1263 cy=338 r=6.5 /><circle cx=1225 cy=434 r=6.5 /><circle cx=1285 cy=251 r=6.5 /><circle cx=1189 cy=167 r=6.5 /><circle cx=1195 cy=362 r=6.5 /><circle cx=1011 cy=190 r=6.5 /><circle cx=1219 cy=150 r=6.5 /><circle cx=1125 cy=220 r=6.5 /><circle cx=1314 cy=326 r=6.5 /><circle cx=1131 cy=98 r=6.5 /><circle cx=1019 cy=280 r=6.5 /><circle cx=1135 cy=98 r=6.5 /><circle cx=1197 cy=309 r=6.5 /><circle cx=1203 cy=202 r=6.5 /><circle cx=1253 cy=185 r=6.5 /><circle cx=1167 cy=384 r=6.5 /><circle cx=1094 cy=148 r=6.5 /><circle cx=1140 cy=215 r=6.5 /><circle cx=1119 cy=505 r=6.5 /><circle cx=1146 cy=508 r=6.5 /><circle cx=1030 cy=284 r=6.5 /><circle cx=1057 cy=273 r=6.5 /><circle cx=1038 cy=377 r=6.5 /><circle cx=1161 cy=242 r=6.5 /><circle cx=1014 cy=367 r=6.5 /><circle cx=1147 cy=182 r=6.5 /><circle cx=1022 cy=348 r=6.5 /><circle cx=997 cy=137 r=6.5 /><circle cx=1024 cy=429 r=6.5 /><circle cx=968 cy=398 r=6.5 /><circle cx=962 cy=91 r=6.5 /><circle cx=1270 cy=213 r=6.5 /><circle cx=1003 cy=423 r=6.5 /><circle cx=1006 cy=134 r=6.5 /><circle cx=1113 cy=203 r=6.5 /><circle cx=1023 cy=434 r=6.5 /><circle cx=1163 cy=147 r=6.5 /><circle cx=1272 cy=341 r=6.5 /><circle cx=1078 cy=451 r=6.5 /><circle cx=996 cy=158 r=6.5 /><circle cx=1165 cy=336 r=6.5 /><circle cx=1247 cy=210 r=6.5 /><circle cx=1164 cy=229 r=6.5 /><circle cx=1076 cy=326 r=6.5 /><circle cx=1256 cy=326 r=6.5 /><circle cx=1255 cy=324 r=6.5 /><circle cx=1140 cy=203 r=6.5 /><circle cx=1172 cy=291 r=6.5 /><circle cx=1266 cy=278 r=6.5 /><circle cx=1146 cy=188 r=6.5 /><circle cx=1211 cy=209 r=6.5 /><circle cx=1172 cy=185 r=6.5 /><circle cx=1002 cy=219 r=6.5 /><circle cx=1089 cy=119 r=6.5 /><circle cx=951 cy=499 r=6.5 /><circle cx=1080 cy=364 r=6.5 /><circle cx=1072 cy=166 r=6.5 /><circle cx=1138 cy=511 r=6.5 /><circle cx=996 cy=297 r=6.5 /><circle cx=1159 cy=286 r=6.5 /><circle cx=1051 cy=219 r=6.5 /><circle cx=1047 cy=297 r=6.5 /><circle cx=1039 cy=149 r=6.5 /><circle cx=1008 cy=482 r=6.5 /><circle cx=1181 cy=148 r=6.5 /><circle cx=1006 cy=388 r=6.5 /><circle cx=1231 cy=263 r=6.5 /><circle cx=1061 cy=150 r=6.5 /><circle cx=989 cy=261 r=6.5 /><circle cx=978 cy=102 r=6.5 /><circle cx=1169 cy=317 r=6.5 /><circle cx=1040 cy=275 r=6.5 /><circle cx=1209 cy=205 r=6.5 /><circle cx=930 cy=402 r=6.5 /><circle cx=1170 cy=297 r=6.5 /><circle cx=1054 cy=312 r=6.5 /><circle cx=985 cy=182 r=6.5 /><circle cx=1226 cy=337 r=6.5 /><circle cx=1253 cy=242 r=6.5 /><circle cx=1145 cy=370 r=6.5 /><circle cx=1060 cy=148 r=6.5 /><circle cx=1152 cy=153 r=6.5 /><circle cx=1216 cy=301 r=6.5 /><circle cx=1230 cy=479 r=6.5 /><circle cx=1196 cy=145 r=6.5 /><circle cx=1019 cy=327 r=6.5 /><circle cx=990 cy=97 r=6.5 /><circle cx=1089 cy=240 r=6.5 /><circle cx=1143 cy=331 r=6.5 /><circle cx=1083 cy=244 r=6.5 /><circle cx=1059 cy=91 r=6.5 /><circle cx=1074 cy=398 r=6.5 /><circle cx=1079 cy=103 r=6.5 /><circle cx=1053 cy=285 r=6.5 /><circle cx=990 cy=325 r=6.5 /><circle cx=1181 cy=353 r=6.5 /><circle cx=976 cy=344 r=6.5 /><circle cx=1027 cy=129 r=6.5 /><circle cx=1071 cy=103 r=6.5 /><circle cx=1103 cy=239 r=6.5 /><circle cx=1111 cy=264 r=6.5 /><circle cx=1029 cy=93 r=6.5 /><circle cx=1084 cy=279 r=6.5 /><circle cx=1009 cy=183 r=6.5 /><circle cx=1143 cy=152 r=6.5 /><circle cx=998 cy=270 r=6.5 /><circle cx=1238 cy=320 r=6.5 /><circle cx=1117 cy=95 r=6.5 /><circle cx=1143 cy=515 r=6.5 /><circle cx=1049 cy=160 r=6.5 /><circle cx=1019 cy=282 r=6.5 /><circle cx=1016 cy=145 r=6.5 /><circle cx=1041 cy=277 r=6.5 /><circle cx=1196 cy=243 r=6.5 /><circle cx=1032 cy=369 r=6.5 /><circle cx=1042 cy=370 r=6.5 /><circle cx=1194 cy=383 r=6.5 /><circle cx=1241 cy=382 r=6.5 /><circle cx=1088 cy=394 r=6.5 /><circle cx=1160 cy=236 r=6.5 /><circle cx=1170 cy=237 r=6.5 /><circle cx=1150 cy=272 r=6.5 /><circle cx=1078 cy=389 r=6.5 /><circle cx=947 cy=236 r=6.5 /><circle cx=1221 cy=399 r=6.5 /><circle cx=989 cy=456 r=6.5 /><circle cx=1063 cy=167 r=6.5 /><circle cx=1028 cy=81 r=6.5 /><circle cx=1092 cy=201 r=6.5 /><circle cx=986 cy=447 r=6.5 /><circle cx=1257 cy=234 r=6.5 /><circle cx=1062 cy=240 r=6.5 /><circle cx=1148 cy=297 r=6.5 /><circle cx=1243 cy=283 r=6.5 /><circle cx=1020 cy=354 r=6.5 /><circle cx=1115 cy=382 r=6.5 /><circle cx=1212 cy=324 r=6.5 /><circle cx=1018 cy=138 r=6.5 /><circle cx=1292 cy=329 r=6.5 /><circle cx=1057 cy=268 r=6.5 /><circle cx=1068 cy=383 r=6.5 /><circle cx=964 cy=492 r=6.5 /><circle cx=1004 cy=271 r=6.5 /><circle cx=1181 cy=374 r=6.5 /><circle cx=1212 cy=327 r=6.5 /><circle cx=934 cy=345 r=6.5 /><circle cx=1037 cy=429 r=6.5 /><circle cx=1186 cy=248 r=6.5 /><circle cx=1045 cy=349 r=6.5 /><circle cx=1216 cy=305 r=6.5 /><circle cx=1070 cy=505 r=6.5 /><circle cx=1054 cy=368 r=6.5 /><circle cx=1115 cy=196 r=6.5 /><circle cx=1094 cy=305 r=6.5 /><circle cx=1012 cy=186 r=6.5 /><circle cx=1018 cy=131 r=6.5 /><circle cx=1229 cy=383 r=6.5 /><circle cx=1031 cy=234 r=6.5 /><circle cx=1200 cy=153 r=6.5 /><circle cx=1073 cy=187 r=6.5 /><circle cx=1101 cy=386 r=6.5 /><circle cx=1181 cy=318 r=6.5 /><circle cx=1127 cy=409 r=6.5 /><circle cx=1163 cy=381 r=6.5 /><circle cx=1003 cy=228 r=6.5 /><circle cx=1139 cy=114 r=6.5 /><circle cx=1243 cy=391 r=6.5 /><circle cx=1069 cy=150 r=6.5 /><circle cx=1217 cy=172 r=6.5 /><circle cx=1216 cy=170 r=6.5 /><circle cx=1004 cy=119 r=6.5 /><circle cx=1117 cy=246 r=6.5 /><circle cx=1132 cy=325 r=6.5 /><circle cx=1235 cy=320 r=6.5 /><circle cx=1191 cy=440 r=6.5 /><circle cx=1057 cy=359 r=6.5 /><circle cx=1263 cy=228 r=6.5 /><circle cx=1112 cy=239 r=6.5 /><circle cx=1078 cy=411 r=6.5 /><circle cx=1338 cy=349 r=6.5 /><circle cx=1150 cy=314 r=6.5 /><circle cx=1122 cy=410 r=6.5 /><circle cx=1031 cy=216 r=6.5 /><circle cx=1115 cy=296 r=6.5 /><circle cx=1092 cy=256 r=6.5 /><circle cx=1219 cy=163 r=6.5 /><circle cx=1257 cy=333 r=6.5 /><circle cx=980 cy=384 r=6.5 /><circle cx=1054 cy=407 r=6.5 /><circle cx=1223 cy=275 r=6.5 /><circle cx=1060 cy=112 r=6.5 /><circle cx=1195 cy=451 r=6.5 /><circle cx=1185 cy=218 r=6.5 /><circle cx=1261 cy=437 r=6.5 /><circle cx=1109 cy=360 r=6.5 /><circle cx=1246 cy=190 r=6.5 /><circle cx=1147 cy=192 r=6.5 /><circle cx=1226 cy=325 r=6.5 /><circle cx=1219 cy=421 r=6.5 /><circle cx=1091 cy=404 r=6.5 /><circle cx=982 cy=287 r=6.5 /><circle cx=1233 cy=170 r=6.5 /><circle cx=1124 cy=251 r=6.5 /><circle cx=1185 cy=302 r=6.5 /><circle cx=999 cy=511 r=6.5 /><circle cx=1110 cy=130 r=6.5 /><circle cx=1150 cy=244 r=6.5 /><circle cx=1179 cy=277 r=6.5 /><circle cx=1079 cy=217 r=6.5 /><circle cx=1087 cy=301 r=6.5 /><circle cx=1178 cy=129 r=6.5 /><circle cx=1072 cy=465 r=6.5 /><circle cx=981 cy=253 r=6.5 /><circle cx=1052 cy=441 r=6.5 /><circle cx=1145 cy=409 r=6.5 /><circle cx=1018 cy=429 r=6.5 /><circle cx=1241 cy=249 r=6.5 /><circle cx=1043 cy=458 r=6.5 /><circle cx=1247 cy=357 r=6.5 /><circle cx=1023 cy=289 r=6.5 /><circle cx=1000 cy=100 r=6.5 /><circle cx=1066 cy=301 r=6.5 /><circle cx=1055 cy=366 r=6.5 /><circle cx=1196 cy=408 r=6.5 /><circle cx=1005 cy=344 r=6.5 /><circle cx=1024 cy=161 r=6.5 /><circle cx=1147 cy=351 r=6.5 /><circle cx=1201 cy=438 r=6.5 /><circle cx=1042 cy=181 r=6.5 /><circle cx=982 cy=205 r=6.5 /><circle cx=1144 cy=198 r=6.5 /><circle cx=1125 cy=213 r=6.5 /><circle cx=1099 cy=96 r=6.5 /><circle cx=1265 cy=226 r=6.5 /><circle cx=1044 cy=479 r=6.5 /><circle cx=1015 cy=322 r=6.5 /><circle cx=1066 cy=167 r=6.5 /><circle cx=1127 cy=269 r=6.5 /><circle cx=1112 cy=269 r=6.5 /><circle cx=1180 cy=286 r=6.5 /><circle cx=1142 cy=136 r=6.5 /><circle cx=1181 cy=140 r=6.5 /><circle cx=1250 cy=396 r=6.5 /><circle cx=998 cy=403 r=6.5 /><circle cx=1316 cy=333 r=6.5 /><circle cx=1103 cy=125 r=6.5 /><circle cx=1029 cy=138 r=6.5 /><circle cx=1267 cy=348 r=6.5 /><circle cx=967 cy=85 r=6.5 /><circle cx=1192 cy=414 r=6.5 /><circle cx=1239 cy=206 r=6.5 /><circle cx=991 cy=141 r=6.5 /><circle cx=1059 cy=438 r=6.5 /><circle cx=993 cy=243 r=6.5 /><circle cx=1181 cy=475 r=6.5 /><circle cx=980 cy=356 r=6.5 /><circle cx=1063 cy=424 r=6.5 /><circle cx=1143 cy=371 r=6.5 /><circle cx=987 cy=208 r=6.5 /><circle cx=1147 cy=174 r=6.5 /><circle cx=1058 cy=136 r=6.5 /><circle cx=977 cy=481 r=6.5 /><circle cx=1278 cy=218 r=6.5 /><circle cx=1016 cy=319 r=6.5 /><circle cx=970 cy=152 r=6.5 /><circle cx=978 cy=321 r=6.5 /><circle cx=1011 cy=123 r=6.5 /><circle cx=1093 cy=268 r=6.5 /><circle cx=986 cy=218 r=6.5 /><circle cx=1303 cy=374 r=6.5 /><circle cx=989 cy=165 r=6.5 /><circle cx=957 cy=309 r=6.5 /><circle cx=1011 cy=317 r=6.5 /><circle cx=1041 cy=425 r=6.5 /><circle cx=1198 cy=330 r=6.5 /><circle cx=1218 cy=250 r=6.5 /><circle cx=1086 cy=154 r=6.5 /><circle cx=1270 cy=304 r=6.5 /><circle cx=990 cy=397 r=6.5 /><circle cx=1071 cy=327 r=6.5 /><circle cx=1008 cy=424 r=6.5 /><circle cx=1135 cy=364 r=6.5 /><circle cx=1110 cy=139 r=6.5 /><circle cx=950 cy=165 r=6.5 /><circle cx=1178 cy=246 r=6.5 /><circle cx=1132 cy=340 r=6.5 /><circle cx=1153 cy=275 r=6.5 /><circle cx=1003 cy=157 r=6.5 /><circle cx=1023 cy=376 r=6.5 /><circle cx=1172 cy=461 r=6.5 /><circle cx=1138 cy=122 r=6.5 /><circle cx=1152 cy=145 r=6.5 /><circle cx=1240 cy=300 r=6.5 /><circle cx=1205 cy=217 r=6.5 /><circle cx=1142 cy=437 r=6.5 /><circle cx=1119 cy=330 r=6.5 /><circle cx=1057 cy=331 r=6.5 /><circle cx=1058 cy=92 r=6.5 /><circle cx=1020 cy=459 r=6.5 /><circle cx=1103 cy=234 r=6.5 /><circle cx=1118 cy=125 r=6.5 /><circle cx=1200 cy=241 r=6.5 /><circle cx=1104 cy=270 r=6.5 /><circle cx=975 cy=79 r=6.5 /><circle cx=1006 cy=121 r=6.5 /><circle cx=1183 cy=486 r=6.5 /><circle cx=998 cy=289 r=6.5 /><circle cx=1277 cy=235 r=6.5 /><circle cx=1174 cy=336 r=6.5 /><circle cx=1028 cy=309 r=6.5 /><circle cx=1263 cy=318 r=6.5 /><circle cx=1104 cy=164 r=6.5 /><circle cx=1244 cy=250 r=6.5 /><circle cx=1182 cy=142 r=6.5 /><circle cx=1022 cy=473 r=6.5 /><circle cx=1194 cy=297 r=6.5 /><circle cx=1037 cy=365 r=6.5 /><circle cx=1162 cy=377 r=6.5 /><circle cx=1224 cy=174 r=6.5 /><circle cx=1089 cy=378 r=6.5 /><circle cx=1137 cy=321 r=6.5 /><circle cx=1233 cy=322 r=6.5 /><circle cx=1239 cy=370 r=6.5 /><circle cx=1103 cy=213 r=6.5 /><circle cx=1043 cy=285 r=6.5 /><circle cx=971 cy=485 r=6.5 /><circle cx=1148 cy=371 r=6.5 /><circle cx=1071 cy=336 r=6.5 /><circle cx=1014 cy=325 r=6.5 /><circle cx=1139 cy=357 r=6.5 /><circle cx=1001 cy=347 r=6.5 /><circle cx=1261 cy=336 r=6.5 /><circle cx=1198 cy=411 r=6.5 /><circle cx=1042 cy=375 r=6.5 /><circle cx=1241 cy=372 r=6.5 /><circle cx=1078 cy=475 r=6.5 /><circle cx=1025 cy=317 r=6.5 /><circle cx=1008 cy=93 r=6.5 /><circle cx=1171 cy=305 r=6.5 /><circle cx=1031 cy=167 r=6.5 /><circle cx=1217 cy=166 r=6.5 /><circle cx=988 cy=304 r=6.5 /><circle cx=1190 cy=346 r=6.5 /><circle cx=1063 cy=202 r=6.5 /><circle cx=1224 cy=336 r=6.5 /><circle cx=1118 cy=338 r=6.5 /><circle cx=1138 cy=318 r=6.5 /><circle cx=966 cy=513 r=6.5 /><circle cx=963 cy=405 r=6.5 /><circle cx=979 cy=404 r=6.5 /><circle cx=1224 cy=186 r=6.5 /><circle cx=974 cy=477 r=6.5 /><circle cx=1261 cy=186 r=6.5 /><circle cx=1040 cy=371 r=6.5 /><circle cx=1114 cy=252 r=6.5 /><circle cx=1077 cy=200 r=6.5 /><circle cx=969 cy=472 r=6.5 /><circle cx=1276 cy=359 r=6.5 /><circle cx=986 cy=95 r=6.5 /><circle cx=1004 cy=227 r=6.5 /><circle cx=957 cy=498 r=6.5 /><circle cx=1076 cy=139 r=6.5 /><circle cx=988 cy=376 r=6.5 /><circle cx=1043 cy=349 r=6.5 /><circle cx=986 cy=137 r=6.5 /><circle cx=1063 cy=359 r=6.5 /><circle cx=1165 cy=358 r=6.5 /><circle cx=1065 cy=175 r=6.5 /><circle cx=1066 cy=419 r=6.5 /><circle cx=1104 cy=131 r=6.5 /><circle cx=1065 cy=277 r=6.5 /><circle cx=1151 cy=233 r=6.5 /><circle cx=1173 cy=303 r=6.5 /><circle cx=1118 cy=176 r=6.5 /><circle cx=1253 cy=264 r=6.5 /><circle cx=1017 cy=277 r=6.5 /><circle cx=1010 cy=363 r=6.5 /><circle cx=1080 cy=236 r=6.5 /><circle cx=1128 cy=98 r=6.5 /><circle cx=1133 cy=395 r=6.5 /><circle cx=1071 cy=505 r=6.5 /><circle cx=982 cy=304 r=6.5 /><circle cx=1135 cy=419 r=6.5 /><circle cx=1180 cy=242 r=6.5 /><circle cx=1209 cy=390 r=6.5 /><circle cx=1142 cy=368 r=6.5 /><circle cx=1102 cy=311 r=6.5 /><circle cx=1244 cy=318 r=6.5 /><circle cx=979 cy=507 r=6.5 /><circle cx=1001 cy=387 r=6.5 /><circle cx=1179 cy=140 r=6.5 /><circle cx=1104 cy=383 r=6.5 /><circle cx=1065 cy=394 r=6.5 /><circle cx=1156 cy=328 r=6.5 /><circle cx=1153 cy=236 r=6.5 /><circle cx=1148 cy=340 r=6.5 /><circle cx=1254 cy=222 r=6.5 /><circle cx=1134 cy=155 r=6.5 /><circle cx=1093 cy=265 r=6.5 /><circle cx=1113 cy=140 r=6.5 /><circle cx=1259 cy=226 r=6.5 /><circle cx=1255 cy=180 r=6.5 /><circle cx=1197 cy=225 r=6.5 /><circle cx=1196 cy=374 r=6.5 /><circle cx=1146 cy=256 r=6.5 /><circle cx=1189 cy=418 r=6.5 /><circle cx=1211 cy=271 r=6.5 /><circle cx=995 cy=197 r=6.5 /><circle cx=1282 cy=247 r=6.5 /><circle cx=1248 cy=321 r=6.5 /><circle cx=1247 cy=345 r=6.5 /><circle cx=1000 cy=216 r=6.5 /><circle cx=1140 cy=282 r=6.5 /><circle cx=1241 cy=238 r=6.5 /><circle cx=1247 cy=206 r=6.5 /><circle cx=1051 cy=389 r=6.5 /><circle cx=1160 cy=257 r=6.5 /><circle cx=1029 cy=172 r=6.5 /><circle cx=971 cy=108 r=6.5 /><circle cx=1145 cy=214 r=6.5 /><circle cx=1157 cy=220 r=6.5 /><circle cx=1165 cy=247 r=6.5 /><circle cx=967 cy=104 r=6.5 /><circle cx=886 cy=416 r=6.5 /><circle cx=950 cy=394 r=6.5 /><circle cx=1124 cy=209 r=6.5 /><circle cx=979 cy=287 r=6.5 /><circle cx=1210 cy=154 r=6.5 /><circle cx=1239 cy=330 r=6.5 /><circle cx=1141 cy=239 r=6.5 /><circle cx=1252 cy=355 r=6.5 /><circle cx=1157 cy=192 r=6.5 /><circle cx=1058 cy=280 r=6.5 /><circle cx=1241 cy=198 r=6.5 /><circle cx=1118 cy=148 r=6.5 /><circle cx=1202 cy=155 r=6.5 /><circle cx=1116 cy=469 r=6.5 /><circle cx=1129 cy=289 r=6.5 /><circle cx=1124 cy=311 r=6.5 /><circle cx=1221 cy=407 r=6.5 /><circle cx=1066 cy=321 r=6.5 /><circle cx=1100 cy=90 r=6.5 /><circle cx=981 cy=194 r=6.5 /><circle cx=1037 cy=422 r=6.5 /><circle cx=1014 cy=82 r=6.5 /><circle cx=1082 cy=357 r=6.5 /><circle cx=997 cy=273 r=6.5 /><circle cx=1222 cy=361 r=6.5 /><circle cx=1057 cy=319 r=6.5 /><circle cx=1214 cy=450 r=6.5 /><circle cx=1235 cy=198 r=6.5 /><circle cx=1281 cy=267 r=6.5 /><circle cx=1203 cy=156 r=6.5 /><circle cx=1015 cy=306 r=6.5 /><circle cx=966 cy=339 r=6.5 /><circle cx=983 cy=338 r=6.5 /><circle cx=1030 cy=479 r=6.5 /><circle cx=1164 cy=311 r=6.5 /><circle cx=1163 cy=217 r=6.5 /><circle cx=1137 cy=245 r=6.5 /><circle cx=1059 cy=185 r=6.5 /><circle cx=1038 cy=164 r=6.5 /><circle cx=983 cy=355 r=6.5 /><circle cx=1075 cy=263 r=6.5 /><circle cx=1061 cy=385 r=6.5 /><circle cx=1018 cy=142 r=6.5 /><circle cx=1007 cy=292 r=6.5 /><circle cx=1096 cy=289 r=6.5 /><circle cx=988 cy=170 r=6.5 /><circle cx=1070 cy=306 r=6.5 /><circle cx=1023 cy=160 r=6.5 /><circle cx=1132 cy=156 r=6.5 /><circle cx=1015 cy=245 r=6.5 /><circle cx=1175 cy=138 r=6.5 /><circle cx=1047 cy=429 r=6.5 /><circle cx=1057 cy=317 r=6.5 /><circle cx=1099 cy=263 r=6.5 /><circle cx=1055 cy=82 r=6.5 /><circle cx=1221 cy=351 r=6.5 /><circle cx=999 cy=148 r=6.5 /><circle cx=1005 cy=398 r=6.5 /><circle cx=1238 cy=208 r=6.5 /><circle cx=999 cy=372 r=6.5 /><circle cx=1253 cy=315 r=6.5 /><circle cx=1300 cy=269 r=6.5 /><circle cx=1078 cy=248 r=6.5 /><circle cx=1162 cy=361 r=6.5 /><circle cx=1115 cy=101 r=6.5 /><circle cx=962 cy=263 r=6.5 /><circle cx=1026 cy=408 r=6.5 /><circle cx=1159 cy=132 r=6.5 /><circle cx=1209 cy=407 r=6.5 /><circle cx=1096 cy=382 r=6.5 /><circle cx=1012 cy=456 r=6.5 /><circle cx=1212 cy=284 r=6.5 /><circle cx=1019 cy=105 r=6.5 /><circle cx=1064 cy=364 r=6.5 /><circle cx=1005 cy=284 r=6.5 /><circle cx=975 cy=404 r=6.5 /><circle cx=1138 cy=350 r=6.5 /><circle cx=1038 cy=245 r=6.5 /><circle cx=1230 cy=267 r=6.5 /><circle cx=1010 cy=460 r=6.5 /><circle cx=1245 cy=173 r=6.5 /><circle cx=1119 cy=238 r=6.5 /><circle cx=1325 cy=394 r=6.5 /><circle cx=1077 cy=306 r=6.5 /><circle cx=1088 cy=100 r=6.5 /><circle cx=1022 cy=262 r=6.5 /><circle cx=1185 cy=138 r=6.5 /><circle cx=1016 cy=216 r=6.5 /><circle cx=1050 cy=469 r=6.5 /><circle cx=1010 cy=374 r=6.5 /><circle cx=981 cy=281 r=6.5 /><circle cx=1020 cy=321 r=6.5 /><circle cx=1196 cy=197 r=6.5 /><circle cx=1207 cy=347 r=6.5 /><circle cx=1320 cy=259 r=6.5 /><circle cx=1024 cy=106 r=6.5 /><circle cx=1288 cy=399 r=6.5 /><circle cx=1044 cy=377 r=6.5 /><circle cx=1026 cy=310 r=6.5 /><circle cx=1247 cy=295 r=6.5 /><circle cx=1289 cy=302 r=6.5 /><circle cx=1092 cy=115 r=6.5 /><circle cx=1059 cy=94 r=6.5 /><circle cx=1028 cy=285 r=6.5 /><circle cx=1170 cy=322 r=6.5 /><circle cx=1194 cy=318 r=6.5 /><circle cx=1140 cy=146 r=6.5 /><circle cx=1052 cy=289 r=6.5 /><circle cx=1283 cy=260 r=6.5 /><circle cx=1081 cy=140 r=6.5 /><circle cx=1158 cy=113 r=6.5 /><circle cx=1103 cy=160 r=6.5 /><circle cx=1144 cy=299 r=6.5 /><circle cx=1205 cy=308 r=6.5 /><circle cx=1118 cy=353 r=6.5 /><circle cx=1203 cy=257 r=6.5 /><circle cx=1161 cy=331 r=6.5 /><circle cx=935 cy=474 r=6.5 /><circle cx=1151 cy=213 r=6.5 /><circle cx=1029 cy=302 r=6.5 /><circle cx=972 cy=110 r=6.5 /><circle cx=1137 cy=174 r=6.5 /><circle cx=1253 cy=186 r=6.5 /><circle cx=1120 cy=328 r=6.5 /><circle cx=1230 cy=381 r=6.5 /><circle cx=1294 cy=234 r=6.5 /><circle cx=1283 cy=415 r=6.5 /><circle cx=1067 cy=170 r=6.5 /><circle cx=1230 cy=309 r=6.5 /><circle cx=1009 cy=98 r=6.5 /><circle cx=1150 cy=312 r=6.5 /><circle cx=1177 cy=150 r=6.5 /><circle cx=1046 cy=415 r=6.5 /><circle cx=1181 cy=221 r=6.5 /><circle cx=1128 cy=332 r=6.5 /><circle cx=1027 cy=389 r=6.5 /><circle cx=1023 cy=354 r=6.5 /><circle cx=1159 cy=467 r=6.5 /><circle cx=1042 cy=415 r=6.5 /><circle cx=1064 cy=217 r=6.5 /><circle cx=1164 cy=175 r=6.5 /><circle cx=1222 cy=244 r=6.5 /><circle cx=1247 cy=289 r=6.5 /><circle cx=1144 cy=331 r=6.5 /><circle cx=924 cy=369 r=6.5 /><circle cx=1039 cy=100 r=6.5 /><circle cx=1139 cy=239 r=6.5 /><circle cx=1210 cy=260 r=6.5 /><circle cx=944 cy=292 r=6.5 /><circle cx=1096 cy=95 r=6.5 /><circle cx=1194 cy=424 r=6.5 /><circle cx=985 cy=180 r=6.5 /><circle cx=1169 cy=367 r=6.5 /><circle cx=1077 cy=334 r=6.5 /><circle cx=1212 cy=213 r=6.5 /><circle cx=1064 cy=238 r=6.5 /><circle cx=1245 cy=362 r=6.5 /><circle cx=1122 cy=118 r=6.5 /><circle cx=1142 cy=401 r=6.5 /><circle cx=1072 cy=140 r=6.5 /><circle cx=1226 cy=327 r=6.5 /><circle cx=1020 cy=105 r=6.5 /><circle cx=1026 cy=135 r=6.5 /><circle cx=977 cy=309 r=6.5 /><circle cx=1167 cy=430 r=6.5 /><circle cx=1202 cy=212 r=6.5 /><circle cx=949 cy=200 r=6.5 /><circle cx=1016 cy=328 r=6.5 /><circle cx=1090 cy=141 r=6.5 /><circle cx=1000 cy=177 r=6.5 /><circle cx=1020 cy=98 r=6.5 /><circle cx=1223 cy=342 r=6.5 /><circle cx=986 cy=354 r=6.5 /><circle cx=1037 cy=202 r=6.5 /><circle cx=1011 cy=454 r=6.5 /><circle cx=1065 cy=453 r=6.5 /><circle cx=1256 cy=250 r=6.5 /><circle cx=1072 cy=465 r=6.5 /><circle cx=1168 cy=162 r=6.5 /><circle cx=1255 cy=280 r=6.5 /><circle cx=999 cy=495 r=6.5 /><circle cx=1084 cy=324 r=6.5 /><circle cx=1276 cy=205 r=6.5 /><circle cx=1133 cy=123 r=6.5 /><circle cx=1098 cy=102 r=6.5 /><circle cx=1141 cy=213 r=6.5 /><circle cx=1112 cy=148 r=6.5 /><circle cx=1185 cy=245 r=6.5 /><circle cx=1179 cy=397 r=6.5 /><circle cx=1007 cy=123 r=6.5 /><circle cx=1097 cy=158 r=6.5 /><circle cx=1078 cy=423 r=6.5 /><circle cx=1216 cy=217 r=6.5 /><circle cx=1136 cy=513 r=6.5 /><circle cx=1057 cy=288 r=6.5 /><circle cx=1230 cy=267 r=6.5 /><circle cx=990 cy=212 r=6.5 /><circle cx=1122 cy=398 r=6.5 /><circle cx=988 cy=93 r=6.5 /><circle cx=1275 cy=216 r=6.5 /><circle cx=1278 cy=193 r=6.5 /><circle cx=1135 cy=181 r=6.5 /><circle cx=996 cy=267 r=6.5 /><circle cx=1084 cy=394 r=6.5 /><circle cx=968 cy=103 r=6.5 /><circle cx=1205 cy=216 r=6.5 /><circle cx=1279 cy=242 r=6.5 /><circle cx=1121 cy=165 r=6.5 /><circle cx=1012 cy=344 r=6.5 /><circle cx=1223 cy=178 r=6.5 /><circle cx=1174 cy=338 r=6.5 /><circle cx=1093 cy=215 r=6.5 /><circle cx=1062 cy=431 r=6.5 /><circle cx=1210 cy=448 r=6.5 /><circle cx=1229 cy=353 r=6.5 /><circle cx=976 cy=173 r=6.5 /><circle cx=1016 cy=337 r=6.5 /><circle cx=1133 cy=381 r=6.5 /><circle cx=1249 cy=235 r=6.5 /><circle cx=1148 cy=464 r=6.5 /><circle cx=1030 cy=237 r=6.5 /><circle cx=1277 cy=208 r=6.5 /><circle cx=1114 cy=178 r=6.5 /><circle cx=1148 cy=291 r=6.5 /><circle cx=1249 cy=299 r=6.5 /><circle cx=963 cy=470 r=6.5 /><circle cx=1175 cy=432 r=6.5 /><circle cx=1258 cy=356 r=6.5 /><circle cx=1121 cy=426 r=6.5 /><circle cx=1145 cy=160 r=6.5 /><circle cx=1192 cy=437 r=6.5 /><circle cx=1187 cy=353 r=6.5 /><circle cx=1247 cy=170 r=6.5 /><circle cx=1035 cy=177 r=6.5 /><circle cx=1232 cy=194 r=6.5 /><circle cx=1155 cy=247 r=6.5 /><circle cx=1105 cy=375 r=6.5 /><circle cx=1092 cy=99 r=6.5 /><circle cx=988 cy=130 r=6.5 /><circle cx=1041 cy=282 r=6.5 /><circle cx=1017 cy=149 r=6.5 /><circle cx=1018 cy=233 r=6.5 /><circle cx=1114 cy=438 r=6.5 /><circle cx=1198 cy=299 r=6.5 /><circle cx=1006 cy=95 r=6.5 /><circle cx=1120 cy=141 r=6.5 /><circle cx=1034 cy=122 r=6.5 /><circle cx=951 cy=494 r=6.5 /><circle cx=1020 cy=385 r=6.5 /><circle cx=1258 cy=252 r=6.5 /><circle cx=1279 cy=214 r=6.5 /><circle cx=1109 cy=373 r=6.5 /><circle cx=1183 cy=204 r=6.5 /><circle cx=981 cy=353 r=6.5 /><circle cx=1046 cy=124 r=6.5 /><circle cx=1056 cy=353 r=6.5 /><circle cx=1272 cy=426 r=6.5 /><circle cx=1137 cy=300 r=6.5 /><circle cx=1081 cy=328 r=6.5 /><circle cx=1059 cy=113 r=6.5 /><circle cx=1013 cy=263 r=6.5 /><circle cx=1128 cy=145 r=6.5 /><circle cx=1115 cy=423 r=6.5 /><circle cx=1050 cy=467 r=6.5 /><circle cx=1194 cy=184 r=6.5 /><circle cx=1110 cy=406 r=6.5 /><circle cx=1221 cy=274 r=6.5 /><circle cx=1041 cy=102 r=6.5 /><circle cx=985 cy=89 r=6.5 /><circle cx=1202 cy=279 r=6.5 /><circle cx=984 cy=141 r=6.5 /><circle cx=1101 cy=315 r=6.5 /><circle cx=1148 cy=320 r=6.5 /><circle cx=1079 cy=99 r=6.5 /><circle cx=1132 cy=189 r=6.5 /><circle cx=1147 cy=293 r=6.5 /><circle cx=1180 cy=184 r=6.5 /><circle cx=1000 cy=181 r=6.5 /><circle cx=1089 cy=308 r=6.5 /><circle cx=1151 cy=144 r=6.5 /><circle cx=1052 cy=87 r=6.5 /><circle cx=1143 cy=285 r=6.5 /><circle cx=1222 cy=438 r=6.5 /><circle cx=1163 cy=109 r=6.5 /><circle cx=1175 cy=218 r=6.5 /><circle cx=1051 cy=154 r=6.5 /><circle cx=1207 cy=328 r=6.5 /><circle cx=1134 cy=125 r=6.5 /><circle cx=1052 cy=230 r=6.5 /><circle cx=1098 cy=226 r=6.5 /><circle cx=1065 cy=379 r=6.5 /><circle cx=1034 cy=179 r=6.5 /><circle cx=1138 cy=113 r=6.5 /><circle cx=987 cy=105 r=6.5 /><circle cx=1050 cy=178 r=6.5 /><circle cx=1155 cy=261 r=6.5 /><circle cx=1145 cy=345 r=6.5 /><circle cx=1184 cy=356 r=6.5 /><circle cx=1197 cy=455 r=6.5 /><circle cx=1155 cy=139 r=6.5 /><circle cx=977 cy=164 r=6.5 /><circle cx=1075 cy=446 r=6.5 /><circle cx=1060 cy=208 r=6.5 /><circle cx=1191 cy=361 r=6.5 /><circle cx=1120 cy=258 r=6.5 /><circle cx=1137 cy=130 r=6.5 /><circle cx=979 cy=509 r=6.5 /><circle cx=1090 cy=207 r=6.5 /><circle cx=1117 cy=300 r=6.5 /><circle cx=1066 cy=113 r=6.5 /><circle cx=1048 cy=230 r=6.5 /><circle cx=1124 cy=273 r=6.5 /><circle cx=1192 cy=187 r=6.5 /><circle cx=998 cy=233 r=6.5 /><circle cx=1073 cy=155 r=6.5 /><circle cx=1214 cy=263 r=6.5 /><circle cx=974 cy=441 r=6.5 /><circle cx=1013 cy=325 r=6.5 /><circle cx=1186 cy=512 r=6.5 /><circle cx=1042 cy=180 r=6.5 /><circle cx=1209 cy=208 r=6.5 /><circle cx=1032 cy=235 r=6.5 /><circle cx=1201 cy=307 r=6.5 /><circle cx=994 cy=238 r=6.5 /><circle cx=1090 cy=426 r=6.5 /><circle cx=1050 cy=339 r=6.5 /><circle cx=1160 cy=108 r=6.5 /><circle cx=1177 cy=444 r=6.5 /><circle cx=1099 cy=206 r=6.5 /><circle cx=997 cy=225 r=6.5 /><circle cx=1222 cy=355 r=6.5 /><circle cx=1182 cy=179 r=6.5 /><circle cx=1052 cy=298 r=6.5 /><circle cx=1258 cy=218 r=6.5 /><circle cx=1012 cy=349 r=6.5 /><circle cx=953 cy=93 r=6.5 /><circle cx=1270 cy=204 r=6.5 /><circle cx=1219 cy=327 r=6.5 /><circle cx=1093 cy=420 r=6.5 /><circle cx=1110 cy=219 r=6.5 /><circle cx=1123 cy=294 r=6.5 /><circle cx=1221 cy=333 r=6.5 /><circle cx=1107 cy=99 r=6.5 /><circle cx=1014 cy=297 r=6.5 /><circle cx=1141 cy=408 r=6.5 /><circle cx=1167 cy=366 r=6.5 /><circle cx=1204 cy=235 r=6.5 /><circle cx=1009 cy=468 r=6.5 /><circle cx=1268 cy=290 r=6.5 /><circle cx=1010 cy=217 r=6.5 /><circle cx=1101 cy=351 r=6.5 /><circle cx=1305 cy=462 r=6.5 /><circle cx=1021 cy=315 r=6.5 /><circle cx=1110 cy=228 r=6.5 /><circle cx=1065 cy=173 r=6.5 /><circle cx=1017 cy=251 r=6.5 /><circle cx=1233 cy=357 r=6.5 /><circle cx=997 cy=201 r=6.5 /><circle cx=1206 cy=289 r=6.5 /><circle cx=1068 cy=171 r=6.5 /><circle cx=1254 cy=314 r=6.5 /><circle cx=1301 cy=282 r=6.5 /><circle cx=1111 cy=513 r=6.5 /><circle cx=933 cy=394 r=6.5 /><circle cx=1274 cy=321 r=6.5 /><circle cx=1241 cy=204 r=6.5 /><circle cx=1007 cy=160 r=6.5 /><circle cx=968 cy=269 r=6.5 /><circle cx=1226 cy=257 r=6.5 /><circle cx=1094 cy=163 r=6.5 /><circle cx=985 cy=345 r=6.5 /><circle cx=1193 cy=176 r=6.5 /><circle cx=1243 cy=379 r=6.5 /><circle cx=1165 cy=334 r=6.5 /><circle cx=1054 cy=105 r=6.5 /><circle cx=1000 cy=149 r=6.5 /><circle cx=997 cy=145 r=6.5 /><circle cx=1241 cy=167 r=6.5 /><circle cx=1004 cy=369 r=6.5 /><circle cx=1171 cy=191 r=6.5 /><circle cx=1190 cy=274 r=6.5 /><circle cx=1155 cy=132 r=6.5 /><circle cx=1112 cy=202 r=6.5 /><circle cx=1183 cy=329 r=6.5 /><circle cx=1042 cy=132 r=6.5 /><circle cx=1042 cy=339 r=6.5 /><circle cx=1006 cy=141 r=6.5 /><circle cx=1044 cy=343 r=6.5 /><circle cx=1115 cy=263 r=6.5 /><circle cx=1139 cy=219 r=6.5 /><circle cx=1115 cy=168 r=6.5 /><circle cx=1250 cy=350 r=6.5 /><circle cx=1013 cy=268 r=6.5 /><circle cx=1104 cy=142 r=6.5 /><circle cx=1205 cy=223 r=6.5 /><circle cx=1038 cy=258 r=6.5 /><circle cx=992 cy=289 r=6.5 /><circle cx=1036 cy=498 r=6.5 /><circle cx=977 cy=441 r=6.5 /><circle cx=1097 cy=330 r=6.5 /><circle cx=990 cy=112 r=6.5 /><circle cx=1100 cy=198 r=6.5 /><circle cx=1162 cy=364 r=6.5 /><circle cx=1185 cy=512 r=6.5 /><circle cx=1148 cy=397 r=6.5 /><circle cx=1032 cy=478 r=6.5 /><circle cx=1110 cy=327 r=6.5 /><circle cx=1112 cy=514 r=6.5 /><circle cx=1011 cy=221 r=6.5 /><circle cx=1218 cy=161 r=6.5 /><circle cx=1128 cy=408 r=6.5 /><circle cx=1054 cy=307 r=6.5 /><circle cx=1273 cy=291 r=6.5 /><circle cx=932 cy=289 r=6.5 /><circle cx=1121 cy=235 r=6.5 /><circle cx=1171 cy=137 r=6.5 /><circle cx=1207 cy=172 r=6.5 /><circle cx=1242 cy=181 r=6.5 /><circle cx=1180 cy=138 r=6.5 /><circle cx=1103 cy=351 r=6.5 /><circle cx=1216 cy=352 r=6.5 /><circle cx=1073 cy=315 r=6.5 /><circle cx=1010 cy=153 r=6.5 /><circle cx=1182 cy=137 r=6.5 /><circle cx=1140 cy=231 r=6.5 /><circle cx=1164 cy=137 r=6.5 /><circle cx=1027 cy=320 r=6.5 /><circle cx=1070 cy=354 r=6.5 /><circle cx=1098 cy=293 r=6.5 /><circle cx=1121 cy=509 r=6.5 /><circle cx=1115 cy=360 r=6.5 /><circle cx=1258 cy=190 r=6.5 /><circle cx=1092 cy=378 r=6.5 /><circle cx=1048 cy=162 r=6.5 /><circle cx=1184 cy=183 r=6.5 /><circle cx=1076 cy=225 r=6.5 /><circle cx=1126 cy=297 r=6.5 /><circle cx=1274 cy=385 r=6.5 /><circle cx=1063 cy=257 r=6.5 /><circle cx=1097 cy=136 r=6.5 /><circle cx=1158 cy=464 r=6.5 /><circle cx=1248 cy=273 r=6.5 /><circle cx=1125 cy=367 r=6.5 /><circle cx=1150 cy=279 r=6.5 /><circle cx=1127 cy=377 r=6.5 /><circle cx=1079 cy=186 r=6.5 /><circle cx=1134 cy=338 r=6.5 /><circle cx=1176 cy=229 r=6.5 /><circle cx=1065 cy=168 r=6.5 /><circle cx=1187 cy=274 r=6.5 /><circle cx=984 cy=514 r=6.5 /><circle cx=1253 cy=186 r=6.5 /><circle cx=1255 cy=225 r=6.5 /><circle cx=1132 cy=486 r=6.5 /><circle cx=1291 cy=317 r=6.5 /><circle cx=1053 cy=364 r=6.5 /><circle cx=1055 cy=429 r=6.5 /><circle cx=1291 cy=247 r=6.5 /><circle cx=1111 cy=383 r=6.5 /><circle cx=961 cy=185 r=6.5 /><circle cx=1107 cy=102 r=6.5 /><circle cx=1154 cy=233 r=6.5 /><circle cx=1082 cy=311 r=6.5 /><circle cx=1116 cy=93 r=6.5 /><circle cx=1145 cy=138 r=6.5 /><circle cx=1052 cy=488 r=6.5 /><circle cx=1061 cy=112 r=6.5 /><circle cx=1154 cy=375 r=6.5 /><circle cx=971 cy=367 r=6.5 /><circle cx=1092 cy=103 r=6.5 /><circle cx=1067 cy=141 r=6.5 /><circle cx=1207 cy=308 r=6.5 /><circle cx=993 cy=353 r=6.5 /><circle cx=1127 cy=192 r=6.5 /><circle cx=1217 cy=337 r=6.5 /><circle cx=977 cy=238 r=6.5 /><circle cx=1069 cy=436 r=6.5 /><circle cx=1078 cy=179 r=6.5 /><circle cx=1092 cy=408 r=6.5 /><circle cx=1026 cy=116 r=6.5 /><circle cx=1086 cy=179 r=6.5 /><circle cx=1173 cy=269 r=6.5 /><circle cx=1147 cy=176 r=6.5 /><circle cx=1100 cy=333 r=6.5 /><circle cx=999 cy=241 r=6.5 /><circle cx=1229 cy=286 r=6.5 /><circle cx=1218 cy=387 r=6.5 /><circle cx=1062 cy=116 r=6.5 /><circle cx=1200 cy=136 r=6.5 /><circle cx=1022 cy=212 r=6.5 /><circle cx=960 cy=88 r=6.5 /><circle cx=1039 cy=304 r=6.5 /><circle cx=1165 cy=426 r=6.5 /><circle cx=1269 cy=243 r=6.5 /><circle cx=1005 cy=514 r=6.5 /><circle cx=1124 cy=360 r=6.5 /><circle cx=1155 cy=292 r=6.5 /><circle cx=1247 cy=180 r=6.5 /><circle cx=1112 cy=153 r=6.5 /><circle cx=1140 cy=300 r=6.5 /><circle cx=1033 cy=308 r=6.5 /><circle cx=1031 cy=379 r=6.5 /><circle cx=1165 cy=264 r=6.5 /><circle cx=1063 cy=270 r=6.5 /><circle cx=1061 cy=312 r=6.5 /><circle cx=1106 cy=298 r=6.5 /><circle cx=1089 cy=163 r=6.5 /><circle cx=1126 cy=235 r=6.5 /><circle cx=1191 cy=263 r=6.5 /><circle cx=1251 cy=419 r=6.5 /><circle cx=1052 cy=128 r=6.5 /><circle cx=1274 cy=248 r=6.5 /><circle cx=1201 cy=342 r=6.5 /><circle cx=1099 cy=490 r=6.5 /><circle cx=1065 cy=279 r=6.5 /><circle cx=1111 cy=494 r=6.5 /><circle cx=1188 cy=218 r=6.5 /><circle cx=1037 cy=276 r=6.5 /><circle cx=1195 cy=314 r=6.5 /><circle cx=1080 cy=361 r=6.5 /><circle cx=1074 cy=288 r=6.5 /><circle cx=1011 cy=316 r=6.5 /><circle cx=1035 cy=362 r=6.5 /><circle cx=1227 cy=394 r=6.5 /><circle cx=1132 cy=105 r=6.5 /><circle cx=994 cy=274 r=6.5 /><circle cx=998 cy=244 r=6.5 /><circle cx=995 cy=319 r=6.5 /><circle cx=1252 cy=176 r=6.5 /><circle cx=1210 cy=298 r=6.5 /><circle cx=1140 cy=132 r=6.5 /><circle cx=1259 cy=257 r=6.5 /><circle cx=1086 cy=268 r=6.5 /><circle cx=1172 cy=278 r=6.5 /><circle cx=1240 cy=181 r=6.5 /><circle cx=1054 cy=307 r=6.5 /><circle cx=1131 cy=411 r=6.5 /><circle cx=1109 cy=180 r=6.5 /><circle cx=1131 cy=322 r=6.5 /><circle cx=916 cy=495 r=6.5 /><circle cx=1055 cy=84 r=6.5 /><circle cx=1193 cy=373 r=6.5 /><circle cx=1110 cy=399 r=6.5 /><circle cx=980 cy=362 r=6.5 /><circle cx=1127 cy=506 r=6.5 /><circle cx=1221 cy=392 r=6.5 /><circle cx=869 cy=492 r=6.5 /><circle cx=1177 cy=215 r=6.5 /><circle cx=1226 cy=307 r=6.5 /><circle cx=1103 cy=349 r=6.5 /><circle cx=1073 cy=366 r=6.5 /><circle cx=1234 cy=399 r=6.5 /><circle cx=1029 cy=122 r=6.5 /><circle cx=1091 cy=359 r=6.5 /><circle cx=1154 cy=230 r=6.5 /><circle cx=1135 cy=300 r=6.5 /><circle cx=1243 cy=325 r=6.5 /><circle cx=1162 cy=320 r=6.5 /><circle cx=925 cy=255 r=6.5 /><circle cx=1141 cy=330 r=6.5 /><circle cx=1020 cy=266 r=6.5 /><circle cx=1188 cy=281 r=6.5 /><circle cx=1181 cy=347 r=6.5 /><circle cx=1029 cy=217 r=6.5 /><circle cx=1124 cy=161 r=6.5 /><circle cx=1021 cy=407 r=6.5 /><circle cx=1160 cy=375 r=6.5 /><circle cx=1247 cy=230 r=6.5 /><circle cx=1256 cy=183 r=6.5 /><circle cx=1159 cy=335 r=6.5 /><circle cx=1071 cy=446 r=6.5 /><circle cx=1079 cy=191 r=6.5 /><circle cx=1007 cy=330 r=6.5 /><circle cx=1078 cy=342 r=6.5 /><circle cx=1070 cy=385 r=6.5 /><circle cx=988 cy=89 r=6.5 /><circle cx=979 cy=488 r=6.5 /><circle cx=1115 cy=207 r=6.5 /><circle cx=1161 cy=114 r=6.5 /><circle cx=1084 cy=266 r=6.5 /><circle cx=1052 cy=344 r=6.5 /><circle cx=1148 cy=495 r=6.5 /><circle cx=1007 cy=448 r=6.5 /><circle cx=1081 cy=396 r=6.5 /><circle cx=1146 cy=105 r=6.5 /><circle cx=1075 cy=408 r=6.5 /><circle cx=1273 cy=220 r=6.5 /><circle cx=1005 cy=298 r=6.5 /><circle cx=1068 cy=154 r=6.5 /><circle cx=1155 cy=450 r=6.5 /><circle cx=1008 cy=350 r=6.5 /><circle cx=1166 cy=173 r=6.5 /><circle cx=1244 cy=292 r=6.5 /><circle cx=1093 cy=274 r=6.5 /><circle cx=987 cy=118 r=6.5 /><circle cx=1299 cy=282 r=6.5 /><circle cx=1156 cy=174 r=6.5 /><circle cx=1125 cy=323 r=6.5 /><circle cx=1136 cy=402 r=6.5 /><circle cx=1146 cy=494 r=6.5 /><circle cx=1168 cy=195 r=6.5 /><circle cx=1284 cy=275 r=6.5 /><circle cx=1141 cy=290 r=6.5 /><circle cx=1019 cy=100 r=6.5 /><circle cx=1149 cy=439 r=6.5 /><circle cx=962 cy=421 r=6.5 /><circle cx=1121 cy=267 r=6.5 /><circle cx=1046 cy=203 r=6.5 /><circle cx=1110 cy=311 r=6.5 /><circle cx=1061 cy=205 r=6.5 /><circle cx=1211 cy=203 r=6.5 /><circle cx=1057 cy=253 r=6.5 /><circle cx=1160 cy=176 r=6.5 /><circle cx=973 cy=296 r=6.5 /><circle cx=1118 cy=229 r=6.5 /><circle cx=1056 cy=289 r=6.5 /><circle cx=1075 cy=459 r=6.5 /><circle cx=1233 cy=278 r=6.5 /><circle cx=1093 cy=267 r=6.5 /><circle cx=1130 cy=180 r=6.5 /><circle cx=1002 cy=225 r=6.5 /><circle cx=1050 cy=158 r=6.5 /><circle cx=1169 cy=249 r=6.5 /><circle cx=1055 cy=318 r=6.5 /><circle cx=1081 cy=310 r=6.5 /><circle cx=1233 cy=246 r=6.5 /><circle cx=1194 cy=171 r=6.5 /><circle cx=1023 cy=207 r=6.5 /><circle cx=1173 cy=301 r=6.5 /><circle cx=1084 cy=379 r=6.5 /><circle cx=1228 cy=261 r=6.5 /><circle cx=1084 cy=92 r=6.5 /><circle cx=1151 cy=207 r=6.5 /><circle cx=1145 cy=471 r=6.5 /><circle cx=946 cy=165 r=6.5 /><circle cx=1203 cy=153 r=6.5 /><circle cx=993 cy=146 r=6.5 /><circle cx=1127 cy=347 r=6.5 /><circle cx=1181 cy=122 r=6.5 /><circle cx=984 cy=301 r=6.5 /><circle cx=1151 cy=181 r=6.5 /><circle cx=1034 cy=285 r=6.5 /><circle cx=1060 cy=356 r=6.5 /><circle cx=1054 cy=301 r=6.5 /><circle cx=1093 cy=249 r=6.5 /><circle cx=1257 cy=225 r=6.5 /><circle cx=1076 cy=104 r=6.5 /><circle cx=1137 cy=248 r=6.5 /><circle cx=1255 cy=383 r=6.5 /><circle cx=1136 cy=128 r=6.5 /><circle cx=1159 cy=398 r=6.5 /><circle cx=1148 cy=105 r=6.5 /><circle cx=1294 cy=220 r=6.5 /><circle cx=1023 cy=259 r=6.5 /><circle cx=1050 cy=83 r=6.5 /><circle cx=1250 cy=247 r=6.5 /><circle cx=1167 cy=278 r=6.5 /><circle cx=1247 cy=416 r=6.5 /><circle cx=1215 cy=364 r=6.5 /><circle cx=1181 cy=272 r=6.5 /><circle cx=1066 cy=92 r=6.5 /><circle cx=1152 cy=424 r=6.5 /><circle cx=1080 cy=241 r=6.5 /><circle cx=1042 cy=264 r=6.5 /><circle cx=1022 cy=479 r=6.5 /><circle cx=1134 cy=417 r=6.5 /><circle cx=1041 cy=225 r=6.5 /><circle cx=1022 cy=217 r=6.5 /><circle cx=1066 cy=328 r=6.5 /><circle cx=1048 cy=185 r=6.5 /><circle cx=1183 cy=247 r=6.5 /><circle cx=1042 cy=290 r=6.5 /><circle cx=1201 cy=382 r=6.5 /><circle cx=1246 cy=244 r=6.5 /><circle cx=1155 cy=239 r=6.5 /><circle cx=1188 cy=152 r=6.5 /><circle cx=1208 cy=440 r=6.5 /><circle cx=1070 cy=330 r=6.5 /><circle cx=1082 cy=162 r=6.5 /><circle cx=1035 cy=250 r=6.5 /><circle cx=965 cy=437 r=6.5 /><circle cx=1104 cy=296 r=6.5 /><circle cx=1212 cy=400 r=6.5 /><circle cx=1137 cy=371 r=6.5 /><circle cx=1145 cy=139 r=6.5 /><circle cx=1192 cy=194 r=6.5 /><circle cx=1013 cy=201 r=6.5 /><circle cx=933 cy=409 r=6.5 /><circle cx=1199 cy=166 r=6.5 /><circle cx=1074 cy=483 r=6.5 /><circle cx=1146 cy=116 r=6.5 /><circle cx=967 cy=94 r=6.5 /><circle cx=1032 cy=94 r=6.5 /><circle cx=1136 cy=174 r=6.5 /><circle cx=1203 cy=448 r=6.5 /><circle cx=994 cy=212 r=6.5 /><circle cx=1132 cy=514 r=6.5 /><circle cx=1095 cy=123 r=6.5 /><circle cx=1062 cy=136 r=6.5 /><circle cx=1108 cy=258 r=6.5 /><circle cx=1154 cy=242 r=6.5 /><circle cx=1043 cy=190 r=6.5 /><circle cx=996 cy=322 r=6.5 /><circle cx=1018 cy=265 r=6.5 /><circle cx=1138 cy=344 r=6.5 /><circle cx=1286 cy=386 r=6.5 /><circle cx=988 cy=275 r=6.5 /><circle cx=1198 cy=176 r=6.5 /><circle cx=1057 cy=310 r=6.5 /><circle cx=1042 cy=307 r=6.5 /><circle cx=1143 cy=157 r=6.5 /><circle cx=1009 cy=315 r=6.5 /><circle cx=1029 cy=435 r=6.5 /><circle cx=1117 cy=319 r=6.5 /><circle cx=1168 cy=288 r=6.5 /><circle cx=1165 cy=309 r=6.5 /><circle cx=1140 cy=270 r=6.5 /><circle cx=1150 cy=132 r=6.5 /><circle cx=1041 cy=215 r=6.5 /><circle cx=1079 cy=191 r=6.5 /><circle cx=1078 cy=244 r=6.5 /><circle cx=1178 cy=318 r=6.5 /><circle cx=1062 cy=398 r=6.5 /><circle cx=1239 cy=356 r=6.5 /><circle cx=1106 cy=143 r=6.5 /><circle cx=1216 cy=164 r=6.5 /><circle cx=1146 cy=189 r=6.5 /><circle cx=1189 cy=147 r=6.5 /><circle cx=1176 cy=305 r=6.5 /><circle cx=1226 cy=376 r=6.5 /><circle cx=1196 cy=225 r=6.5 /><circle cx=1030 cy=223 r=6.5 /><circle cx=1154 cy=476 r=6.5 /><circle cx=1061 cy=304 r=6.5 /><circle cx=948 cy=259 r=6.5 /><circle cx=1024 cy=394 r=6.5 /><circle cx=1261 cy=264 r=6.5 /><circle cx=1069 cy=510 r=6.5 /><circle cx=970 cy=104 r=6.5 /><circle cx=1153 cy=394 r=6.5 /><circle cx=1139 cy=416 r=6.5 /><circle cx=992 cy=170 r=6.5 /><circle cx=1247 cy=312 r=6.5 /><circle cx=1142 cy=221 r=6.5 /><circle cx=1081 cy=424 r=6.5 /><circle cx=1125 cy=153 r=6.5 /><circle cx=1133 cy=464 r=6.5 /><circle cx=1102 cy=223 r=6.5 /><circle cx=1053 cy=140 r=6.5 /><circle cx=1055 cy=273 r=6.5 /><circle cx=1054 cy=175 r=6.5 /><circle cx=1292 cy=252 r=6.5 /><circle cx=954 cy=442 r=6.5 /><circle cx=1163 cy=275 r=6.5 /><circle cx=1006 cy=482 r=6.5 /><circle cx=1220 cy=156 r=6.5 /><circle cx=1132 cy=377 r=6.5 /><circle cx=1046 cy=225 r=6.5 /><circle cx=1191 cy=323 r=6.5 /><circle cx=1238 cy=247 r=6.5 /><circle cx=1152 cy=103 r=6.5 /><circle cx=1191 cy=131 r=6.5 /><circle cx=1177 cy=319 r=6.5 /><circle cx=1186 cy=262 r=6.5 /><circle cx=1258 cy=365 r=6.5 /><circle cx=1189 cy=367 r=6.5 /><circle cx=1218 cy=360 r=6.5 /><circle cx=1266 cy=275 r=6.5 /><circle cx=1083 cy=197 r=6.5 /><circle cx=1022 cy=122 r=6.5 /><circle cx=1233 cy=294 r=6.5 /><circle cx=1103 cy=99 r=6.5 /><circle cx=1133 cy=243 r=6.5 /><circle cx=1094 cy=421 r=6.5 /><circle cx=1094 cy=218 r=6.5 /><circle cx=1195 cy=356 r=6.5 /><circle cx=1115 cy=383 r=6.5 /><circle cx=1053 cy=371 r=6.5 /><circle cx=1236 cy=270 r=6.5 /><circle cx=988 cy=142 r=6.5 /><circle cx=1138 cy=292 r=6.5 /><circle cx=1130 cy=419 r=6.5 /><circle cx=1293 cy=262 r=6.5 /><circle cx=1088 cy=466 r=6.5 /><circle cx=988 cy=195 r=6.5 /><circle cx=1259 cy=212 r=6.5 /><circle cx=1092 cy=210 r=6.5 /><circle cx=1029 cy=89 r=6.5 /><circle cx=1000 cy=124 r=6.5 /><circle cx=1165 cy=417 r=6.5 /><circle cx=1079 cy=257 r=6.5 /><circle cx=1255 cy=288 r=6.5 /><circle cx=1041 cy=173 r=6.5 /><circle cx=1177 cy=150 r=6.5 /><circle cx=1120 cy=122 r=6.5 /><circle cx=1233 cy=199 r=6.5 /><circle cx=1180 cy=266 r=6.5 /><circle cx=1285 cy=258 r=6.5 /><circle cx=1244 cy=333 r=6.5 /><circle cx=1122 cy=135 r=6.5 /><circle cx=1142 cy=393 r=6.5 /><circle cx=1188 cy=276 r=6.5 /><circle cx=1002 cy=139 r=6.5 /><circle cx=1097 cy=500 r=6.5 /><circle cx=992 cy=106 r=6.5 /><circle cx=1161 cy=329 r=6.5 /><circle cx=1179 cy=172 r=6.5 /><circle cx=1163 cy=267 r=6.5 /><circle cx=1159 cy=133 r=6.5 /><circle cx=1081 cy=390 r=6.5 /><circle cx=1173 cy=212 r=6.5 /><circle cx=1192 cy=215 r=6.5 /><circle cx=1056 cy=309 r=6.5 /><circle cx=1132 cy=272 r=6.5 /><circle cx=1021 cy=112 r=6.5 /><circle cx=1129 cy=157 r=6.5 /><circle cx=1125 cy=267 r=6.5 /><circle cx=1093 cy=320 r=6.5 /><circle cx=1172 cy=286 r=6.5 /><circle cx=1193 cy=354 r=6.5 /><circle cx=926 cy=213 r=6.5 /><circle cx=971 cy=381 r=6.5 /><circle cx=995 cy=171 r=6.5 /><circle cx=1060 cy=165 r=6.5 /><circle cx=1028 cy=251 r=6.5 /><circle cx=1169 cy=236 r=6.5 /><circle cx=1200 cy=363 r=6.5 /><circle cx=1207 cy=240 r=6.5 /><circle cx=1205 cy=240 r=6.5 /><circle cx=1023 cy=114 r=6.5 /><circle cx=985 cy=255 r=6.5 /><circle cx=1152 cy=374 r=6.5 /><circle cx=1163 cy=218 r=6.5 /><circle cx=984 cy=294 r=6.5 /><circle cx=1035 cy=176 r=6.5 /><circle cx=1203 cy=146 r=6.5 /><circle cx=1200 cy=332 r=6.5 /><circle cx=1148 cy=248 r=6.5 /><circle cx=1146 cy=430 r=6.5 /><circle cx=1323 cy=273 r=6.5 /><circle cx=1126 cy=301 r=6.5 /><circle cx=1071 cy=371 r=6.5 /><circle cx=1018 cy=227 r=6.5 /><circle cx=982 cy=305 r=6.5 /><circle cx=964 cy=170 r=6.5 /><circle cx=1228 cy=233 r=6.5 /><circle cx=1141 cy=324 r=6.5 /><circle cx=936 cy=201 r=6.5 /><circle cx=1061 cy=91 r=6.5 /><circle cx=1160 cy=284 r=6.5 /><circle cx=1008 cy=417 r=6.5 /><circle cx=1178 cy=187 r=6.5 /><circle cx=1074 cy=349 r=6.5 /><circle cx=1171 cy=236 r=6.5 /><circle cx=1062 cy=216 r=6.5 /><circle cx=1036 cy=232 r=6.5 /><circle cx=1132 cy=243 r=6.5 /><circle cx=1166 cy=462 r=6.5 /><circle cx=1053 cy=139 r=6.5 /><circle cx=1014 cy=211 r=6.5 /><circle cx=975 cy=152 r=6.5 /><circle cx=1257 cy=261 r=6.5 /><circle cx=1005 cy=448 r=6.5 /><circle cx=1207 cy=181 r=6.5 /><circle cx=1131 cy=170 r=6.5 /><circle cx=1214 cy=243 r=6.5 /><circle cx=1007 cy=304 r=6.5 /><circle cx=1121 cy=502 r=6.5 /><circle cx=1223 cy=349 r=6.5 /><circle cx=1014 cy=482 r=6.5 /><circle cx=1076 cy=179 r=6.5 /><circle cx=1119 cy=204 r=6.5 /><circle cx=1126 cy=153 r=6.5 /><circle cx=1049 cy=435 r=6.5 /><circle cx=1079 cy=274 r=6.5 /><circle cx=1086 cy=180 r=6.5 /><circle cx=1147 cy=269 r=6.5 /><circle cx=1251 cy=310 r=6.5 /><circle cx=1129 cy=252 r=6.5 /><circle cx=1113 cy=288 r=6.5 /><circle cx=1227 cy=435 r=6.5 /><circle cx=1187 cy=193 r=6.5 /><circle cx=1186 cy=284 r=6.5 /><circle cx=947 cy=443 r=6.5 /><circle cx=1113 cy=459 r=6.5 /><circle cx=1074 cy=350 r=6.5 /><circle cx=1077 cy=163 r=6.5 /><circle cx=1069 cy=154 r=6.5 /><circle cx=1102 cy=165 r=6.5 /><circle cx=1056 cy=299 r=6.5 /><circle cx=1027 cy=201 r=6.5 /><circle cx=1091 cy=435 r=6.5 /><circle cx=1057 cy=174 r=6.5 /><circle cx=939 cy=281 r=6.5 /><circle cx=1091 cy=154 r=6.5 /><circle cx=1181 cy=374 r=6.5 /><circle cx=993 cy=134 r=6.5 /><circle cx=1021 cy=269 r=6.5 /><circle cx=1203 cy=139 r=6.5 /><circle cx=1238 cy=349 r=6.5 /><circle cx=1156 cy=231 r=6.5 /><circle cx=1022 cy=149 r=6.5 /><circle cx=1078 cy=299 r=6.5 /><circle cx=1234 cy=457 r=6.5 /><circle cx=1025 cy=204 r=6.5 /><circle cx=1026 cy=329 r=6.5 /><circle cx=1158 cy=356 r=6.5 /><circle cx=1140 cy=342 r=6.5 /><circle cx=1314 cy=290 r=6.5 /><circle cx=1037 cy=454 r=6.5 /><circle cx=1136 cy=366 r=6.5 /><circle cx=1043 cy=206 r=6.5 /><circle cx=1171 cy=506 r=6.5 /><circle cx=1217 cy=257 r=6.5 /><circle cx=1265 cy=227 r=6.5 /><circle cx=1029 cy=199 r=6.5 /><circle cx=926 cy=507 r=6.5 /><circle cx=1246 cy=272 r=6.5 /><circle cx=1265 cy=379 r=6.5 /><circle cx=1229 cy=361 r=6.5 /><circle cx=1146 cy=308 r=6.5 /><circle cx=1166 cy=226 r=6.5 /><circle cx=1129 cy=382 r=6.5 /><circle cx=1007 cy=426 r=6.5 /><circle cx=997 cy=237 r=6.5 /><circle cx=1002 cy=448 r=6.5 /><circle cx=1202 cy=445 r=6.5 /><circle cx=1210 cy=213 r=6.5 /><circle cx=1235 cy=286 r=6.5 /><circle cx=1070 cy=471 r=6.5 /><circle cx=1182 cy=239 r=6.5 /><circle cx=1142 cy=112 r=6.5 /><circle cx=1050 cy=281 r=6.5 /><circle cx=1178 cy=264 r=6.5 /><circle cx=1170 cy=186 r=6.5 /><circle cx=1219 cy=450 r=6.5 /><circle cx=1099 cy=195 r=6.5 /><circle cx=1212 cy=273 r=6.5 /><circle cx=1054 cy=96 r=6.5 /><circle cx=1044 cy=283 r=6.5 /><circle cx=1111 cy=237 r=6.5 /><circle cx=1011 cy=168 r=6.5 /><circle cx=1049 cy=355 r=6.5 /><circle cx=1014 cy=111 r=6.5 /><circle cx=935 cy=505 r=6.5 /><circle cx=1121 cy=316 r=6.5 /><circle cx=1269 cy=323 r=6.5 /><circle cx=1183 cy=333 r=6.5 /><circle cx=1046 cy=236 r=6.5 /><circle cx=1067 cy=459 r=6.5 /><circle cx=1179 cy=145 r=6.5 /><circle cx=1247 cy=309 r=6.5 /><circle cx=1179 cy=342 r=6.5 /><circle cx=1176 cy=312 r=6.5 /><circle cx=1186 cy=242 r=6.5 /><circle cx=1145 cy=110 r=6.5 /><circle cx=984 cy=136 r=6.5 /><circle cx=1101 cy=127 r=6.5 /><circle cx=1137 cy=482 r=6.5 /><circle cx=1138 cy=373 r=6.5 /><circle cx=1205 cy=215 r=6.5 /><circle cx=1144 cy=198 r=6.5 /><circle cx=1150 cy=412 r=6.5 /><circle cx=1012 cy=471 r=6.5 /><circle cx=1168 cy=334 r=6.5 /><circle cx=1215 cy=321 r=6.5 /><circle cx=1193 cy=224 r=6.5 /><circle cx=1189 cy=130 r=6.5 /><circle cx=962 cy=459 r=6.5 /><circle cx=1031 cy=174 r=6.5 /><circle cx=1136 cy=381 r=6.5 /><circle cx=1022 cy=343 r=6.5 /><circle cx=1224 cy=202 r=6.5 /><circle cx=982 cy=159 r=6.5 /><circle cx=1273 cy=299 r=6.5 /><circle cx=1133 cy=314 r=6.5 /><circle cx=1161 cy=373 r=6.5 /><circle cx=1097 cy=375 r=6.5 /><circle cx=1043 cy=347 r=6.5 /><circle cx=1265 cy=238 r=6.5 /><circle cx=1070 cy=367 r=6.5 /><circle cx=1161 cy=139 r=6.5 /><circle cx=1208 cy=222 r=6.5 /><circle cx=1101 cy=466 r=6.5 /><circle cx=1017 cy=311 r=6.5 /><circle cx=1244 cy=329 r=6.5 /><circle cx=1251 cy=282 r=6.5 /><circle cx=1087 cy=160 r=6.5 /><circle cx=1072 cy=111 r=6.5 /><circle cx=1070 cy=216 r=6.5 /><circle cx=1137 cy=100 r=6.5 /><circle cx=1266 cy=220 r=6.5 /><circle cx=988 cy=83 r=6.5 /><circle cx=980 cy=134 r=6.5 /><circle cx=1225 cy=263 r=6.5 /><circle cx=1104 cy=355 r=6.5 /><circle cx=1142 cy=370 r=6.5 /><circle cx=1168 cy=307 r=6.5 /><circle cx=1285 cy=293 r=6.5 /><circle cx=1252 cy=174 r=6.5 /><circle cx=924 cy=500 r=6.5 /><circle cx=1253 cy=245 r=6.5 /><circle cx=1241 cy=319 r=6.5 /><circle cx=1262 cy=328 r=6.5 /><circle cx=1064 cy=94 r=6.5 /><circle cx=991 cy=291 r=6.5 /><circle cx=979 cy=444 r=6.5 /><circle cx=1032 cy=448 r=6.5 /><circle cx=1260 cy=257 r=6.5 /><circle cx=1066 cy=352 r=6.5 /><circle cx=1113 cy=489 r=6.5 /><circle cx=1039 cy=136 r=6.5 /><circle cx=1067 cy=213 r=6.5 /><circle cx=1036 cy=341 r=6.5 /><circle cx=1197 cy=150 r=6.5 /><circle cx=991 cy=107 r=6.5 /><circle cx=1098 cy=184 r=6.5 /><circle cx=994 cy=352 r=6.5 /><circle cx=956 cy=387 r=6.5 /><circle cx=1253 cy=190 r=6.5 /><circle cx=1094 cy=213 r=6.5 /><circle cx=1015 cy=233 r=6.5 /><circle cx=974 cy=421 r=6.5 /><circle cx=1086 cy=372 r=6.5 /><circle cx=1185 cy=386 r=6.5 /><circle cx=1062 cy=280 r=6.5 /><circle cx=1002 cy=307 r=6.5 /><circle cx=1233 cy=185 r=6.5 /><circle cx=995 cy=223 r=6.5 /><circle cx=1260 cy=212 r=6.5 /><circle cx=1160 cy=226 r=6.5 /><circle cx=1265 cy=227 r=6.5 /><circle cx=1258 cy=390 r=6.5 /><circle cx=1209 cy=158 r=6.5 /><circle cx=1088 cy=439 r=6.5 /><circle cx=1063 cy=139 r=6.5 /><circle cx=1088 cy=269 r=6.5 /><circle cx=1137 cy=360 r=6.5 /><circle cx=1073 cy=251 r=6.5 /><circle cx=991 cy=325 r=6.5 /><circle cx=1098 cy=95 r=6.5 /><circle cx=992 cy=275 r=6.5 /><circle cx=981 cy=306 r=6.5 /><circle cx=1191 cy=310 r=6.5 /><circle cx=986 cy=297 r=6.5 /><circle cx=1033 cy=232 r=6.5 /><circle cx=1029 cy=352 r=6.5 /><circle cx=1222 cy=271 r=6.5 /><circle cx=1010 cy=286 r=6.5 /><circle cx=1246 cy=452 r=6.5 /><circle cx=1028 cy=317 r=6.5 /><circle cx=1241 cy=384 r=6.5 /><circle cx=950 cy=430 r=6.5 /><circle cx=1068 cy=307 r=6.5 /><circle cx=1119 cy=183 r=6.5 /><circle cx=1245 cy=176 r=6.5 /><circle cx=958 cy=326 r=6.5 /><circle cx=1274 cy=263 r=6.5 /><circle cx=1207 cy=197 r=6.5 /><circle cx=1142 cy=124 r=6.5 /><circle cx=1098 cy=283 r=6.5 /><circle cx=1220 cy=167 r=6.5 /><circle cx=1124 cy=136 r=6.5 /><circle cx=1070 cy=149 r=6.5 /><circle cx=1136 cy=376 r=6.5 /><circle cx=1166 cy=175 r=6.5 /><circle cx=1136 cy=250 r=6.5 /><circle cx=1003 cy=253 r=6.5 /><circle cx=1216 cy=186 r=6.5 /><circle cx=1005 cy=268 r=6.5 /><circle cx=1071 cy=403 r=6.5 /><circle cx=983 cy=144 r=6.5 /><circle cx=1276 cy=283 r=6.5 /><circle cx=1087 cy=368 r=6.5 /><circle cx=1156 cy=403 r=6.5 /><circle cx=1075 cy=368 r=6.5 /><circle cx=1034 cy=481 r=6.5 /><circle cx=1162 cy=285 r=6.5 /><circle cx=1206 cy=235 r=6.5 /><circle cx=1044 cy=199 r=6.5 /><circle cx=1056 cy=267 r=6.5 /><circle cx=1240 cy=161 r=6.5 /><circle cx=1025 cy=151 r=6.5 /><circle cx=1191 cy=318 r=6.5 /><circle cx=1099 cy=190 r=6.5 /><circle cx=1173 cy=152 r=6.5 /><circle cx=1236 cy=332 r=6.5 /><circle cx=1116 cy=312 r=6.5 /><circle cx=1054 cy=235 r=6.5 /><circle cx=1112 cy=334 r=6.5 /><circle cx=1063 cy=110 r=6.5 /><circle cx=958 cy=93 r=6.5 /><circle cx=1166 cy=383 r=6.5 /><circle cx=1158 cy=455 r=6.5 /><circle cx=1122 cy=322 r=6.5 /><circle cx=1058 cy=390 r=6.5 /><circle cx=994 cy=139 r=6.5 /><circle cx=1177 cy=405 r=6.5 /><circle cx=1066 cy=366 r=6.5 /><circle cx=1240 cy=359 r=6.5 /><circle cx=1124 cy=210 r=6.5 /><circle cx=1124 cy=237 r=6.5 /><circle cx=942 cy=500 r=6.5 /><circle cx=956 cy=163 r=6.5 /><circle cx=1149 cy=263 r=6.5 /><circle cx=1152 cy=334 r=6.5 /><circle cx=1287 cy=226 r=6.5 /><circle cx=996 cy=189 r=6.5 /><circle cx=988 cy=145 r=6.5 /><circle cx=1081 cy=139 r=6.5 /><circle cx=1142 cy=376 r=6.5 /><circle cx=1181 cy=246 r=6.5 /><circle cx=1017 cy=212 r=6.5 /><circle cx=1216 cy=187 r=6.5 /><circle cx=1282 cy=243 r=6.5 /><circle cx=1252 cy=278 r=6.5 /><circle cx=1007 cy=123 r=6.5 /><circle cx=1085 cy=351 r=6.5 /><circle cx=1220 cy=320 r=6.5 /><circle cx=986 cy=483 r=6.5 /><circle cx=972 cy=420 r=6.5 /><circle cx=1131 cy=174 r=6.5 /><circle cx=1029 cy=116 r=6.5 /><circle cx=994 cy=153 r=6.5 /><circle cx=1063 cy=423 r=6.5 /><circle cx=1048 cy=123 r=6.5 /><circle cx=1221 cy=329 r=6.5 /><circle cx=1188 cy=163 r=6.5 /><circle cx=1151 cy=180 r=6.5 /><circle cx=1068 cy=399 r=6.5 /><circle cx=1120 cy=333 r=6.5 /><circle cx=1182 cy=273 r=6.5 /><circle cx=1217 cy=259 r=6.5 /><circle cx=1055 cy=172 r=6.5 /><circle cx=1239 cy=188 r=6.5 /><circle cx=992 cy=437 r=6.5 /><circle cx=1148 cy=311 r=6.5 /><circle cx=977 cy=513 r=6.5 /><circle cx=1092 cy=359 r=6.5 /><circle cx=1154 cy=382 r=6.5 /><circle cx=1256 cy=242 r=6.5 /><circle cx=1104 cy=217 r=6.5 /><circle cx=1153 cy=347 r=6.5 /><circle cx=1025 cy=176 r=6.5 /><circle cx=1036 cy=287 r=6.5 /><circle cx=1065 cy=278 r=6.5 /><circle cx=1157 cy=453 r=6.5 /><circle cx=1158 cy=300 r=6.5 /><circle cx=1026 cy=312 r=6.5 /><circle cx=1144 cy=104 r=6.5 /><circle cx=1175 cy=335 r=6.5 /><circle cx=1042 cy=89 r=6.5 /><circle cx=972 cy=402 r=6.5 /><circle cx=1094 cy=134 r=6.5 /><circle cx=1092 cy=408 r=6.5 /><circle cx=1099 cy=93 r=6.5 /><circle cx=1002 cy=321 r=6.5 /><circle cx=1011 cy=141 r=6.5 /><circle cx=1089 cy=210 r=6.5 /><circle cx=1011 cy=438 r=6.5 /><circle cx=1244 cy=344 r=6.5 /><circle cx=1153 cy=483 r=6.5 /><circle cx=960 cy=496 r=6.5 /><circle cx=1071 cy=125 r=6.5 /><circle cx=1131 cy=113 r=6.5 /><circle cx=1048 cy=327 r=6.5 /><circle cx=1201 cy=296 r=6.5 /><circle cx=1197 cy=454 r=6.5 /><circle cx=1218 cy=272 r=6.5 /><circle cx=1061 cy=486 r=6.5 /><circle cx=996 cy=346 r=6.5 /><circle cx=1178 cy=363 r=6.5 /><circle cx=982 cy=198 r=6.5 /><circle cx=1128 cy=283 r=6.5 /><circle cx=1150 cy=105 r=6.5 /><circle cx=1199 cy=165 r=6.5 /><circle cx=1113 cy=110 r=6.5 /><circle cx=1120 cy=225 r=6.5 /><circle cx=1171 cy=376 r=6.5 /><circle cx=1125 cy=272 r=6.5 /><circle cx=1248 cy=179 r=6.5 /><circle cx=1114 cy=478 r=6.5 /><circle cx=982 cy=80 r=6.5 /><circle cx=1037 cy=444 r=6.5 /><circle cx=1017 cy=464 r=6.5 /><circle cx=991 cy=409 r=6.5 /><circle cx=1206 cy=377 r=6.5 /><circle cx=967 cy=103 r=6.5 /><circle cx=1165 cy=329 r=6.5 /><circle cx=1066 cy=457 r=6.5 /><circle cx=1228 cy=221 r=6.5 /><circle cx=1076 cy=417 r=6.5 /><circle cx=1196 cy=181 r=6.5 /><circle cx=1082 cy=169 r=6.5 /><circle cx=1097 cy=259 r=6.5 /><circle cx=1206 cy=468 r=6.5 /><circle cx=991 cy=447 r=6.5 /><circle cx=988 cy=205 r=6.5 /><circle cx=1209 cy=164 r=6.5 /><circle cx=1202 cy=252 r=6.5 /><circle cx=1194 cy=162 r=6.5 /><circle cx=1005 cy=395 r=6.5 /><circle cx=1027 cy=211 r=6.5 /><circle cx=1021 cy=386 r=6.5 /><circle cx=1125 cy=378 r=6.5 /><circle cx=1110 cy=322 r=6.5 /><circle cx=1289 cy=216 r=6.5 /><circle cx=1120 cy=174 r=6.5 /><circle cx=1192 cy=386 r=6.5 /><circle cx=1138 cy=270 r=6.5 /><circle cx=1219 cy=210 r=6.5 /><circle cx=1186 cy=221 r=6.5 /><circle cx=1148 cy=158 r=6.5 /><circle cx=1209 cy=334 r=6.5 /><circle cx=1203 cy=164 r=6.5 /><circle cx=1042 cy=137 r=6.5 /><circle cx=1156 cy=375 r=6.5 /><circle cx=1153 cy=215 r=6.5 /><circle cx=1243 cy=344 r=6.5 /><circle cx=1060 cy=507 r=6.5 /><circle cx=1017 cy=171 r=6.5 /><circle cx=1176 cy=127 r=6.5 /><circle cx=1018 cy=442 r=6.5 /><circle cx=1016 cy=322 r=6.5 /><circle cx=1129 cy=344 r=6.5 /><circle cx=1243 cy=256 r=6.5 /><circle cx=1178 cy=164 r=6.5 /><circle cx=1324 cy=332 r=6.5 /><circle cx=1128 cy=123 r=6.5 /><circle cx=1041 cy=183 r=6.5 /><circle cx=1164 cy=274 r=6.5 /><circle cx=989 cy=139 r=6.5 /><circle cx=1081 cy=224 r=6.5 /><circle cx=1132 cy=424 r=6.5 /><circle cx=1063 cy=243 r=6.5 /><circle cx=1022 cy=411 r=6.5 /><circle cx=1164 cy=373 r=6.5 /><circle cx=1087 cy=299 r=6.5 /><circle cx=1078 cy=113 r=6.5 /><circle cx=1039 cy=197 r=6.5 /><circle cx=1032 cy=361 r=6.5 /><circle cx=1119 cy=106 r=6.5 /><circle cx=1110 cy=227 r=6.5 /><circle cx=1116 cy=244 r=6.5 /><circle cx=1098 cy=366 r=6.5 /><circle cx=1179 cy=212 r=6.5 /><circle cx=965 cy=435 r=6.5 /><circle cx=1166 cy=255 r=6.5 /><circle cx=1013 cy=261 r=6.5 /><circle cx=1181 cy=140 r=6.5 /><circle cx=1031 cy=303 r=6.5 /><circle cx=1186 cy=363 r=6.5 /><circle cx=994 cy=155 r=6.5 /><circle cx=982 cy=298 r=6.5 /><circle cx=1011 cy=178 r=6.5 /><circle cx=1124 cy=220 r=6.5 /><circle cx=982 cy=256 r=6.5 /><circle cx=1007 cy=149 r=6.5 /><circle cx=1203 cy=228 r=6.5 /><circle cx=1233 cy=165 r=6.5 /><circle cx=1058 cy=490 r=6.5 /><circle cx=1255 cy=302 r=6.5 /><circle cx=1070 cy=377 r=6.5 /><circle cx=1191 cy=225 r=6.5 /><circle cx=1209 cy=452 r=6.5 /><circle cx=1137 cy=442 r=6.5 /><circle cx=946 cy=489 r=6.5 /><circle cx=1096 cy=381 r=6.5 /><circle cx=1027 cy=487 r=6.5 /><circle cx=1236 cy=335 r=6.5 /><circle cx=1047 cy=251 r=6.5 /><circle cx=962 cy=77 r=6.5 /></g></g></g><clipPath id="cpC"><rect x="60" y="333" width="267" height="259"/></clipPath><g clip-path="url(#cpC)"><g class="g" filter="url(#bl)"><g transform="scale(.5)"><circle cx=460 cy=1044 r=6.5 /><circle cx=472 cy=982 r=6.5 /><circle cx=528 cy=909 r=6.5 /><circle cx=491 cy=957 r=6.5 /><circle cx=459 cy=808 r=6.5 /><circle cx=496 cy=1059 r=6.5 /><circle cx=489 cy=813 r=6.5 /><circle cx=565 cy=1021 r=6.5 /><circle cx=573 cy=1045 r=6.5 /><circle cx=522 cy=947 r=6.5 /><circle cx=520 cy=895 r=6.5 /><circle cx=547 cy=922 r=6.5 /><circle cx=398 cy=952 r=6.5 /><circle cx=439 cy=1036 r=6.5 /><circle cx=347 cy=870 r=6.5 /><circle cx=424 cy=973 r=6.5 /><circle cx=490 cy=910 r=6.5 /><circle cx=364 cy=976 r=6.5 /><circle cx=419 cy=942 r=6.5 /><circle cx=479 cy=956 r=6.5 /><circle cx=324 cy=768 r=6.5 /><circle cx=327 cy=891 r=6.5 /><circle cx=430 cy=837 r=6.5 /><circle cx=368 cy=794 r=6.5 /><circle cx=315 cy=953 r=6.5 /><circle cx=459 cy=858 r=6.5 /><circle cx=282 cy=824 r=6.5 /><circle cx=383 cy=748 r=6.5 /><circle cx=464 cy=819 r=6.5 /><circle cx=442 cy=1046 r=6.5 /><circle cx=569 cy=963 r=6.5 /><circle cx=371 cy=945 r=6.5 /><circle cx=405 cy=1023 r=6.5 /><circle cx=382 cy=923 r=6.5 /><circle cx=551 cy=960 r=6.5 /><circle cx=432 cy=814 r=6.5 /><circle cx=490 cy=917 r=6.5 /><circle cx=454 cy=1084 r=6.5 /><circle cx=458 cy=948 r=6.5 /><circle cx=440 cy=782 r=6.5 /><circle cx=209 cy=925 r=6.5 /><circle cx=555 cy=1014 r=6.5 /><circle cx=262 cy=787 r=6.5 /><circle cx=549 cy=980 r=6.5 /><circle cx=271 cy=850 r=6.5 /><circle cx=506 cy=854 r=6.5 /><circle cx=263 cy=938 r=6.5 /><circle cx=467 cy=1010 r=6.5 /><circle cx=363 cy=786 r=6.5 /><circle cx=218 cy=750 r=6.5 /><circle cx=424 cy=1036 r=6.5 /><circle cx=561 cy=1050 r=6.5 /><circle cx=258 cy=937 r=6.5 /><circle cx=492 cy=925 r=6.5 /><circle cx=486 cy=1023 r=6.5 /><circle cx=408 cy=852 r=6.5 /><circle cx=371 cy=1037 r=6.5 /><circle cx=531 cy=906 r=6.5 /><circle cx=351 cy=760 r=6.5 /><circle cx=423 cy=937 r=6.5 /><circle cx=559 cy=1061 r=6.5 /><circle cx=523 cy=912 r=6.5 /><circle cx=540 cy=992 r=6.5 /><circle cx=160 cy=815 r=6.5 /><circle cx=287 cy=836 r=6.5 /><circle cx=295 cy=709 r=6.5 /><circle cx=429 cy=1036 r=6.5 /><circle cx=305 cy=800 r=6.5 /><circle cx=550 cy=1021 r=6.5 /><circle cx=529 cy=951 r=6.5 /><circle cx=263 cy=725 r=6.5 /><circle cx=346 cy=845 r=6.5 /><circle cx=446 cy=1001 r=6.5 /><circle cx=511 cy=858 r=6.5 /><circle cx=283 cy=958 r=6.5 /><circle cx=402 cy=954 r=6.5 /><circle cx=473 cy=1059 r=6.5 /><circle cx=512 cy=949 r=6.5 /><circle cx=555 cy=982 r=6.5 /><circle cx=437 cy=880 r=6.5 /><circle cx=532 cy=901 r=6.5 /><circle cx=391 cy=1004 r=6.5 /><circle cx=387 cy=793 r=6.5 /><circle cx=451 cy=1018 r=6.5 /><circle cx=265 cy=982 r=6.5 /><circle cx=440 cy=783 r=6.5 /><circle cx=525 cy=980 r=6.5 /><circle cx=436 cy=857 r=6.5 /><circle cx=545 cy=924 r=6.5 /><circle cx=292 cy=907 r=6.5 /><circle cx=364 cy=999 r=6.5 /><circle cx=506 cy=1018 r=6.5 /><circle cx=321 cy=856 r=6.5 /><circle cx=457 cy=811 r=6.5 /><circle cx=356 cy=904 r=6.5 /><circle cx=423 cy=932 r=6.5 /><circle cx=426 cy=786 r=6.5 /><circle cx=503 cy=1036 r=6.5 /><circle cx=273 cy=788 r=6.5 /><circle cx=485 cy=980 r=6.5 /><circle cx=469 cy=1048 r=6.5 /><circle cx=369 cy=831 r=6.5 /><circle cx=404 cy=783 r=6.5 /><circle cx=419 cy=947 r=6.5 /><circle cx=492 cy=1012 r=6.5 /><circle cx=504 cy=891 r=6.5 /><circle cx=524 cy=1008 r=6.5 /><circle cx=345 cy=894 r=6.5 /><circle cx=365 cy=715 r=6.5 /><circle cx=565 cy=972 r=6.5 /><circle cx=483 cy=891 r=6.5 /><circle cx=476 cy=804 r=6.5 /><circle cx=387 cy=941 r=6.5 /><circle cx=416 cy=951 r=6.5 /><circle cx=351 cy=741 r=6.5 /><circle cx=191 cy=935 r=6.5 /><circle cx=289 cy=865 r=6.5 /><circle cx=471 cy=933 r=6.5 /><circle cx=484 cy=887 r=6.5 /><circle cx=479 cy=954 r=6.5 /><circle cx=293 cy=738 r=6.5 /><circle cx=454 cy=927 r=6.5 /><circle cx=449 cy=1012 r=6.5 /><circle cx=442 cy=861 r=6.5 /><circle cx=514 cy=893 r=6.5 /><circle cx=554 cy=1007 r=6.5 /><circle cx=475 cy=1079 r=6.5 /><circle cx=455 cy=852 r=6.5 /><circle cx=311 cy=925 r=6.5 /><circle cx=353 cy=861 r=6.5 /><circle cx=552 cy=977 r=6.5 /><circle cx=366 cy=760 r=6.5 /><circle cx=511 cy=1039 r=6.5 /><circle cx=409 cy=809 r=6.5 /><circle cx=184 cy=893 r=6.5 /><circle cx=505 cy=1028 r=6.5 /><circle cx=369 cy=742 r=6.5 /><circle cx=468 cy=1054 r=6.5 /><circle cx=318 cy=749 r=6.5 /><circle cx=507 cy=1074 r=6.5 /><circle cx=400 cy=804 r=6.5 /><circle cx=391 cy=875 r=6.5 /><circle cx=305 cy=943 r=6.5 /><circle cx=528 cy=1012 r=6.5 /><circle cx=261 cy=969 r=6.5 /><circle cx=358 cy=921 r=6.5 /><circle cx=293 cy=858 r=6.5 /><circle cx=234 cy=836 r=6.5 /><circle cx=485 cy=823 r=6.5 /><circle cx=469 cy=1083 r=6.5 /><circle cx=442 cy=1040 r=6.5 /><circle cx=430 cy=842 r=6.5 /><circle cx=306 cy=782 r=6.5 /><circle cx=234 cy=744 r=6.5 /><circle cx=357 cy=845 r=6.5 /><circle cx=464 cy=1000 r=6.5 /><circle cx=465 cy=981 r=6.5 /><circle cx=236 cy=766 r=6.5 /><circle cx=330 cy=983 r=6.5 /><circle cx=362 cy=1018 r=6.5 /><circle cx=371 cy=862 r=6.5 /><circle cx=329 cy=787 r=6.5 /><circle cx=389 cy=924 r=6.5 /><circle cx=424 cy=789 r=6.5 /><circle cx=458 cy=981 r=6.5 /><circle cx=376 cy=835 r=6.5 /><circle cx=335 cy=876 r=6.5 /><circle cx=579 cy=991 r=6.5 /><circle cx=577 cy=1038 r=6.5 /><circle cx=380 cy=740 r=6.5 /><circle cx=407 cy=780 r=6.5 /><circle cx=434 cy=823 r=6.5 /><circle cx=364 cy=979 r=6.5 /><circle cx=392 cy=808 r=6.5 /><circle cx=330 cy=920 r=6.5 /><circle cx=522 cy=1068 r=6.5 /><circle cx=187 cy=803 r=6.5 /><circle cx=433 cy=768 r=6.5 /><circle cx=365 cy=917 r=6.5 /><circle cx=230 cy=830 r=6.5 /><circle cx=471 cy=884 r=6.5 /><circle cx=270 cy=826 r=6.5 /><circle cx=416 cy=772 r=6.5 /><circle cx=493 cy=878 r=6.5 /><circle cx=358 cy=791 r=6.5 /><circle cx=236 cy=774 r=6.5 /><circle cx=435 cy=962 r=6.5 /><circle cx=554 cy=941 r=6.5 /><circle cx=330 cy=699 r=6.5 /><circle cx=422 cy=897 r=6.5 /><circle cx=406 cy=952 r=6.5 /><circle cx=496 cy=989 r=6.5 /><circle cx=297 cy=741 r=6.5 /><circle cx=440 cy=830 r=6.5 /><circle cx=414 cy=867 r=6.5 /><circle cx=330 cy=742 r=6.5 /><circle cx=425 cy=829 r=6.5 /><circle cx=401 cy=1017 r=6.5 /><circle cx=449 cy=865 r=6.5 /><circle cx=511 cy=897 r=6.5 /><circle cx=426 cy=759 r=6.5 /><circle cx=460 cy=1036 r=6.5 /><circle cx=490 cy=867 r=6.5 /><circle cx=397 cy=935 r=6.5 /><circle cx=548 cy=1049 r=6.5 /><circle cx=420 cy=779 r=6.5 /><circle cx=465 cy=1062 r=6.5 /><circle cx=411 cy=963 r=6.5 /><circle cx=439 cy=804 r=6.5 /><circle cx=419 cy=889 r=6.5 /><circle cx=206 cy=931 r=6.5 /><circle cx=350 cy=918 r=6.5 /><circle cx=402 cy=745 r=6.5 /><circle cx=374 cy=747 r=6.5 /><circle cx=412 cy=981 r=6.5 /><circle cx=467 cy=876 r=6.5 /><circle cx=479 cy=839 r=6.5 /><circle cx=521 cy=961 r=6.5 /><circle cx=571 cy=1038 r=6.5 /><circle cx=584 cy=1028 r=6.5 /><circle cx=238 cy=924 r=6.5 /><circle cx=435 cy=789 r=6.5 /><circle cx=470 cy=839 r=6.5 /><circle cx=301 cy=880 r=6.5 /><circle cx=272 cy=793 r=6.5 /><circle cx=192 cy=897 r=6.5 /><circle cx=482 cy=830 r=6.5 /><circle cx=439 cy=860 r=6.5 /><circle cx=426 cy=856 r=6.5 /><circle cx=423 cy=840 r=6.5 /><circle cx=334 cy=920 r=6.5 /><circle cx=555 cy=927 r=6.5 /><circle cx=461 cy=870 r=6.5 /><circle cx=545 cy=966 r=6.5 /><circle cx=502 cy=960 r=6.5 /><circle cx=433 cy=826 r=6.5 /><circle cx=382 cy=907 r=6.5 /><circle cx=244 cy=863 r=6.5 /><circle cx=369 cy=991 r=6.5 /><circle cx=404 cy=889 r=6.5 /><circle cx=178 cy=772 r=6.5 /><circle cx=518 cy=952 r=6.5 /><circle cx=372 cy=861 r=6.5 /><circle cx=533 cy=1053 r=6.5 /><circle cx=230 cy=897 r=6.5 /><circle cx=301 cy=785 r=6.5 /><circle cx=531 cy=1046 r=6.5 /><circle cx=243 cy=741 r=6.5 /><circle cx=435 cy=1017 r=6.5 /><circle cx=506 cy=1069 r=6.5 /><circle cx=560 cy=1053 r=6.5 /><circle cx=325 cy=901 r=6.5 /><circle cx=520 cy=1006 r=6.5 /><circle cx=251 cy=803 r=6.5 /><circle cx=506 cy=994 r=6.5 /><circle cx=329 cy=894 r=6.5 /><circle cx=347 cy=842 r=6.5 /><circle cx=517 cy=873 r=6.5 /><circle cx=479 cy=913 r=6.5 /><circle cx=461 cy=1068 r=6.5 /><circle cx=207 cy=847 r=6.5 /><circle cx=472 cy=1022 r=6.5 /><circle cx=279 cy=881 r=6.5 /><circle cx=524 cy=936 r=6.5 /><circle cx=477 cy=978 r=6.5 /><circle cx=413 cy=927 r=6.5 /><circle cx=419 cy=985 r=6.5 /><circle cx=390 cy=807 r=6.5 /><circle cx=247 cy=781 r=6.5 /><circle cx=468 cy=911 r=6.5 /><circle cx=497 cy=987 r=6.5 /><circle cx=229 cy=930 r=6.5 /><circle cx=410 cy=882 r=6.5 /><circle cx=450 cy=848 r=6.5 /><circle cx=507 cy=1013 r=6.5 /><circle cx=410 cy=1019 r=6.5 /><circle cx=445 cy=859 r=6.5 /><circle cx=577 cy=1010 r=6.5 /><circle cx=460 cy=1068 r=6.5 /><circle cx=493 cy=933 r=6.5 /><circle cx=190 cy=825 r=6.5 /><circle cx=340 cy=808 r=6.5 /><circle cx=473 cy=886 r=6.5 /><circle cx=406 cy=889 r=6.5 /><circle cx=355 cy=960 r=6.5 /><circle cx=522 cy=986 r=6.5 /><circle cx=538 cy=1079 r=6.5 /><circle cx=343 cy=914 r=6.5 /><circle cx=440 cy=967 r=6.5 /><circle cx=340 cy=873 r=6.5 /><circle cx=572 cy=1040 r=6.5 /><circle cx=513 cy=924 r=6.5 /><circle cx=471 cy=823 r=6.5 /><circle cx=335 cy=787 r=6.5 /><circle cx=465 cy=1003 r=6.5 /><circle cx=491 cy=945 r=6.5 /><circle cx=534 cy=1001 r=6.5 /><circle cx=368 cy=894 r=6.5 /><circle cx=569 cy=1010 r=6.5 /><circle cx=493 cy=996 r=6.5 /><circle cx=487 cy=964 r=6.5 /><circle cx=509 cy=869 r=6.5 /><circle cx=392 cy=760 r=6.5 /><circle cx=497 cy=869 r=6.5 /><circle cx=395 cy=904 r=6.5 /><circle cx=284 cy=690 r=6.5 /><circle cx=255 cy=906 r=6.5 /><circle cx=233 cy=921 r=6.5 /><circle cx=488 cy=1041 r=6.5 /><circle cx=282 cy=789 r=6.5 /><circle cx=481 cy=1060 r=6.5 /><circle cx=329 cy=722 r=6.5 /><circle cx=229 cy=901 r=6.5 /><circle cx=246 cy=796 r=6.5 /><circle cx=550 cy=1010 r=6.5 /><circle cx=442 cy=811 r=6.5 /><circle cx=469 cy=899 r=6.5 /><circle cx=361 cy=927 r=6.5 /><circle cx=300 cy=834 r=6.5 /><circle cx=496 cy=878 r=6.5 /><circle cx=333 cy=887 r=6.5 /><circle cx=482 cy=964 r=6.5 /><circle cx=433 cy=931 r=6.5 /><circle cx=342 cy=880 r=6.5 /><circle cx=318 cy=909 r=6.5 /><circle cx=338 cy=756 r=6.5 /><circle cx=369 cy=990 r=6.5 /><circle cx=371 cy=909 r=6.5 /><circle cx=448 cy=1050 r=6.5 /><circle cx=258 cy=875 r=6.5 /><circle cx=418 cy=1011 r=6.5 /><circle cx=319 cy=917 r=6.5 /><circle cx=240 cy=864 r=6.5 /><circle cx=216 cy=794 r=6.5 /><circle cx=469 cy=849 r=6.5 /><circle cx=419 cy=991 r=6.5 /><circle cx=345 cy=748 r=6.5 /><circle cx=294 cy=916 r=6.5 /><circle cx=267 cy=851 r=6.5 /><circle cx=463 cy=971 r=6.5 /><circle cx=451 cy=1018 r=6.5 /><circle cx=544 cy=1022 r=6.5 /><circle cx=496 cy=1054 r=6.5 /><circle cx=318 cy=741 r=6.5 /><circle cx=297 cy=821 r=6.5 /><circle cx=447 cy=977 r=6.5 /><circle cx=248 cy=764 r=6.5 /><circle cx=277 cy=886 r=6.5 /><circle cx=432 cy=960 r=6.5 /><circle cx=454 cy=844 r=6.5 /><circle cx=452 cy=800 r=6.5 /><circle cx=358 cy=968 r=6.5 /><circle cx=447 cy=929 r=6.5 /><circle cx=416 cy=802 r=6.5 /><circle cx=220 cy=959 r=6.5 /><circle cx=297 cy=794 r=6.5 /><circle cx=289 cy=763 r=6.5 /><circle cx=302 cy=744 r=6.5 /><circle cx=390 cy=809 r=6.5 /><circle cx=427 cy=830 r=6.5 /><circle cx=342 cy=716 r=6.5 /><circle cx=506 cy=1062 r=6.5 /><circle cx=260 cy=945 r=6.5 /><circle cx=421 cy=943 r=6.5 /><circle cx=490 cy=880 r=6.5 /><circle cx=484 cy=865 r=6.5 /><circle cx=452 cy=872 r=6.5 /><circle cx=368 cy=995 r=6.5 /><circle cx=288 cy=760 r=6.5 /><circle cx=422 cy=1047 r=6.5 /><circle cx=480 cy=1088 r=6.5 /><circle cx=441 cy=837 r=6.5 /><circle cx=290 cy=762 r=6.5 /><circle cx=264 cy=898 r=6.5 /><circle cx=424 cy=1077 r=6.5 /><circle cx=402 cy=982 r=6.5 /><circle cx=440 cy=886 r=6.5 /><circle cx=448 cy=1022 r=6.5 /><circle cx=528 cy=941 r=6.5 /><circle cx=252 cy=754 r=6.5 /><circle cx=535 cy=976 r=6.5 /><circle cx=400 cy=795 r=6.5 /><circle cx=579 cy=1031 r=6.5 /><circle cx=451 cy=949 r=6.5 /><circle cx=339 cy=1025 r=6.5 /><circle cx=438 cy=890 r=6.5 /><circle cx=372 cy=931 r=6.5 /><circle cx=426 cy=1006 r=6.5 /><circle cx=485 cy=1077 r=6.5 /><circle cx=288 cy=909 r=6.5 /><circle cx=571 cy=1010 r=6.5 /><circle cx=500 cy=939 r=6.5 /><circle cx=169 cy=867 r=6.5 /><circle cx=249 cy=758 r=6.5 /><circle cx=456 cy=1032 r=6.5 /><circle cx=531 cy=908 r=6.5 /><circle cx=278 cy=886 r=6.5 /><circle cx=448 cy=930 r=6.5 /><circle cx=558 cy=949 r=6.5 /><circle cx=463 cy=912 r=6.5 /><circle cx=197 cy=903 r=6.5 /><circle cx=486 cy=934 r=6.5 /><circle cx=474 cy=854 r=6.5 /><circle cx=331 cy=1002 r=6.5 /><circle cx=301 cy=837 r=6.5 /><circle cx=492 cy=969 r=6.5 /><circle cx=412 cy=908 r=6.5 /><circle cx=416 cy=814 r=6.5 /><circle cx=190 cy=784 r=6.5 /><circle cx=406 cy=877 r=6.5 /><circle cx=544 cy=976 r=6.5 /><circle cx=364 cy=881 r=6.5 /><circle cx=402 cy=1010 r=6.5 /><circle cx=351 cy=813 r=6.5 /><circle cx=419 cy=829 r=6.5 /><circle cx=350 cy=723 r=6.5 /><circle cx=483 cy=891 r=6.5 /><circle cx=239 cy=856 r=6.5 /><circle cx=483 cy=958 r=6.5 /><circle cx=514 cy=1061 r=6.5 /><circle cx=313 cy=766 r=6.5 /><circle cx=458 cy=995 r=6.5 /><circle cx=501 cy=906 r=6.5 /><circle cx=556 cy=1055 r=6.5 /><circle cx=349 cy=977 r=6.5 /><circle cx=187 cy=875 r=6.5 /><circle cx=550 cy=980 r=6.5 /><circle cx=451 cy=824 r=6.5 /><circle cx=411 cy=1056 r=6.5 /><circle cx=522 cy=1040 r=6.5 /><circle cx=423 cy=777 r=6.5 /><circle cx=447 cy=978 r=6.5 /><circle cx=471 cy=926 r=6.5 /><circle cx=358 cy=903 r=6.5 /><circle cx=476 cy=1017 r=6.5 /><circle cx=498 cy=1016 r=6.5 /><circle cx=379 cy=764 r=6.5 /><circle cx=463 cy=937 r=6.5 /><circle cx=461 cy=988 r=6.5 /><circle cx=566 cy=967 r=6.5 /><circle cx=434 cy=782 r=6.5 /><circle cx=334 cy=931 r=6.5 /><circle cx=445 cy=805 r=6.5 /><circle cx=531 cy=969 r=6.5 /><circle cx=570 cy=1039 r=6.5 /><circle cx=391 cy=892 r=6.5 /><circle cx=310 cy=965 r=6.5 /><circle cx=554 cy=1026 r=6.5 /><circle cx=493 cy=1113 r=6.5 /><circle cx=467 cy=1074 r=6.5 /><circle cx=531 cy=932 r=6.5 /><circle cx=451 cy=904 r=6.5 /><circle cx=286 cy=784 r=6.5 /><circle cx=422 cy=834 r=6.5 /><circle cx=588 cy=1023 r=6.5 /><circle cx=284 cy=843 r=6.5 /><circle cx=330 cy=890 r=6.5 /><circle cx=494 cy=1070 r=6.5 /><circle cx=244 cy=763 r=6.5 /><circle cx=455 cy=893 r=6.5 /><circle cx=258 cy=850 r=6.5 /><circle cx=480 cy=1076 r=6.5 /><circle cx=506 cy=900 r=6.5 /><circle cx=483 cy=1025 r=6.5 /><circle cx=337 cy=854 r=6.5 /><circle cx=584 cy=996 r=6.5 /><circle cx=451 cy=946 r=6.5 /><circle cx=417 cy=990 r=6.5 /><circle cx=332 cy=926 r=6.5 /><circle cx=512 cy=948 r=6.5 /><circle cx=397 cy=875 r=6.5 /><circle cx=531 cy=983 r=6.5 /><circle cx=394 cy=814 r=6.5 /><circle cx=429 cy=894 r=6.5 /><circle cx=358 cy=935 r=6.5 /><circle cx=374 cy=894 r=6.5 /><circle cx=411 cy=1017 r=6.5 /><circle cx=359 cy=944 r=6.5 /><circle cx=353 cy=922 r=6.5 /><circle cx=501 cy=860 r=6.5 /><circle cx=527 cy=902 r=6.5 /><circle cx=379 cy=752 r=6.5 /><circle cx=532 cy=1043 r=6.5 /><circle cx=310 cy=859 r=6.5 /><circle cx=442 cy=817 r=6.5 /><circle cx=475 cy=1034 r=6.5 /><circle cx=471 cy=908 r=6.5 /><circle cx=507 cy=889 r=6.5 /><circle cx=533 cy=968 r=6.5 /><circle cx=453 cy=929 r=6.5 /><circle cx=296 cy=932 r=6.5 /><circle cx=473 cy=972 r=6.5 /><circle cx=369 cy=872 r=6.5 /><circle cx=512 cy=1040 r=6.5 /><circle cx=406 cy=1018 r=6.5 /><circle cx=490 cy=869 r=6.5 /><circle cx=254 cy=966 r=6.5 /><circle cx=417 cy=913 r=6.5 /><circle cx=404 cy=780 r=6.5 /><circle cx=245 cy=823 r=6.5 /><circle cx=411 cy=974 r=6.5 /><circle cx=436 cy=771 r=6.5 /><circle cx=229 cy=849 r=6.5 /><circle cx=493 cy=899 r=6.5 /><circle cx=466 cy=929 r=6.5 /><circle cx=394 cy=963 r=6.5 /><circle cx=326 cy=719 r=6.5 /><circle cx=437 cy=1057 r=6.5 /><circle cx=431 cy=882 r=6.5 /><circle cx=388 cy=1004 r=6.5 /><circle cx=524 cy=911 r=6.5 /><circle cx=251 cy=881 r=6.5 /><circle cx=395 cy=991 r=6.5 /><circle cx=448 cy=949 r=6.5 /><circle cx=337 cy=875 r=6.5 /><circle cx=378 cy=814 r=6.5 /><circle cx=462 cy=808 r=6.5 /><circle cx=335 cy=971 r=6.5 /><circle cx=488 cy=846 r=6.5 /><circle cx=499 cy=977 r=6.5 /><circle cx=434 cy=1053 r=6.5 /><circle cx=503 cy=850 r=6.5 /><circle cx=564 cy=1011 r=6.5 /><circle cx=466 cy=949 r=6.5 /><circle cx=403 cy=758 r=6.5 /><circle cx=557 cy=930 r=6.5 /><circle cx=488 cy=917 r=6.5 /><circle cx=343 cy=891 r=6.5 /><circle cx=431 cy=954 r=6.5 /><circle cx=344 cy=970 r=6.5 /><circle cx=504 cy=993 r=6.5 /><circle cx=335 cy=724 r=6.5 /><circle cx=531 cy=1014 r=6.5 /><circle cx=562 cy=1002 r=6.5 /><circle cx=323 cy=871 r=6.5 /><circle cx=535 cy=1009 r=6.5 /><circle cx=188 cy=759 r=6.5 /><circle cx=443 cy=948 r=6.5 /><circle cx=481 cy=986 r=6.5 /><circle cx=515 cy=1026 r=6.5 /><circle cx=418 cy=1010 r=6.5 /><circle cx=404 cy=952 r=6.5 /><circle cx=535 cy=1025 r=6.5 /><circle cx=502 cy=1049 r=6.5 /><circle cx=251 cy=976 r=6.5 /><circle cx=510 cy=1039 r=6.5 /><circle cx=499 cy=988 r=6.5 /><circle cx=441 cy=871 r=6.5 /><circle cx=554 cy=948 r=6.5 /><circle cx=485 cy=892 r=6.5 /><circle cx=495 cy=1010 r=6.5 /><circle cx=499 cy=1047 r=6.5 /><circle cx=282 cy=826 r=6.5 /><circle cx=461 cy=1069 r=6.5 /><circle cx=360 cy=883 r=6.5 /><circle cx=415 cy=765 r=6.5 /><circle cx=471 cy=993 r=6.5 /><circle cx=445 cy=1073 r=6.5 /><circle cx=417 cy=1089 r=6.5 /><circle cx=260 cy=854 r=6.5 /><circle cx=248 cy=929 r=6.5 /><circle cx=396 cy=757 r=6.5 /><circle cx=361 cy=902 r=6.5 /><circle cx=421 cy=774 r=6.5 /><circle cx=530 cy=987 r=6.5 /><circle cx=445 cy=827 r=6.5 /><circle cx=566 cy=1029 r=6.5 /><circle cx=483 cy=827 r=6.5 /><circle cx=290 cy=964 r=6.5 /><circle cx=448 cy=1052 r=6.5 /><circle cx=426 cy=865 r=6.5 /><circle cx=558 cy=1017 r=6.5 /><circle cx=392 cy=738 r=6.5 /><circle cx=414 cy=847 r=6.5 /><circle cx=429 cy=839 r=6.5 /><circle cx=501 cy=931 r=6.5 /><circle cx=456 cy=934 r=6.5 /><circle cx=272 cy=889 r=6.5 /><circle cx=547 cy=1098 r=6.5 /><circle cx=407 cy=765 r=6.5 /><circle cx=457 cy=923 r=6.5 /><circle cx=386 cy=815 r=6.5 /><circle cx=552 cy=998 r=6.5 /><circle cx=377 cy=802 r=6.5 /><circle cx=281 cy=869 r=6.5 /><circle cx=253 cy=944 r=6.5 /><circle cx=441 cy=984 r=6.5 /><circle cx=410 cy=915 r=6.5 /><circle cx=296 cy=930 r=6.5 /><circle cx=424 cy=991 r=6.5 /><circle cx=404 cy=859 r=6.5 /><circle cx=439 cy=986 r=6.5 /><circle cx=250 cy=753 r=6.5 /><circle cx=456 cy=997 r=6.5 /><circle cx=423 cy=925 r=6.5 /><circle cx=485 cy=882 r=6.5 /><circle cx=499 cy=919 r=6.5 /><circle cx=286 cy=905 r=6.5 /><circle cx=323 cy=888 r=6.5 /><circle cx=423 cy=889 r=6.5 /><circle cx=255 cy=904 r=6.5 /><circle cx=277 cy=868 r=6.5 /><circle cx=336 cy=813 r=6.5 /><circle cx=572 cy=1015 r=6.5 /><circle cx=428 cy=856 r=6.5 /><circle cx=462 cy=819 r=6.5 /><circle cx=446 cy=1040 r=6.5 /><circle cx=226 cy=920 r=6.5 /><circle cx=443 cy=890 r=6.5 /><circle cx=436 cy=996 r=6.5 /><circle cx=439 cy=943 r=6.5 /><circle cx=458 cy=948 r=6.5 /><circle cx=531 cy=1027 r=6.5 /><circle cx=481 cy=913 r=6.5 /><circle cx=306 cy=942 r=6.5 /><circle cx=455 cy=821 r=6.5 /><circle cx=369 cy=786 r=6.5 /><circle cx=450 cy=884 r=6.5 /><circle cx=267 cy=807 r=6.5 /><circle cx=525 cy=941 r=6.5 /><circle cx=454 cy=1061 r=6.5 /><circle cx=485 cy=840 r=6.5 /><circle cx=386 cy=793 r=6.5 /><circle cx=493 cy=1017 r=6.5 /><circle cx=292 cy=753 r=6.5 /><circle cx=449 cy=995 r=6.5 /><circle cx=472 cy=1031 r=6.5 /><circle cx=529 cy=1010 r=6.5 /><circle cx=384 cy=884 r=6.5 /><circle cx=387 cy=957 r=6.5 /><circle cx=448 cy=982 r=6.5 /><circle cx=348 cy=736 r=6.5 /><circle cx=250 cy=739 r=6.5 /><circle cx=293 cy=904 r=6.5 /><circle cx=498 cy=849 r=6.5 /><circle cx=408 cy=812 r=6.5 /><circle cx=549 cy=934 r=6.5 /><circle cx=376 cy=859 r=6.5 /><circle cx=496 cy=925 r=6.5 /><circle cx=257 cy=789 r=6.5 /><circle cx=476 cy=829 r=6.5 /><circle cx=380 cy=789 r=6.5 /><circle cx=493 cy=886 r=6.5 /><circle cx=499 cy=1056 r=6.5 /><circle cx=475 cy=1065 r=6.5 /><circle cx=427 cy=765 r=6.5 /><circle cx=512 cy=1004 r=6.5 /><circle cx=210 cy=855 r=6.5 /><circle cx=532 cy=1045 r=6.5 /><circle cx=416 cy=857 r=6.5 /><circle cx=409 cy=769 r=6.5 /><circle cx=356 cy=755 r=6.5 /><circle cx=469 cy=1007 r=6.5 /><circle cx=583 cy=997 r=6.5 /><circle cx=160 cy=831 r=6.5 /><circle cx=479 cy=920 r=6.5 /><circle cx=482 cy=859 r=6.5 /><circle cx=513 cy=942 r=6.5 /><circle cx=519 cy=1061 r=6.5 /><circle cx=448 cy=1003 r=6.5 /><circle cx=483 cy=840 r=6.5 /><circle cx=429 cy=946 r=6.5 /><circle cx=529 cy=994 r=6.5 /><circle cx=366 cy=770 r=6.5 /><circle cx=461 cy=954 r=6.5 /><circle cx=315 cy=736 r=6.5 /><circle cx=425 cy=781 r=6.5 /><circle cx=491 cy=1002 r=6.5 /><circle cx=553 cy=998 r=6.5 /><circle cx=502 cy=973 r=6.5 /><circle cx=420 cy=860 r=6.5 /><circle cx=444 cy=793 r=6.5 /><circle cx=404 cy=980 r=6.5 /><circle cx=286 cy=975 r=6.5 /><circle cx=455 cy=828 r=6.5 /><circle cx=341 cy=774 r=6.5 /><circle cx=502 cy=948 r=6.5 /><circle cx=315 cy=825 r=6.5 /><circle cx=459 cy=1056 r=6.5 /><circle cx=351 cy=939 r=6.5 /><circle cx=433 cy=898 r=6.5 /><circle cx=357 cy=773 r=6.5 /><circle cx=523 cy=1019 r=6.5 /><circle cx=411 cy=961 r=6.5 /><circle cx=506 cy=944 r=6.5 /><circle cx=416 cy=907 r=6.5 /><circle cx=393 cy=959 r=6.5 /><circle cx=536 cy=994 r=6.5 /><circle cx=414 cy=866 r=6.5 /><circle cx=552 cy=930 r=6.5 /><circle cx=380 cy=944 r=6.5 /><circle cx=410 cy=886 r=6.5 /><circle cx=581 cy=1003 r=6.5 /><circle cx=498 cy=995 r=6.5 /><circle cx=456 cy=898 r=6.5 /><circle cx=421 cy=1037 r=6.5 /><circle cx=482 cy=1001 r=6.5 /><circle cx=215 cy=769 r=6.5 /><circle cx=566 cy=1084 r=6.5 /><circle cx=394 cy=901 r=6.5 /><circle cx=469 cy=924 r=6.5 /><circle cx=462 cy=899 r=6.5 /><circle cx=570 cy=978 r=6.5 /><circle cx=453 cy=881 r=6.5 /><circle cx=401 cy=966 r=6.5 /><circle cx=515 cy=852 r=6.5 /><circle cx=249 cy=860 r=6.5 /><circle cx=429 cy=952 r=6.5 /><circle cx=454 cy=1040 r=6.5 /><circle cx=471 cy=1021 r=6.5 /><circle cx=466 cy=874 r=6.5 /><circle cx=470 cy=1042 r=6.5 /><circle cx=390 cy=753 r=6.5 /><circle cx=431 cy=847 r=6.5 /><circle cx=300 cy=980 r=6.5 /><circle cx=348 cy=928 r=6.5 /><circle cx=579 cy=1019 r=6.5 /><circle cx=567 cy=1050 r=6.5 /><circle cx=310 cy=900 r=6.5 /><circle cx=368 cy=924 r=6.5 /><circle cx=493 cy=1054 r=6.5 /><circle cx=485 cy=951 r=6.5 /><circle cx=292 cy=918 r=6.5 /><circle cx=448 cy=949 r=6.5 /><circle cx=577 cy=1054 r=6.5 /><circle cx=305 cy=806 r=6.5 /><circle cx=429 cy=894 r=6.5 /><circle cx=447 cy=827 r=6.5 /><circle cx=306 cy=848 r=6.5 /><circle cx=505 cy=929 r=6.5 /><circle cx=397 cy=978 r=6.5 /><circle cx=505 cy=954 r=6.5 /><circle cx=474 cy=1058 r=6.5 /><circle cx=541 cy=966 r=6.5 /><circle cx=411 cy=902 r=6.5 /><circle cx=479 cy=845 r=6.5 /><circle cx=362 cy=997 r=6.5 /><circle cx=319 cy=800 r=6.5 /><circle cx=212 cy=803 r=6.5 /><circle cx=492 cy=1080 r=6.5 /><circle cx=493 cy=1077 r=6.5 /><circle cx=443 cy=1025 r=6.5 /><circle cx=434 cy=915 r=6.5 /><circle cx=474 cy=971 r=6.5 /><circle cx=321 cy=882 r=6.5 /><circle cx=503 cy=1087 r=6.5 /><circle cx=432 cy=794 r=6.5 /><circle cx=258 cy=801 r=6.5 /><circle cx=501 cy=931 r=6.5 /><circle cx=503 cy=960 r=6.5 /><circle cx=537 cy=1021 r=6.5 /><circle cx=225 cy=858 r=6.5 /><circle cx=320 cy=720 r=6.5 /><circle cx=560 cy=1019 r=6.5 /><circle cx=311 cy=941 r=6.5 /><circle cx=428 cy=899 r=6.5 /><circle cx=527 cy=1036 r=6.5 /><circle cx=239 cy=939 r=6.5 /><circle cx=403 cy=812 r=6.5 /><circle cx=481 cy=904 r=6.5 /><circle cx=512 cy=925 r=6.5 /><circle cx=443 cy=989 r=6.5 /><circle cx=481 cy=827 r=6.5 /><circle cx=474 cy=992 r=6.5 /><circle cx=493 cy=1020 r=6.5 /><circle cx=382 cy=841 r=6.5 /><circle cx=457 cy=863 r=6.5 /><circle cx=403 cy=929 r=6.5 /><circle cx=303 cy=750 r=6.5 /><circle cx=577 cy=1050 r=6.5 /><circle cx=502 cy=942 r=6.5 /><circle cx=423 cy=942 r=6.5 /><circle cx=419 cy=1031 r=6.5 /><circle cx=566 cy=962 r=6.5 /><circle cx=216 cy=817 r=6.5 /><circle cx=428 cy=823 r=6.5 /><circle cx=483 cy=907 r=6.5 /><circle cx=246 cy=831 r=6.5 /><circle cx=337 cy=848 r=6.5 /><circle cx=308 cy=975 r=6.5 /><circle cx=409 cy=940 r=6.5 /><circle cx=452 cy=833 r=6.5 /><circle cx=485 cy=817 r=6.5 /><circle cx=416 cy=799 r=6.5 /><circle cx=246 cy=738 r=6.5 /><circle cx=433 cy=1027 r=6.5 /><circle cx=404 cy=938 r=6.5 /><circle cx=386 cy=864 r=6.5 /><circle cx=303 cy=907 r=6.5 /><circle cx=226 cy=739 r=6.5 /><circle cx=497 cy=1084 r=6.5 /><circle cx=327 cy=734 r=6.5 /><circle cx=429 cy=853 r=6.5 /><circle cx=248 cy=793 r=6.5 /><circle cx=197 cy=865 r=6.5 /><circle cx=399 cy=813 r=6.5 /><circle cx=561 cy=999 r=6.5 /><circle cx=531 cy=945 r=6.5 /><circle cx=285 cy=866 r=6.5 /><circle cx=362 cy=963 r=6.5 /><circle cx=432 cy=793 r=6.5 /><circle cx=412 cy=1005 r=6.5 /><circle cx=248 cy=942 r=6.5 /><circle cx=513 cy=1037 r=6.5 /><circle cx=467 cy=962 r=6.5 /><circle cx=491 cy=1067 r=6.5 /><circle cx=394 cy=973 r=6.5 /><circle cx=546 cy=1026 r=6.5 /><circle cx=550 cy=916 r=6.5 /><circle cx=569 cy=964 r=6.5 /><circle cx=312 cy=805 r=6.5 /><circle cx=331 cy=924 r=6.5 /><circle cx=401 cy=866 r=6.5 /><circle cx=506 cy=857 r=6.5 /><circle cx=458 cy=1051 r=6.5 /><circle cx=441 cy=1046 r=6.5 /><circle cx=403 cy=999 r=6.5 /><circle cx=563 cy=999 r=6.5 /><circle cx=332 cy=879 r=6.5 /><circle cx=405 cy=784 r=6.5 /><circle cx=418 cy=969 r=6.5 /><circle cx=505 cy=927 r=6.5 /><circle cx=433 cy=936 r=6.5 /><circle cx=442 cy=789 r=6.5 /><circle cx=484 cy=904 r=6.5 /><circle cx=429 cy=977 r=6.5 /><circle cx=309 cy=820 r=6.5 /><circle cx=404 cy=801 r=6.5 /><circle cx=384 cy=791 r=6.5 /><circle cx=265 cy=888 r=6.5 /><circle cx=560 cy=943 r=6.5 /><circle cx=526 cy=1062 r=6.5 /><circle cx=577 cy=1011 r=6.5 /><circle cx=261 cy=965 r=6.5 /><circle cx=456 cy=939 r=6.5 /><circle cx=392 cy=962 r=6.5 /><circle cx=329 cy=713 r=6.5 /><circle cx=421 cy=825 r=6.5 /><circle cx=516 cy=978 r=6.5 /><circle cx=542 cy=1080 r=6.5 /><circle cx=580 cy=1003 r=6.5 /><circle cx=474 cy=839 r=6.5 /><circle cx=330 cy=880 r=6.5 /><circle cx=173 cy=779 r=6.5 /><circle cx=396 cy=942 r=6.5 /><circle cx=505 cy=1018 r=6.5 /><circle cx=536 cy=900 r=6.5 /><circle cx=515 cy=955 r=6.5 /><circle cx=357 cy=908 r=6.5 /><circle cx=299 cy=923 r=6.5 /><circle cx=509 cy=954 r=6.5 /><circle cx=412 cy=851 r=6.5 /><circle cx=482 cy=852 r=6.5 /><circle cx=526 cy=907 r=6.5 /><circle cx=366 cy=911 r=6.5 /><circle cx=415 cy=961 r=6.5 /><circle cx=383 cy=988 r=6.5 /><circle cx=469 cy=980 r=6.5 /><circle cx=521 cy=1037 r=6.5 /><circle cx=384 cy=801 r=6.5 /><circle cx=371 cy=888 r=6.5 /><circle cx=352 cy=951 r=6.5 /><circle cx=512 cy=909 r=6.5 /><circle cx=430 cy=920 r=6.5 /><circle cx=443 cy=993 r=6.5 /><circle cx=290 cy=961 r=6.5 /><circle cx=372 cy=1003 r=6.5 /><circle cx=495 cy=854 r=6.5 /><circle cx=232 cy=777 r=6.5 /><circle cx=466 cy=1056 r=6.5 /><circle cx=454 cy=1018 r=6.5 /><circle cx=440 cy=871 r=6.5 /><circle cx=260 cy=912 r=6.5 /><circle cx=356 cy=840 r=6.5 /><circle cx=496 cy=904 r=6.5 /><circle cx=395 cy=899 r=6.5 /><circle cx=350 cy=740 r=6.5 /><circle cx=444 cy=844 r=6.5 /><circle cx=470 cy=1058 r=6.5 /><circle cx=525 cy=876 r=6.5 /><circle cx=476 cy=875 r=6.5 /><circle cx=321 cy=802 r=6.5 /><circle cx=370 cy=962 r=6.5 /><circle cx=495 cy=897 r=6.5 /><circle cx=374 cy=826 r=6.5 /><circle cx=324 cy=777 r=6.5 /><circle cx=512 cy=1004 r=6.5 /><circle cx=497 cy=978 r=6.5 /><circle cx=293 cy=859 r=6.5 /><circle cx=441 cy=1025 r=6.5 /><circle cx=449 cy=979 r=6.5 /><circle cx=318 cy=863 r=6.5 /><circle cx=450 cy=911 r=6.5 /><circle cx=531 cy=1003 r=6.5 /><circle cx=444 cy=1045 r=6.5 /><circle cx=404 cy=880 r=6.5 /><circle cx=412 cy=770 r=6.5 /><circle cx=404 cy=891 r=6.5 /><circle cx=476 cy=938 r=6.5 /><circle cx=293 cy=753 r=6.5 /><circle cx=530 cy=966 r=6.5 /><circle cx=297 cy=814 r=6.5 /><circle cx=369 cy=853 r=6.5 /><circle cx=450 cy=845 r=6.5 /><circle cx=472 cy=869 r=6.5 /><circle cx=202 cy=813 r=6.5 /><circle cx=305 cy=820 r=6.5 /><circle cx=460 cy=1042 r=6.5 /><circle cx=343 cy=965 r=6.5 /><circle cx=407 cy=995 r=6.5 /><circle cx=457 cy=1025 r=6.5 /><circle cx=489 cy=857 r=6.5 /><circle cx=415 cy=796 r=6.5 /><circle cx=215 cy=860 r=6.5 /><circle cx=467 cy=972 r=6.5 /><circle cx=269 cy=863 r=6.5 /><circle cx=463 cy=1061 r=6.5 /><circle cx=311 cy=909 r=6.5 /><circle cx=329 cy=978 r=6.5 /><circle cx=415 cy=959 r=6.5 /><circle cx=385 cy=816 r=6.5 /><circle cx=427 cy=826 r=6.5 /><circle cx=552 cy=1059 r=6.5 /><circle cx=448 cy=981 r=6.5 /><circle cx=562 cy=1040 r=6.5 /><circle cx=239 cy=718 r=6.5 /><circle cx=463 cy=842 r=6.5 /><circle cx=416 cy=966 r=6.5 /><circle cx=309 cy=817 r=6.5 /><circle cx=416 cy=886 r=6.5 /><circle cx=349 cy=916 r=6.5 /><circle cx=462 cy=931 r=6.5 /><circle cx=503 cy=993 r=6.5 /><circle cx=403 cy=768 r=6.5 /><circle cx=425 cy=899 r=6.5 /><circle cx=422 cy=1101 r=6.5 /><circle cx=363 cy=777 r=6.5 /><circle cx=405 cy=760 r=6.5 /><circle cx=452 cy=1027 r=6.5 /><circle cx=229 cy=919 r=6.5 /><circle cx=289 cy=957 r=6.5 /><circle cx=507 cy=994 r=6.5 /><circle cx=419 cy=895 r=6.5 /><circle cx=407 cy=1069 r=6.5 /><circle cx=499 cy=932 r=6.5 /><circle cx=465 cy=987 r=6.5 /><circle cx=510 cy=866 r=6.5 /><circle cx=526 cy=900 r=6.5 /><circle cx=400 cy=900 r=6.5 /><circle cx=480 cy=867 r=6.5 /><circle cx=574 cy=1044 r=6.5 /><circle cx=516 cy=888 r=6.5 /><circle cx=467 cy=1028 r=6.5 /><circle cx=474 cy=959 r=6.5 /><circle cx=298 cy=780 r=6.5 /><circle cx=521 cy=902 r=6.5 /><circle cx=460 cy=999 r=6.5 /><circle cx=529 cy=1042 r=6.5 /><circle cx=464 cy=917 r=6.5 /><circle cx=256 cy=931 r=6.5 /><circle cx=381 cy=821 r=6.5 /><circle cx=409 cy=902 r=6.5 /><circle cx=542 cy=943 r=6.5 /><circle cx=544 cy=1022 r=6.5 /><circle cx=452 cy=844 r=6.5 /><circle cx=502 cy=1028 r=6.5 /><circle cx=474 cy=827 r=6.5 /><circle cx=550 cy=939 r=6.5 /><circle cx=248 cy=871 r=6.5 /><circle cx=539 cy=1008 r=6.5 /><circle cx=370 cy=737 r=6.5 /><circle cx=513 cy=870 r=6.5 /><circle cx=399 cy=854 r=6.5 /><circle cx=418 cy=931 r=6.5 /><circle cx=355 cy=754 r=6.5 /><circle cx=310 cy=837 r=6.5 /><circle cx=494 cy=931 r=6.5 /><circle cx=278 cy=927 r=6.5 /><circle cx=445 cy=878 r=6.5 /><circle cx=510 cy=1080 r=6.5 /><circle cx=538 cy=925 r=6.5 /><circle cx=199 cy=880 r=6.5 /><circle cx=541 cy=1015 r=6.5 /><circle cx=371 cy=896 r=6.5 /><circle cx=494 cy=1023 r=6.5 /><circle cx=498 cy=895 r=6.5 /><circle cx=343 cy=970 r=6.5 /><circle cx=385 cy=749 r=6.5 /><circle cx=468 cy=802 r=6.5 /><circle cx=528 cy=1013 r=6.5 /><circle cx=569 cy=965 r=6.5 /><circle cx=314 cy=821 r=6.5 /><circle cx=320 cy=850 r=6.5 /><circle cx=420 cy=950 r=6.5 /><circle cx=401 cy=1085 r=6.5 /><circle cx=391 cy=953 r=6.5 /><circle cx=555 cy=952 r=6.5 /><circle cx=320 cy=780 r=6.5 /><circle cx=441 cy=793 r=6.5 /><circle cx=426 cy=1085 r=6.5 /><circle cx=452 cy=807 r=6.5 /><circle cx=207 cy=896 r=6.5 /><circle cx=398 cy=835 r=6.5 /><circle cx=296 cy=982 r=6.5 /><circle cx=419 cy=823 r=6.5 /><circle cx=258 cy=864 r=6.5 /><circle cx=365 cy=1014 r=6.5 /><circle cx=470 cy=912 r=6.5 /><circle cx=400 cy=893 r=6.5 /><circle cx=286 cy=758 r=6.5 /><circle cx=390 cy=886 r=6.5 /><circle cx=475 cy=812 r=6.5 /><circle cx=458 cy=992 r=6.5 /><circle cx=538 cy=949 r=6.5 /><circle cx=379 cy=1008 r=6.5 /><circle cx=298 cy=872 r=6.5 /><circle cx=276 cy=819 r=6.5 /><circle cx=444 cy=840 r=6.5 /><circle cx=333 cy=882 r=6.5 /><circle cx=487 cy=887 r=6.5 /><circle cx=422 cy=1056 r=6.5 /><circle cx=479 cy=991 r=6.5 /><circle cx=453 cy=925 r=6.5 /><circle cx=531 cy=1009 r=6.5 /><circle cx=438 cy=816 r=6.5 /><circle cx=424 cy=838 r=6.5 /><circle cx=532 cy=896 r=6.5 /><circle cx=538 cy=890 r=6.5 /><circle cx=403 cy=822 r=6.5 /><circle cx=232 cy=775 r=6.5 /><circle cx=410 cy=892 r=6.5 /><circle cx=242 cy=894 r=6.5 /><circle cx=480 cy=889 r=6.5 /><circle cx=306 cy=828 r=6.5 /><circle cx=272 cy=791 r=6.5 /><circle cx=383 cy=917 r=6.5 /><circle cx=360 cy=917 r=6.5 /><circle cx=427 cy=1100 r=6.5 /><circle cx=463 cy=858 r=6.5 /><circle cx=497 cy=889 r=6.5 /><circle cx=244 cy=779 r=6.5 /><circle cx=505 cy=938 r=6.5 /><circle cx=267 cy=835 r=6.5 /><circle cx=465 cy=1025 r=6.5 /><circle cx=251 cy=876 r=6.5 /><circle cx=558 cy=1003 r=6.5 /><circle cx=523 cy=996 r=6.5 /><circle cx=400 cy=926 r=6.5 /><circle cx=422 cy=781 r=6.5 /><circle cx=409 cy=886 r=6.5 /><circle cx=548 cy=1023 r=6.5 /><circle cx=494 cy=997 r=6.5 /><circle cx=427 cy=1084 r=6.5 /><circle cx=242 cy=889 r=6.5 /><circle cx=496 cy=961 r=6.5 /><circle cx=500 cy=899 r=6.5 /><circle cx=498 cy=933 r=6.5 /><circle cx=508 cy=1002 r=6.5 /><circle cx=350 cy=887 r=6.5 /><circle cx=473 cy=927 r=6.5 /><circle cx=493 cy=999 r=6.5 /><circle cx=289 cy=913 r=6.5 /><circle cx=472 cy=1048 r=6.5 /><circle cx=559 cy=1086 r=6.5 /><circle cx=412 cy=981 r=6.5 /><circle cx=319 cy=913 r=6.5 /><circle cx=354 cy=919 r=6.5 /><circle cx=308 cy=837 r=6.5 /><circle cx=427 cy=887 r=6.5 /><circle cx=551 cy=963 r=6.5 /><circle cx=451 cy=1070 r=6.5 /><circle cx=406 cy=785 r=6.5 /><circle cx=292 cy=863 r=6.5 /><circle cx=451 cy=913 r=6.5 /><circle cx=509 cy=886 r=6.5 /><circle cx=432 cy=856 r=6.5 /><circle cx=430 cy=805 r=6.5 /><circle cx=532 cy=983 r=6.5 /><circle cx=549 cy=1021 r=6.5 /><circle cx=480 cy=1054 r=6.5 /><circle cx=467 cy=988 r=6.5 /><circle cx=415 cy=973 r=6.5 /><circle cx=459 cy=1018 r=6.5 /><circle cx=328 cy=854 r=6.5 /><circle cx=357 cy=905 r=6.5 /><circle cx=267 cy=884 r=6.5 /><circle cx=578 cy=997 r=6.5 /><circle cx=360 cy=750 r=6.5 /><circle cx=461 cy=812 r=6.5 /><circle cx=543 cy=1056 r=6.5 /><circle cx=313 cy=975 r=6.5 /><circle cx=438 cy=828 r=6.5 /><circle cx=272 cy=816 r=6.5 /><circle cx=413 cy=780 r=6.5 /><circle cx=292 cy=921 r=6.5 /><circle cx=337 cy=715 r=6.5 /><circle cx=545 cy=1024 r=6.5 /><circle cx=449 cy=879 r=6.5 /><circle cx=229 cy=721 r=6.5 /><circle cx=304 cy=870 r=6.5 /><circle cx=496 cy=1067 r=6.5 /><circle cx=352 cy=872 r=6.5 /><circle cx=586 cy=1010 r=6.5 /><circle cx=473 cy=837 r=6.5 /><circle cx=357 cy=812 r=6.5 /><circle cx=555 cy=1040 r=6.5 /><circle cx=392 cy=960 r=6.5 /><circle cx=402 cy=762 r=6.5 /><circle cx=299 cy=815 r=6.5 /><circle cx=443 cy=850 r=6.5 /><circle cx=430 cy=806 r=6.5 /><circle cx=375 cy=874 r=6.5 /><circle cx=377 cy=940 r=6.5 /><circle cx=475 cy=1044 r=6.5 /><circle cx=438 cy=901 r=6.5 /><circle cx=288 cy=946 r=6.5 /><circle cx=252 cy=895 r=6.5 /><circle cx=496 cy=1040 r=6.5 /><circle cx=376 cy=852 r=6.5 /><circle cx=441 cy=858 r=6.5 /><circle cx=430 cy=922 r=6.5 /><circle cx=425 cy=931 r=6.5 /><circle cx=388 cy=881 r=6.5 /><circle cx=559 cy=959 r=6.5 /><circle cx=420 cy=1008 r=6.5 /><circle cx=511 cy=1005 r=6.5 /><circle cx=571 cy=1046 r=6.5 /><circle cx=459 cy=855 r=6.5 /><circle cx=415 cy=978 r=6.5 /><circle cx=564 cy=1053 r=6.5 /><circle cx=475 cy=1080 r=6.5 /><circle cx=244 cy=958 r=6.5 /><circle cx=381 cy=952 r=6.5 /><circle cx=462 cy=848 r=6.5 /><circle cx=535 cy=1036 r=6.5 /><circle cx=424 cy=1020 r=6.5 /><circle cx=403 cy=897 r=6.5 /><circle cx=497 cy=902 r=6.5 /><circle cx=470 cy=1059 r=6.5 /><circle cx=386 cy=876 r=6.5 /><circle cx=568 cy=1058 r=6.5 /><circle cx=379 cy=894 r=6.5 /><circle cx=194 cy=831 r=6.5 /><circle cx=421 cy=983 r=6.5 /><circle cx=243 cy=822 r=6.5 /><circle cx=579 cy=993 r=6.5 /><circle cx=392 cy=742 r=6.5 /><circle cx=526 cy=898 r=6.5 /><circle cx=457 cy=822 r=6.5 /><circle cx=324 cy=813 r=6.5 /><circle cx=450 cy=996 r=6.5 /><circle cx=472 cy=957 r=6.5 /><circle cx=263 cy=803 r=6.5 /><circle cx=516 cy=993 r=6.5 /><circle cx=381 cy=945 r=6.5 /><circle cx=351 cy=845 r=6.5 /><circle cx=458 cy=1015 r=6.5 /><circle cx=470 cy=950 r=6.5 /><circle cx=464 cy=1028 r=6.5 /><circle cx=395 cy=797 r=6.5 /><circle cx=226 cy=777 r=6.5 /><circle cx=460 cy=924 r=6.5 /><circle cx=399 cy=839 r=6.5 /><circle cx=398 cy=779 r=6.5 /><circle cx=445 cy=1029 r=6.5 /><circle cx=476 cy=1019 r=6.5 /><circle cx=197 cy=802 r=6.5 /><circle cx=332 cy=909 r=6.5 /><circle cx=354 cy=946 r=6.5 /><circle cx=378 cy=743 r=6.5 /><circle cx=418 cy=959 r=6.5 /><circle cx=322 cy=729 r=6.5 /><circle cx=465 cy=845 r=6.5 /><circle cx=347 cy=756 r=6.5 /><circle cx=568 cy=955 r=6.5 /><circle cx=516 cy=1031 r=6.5 /><circle cx=481 cy=1070 r=6.5 /><circle cx=403 cy=796 r=6.5 /><circle cx=557 cy=978 r=6.5 /><circle cx=549 cy=933 r=6.5 /><circle cx=434 cy=775 r=6.5 /><circle cx=496 cy=915 r=6.5 /><circle cx=321 cy=815 r=6.5 /><circle cx=510 cy=858 r=6.5 /><circle cx=492 cy=910 r=6.5 /><circle cx=264 cy=883 r=6.5 /><circle cx=316 cy=888 r=6.5 /><circle cx=559 cy=1020 r=6.5 /><circle cx=478 cy=967 r=6.5 /><circle cx=529 cy=1014 r=6.5 /><circle cx=386 cy=862 r=6.5 /><circle cx=395 cy=1000 r=6.5 /><circle cx=469 cy=878 r=6.5 /><circle cx=339 cy=942 r=6.5 /><circle cx=448 cy=817 r=6.5 /><circle cx=321 cy=731 r=6.5 /><circle cx=439 cy=785 r=6.5 /><circle cx=468 cy=913 r=6.5 /><circle cx=195 cy=822 r=6.5 /><circle cx=332 cy=903 r=6.5 /><circle cx=432 cy=825 r=6.5 /><circle cx=378 cy=820 r=6.5 /><circle cx=487 cy=896 r=6.5 /><circle cx=370 cy=785 r=6.5 /><circle cx=326 cy=953 r=6.5 /><circle cx=576 cy=1034 r=6.5 /><circle cx=286 cy=958 r=6.5 /><circle cx=402 cy=1033 r=6.5 /><circle cx=503 cy=1045 r=6.5 /><circle cx=441 cy=918 r=6.5 /><circle cx=300 cy=871 r=6.5 /><circle cx=474 cy=1070 r=6.5 /><circle cx=483 cy=840 r=6.5 /><circle cx=428 cy=830 r=6.5 /><circle cx=417 cy=870 r=6.5 /><circle cx=455 cy=943 r=6.5 /><circle cx=385 cy=992 r=6.5 /><circle cx=571 cy=981 r=6.5 /><circle cx=495 cy=855 r=6.5 /><circle cx=434 cy=1085 r=6.5 /><circle cx=411 cy=790 r=6.5 /><circle cx=422 cy=904 r=6.5 /><circle cx=256 cy=884 r=6.5 /><circle cx=538 cy=1011 r=6.5 /><circle cx=414 cy=837 r=6.5 /><circle cx=473 cy=883 r=6.5 /><circle cx=578 cy=1004 r=6.5 /><circle cx=469 cy=956 r=6.5 /><circle cx=517 cy=1055 r=6.5 /><circle cx=501 cy=890 r=6.5 /><circle cx=488 cy=858 r=6.5 /><circle cx=458 cy=856 r=6.5 /><circle cx=548 cy=1036 r=6.5 /><circle cx=517 cy=1075 r=6.5 /><circle cx=499 cy=1035 r=6.5 /><circle cx=525 cy=939 r=6.5 /><circle cx=392 cy=943 r=6.5 /><circle cx=490 cy=899 r=6.5 /><circle cx=270 cy=940 r=6.5 /><circle cx=417 cy=834 r=6.5 /><circle cx=247 cy=724 r=6.5 /><circle cx=384 cy=871 r=6.5 /><circle cx=276 cy=846 r=6.5 /><circle cx=459 cy=965 r=6.5 /><circle cx=497 cy=946 r=6.5 /><circle cx=287 cy=785 r=6.5 /><circle cx=489 cy=895 r=6.5 /><circle cx=394 cy=950 r=6.5 /><circle cx=178 cy=938 r=6.5 /><circle cx=412 cy=746 r=6.5 /><circle cx=449 cy=1038 r=6.5 /><circle cx=335 cy=908 r=6.5 /><circle cx=509 cy=1001 r=6.5 /><circle cx=419 cy=857 r=6.5 /><circle cx=307 cy=749 r=6.5 /><circle cx=341 cy=966 r=6.5 /><circle cx=451 cy=823 r=6.5 /><circle cx=335 cy=751 r=6.5 /><circle cx=437 cy=889 r=6.5 /><circle cx=171 cy=835 r=6.5 /><circle cx=310 cy=969 r=6.5 /><circle cx=366 cy=741 r=6.5 /><circle cx=576 cy=1034 r=6.5 /><circle cx=498 cy=910 r=6.5 /><circle cx=293 cy=764 r=6.5 /><circle cx=485 cy=930 r=6.5 /><circle cx=545 cy=1054 r=6.5 /><circle cx=380 cy=875 r=6.5 /><circle cx=387 cy=944 r=6.5 /><circle cx=392 cy=843 r=6.5 /><circle cx=441 cy=887 r=6.5 /><circle cx=441 cy=1057 r=6.5 /><circle cx=363 cy=907 r=6.5 /><circle cx=569 cy=1062 r=6.5 /><circle cx=402 cy=816 r=6.5 /><circle cx=421 cy=849 r=6.5 /><circle cx=332 cy=957 r=6.5 /><circle cx=559 cy=1034 r=6.5 /><circle cx=310 cy=956 r=6.5 /><circle cx=466 cy=1018 r=6.5 /><circle cx=525 cy=1020 r=6.5 /><circle cx=332 cy=763 r=6.5 /><circle cx=463 cy=875 r=6.5 /><circle cx=346 cy=851 r=6.5 /><circle cx=583 cy=1033 r=6.5 /><circle cx=525 cy=1004 r=6.5 /><circle cx=517 cy=1043 r=6.5 /><circle cx=421 cy=992 r=6.5 /><circle cx=451 cy=1100 r=6.5 /><circle cx=429 cy=753 r=6.5 /><circle cx=373 cy=1007 r=6.5 /><circle cx=469 cy=856 r=6.5 /><circle cx=513 cy=941 r=6.5 /><circle cx=224 cy=897 r=6.5 /><circle cx=496 cy=965 r=6.5 /><circle cx=530 cy=1062 r=6.5 /><circle cx=448 cy=1036 r=6.5 /><circle cx=496 cy=849 r=6.5 /><circle cx=226 cy=857 r=6.5 /><circle cx=525 cy=1030 r=6.5 /><circle cx=410 cy=1027 r=6.5 /><circle cx=317 cy=814 r=6.5 /><circle cx=387 cy=879 r=6.5 /><circle cx=502 cy=1026 r=6.5 /><circle cx=361 cy=914 r=6.5 /><circle cx=483 cy=998 r=6.5 /><circle cx=500 cy=955 r=6.5 /><circle cx=466 cy=809 r=6.5 /><circle cx=560 cy=979 r=6.5 /><circle cx=332 cy=893 r=6.5 /><circle cx=494 cy=866 r=6.5 /><circle cx=507 cy=991 r=6.5 /><circle cx=423 cy=926 r=6.5 /><circle cx=227 cy=922 r=6.5 /><circle cx=294 cy=813 r=6.5 /><circle cx=562 cy=1046 r=6.5 /><circle cx=451 cy=820 r=6.5 /><circle cx=431 cy=1004 r=6.5 /><circle cx=410 cy=979 r=6.5 /><circle cx=455 cy=998 r=6.5 /><circle cx=430 cy=1021 r=6.5 /><circle cx=439 cy=875 r=6.5 /><circle cx=460 cy=839 r=6.5 /><circle cx=531 cy=978 r=6.5 /><circle cx=549 cy=1011 r=6.5 /><circle cx=353 cy=910 r=6.5 /><circle cx=296 cy=798 r=6.5 /><circle cx=424 cy=974 r=6.5 /><circle cx=510 cy=959 r=6.5 /><circle cx=474 cy=1024 r=6.5 /><circle cx=502 cy=1001 r=6.5 /><circle cx=479 cy=997 r=6.5 /><circle cx=451 cy=871 r=6.5 /><circle cx=461 cy=908 r=6.5 /><circle cx=277 cy=886 r=6.5 /><circle cx=349 cy=978 r=6.5 /><circle cx=488 cy=844 r=6.5 /><circle cx=370 cy=788 r=6.5 /><circle cx=424 cy=905 r=6.5 /><circle cx=563 cy=953 r=6.5 /><circle cx=516 cy=979 r=6.5 /><circle cx=398 cy=962 r=6.5 /><circle cx=410 cy=997 r=6.5 /><circle cx=263 cy=964 r=6.5 /><circle cx=576 cy=1029 r=6.5 /><circle cx=281 cy=799 r=6.5 /><circle cx=526 cy=908 r=6.5 /><circle cx=334 cy=870 r=6.5 /><circle cx=578 cy=987 r=6.5 /><circle cx=430 cy=960 r=6.5 /><circle cx=376 cy=872 r=6.5 /><circle cx=578 cy=1034 r=6.5 /><circle cx=353 cy=795 r=6.5 /><circle cx=461 cy=918 r=6.5 /><circle cx=353 cy=954 r=6.5 /><circle cx=472 cy=1043 r=6.5 /><circle cx=382 cy=728 r=6.5 /><circle cx=427 cy=899 r=6.5 /><circle cx=468 cy=1087 r=6.5 /><circle cx=530 cy=899 r=6.5 /><circle cx=275 cy=957 r=6.5 /><circle cx=288 cy=705 r=6.5 /><circle cx=442 cy=1092 r=6.5 /><circle cx=527 cy=999 r=6.5 /><circle cx=414 cy=809 r=6.5 /><circle cx=463 cy=812 r=6.5 /><circle cx=425 cy=981 r=6.5 /><circle cx=475 cy=910 r=6.5 /><circle cx=265 cy=759 r=6.5 /><circle cx=448 cy=1067 r=6.5 /><circle cx=419 cy=910 r=6.5 /><circle cx=514 cy=1020 r=6.5 /><circle cx=506 cy=1003 r=6.5 /><circle cx=327 cy=948 r=6.5 /><circle cx=423 cy=778 r=6.5 /><circle cx=419 cy=973 r=6.5 /><circle cx=434 cy=821 r=6.5 /><circle cx=346 cy=883 r=6.5 /><circle cx=574 cy=1067 r=6.5 /><circle cx=399 cy=738 r=6.5 /><circle cx=268 cy=986 r=6.5 /><circle cx=358 cy=787 r=6.5 /><circle cx=373 cy=861 r=6.5 /><circle cx=272 cy=851 r=6.5 /><circle cx=570 cy=1050 r=6.5 /><circle cx=316 cy=770 r=6.5 /><circle cx=399 cy=786 r=6.5 /><circle cx=439 cy=838 r=6.5 /><circle cx=556 cy=1019 r=6.5 /><circle cx=394 cy=868 r=6.5 /><circle cx=541 cy=1073 r=6.5 /><circle cx=547 cy=895 r=6.5 /><circle cx=427 cy=845 r=6.5 /><circle cx=506 cy=951 r=6.5 /><circle cx=489 cy=1114 r=6.5 /><circle cx=298 cy=853 r=6.5 /><circle cx=296 cy=798 r=6.5 /><circle cx=444 cy=1001 r=6.5 /><circle cx=563 cy=987 r=6.5 /><circle cx=510 cy=910 r=6.5 /><circle cx=250 cy=903 r=6.5 /><circle cx=376 cy=958 r=6.5 /><circle cx=427 cy=925 r=6.5 /><circle cx=437 cy=929 r=6.5 /><circle cx=407 cy=784 r=6.5 /><circle cx=565 cy=945 r=6.5 /><circle cx=419 cy=1058 r=6.5 /><circle cx=422 cy=1005 r=6.5 /><circle cx=211 cy=915 r=6.5 /><circle cx=477 cy=1057 r=6.5 /><circle cx=311 cy=964 r=6.5 /><circle cx=410 cy=793 r=6.5 /><circle cx=557 cy=1027 r=6.5 /><circle cx=342 cy=988 r=6.5 /><circle cx=548 cy=910 r=6.5 /><circle cx=468 cy=920 r=6.5 /><circle cx=437 cy=866 r=6.5 /><circle cx=495 cy=939 r=6.5 /><circle cx=436 cy=845 r=6.5 /><circle cx=379 cy=1023 r=6.5 /><circle cx=465 cy=956 r=6.5 /><circle cx=342 cy=911 r=6.5 /><circle cx=345 cy=851 r=6.5 /><circle cx=318 cy=949 r=6.5 /><circle cx=369 cy=988 r=6.5 /><circle cx=460 cy=1065 r=6.5 /><circle cx=502 cy=1007 r=6.5 /><circle cx=298 cy=740 r=6.5 /><circle cx=252 cy=943 r=6.5 /><circle cx=404 cy=967 r=6.5 /><circle cx=416 cy=861 r=6.5 /><circle cx=198 cy=783 r=6.5 /><circle cx=400 cy=928 r=6.5 /><circle cx=446 cy=833 r=6.5 /><circle cx=546 cy=913 r=6.5 /><circle cx=266 cy=847 r=6.5 /><circle cx=390 cy=846 r=6.5 /><circle cx=376 cy=811 r=6.5 /><circle cx=485 cy=860 r=6.5 /><circle cx=571 cy=1036 r=6.5 /><circle cx=355 cy=788 r=6.5 /><circle cx=347 cy=878 r=6.5 /><circle cx=313 cy=923 r=6.5 /><circle cx=454 cy=1024 r=6.5 /><circle cx=503 cy=971 r=6.5 /><circle cx=390 cy=786 r=6.5 /><circle cx=561 cy=1041 r=6.5 /><circle cx=372 cy=1009 r=6.5 /><circle cx=570 cy=976 r=6.5 /><circle cx=544 cy=1008 r=6.5 /><circle cx=516 cy=972 r=6.5 /><circle cx=418 cy=1027 r=6.5 /><circle cx=512 cy=1017 r=6.5 /><circle cx=484 cy=847 r=6.5 /><circle cx=496 cy=965 r=6.5 /><circle cx=504 cy=876 r=6.5 /><circle cx=563 cy=992 r=6.5 /><circle cx=263 cy=816 r=6.5 /><circle cx=412 cy=919 r=6.5 /><circle cx=361 cy=906 r=6.5 /><circle cx=298 cy=938 r=6.5 /><circle cx=177 cy=932 r=6.5 /><circle cx=341 cy=841 r=6.5 /><circle cx=494 cy=951 r=6.5 /><circle cx=540 cy=984 r=6.5 /><circle cx=278 cy=730 r=6.5 /><circle cx=364 cy=995 r=6.5 /><circle cx=334 cy=836 r=6.5 /><circle cx=479 cy=983 r=6.5 /><circle cx=353 cy=878 r=6.5 /><circle cx=515 cy=901 r=6.5 /><circle cx=384 cy=808 r=6.5 /><circle cx=584 cy=1001 r=6.5 /><circle cx=264 cy=820 r=6.5 /><circle cx=394 cy=953 r=6.5 /><circle cx=519 cy=1062 r=6.5 /><circle cx=549 cy=1041 r=6.5 /><circle cx=368 cy=759 r=6.5 /><circle cx=393 cy=930 r=6.5 /><circle cx=536 cy=965 r=6.5 /><circle cx=331 cy=765 r=6.5 /><circle cx=382 cy=760 r=6.5 /><circle cx=415 cy=1003 r=6.5 /><circle cx=431 cy=934 r=6.5 /><circle cx=543 cy=1042 r=6.5 /><circle cx=261 cy=760 r=6.5 /><circle cx=549 cy=1059 r=6.5 /><circle cx=321 cy=749 r=6.5 /><circle cx=437 cy=1006 r=6.5 /><circle cx=561 cy=1022 r=6.5 /><circle cx=392 cy=926 r=6.5 /><circle cx=509 cy=956 r=6.5 /><circle cx=433 cy=878 r=6.5 /><circle cx=429 cy=774 r=6.5 /><circle cx=475 cy=900 r=6.5 /><circle cx=417 cy=970 r=6.5 /><circle cx=539 cy=886 r=6.5 /><circle cx=244 cy=809 r=6.5 /><circle cx=308 cy=1017 r=6.5 /><circle cx=523 cy=956 r=6.5 /><circle cx=328 cy=955 r=6.5 /><circle cx=521 cy=1057 r=6.5 /><circle cx=484 cy=978 r=6.5 /><circle cx=551 cy=1021 r=6.5 /><circle cx=225 cy=759 r=6.5 /><circle cx=459 cy=865 r=6.5 /><circle cx=514 cy=983 r=6.5 /><circle cx=269 cy=948 r=6.5 /><circle cx=470 cy=949 r=6.5 /><circle cx=357 cy=922 r=6.5 /><circle cx=287 cy=865 r=6.5 /><circle cx=279 cy=908 r=6.5 /><circle cx=332 cy=981 r=6.5 /><circle cx=302 cy=806 r=6.5 /><circle cx=556 cy=920 r=6.5 /><circle cx=206 cy=882 r=6.5 /><circle cx=393 cy=888 r=6.5 /><circle cx=330 cy=986 r=6.5 /><circle cx=465 cy=1060 r=6.5 /><circle cx=276 cy=771 r=6.5 /><circle cx=502 cy=934 r=6.5 /><circle cx=492 cy=995 r=6.5 /><circle cx=419 cy=921 r=6.5 /><circle cx=531 cy=999 r=6.5 /><circle cx=511 cy=938 r=6.5 /><circle cx=499 cy=889 r=6.5 /><circle cx=461 cy=975 r=6.5 /><circle cx=359 cy=765 r=6.5 /><circle cx=412 cy=933 r=6.5 /><circle cx=521 cy=918 r=6.5 /><circle cx=420 cy=919 r=6.5 /><circle cx=438 cy=811 r=6.5 /><circle cx=430 cy=1007 r=6.5 /><circle cx=514 cy=1053 r=6.5 /><circle cx=316 cy=818 r=6.5 /><circle cx=385 cy=797 r=6.5 /><circle cx=328 cy=932 r=6.5 /><circle cx=431 cy=788 r=6.5 /><circle cx=410 cy=804 r=6.5 /><circle cx=501 cy=874 r=6.5 /><circle cx=433 cy=850 r=6.5 /><circle cx=438 cy=873 r=6.5 /><circle cx=538 cy=1033 r=6.5 /><circle cx=466 cy=877 r=6.5 /><circle cx=252 cy=772 r=6.5 /><circle cx=260 cy=886 r=6.5 /><circle cx=482 cy=1080 r=6.5 /><circle cx=501 cy=974 r=6.5 /><circle cx=248 cy=878 r=6.5 /><circle cx=424 cy=972 r=6.5 /><circle cx=438 cy=896 r=6.5 /><circle cx=487 cy=921 r=6.5 /><circle cx=369 cy=808 r=6.5 /><circle cx=475 cy=921 r=6.5 /><circle cx=315 cy=836 r=6.5 /><circle cx=536 cy=1020 r=6.5 /><circle cx=512 cy=1048 r=6.5 /><circle cx=408 cy=842 r=6.5 /><circle cx=273 cy=807 r=6.5 /><circle cx=418 cy=766 r=6.5 /><circle cx=337 cy=984 r=6.5 /><circle cx=210 cy=794 r=6.5 /><circle cx=440 cy=881 r=6.5 /><circle cx=457 cy=906 r=6.5 /><circle cx=568 cy=1025 r=6.5 /><circle cx=347 cy=908 r=6.5 /><circle cx=423 cy=991 r=6.5 /><circle cx=294 cy=1001 r=6.5 /><circle cx=421 cy=958 r=6.5 /><circle cx=411 cy=807 r=6.5 /><circle cx=186 cy=861 r=6.5 /><circle cx=528 cy=1099 r=6.5 /><circle cx=469 cy=894 r=6.5 /><circle cx=560 cy=984 r=6.5 /><circle cx=246 cy=902 r=6.5 /><circle cx=194 cy=882 r=6.5 /><circle cx=390 cy=722 r=6.5 /><circle cx=421 cy=1034 r=6.5 /><circle cx=529 cy=941 r=6.5 /><circle cx=413 cy=897 r=6.5 /><circle cx=547 cy=905 r=6.5 /><circle cx=382 cy=932 r=6.5 /><circle cx=395 cy=736 r=6.5 /><circle cx=410 cy=781 r=6.5 /><circle cx=471 cy=888 r=6.5 /><circle cx=560 cy=1032 r=6.5 /><circle cx=332 cy=785 r=6.5 /><circle cx=430 cy=905 r=6.5 /><circle cx=405 cy=931 r=6.5 /><circle cx=525 cy=1024 r=6.5 /><circle cx=365 cy=906 r=6.5 /><circle cx=565 cy=982 r=6.5 /><circle cx=507 cy=881 r=6.5 /><circle cx=441 cy=850 r=6.5 /><circle cx=304 cy=817 r=6.5 /><circle cx=448 cy=973 r=6.5 /><circle cx=514 cy=997 r=6.5 /><circle cx=441 cy=971 r=6.5 /><circle cx=530 cy=1049 r=6.5 /><circle cx=521 cy=997 r=6.5 /><circle cx=330 cy=1010 r=6.5 /><circle cx=474 cy=863 r=6.5 /><circle cx=501 cy=1040 r=6.5 /><circle cx=429 cy=847 r=6.5 /><circle cx=412 cy=1010 r=6.5 /><circle cx=325 cy=962 r=6.5 /><circle cx=554 cy=1003 r=6.5 /><circle cx=490 cy=1033 r=6.5 /><circle cx=496 cy=870 r=6.5 /><circle cx=439 cy=974 r=6.5 /><circle cx=556 cy=975 r=6.5 /><circle cx=466 cy=893 r=6.5 /><circle cx=431 cy=770 r=6.5 /><circle cx=281 cy=773 r=6.5 /><circle cx=497 cy=1010 r=6.5 /><circle cx=279 cy=811 r=6.5 /><circle cx=278 cy=940 r=6.5 /><circle cx=330 cy=773 r=6.5 /><circle cx=310 cy=848 r=6.5 /><circle cx=423 cy=1040 r=6.5 /><circle cx=238 cy=916 r=6.5 /><circle cx=484 cy=962 r=6.5 /><circle cx=451 cy=938 r=6.5 /><circle cx=547 cy=1028 r=6.5 /><circle cx=515 cy=1033 r=6.5 /><circle cx=487 cy=1000 r=6.5 /><circle cx=325 cy=746 r=6.5 /><circle cx=506 cy=926 r=6.5 /><circle cx=301 cy=797 r=6.5 /><circle cx=414 cy=856 r=6.5 /><circle cx=396 cy=911 r=6.5 /><circle cx=388 cy=795 r=6.5 /><circle cx=434 cy=867 r=6.5 /><circle cx=406 cy=905 r=6.5 /><circle cx=209 cy=788 r=6.5 /><circle cx=350 cy=971 r=6.5 /><circle cx=532 cy=998 r=6.5 /><circle cx=456 cy=880 r=6.5 /><circle cx=422 cy=1069 r=6.5 /><circle cx=482 cy=1029 r=6.5 /><circle cx=460 cy=877 r=6.5 /><circle cx=205 cy=933 r=6.5 /><circle cx=278 cy=731 r=6.5 /><circle cx=363 cy=762 r=6.5 /><circle cx=414 cy=850 r=6.5 /><circle cx=334 cy=750 r=6.5 /><circle cx=492 cy=993 r=6.5 /><circle cx=545 cy=1064 r=6.5 /><circle cx=410 cy=782 r=6.5 /><circle cx=290 cy=866 r=6.5 /><circle cx=454 cy=1067 r=6.5 /><circle cx=418 cy=774 r=6.5 /><circle cx=376 cy=799 r=6.5 /><circle cx=559 cy=948 r=6.5 /><circle cx=432 cy=1088 r=6.5 /><circle cx=361 cy=995 r=6.5 /><circle cx=501 cy=944 r=6.5 /><circle cx=361 cy=943 r=6.5 /><circle cx=506 cy=900 r=6.5 /><circle cx=378 cy=881 r=6.5 /><circle cx=415 cy=959 r=6.5 /><circle cx=518 cy=1050 r=6.5 /><circle cx=470 cy=853 r=6.5 /><circle cx=444 cy=1104 r=6.5 /><circle cx=365 cy=843 r=6.5 /><circle cx=420 cy=827 r=6.5 /><circle cx=340 cy=872 r=6.5 /><circle cx=315 cy=925 r=6.5 /><circle cx=383 cy=989 r=6.5 /><circle cx=401 cy=849 r=6.5 /><circle cx=379 cy=1013 r=6.5 /><circle cx=396 cy=793 r=6.5 /><circle cx=429 cy=774 r=6.5 /><circle cx=468 cy=1059 r=6.5 /><circle cx=236 cy=923 r=6.5 /><circle cx=540 cy=915 r=6.5 /><circle cx=382 cy=891 r=6.5 /><circle cx=561 cy=997 r=6.5 /><circle cx=411 cy=971 r=6.5 /><circle cx=398 cy=835 r=6.5 /><circle cx=486 cy=1022 r=6.5 /><circle cx=577 cy=1041 r=6.5 /><circle cx=445 cy=855 r=6.5 /><circle cx=444 cy=784 r=6.5 /><circle cx=355 cy=979 r=6.5 /><circle cx=357 cy=1011 r=6.5 /><circle cx=296 cy=997 r=6.5 /><circle cx=530 cy=1016 r=6.5 /><circle cx=528 cy=894 r=6.5 /><circle cx=400 cy=915 r=6.5 /><circle cx=367 cy=873 r=6.5 /><circle cx=274 cy=934 r=6.5 /><circle cx=439 cy=781 r=6.5 /><circle cx=438 cy=875 r=6.5 /><circle cx=480 cy=944 r=6.5 /><circle cx=501 cy=969 r=6.5 /><circle cx=290 cy=935 r=6.5 /><circle cx=567 cy=1036 r=6.5 /><circle cx=417 cy=903 r=6.5 /><circle cx=320 cy=728 r=6.5 /><circle cx=475 cy=837 r=6.5 /><circle cx=505 cy=894 r=6.5 /><circle cx=444 cy=1018 r=6.5 /><circle cx=474 cy=1036 r=6.5 /><circle cx=405 cy=806 r=6.5 /><circle cx=548 cy=928 r=6.5 /><circle cx=532 cy=1024 r=6.5 /><circle cx=567 cy=948 r=6.5 /><circle cx=324 cy=890 r=6.5 /><circle cx=485 cy=862 r=6.5 /><circle cx=402 cy=1000 r=6.5 /><circle cx=275 cy=779 r=6.5 /><circle cx=541 cy=1056 r=6.5 /><circle cx=480 cy=959 r=6.5 /><circle cx=361 cy=869 r=6.5 /><circle cx=387 cy=927 r=6.5 /><circle cx=403 cy=915 r=6.5 /><circle cx=351 cy=848 r=6.5 /><circle cx=424 cy=1027 r=6.5 /><circle cx=513 cy=1019 r=6.5 /><circle cx=489 cy=839 r=6.5 /><circle cx=560 cy=948 r=6.5 /><circle cx=467 cy=875 r=6.5 /><circle cx=475 cy=870 r=6.5 /><circle cx=509 cy=1059 r=6.5 /><circle cx=373 cy=804 r=6.5 /><circle cx=443 cy=962 r=6.5 /><circle cx=248 cy=794 r=6.5 /><circle cx=443 cy=789 r=6.5 /><circle cx=421 cy=828 r=6.5 /><circle cx=515 cy=861 r=6.5 /><circle cx=567 cy=1042 r=6.5 /><circle cx=543 cy=1007 r=6.5 /><circle cx=475 cy=1061 r=6.5 /><circle cx=445 cy=915 r=6.5 /><circle cx=333 cy=981 r=6.5 /><circle cx=367 cy=1009 r=6.5 /><circle cx=379 cy=794 r=6.5 /><circle cx=539 cy=985 r=6.5 /><circle cx=313 cy=973 r=6.5 /><circle cx=315 cy=791 r=6.5 /><circle cx=357 cy=744 r=6.5 /><circle cx=515 cy=1077 r=6.5 /><circle cx=401 cy=864 r=6.5 /><circle cx=414 cy=972 r=6.5 /><circle cx=266 cy=789 r=6.5 /><circle cx=199 cy=835 r=6.5 /><circle cx=266 cy=935 r=6.5 /><circle cx=574 cy=1049 r=6.5 /><circle cx=523 cy=954 r=6.5 /><circle cx=502 cy=1039 r=6.5 /><circle cx=445 cy=1012 r=6.5 /><circle cx=437 cy=952 r=6.5 /><circle cx=291 cy=907 r=6.5 /><circle cx=232 cy=861 r=6.5 /><circle cx=522 cy=1050 r=6.5 /><circle cx=298 cy=716 r=6.5 /><circle cx=224 cy=910 r=6.5 /><circle cx=376 cy=1005 r=6.5 /><circle cx=242 cy=853 r=6.5 /><circle cx=530 cy=978 r=6.5 /><circle cx=417 cy=876 r=6.5 /><circle cx=481 cy=838 r=6.5 /><circle cx=401 cy=884 r=6.5 /><circle cx=480 cy=999 r=6.5 /><circle cx=339 cy=869 r=6.5 /><circle cx=346 cy=853 r=6.5 /><circle cx=355 cy=998 r=6.5 /><circle cx=490 cy=933 r=6.5 /><circle cx=479 cy=1056 r=6.5 /><circle cx=402 cy=823 r=6.5 /><circle cx=470 cy=817 r=6.5 /><circle cx=384 cy=883 r=6.5 /><circle cx=394 cy=1038 r=6.5 /><circle cx=295 cy=735 r=6.5 /><circle cx=474 cy=822 r=6.5 /><circle cx=454 cy=827 r=6.5 /><circle cx=438 cy=973 r=6.5 /><circle cx=509 cy=873 r=6.5 /><circle cx=467 cy=853 r=6.5 /><circle cx=295 cy=784 r=6.5 /><circle cx=445 cy=826 r=6.5 /><circle cx=378 cy=843 r=6.5 /><circle cx=522 cy=892 r=6.5 /><circle cx=387 cy=951 r=6.5 /><circle cx=387 cy=843 r=6.5 /><circle cx=548 cy=1036 r=6.5 /><circle cx=378 cy=879 r=6.5 /><circle cx=548 cy=993 r=6.5 /><circle cx=285 cy=820 r=6.5 /><circle cx=230 cy=938 r=6.5 /><circle cx=447 cy=1017 r=6.5 /><circle cx=410 cy=792 r=6.5 /><circle cx=357 cy=866 r=6.5 /><circle cx=331 cy=774 r=6.5 /><circle cx=527 cy=954 r=6.5 /><circle cx=379 cy=829 r=6.5 /><circle cx=497 cy=922 r=6.5 /><circle cx=430 cy=1021 r=6.5 /><circle cx=411 cy=870 r=6.5 /><circle cx=421 cy=1006 r=6.5 /><circle cx=449 cy=967 r=6.5 /><circle cx=468 cy=867 r=6.5 /><circle cx=350 cy=809 r=6.5 /><circle cx=522 cy=1036 r=6.5 /><circle cx=392 cy=958 r=6.5 /><circle cx=579 cy=1012 r=6.5 /><circle cx=534 cy=977 r=6.5 /><circle cx=531 cy=999 r=6.5 /><circle cx=295 cy=845 r=6.5 /><circle cx=517 cy=927 r=6.5 /><circle cx=424 cy=841 r=6.5 /><circle cx=361 cy=880 r=6.5 /><circle cx=552 cy=1018 r=6.5 /><circle cx=430 cy=846 r=6.5 /><circle cx=419 cy=755 r=6.5 /><circle cx=389 cy=916 r=6.5 /><circle cx=356 cy=739 r=6.5 /><circle cx=298 cy=850 r=6.5 /><circle cx=524 cy=1012 r=6.5 /><circle cx=475 cy=897 r=6.5 /><circle cx=562 cy=1018 r=6.5 /><circle cx=458 cy=891 r=6.5 /><circle cx=212 cy=825 r=6.5 /><circle cx=275 cy=950 r=6.5 /><circle cx=305 cy=927 r=6.5 /><circle cx=499 cy=964 r=6.5 /><circle cx=484 cy=873 r=6.5 /><circle cx=363 cy=855 r=6.5 /><circle cx=368 cy=827 r=6.5 /><circle cx=508 cy=1030 r=6.5 /><circle cx=381 cy=937 r=6.5 /><circle cx=463 cy=1001 r=6.5 /><circle cx=408 cy=859 r=6.5 /><circle cx=483 cy=854 r=6.5 /><circle cx=256 cy=886 r=6.5 /><circle cx=538 cy=1050 r=6.5 /><circle cx=275 cy=880 r=6.5 /><circle cx=419 cy=993 r=6.5 /><circle cx=578 cy=978 r=6.5 /><circle cx=396 cy=812 r=6.5 /><circle cx=542 cy=915 r=6.5 /><circle cx=520 cy=973 r=6.5 /><circle cx=562 cy=1005 r=6.5 /><circle cx=571 cy=1044 r=6.5 /><circle cx=527 cy=1071 r=6.5 /><circle cx=458 cy=966 r=6.5 /><circle cx=377 cy=997 r=6.5 /><circle cx=506 cy=954 r=6.5 /><circle cx=459 cy=954 r=6.5 /><circle cx=542 cy=996 r=6.5 /><circle cx=516 cy=1030 r=6.5 /><circle cx=331 cy=925 r=6.5 /><circle cx=222 cy=912 r=6.5 /><circle cx=325 cy=718 r=6.5 /><circle cx=429 cy=805 r=6.5 /><circle cx=503 cy=919 r=6.5 /><circle cx=425 cy=904 r=6.5 /><circle cx=516 cy=878 r=6.5 /><circle cx=340 cy=966 r=6.5 /><circle cx=388 cy=960 r=6.5 /><circle cx=254 cy=796 r=6.5 /><circle cx=505 cy=987 r=6.5 /><circle cx=371 cy=1022 r=6.5 /><circle cx=239 cy=807 r=6.5 /><circle cx=235 cy=804 r=6.5 /><circle cx=466 cy=1019 r=6.5 /><circle cx=515 cy=898 r=6.5 /><circle cx=356 cy=837 r=6.5 /><circle cx=292 cy=913 r=6.5 /><circle cx=363 cy=917 r=6.5 /><circle cx=278 cy=745 r=6.5 /><circle cx=413 cy=993 r=6.5 /><circle cx=438 cy=960 r=6.5 /><circle cx=439 cy=1019 r=6.5 /><circle cx=554 cy=1044 r=6.5 /><circle cx=490 cy=904 r=6.5 /><circle cx=466 cy=977 r=6.5 /><circle cx=477 cy=873 r=6.5 /><circle cx=278 cy=923 r=6.5 /><circle cx=433 cy=839 r=6.5 /><circle cx=546 cy=932 r=6.5 /><circle cx=407 cy=870 r=6.5 /><circle cx=456 cy=952 r=6.5 /><circle cx=424 cy=996 r=6.5 /><circle cx=405 cy=960 r=6.5 /><circle cx=552 cy=916 r=6.5 /><circle cx=427 cy=928 r=6.5 /><circle cx=308 cy=901 r=6.5 /><circle cx=499 cy=915 r=6.5 /><circle cx=419 cy=862 r=6.5 /><circle cx=450 cy=817 r=6.5 /><circle cx=470 cy=883 r=6.5 /><circle cx=563 cy=968 r=6.5 /><circle cx=527 cy=988 r=6.5 /><circle cx=427 cy=919 r=6.5 /><circle cx=427 cy=1007 r=6.5 /><circle cx=465 cy=994 r=6.5 /><circle cx=438 cy=776 r=6.5 /><circle cx=247 cy=750 r=6.5 /><circle cx=272 cy=870 r=6.5 /><circle cx=376 cy=855 r=6.5 /><circle cx=479 cy=1061 r=6.5 /><circle cx=393 cy=809 r=6.5 /><circle cx=258 cy=927 r=6.5 /><circle cx=317 cy=711 r=6.5 /><circle cx=429 cy=982 r=6.5 /><circle cx=324 cy=796 r=6.5 /><circle cx=390 cy=1009 r=6.5 /><circle cx=339 cy=754 r=6.5 /><circle cx=202 cy=893 r=6.5 /><circle cx=324 cy=831 r=6.5 /><circle cx=281 cy=975 r=6.5 /><circle cx=394 cy=958 r=6.5 /><circle cx=289 cy=946 r=6.5 /><circle cx=531 cy=905 r=6.5 /><circle cx=259 cy=756 r=6.5 /><circle cx=568 cy=1072 r=6.5 /><circle cx=518 cy=940 r=6.5 /><circle cx=388 cy=797 r=6.5 /><circle cx=213 cy=820 r=6.5 /><circle cx=390 cy=745 r=6.5 /><circle cx=410 cy=752 r=6.5 /><circle cx=460 cy=954 r=6.5 /><circle cx=452 cy=964 r=6.5 /><circle cx=418 cy=926 r=6.5 /><circle cx=419 cy=758 r=6.5 /><circle cx=314 cy=793 r=6.5 /><circle cx=468 cy=833 r=6.5 /><circle cx=221 cy=914 r=6.5 /><circle cx=512 cy=973 r=6.5 /><circle cx=404 cy=922 r=6.5 /><circle cx=316 cy=826 r=6.5 /><circle cx=545 cy=969 r=6.5 /><circle cx=504 cy=1098 r=6.5 /><circle cx=283 cy=882 r=6.5 /><circle cx=575 cy=1002 r=6.5 /><circle cx=372 cy=1033 r=6.5 /><circle cx=371 cy=903 r=6.5 /><circle cx=529 cy=968 r=6.5 /><circle cx=434 cy=873 r=6.5 /><circle cx=450 cy=781 r=6.5 /><circle cx=437 cy=805 r=6.5 /><circle cx=306 cy=762 r=6.5 /><circle cx=484 cy=1042 r=6.5 /><circle cx=585 cy=1003 r=6.5 /><circle cx=529 cy=911 r=6.5 /><circle cx=502 cy=996 r=6.5 /><circle cx=482 cy=963 r=6.5 /><circle cx=535 cy=917 r=6.5 /><circle cx=491 cy=950 r=6.5 /><circle cx=523 cy=930 r=6.5 /><circle cx=426 cy=806 r=6.5 /><circle cx=339 cy=835 r=6.5 /><circle cx=428 cy=778 r=6.5 /><circle cx=308 cy=947 r=6.5 /><circle cx=486 cy=1012 r=6.5 /><circle cx=436 cy=949 r=6.5 /><circle cx=462 cy=1029 r=6.5 /><circle cx=519 cy=1006 r=6.5 /><circle cx=389 cy=967 r=6.5 /><circle cx=451 cy=831 r=6.5 /><circle cx=377 cy=752 r=6.5 /><circle cx=336 cy=843 r=6.5 /><circle cx=446 cy=1004 r=6.5 /><circle cx=516 cy=987 r=6.5 /><circle cx=190 cy=935 r=6.5 /><circle cx=462 cy=949 r=6.5 /><circle cx=419 cy=782 r=6.5 /><circle cx=406 cy=958 r=6.5 /><circle cx=532 cy=930 r=6.5 /><circle cx=404 cy=811 r=6.5 /><circle cx=291 cy=713 r=6.5 /><circle cx=565 cy=994 r=6.5 /><circle cx=461 cy=1088 r=6.5 /><circle cx=468 cy=983 r=6.5 /><circle cx=217 cy=888 r=6.5 /><circle cx=317 cy=868 r=6.5 /><circle cx=465 cy=1025 r=6.5 /><circle cx=510 cy=1080 r=6.5 /><circle cx=419 cy=848 r=6.5 /><circle cx=437 cy=876 r=6.5 /><circle cx=274 cy=772 r=6.5 /><circle cx=559 cy=1017 r=6.5 /><circle cx=500 cy=1034 r=6.5 /><circle cx=491 cy=1000 r=6.5 /><circle cx=296 cy=909 r=6.5 /><circle cx=456 cy=845 r=6.5 /><circle cx=376 cy=855 r=6.5 /><circle cx=288 cy=792 r=6.5 /><circle cx=445 cy=937 r=6.5 /><circle cx=390 cy=994 r=6.5 /><circle cx=415 cy=754 r=6.5 /><circle cx=539 cy=1033 r=6.5 /><circle cx=385 cy=791 r=6.5 /><circle cx=442 cy=910 r=6.5 /><circle cx=335 cy=993 r=6.5 /><circle cx=310 cy=909 r=6.5 /><circle cx=462 cy=916 r=6.5 /><circle cx=486 cy=869 r=6.5 /><circle cx=320 cy=817 r=6.5 /><circle cx=531 cy=1086 r=6.5 /><circle cx=448 cy=790 r=6.5 /><circle cx=558 cy=943 r=6.5 /><circle cx=497 cy=933 r=6.5 /><circle cx=280 cy=812 r=6.5 /><circle cx=356 cy=812 r=6.5 /><circle cx=371 cy=974 r=6.5 /><circle cx=456 cy=1107 r=6.5 /><circle cx=440 cy=823 r=6.5 /><circle cx=378 cy=786 r=6.5 /><circle cx=388 cy=779 r=6.5 /><circle cx=500 cy=934 r=6.5 /><circle cx=496 cy=930 r=6.5 /><circle cx=374 cy=933 r=6.5 /><circle cx=396 cy=818 r=6.5 /><circle cx=405 cy=859 r=6.5 /><circle cx=457 cy=946 r=6.5 /><circle cx=408 cy=948 r=6.5 /><circle cx=287 cy=968 r=6.5 /><circle cx=498 cy=912 r=6.5 /><circle cx=521 cy=981 r=6.5 /><circle cx=504 cy=1067 r=6.5 /><circle cx=546 cy=1046 r=6.5 /><circle cx=286 cy=760 r=6.5 /><circle cx=366 cy=951 r=6.5 /><circle cx=415 cy=938 r=6.5 /><circle cx=445 cy=834 r=6.5 /><circle cx=428 cy=759 r=6.5 /><circle cx=334 cy=925 r=6.5 /><circle cx=234 cy=899 r=6.5 /><circle cx=277 cy=978 r=6.5 /><circle cx=294 cy=954 r=6.5 /><circle cx=428 cy=1034 r=6.5 /><circle cx=470 cy=817 r=6.5 /><circle cx=489 cy=945 r=6.5 /><circle cx=495 cy=934 r=6.5 /><circle cx=271 cy=739 r=6.5 /><circle cx=454 cy=1008 r=6.5 /><circle cx=455 cy=913 r=6.5 /><circle cx=312 cy=771 r=6.5 /><circle cx=524 cy=1013 r=6.5 /><circle cx=436 cy=1009 r=6.5 /><circle cx=485 cy=1065 r=6.5 /><circle cx=406 cy=922 r=6.5 /><circle cx=411 cy=891 r=6.5 /><circle cx=283 cy=975 r=6.5 /><circle cx=500 cy=992 r=6.5 /><circle cx=466 cy=924 r=6.5 /><circle cx=514 cy=892 r=6.5 /><circle cx=540 cy=927 r=6.5 /><circle cx=469 cy=832 r=6.5 /><circle cx=483 cy=1037 r=6.5 /><circle cx=322 cy=723 r=6.5 /><circle cx=476 cy=901 r=6.5 /><circle cx=493 cy=1033 r=6.5 /><circle cx=283 cy=845 r=6.5 /><circle cx=362 cy=811 r=6.5 /><circle cx=361 cy=973 r=6.5 /><circle cx=433 cy=948 r=6.5 /><circle cx=263 cy=947 r=6.5 /><circle cx=206 cy=785 r=6.5 /><circle cx=560 cy=975 r=6.5 /><circle cx=316 cy=732 r=6.5 /><circle cx=267 cy=783 r=6.5 /><circle cx=561 cy=1053 r=6.5 /><circle cx=329 cy=995 r=6.5 /><circle cx=565 cy=960 r=6.5 /><circle cx=378 cy=894 r=6.5 /><circle cx=557 cy=947 r=6.5 /><circle cx=386 cy=934 r=6.5 /><circle cx=423 cy=1016 r=6.5 /><circle cx=492 cy=1058 r=6.5 /><circle cx=470 cy=840 r=6.5 /><circle cx=422 cy=981 r=6.5 /><circle cx=474 cy=948 r=6.5 /><circle cx=446 cy=1016 r=6.5 /><circle cx=400 cy=792 r=6.5 /><circle cx=444 cy=919 r=6.5 /><circle cx=473 cy=1065 r=6.5 /><circle cx=299 cy=708 r=6.5 /><circle cx=442 cy=771 r=6.5 /><circle cx=411 cy=904 r=6.5 /><circle cx=491 cy=928 r=6.5 /><circle cx=347 cy=833 r=6.5 /><circle cx=475 cy=950 r=6.5 /><circle cx=426 cy=777 r=6.5 /><circle cx=521 cy=974 r=6.5 /><circle cx=328 cy=868 r=6.5 /><circle cx=233 cy=858 r=6.5 /><circle cx=365 cy=771 r=6.5 /><circle cx=449 cy=975 r=6.5 /><circle cx=577 cy=1041 r=6.5 /><circle cx=214 cy=856 r=6.5 /><circle cx=399 cy=993 r=6.5 /><circle cx=434 cy=1046 r=6.5 /><circle cx=513 cy=914 r=6.5 /><circle cx=448 cy=861 r=6.5 /><circle cx=573 cy=968 r=6.5 /><circle cx=547 cy=1055 r=6.5 /><circle cx=490 cy=976 r=6.5 /><circle cx=393 cy=811 r=6.5 /><circle cx=354 cy=842 r=6.5 /><circle cx=544 cy=1004 r=6.5 /><circle cx=473 cy=942 r=6.5 /><circle cx=553 cy=1014 r=6.5 /><circle cx=290 cy=842 r=6.5 /><circle cx=440 cy=986 r=6.5 /><circle cx=322 cy=738 r=6.5 /><circle cx=478 cy=1055 r=6.5 /><circle cx=485 cy=1064 r=6.5 /><circle cx=473 cy=971 r=6.5 /><circle cx=325 cy=748 r=6.5 /><circle cx=438 cy=848 r=6.5 /><circle cx=552 cy=964 r=6.5 /><circle cx=288 cy=734 r=6.5 /><circle cx=253 cy=964 r=6.5 /><circle cx=332 cy=817 r=6.5 /><circle cx=502 cy=1109 r=6.5 /><circle cx=362 cy=984 r=6.5 /><circle cx=221 cy=731 r=6.5 /><circle cx=361 cy=787 r=6.5 /><circle cx=349 cy=846 r=6.5 /><circle cx=533 cy=987 r=6.5 /><circle cx=509 cy=946 r=6.5 /><circle cx=381 cy=914 r=6.5 /><circle cx=461 cy=912 r=6.5 /><circle cx=252 cy=740 r=6.5 /><circle cx=538 cy=932 r=6.5 /><circle cx=424 cy=768 r=6.5 /><circle cx=404 cy=819 r=6.5 /><circle cx=451 cy=832 r=6.5 /><circle cx=322 cy=795 r=6.5 /><circle cx=516 cy=949 r=6.5 /><circle cx=432 cy=835 r=6.5 /><circle cx=478 cy=863 r=6.5 /><circle cx=321 cy=847 r=6.5 /><circle cx=329 cy=975 r=6.5 /><circle cx=508 cy=1001 r=6.5 /><circle cx=489 cy=990 r=6.5 /><circle cx=496 cy=980 r=6.5 /><circle cx=490 cy=865 r=6.5 /><circle cx=479 cy=963 r=6.5 /><circle cx=328 cy=739 r=6.5 /><circle cx=374 cy=852 r=6.5 /><circle cx=528 cy=884 r=6.5 /><circle cx=319 cy=764 r=6.5 /><circle cx=514 cy=1054 r=6.5 /><circle cx=546 cy=931 r=6.5 /><circle cx=216 cy=750 r=6.5 /><circle cx=274 cy=900 r=6.5 /><circle cx=424 cy=754 r=6.5 /><circle cx=527 cy=867 r=6.5 /><circle cx=221 cy=788 r=6.5 /><circle cx=423 cy=926 r=6.5 /><circle cx=454 cy=956 r=6.5 /><circle cx=237 cy=920 r=6.5 /><circle cx=524 cy=985 r=6.5 /><circle cx=433 cy=900 r=6.5 /><circle cx=550 cy=956 r=6.5 /><circle cx=376 cy=823 r=6.5 /><circle cx=460 cy=923 r=6.5 /><circle cx=481 cy=891 r=6.5 /><circle cx=409 cy=922 r=6.5 /><circle cx=450 cy=1047 r=6.5 /><circle cx=544 cy=1059 r=6.5 /><circle cx=414 cy=820 r=6.5 /><circle cx=567 cy=1021 r=6.5 /><circle cx=341 cy=738 r=6.5 /><circle cx=435 cy=841 r=6.5 /><circle cx=319 cy=904 r=6.5 /><circle cx=266 cy=806 r=6.5 /><circle cx=568 cy=1043 r=6.5 /><circle cx=466 cy=830 r=6.5 /><circle cx=391 cy=865 r=6.5 /><circle cx=350 cy=976 r=6.5 /><circle cx=420 cy=943 r=6.5 /><circle cx=412 cy=904 r=6.5 /><circle cx=340 cy=850 r=6.5 /><circle cx=427 cy=851 r=6.5 /><circle cx=524 cy=897 r=6.5 /><circle cx=407 cy=949 r=6.5 /><circle cx=374 cy=765 r=6.5 /><circle cx=491 cy=1046 r=6.5 /><circle cx=530 cy=879 r=6.5 /><circle cx=412 cy=986 r=6.5 /><circle cx=488 cy=1042 r=6.5 /><circle cx=328 cy=813 r=6.5 /><circle cx=512 cy=946 r=6.5 /><circle cx=570 cy=1000 r=6.5 /><circle cx=416 cy=785 r=6.5 /><circle cx=268 cy=800 r=6.5 /><circle cx=412 cy=936 r=6.5 /><circle cx=351 cy=977 r=6.5 /><circle cx=586 cy=1049 r=6.5 /><circle cx=507 cy=1048 r=6.5 /><circle cx=488 cy=949 r=6.5 /><circle cx=494 cy=934 r=6.5 /><circle cx=554 cy=1013 r=6.5 /><circle cx=435 cy=856 r=6.5 /><circle cx=513 cy=980 r=6.5 /><circle cx=334 cy=938 r=6.5 /><circle cx=322 cy=855 r=6.5 /><circle cx=330 cy=944 r=6.5 /><circle cx=574 cy=1047 r=6.5 /><circle cx=262 cy=786 r=6.5 /><circle cx=562 cy=954 r=6.5 /><circle cx=408 cy=927 r=6.5 /><circle cx=391 cy=1017 r=6.5 /><circle cx=509 cy=924 r=6.5 /><circle cx=416 cy=1032 r=6.5 /><circle cx=504 cy=1034 r=6.5 /><circle cx=442 cy=915 r=6.5 /><circle cx=208 cy=873 r=6.5 /><circle cx=448 cy=1008 r=6.5 /><circle cx=587 cy=1036 r=6.5 /><circle cx=370 cy=808 r=6.5 /><circle cx=533 cy=941 r=6.5 /><circle cx=348 cy=739 r=6.5 /><circle cx=455 cy=939 r=6.5 /><circle cx=397 cy=896 r=6.5 /><circle cx=543 cy=959 r=6.5 /><circle cx=349 cy=892 r=6.5 /><circle cx=259 cy=751 r=6.5 /><circle cx=374 cy=847 r=6.5 /><circle cx=511 cy=948 r=6.5 /><circle cx=361 cy=885 r=6.5 /><circle cx=470 cy=835 r=6.5 /><circle cx=347 cy=972 r=6.5 /><circle cx=292 cy=931 r=6.5 /><circle cx=436 cy=846 r=6.5 /><circle cx=339 cy=882 r=6.5 /><circle cx=329 cy=886 r=6.5 /><circle cx=339 cy=917 r=6.5 /><circle cx=589 cy=1050 r=6.5 /><circle cx=433 cy=860 r=6.5 /><circle cx=357 cy=917 r=6.5 /><circle cx=283 cy=748 r=6.5 /><circle cx=544 cy=926 r=6.5 /><circle cx=366 cy=1010 r=6.5 /><circle cx=539 cy=914 r=6.5 /><circle cx=538 cy=917 r=6.5 /><circle cx=516 cy=968 r=6.5 /><circle cx=521 cy=955 r=6.5 /><circle cx=452 cy=1053 r=6.5 /><circle cx=316 cy=787 r=6.5 /><circle cx=277 cy=951 r=6.5 /><circle cx=286 cy=962 r=6.5 /><circle cx=382 cy=963 r=6.5 /><circle cx=512 cy=1059 r=6.5 /><circle cx=460 cy=867 r=6.5 /><circle cx=443 cy=1011 r=6.5 /><circle cx=385 cy=1006 r=6.5 /><circle cx=480 cy=844 r=6.5 /><circle cx=271 cy=857 r=6.5 /><circle cx=421 cy=804 r=6.5 /><circle cx=350 cy=925 r=6.5 /><circle cx=499 cy=916 r=6.5 /><circle cx=551 cy=950 r=6.5 /><circle cx=419 cy=901 r=6.5 /><circle cx=344 cy=893 r=6.5 /><circle cx=506 cy=1053 r=6.5 /><circle cx=551 cy=1008 r=6.5 /><circle cx=348 cy=816 r=6.5 /><circle cx=569 cy=1023 r=6.5 /><circle cx=429 cy=1001 r=6.5 /><circle cx=534 cy=941 r=6.5 /><circle cx=410 cy=817 r=6.5 /><circle cx=493 cy=1010 r=6.5 /><circle cx=563 cy=1034 r=6.5 /><circle cx=514 cy=1061 r=6.5 /><circle cx=463 cy=856 r=6.5 /><circle cx=339 cy=943 r=6.5 /><circle cx=428 cy=836 r=6.5 /><circle cx=462 cy=1039 r=6.5 /><circle cx=496 cy=953 r=6.5 /><circle cx=411 cy=851 r=6.5 /><circle cx=404 cy=998 r=6.5 /><circle cx=443 cy=935 r=6.5 /><circle cx=339 cy=761 r=6.5 /><circle cx=376 cy=828 r=6.5 /><circle cx=354 cy=958 r=6.5 /><circle cx=451 cy=906 r=6.5 /><circle cx=429 cy=915 r=6.5 /><circle cx=488 cy=828 r=6.5 /><circle cx=440 cy=917 r=6.5 /><circle cx=264 cy=743 r=6.5 /><circle cx=387 cy=814 r=6.5 /><circle cx=480 cy=1024 r=6.5 /><circle cx=412 cy=1083 r=6.5 /><circle cx=318 cy=823 r=6.5 /><circle cx=461 cy=1031 r=6.5 /><circle cx=407 cy=898 r=6.5 /><circle cx=500 cy=951 r=6.5 /><circle cx=417 cy=835 r=6.5 /><circle cx=419 cy=878 r=6.5 /><circle cx=244 cy=939 r=6.5 /><circle cx=458 cy=980 r=6.5 /><circle cx=476 cy=848 r=6.5 /><circle cx=456 cy=836 r=6.5 /><circle cx=400 cy=806 r=6.5 /><circle cx=519 cy=900 r=6.5 /><circle cx=293 cy=738 r=6.5 /><circle cx=372 cy=943 r=6.5 /><circle cx=406 cy=871 r=6.5 /><circle cx=482 cy=989 r=6.5 /><circle cx=397 cy=731 r=6.5 /><circle cx=447 cy=882 r=6.5 /><circle cx=428 cy=830 r=6.5 /><circle cx=574 cy=1059 r=6.5 /><circle cx=329 cy=803 r=6.5 /><circle cx=362 cy=778 r=6.5 /><circle cx=561 cy=946 r=6.5 /><circle cx=295 cy=966 r=6.5 /><circle cx=508 cy=862 r=6.5 /><circle cx=534 cy=993 r=6.5 /><circle cx=422 cy=830 r=6.5 /><circle cx=208 cy=866 r=6.5 /><circle cx=566 cy=987 r=6.5 /><circle cx=213 cy=874 r=6.5 /><circle cx=531 cy=1071 r=6.5 /><circle cx=341 cy=939 r=6.5 /><circle cx=484 cy=1046 r=6.5 /><circle cx=369 cy=857 r=6.5 /><circle cx=360 cy=976 r=6.5 /><circle cx=531 cy=1040 r=6.5 /><circle cx=493 cy=895 r=6.5 /><circle cx=373 cy=781 r=6.5 /><circle cx=438 cy=874 r=6.5 /><circle cx=388 cy=864 r=6.5 /><circle cx=441 cy=842 r=6.5 /><circle cx=512 cy=1004 r=6.5 /><circle cx=567 cy=990 r=6.5 /><circle cx=298 cy=700 r=6.5 /><circle cx=256 cy=834 r=6.5 /><circle cx=341 cy=924 r=6.5 /><circle cx=259 cy=889 r=6.5 /><circle cx=295 cy=863 r=6.5 /><circle cx=323 cy=846 r=6.5 /><circle cx=440 cy=1013 r=6.5 /><circle cx=564 cy=982 r=6.5 /><circle cx=521 cy=987 r=6.5 /><circle cx=527 cy=946 r=6.5 /><circle cx=426 cy=947 r=6.5 /><circle cx=500 cy=1032 r=6.5 /><circle cx=331 cy=876 r=6.5 /><circle cx=230 cy=729 r=6.5 /><circle cx=374 cy=989 r=6.5 /><circle cx=445 cy=997 r=6.5 /><circle cx=445 cy=793 r=6.5 /><circle cx=344 cy=945 r=6.5 /><circle cx=409 cy=735 r=6.5 /><circle cx=506 cy=870 r=6.5 /><circle cx=430 cy=906 r=6.5 /><circle cx=367 cy=953 r=6.5 /><circle cx=545 cy=978 r=6.5 /><circle cx=329 cy=717 r=6.5 /><circle cx=552 cy=1018 r=6.5 /><circle cx=441 cy=974 r=6.5 /><circle cx=346 cy=739 r=6.5 /><circle cx=330 cy=840 r=6.5 /><circle cx=507 cy=889 r=6.5 /><circle cx=438 cy=1002 r=6.5 /><circle cx=401 cy=946 r=6.5 /><circle cx=406 cy=999 r=6.5 /><circle cx=580 cy=987 r=6.5 /><circle cx=236 cy=725 r=6.5 /><circle cx=542 cy=972 r=6.5 /><circle cx=301 cy=932 r=6.5 /><circle cx=400 cy=872 r=6.5 /><circle cx=446 cy=934 r=6.5 /><circle cx=260 cy=766 r=6.5 /><circle cx=316 cy=841 r=6.5 /><circle cx=245 cy=729 r=6.5 /><circle cx=456 cy=985 r=6.5 /><circle cx=554 cy=963 r=6.5 /><circle cx=424 cy=762 r=6.5 /><circle cx=525 cy=1067 r=6.5 /><circle cx=246 cy=860 r=6.5 /><circle cx=432 cy=925 r=6.5 /><circle cx=463 cy=957 r=6.5 /><circle cx=478 cy=981 r=6.5 /><circle cx=296 cy=820 r=6.5 /><circle cx=376 cy=880 r=6.5 /><circle cx=426 cy=1003 r=6.5 /><circle cx=284 cy=824 r=6.5 /><circle cx=192 cy=863 r=6.5 /><circle cx=570 cy=983 r=6.5 /><circle cx=335 cy=819 r=6.5 /><circle cx=391 cy=823 r=6.5 /><circle cx=353 cy=923 r=6.5 /><circle cx=460 cy=1022 r=6.5 /><circle cx=402 cy=984 r=6.5 /><circle cx=456 cy=894 r=6.5 /><circle cx=468 cy=1056 r=6.5 /><circle cx=256 cy=773 r=6.5 /><circle cx=449 cy=851 r=6.5 /><circle cx=307 cy=801 r=6.5 /><circle cx=573 cy=1084 r=6.5 /><circle cx=483 cy=1040 r=6.5 /><circle cx=367 cy=737 r=6.5 /><circle cx=352 cy=799 r=6.5 /><circle cx=416 cy=1097 r=6.5 /><circle cx=471 cy=965 r=6.5 /><circle cx=416 cy=873 r=6.5 /><circle cx=470 cy=900 r=6.5 /><circle cx=467 cy=1022 r=6.5 /><circle cx=495 cy=896 r=6.5 /><circle cx=401 cy=884 r=6.5 /><circle cx=391 cy=956 r=6.5 /><circle cx=276 cy=873 r=6.5 /><circle cx=422 cy=954 r=6.5 /><circle cx=399 cy=814 r=6.5 /><circle cx=367 cy=913 r=6.5 /><circle cx=493 cy=1062 r=6.5 /><circle cx=366 cy=985 r=6.5 /><circle cx=492 cy=854 r=6.5 /><circle cx=484 cy=1083 r=6.5 /><circle cx=391 cy=846 r=6.5 /><circle cx=249 cy=819 r=6.5 /><circle cx=296 cy=902 r=6.5 /><circle cx=363 cy=846 r=6.5 /><circle cx=348 cy=798 r=6.5 /><circle cx=555 cy=949 r=6.5 /><circle cx=380 cy=843 r=6.5 /><circle cx=334 cy=697 r=6.5 /><circle cx=187 cy=827 r=6.5 /><circle cx=524 cy=873 r=6.5 /><circle cx=475 cy=826 r=6.5 /><circle cx=293 cy=703 r=6.5 /><circle cx=331 cy=796 r=6.5 /><circle cx=410 cy=917 r=6.5 /><circle cx=419 cy=1005 r=6.5 /><circle cx=549 cy=1077 r=6.5 /><circle cx=268 cy=832 r=6.5 /><circle cx=551 cy=1009 r=6.5 /><circle cx=448 cy=869 r=6.5 /><circle cx=446 cy=1038 r=6.5 /><circle cx=434 cy=926 r=6.5 /><circle cx=506 cy=1033 r=6.5 /><circle cx=419 cy=946 r=6.5 /><circle cx=431 cy=911 r=6.5 /><circle cx=545 cy=1011 r=6.5 /><circle cx=476 cy=941 r=6.5 /><circle cx=261 cy=818 r=6.5 /><circle cx=471 cy=932 r=6.5 /><circle cx=469 cy=854 r=6.5 /><circle cx=308 cy=759 r=6.5 /><circle cx=551 cy=1005 r=6.5 /><circle cx=329 cy=747 r=6.5 /><circle cx=452 cy=985 r=6.5 /><circle cx=351 cy=909 r=6.5 /><circle cx=412 cy=847 r=6.5 /><circle cx=292 cy=682 r=6.5 /><circle cx=373 cy=1013 r=6.5 /><circle cx=433 cy=793 r=6.5 /><circle cx=545 cy=911 r=6.5 /><circle cx=357 cy=833 r=6.5 /><circle cx=300 cy=889 r=6.5 /><circle cx=415 cy=846 r=6.5 /><circle cx=260 cy=957 r=6.5 /><circle cx=389 cy=953 r=6.5 /><circle cx=502 cy=953 r=6.5 /><circle cx=432 cy=852 r=6.5 /><circle cx=497 cy=1026 r=6.5 /><circle cx=449 cy=797 r=6.5 /><circle cx=400 cy=928 r=6.5 /><circle cx=238 cy=927 r=6.5 /><circle cx=442 cy=1031 r=6.5 /><circle cx=213 cy=777 r=6.5 /><circle cx=210 cy=824 r=6.5 /><circle cx=520 cy=953 r=6.5 /><circle cx=515 cy=963 r=6.5 /><circle cx=303 cy=978 r=6.5 /><circle cx=472 cy=1032 r=6.5 /><circle cx=361 cy=884 r=6.5 /><circle cx=359 cy=829 r=6.5 /><circle cx=476 cy=974 r=6.5 /><circle cx=299 cy=725 r=6.5 /><circle cx=353 cy=833 r=6.5 /><circle cx=526 cy=1057 r=6.5 /><circle cx=369 cy=762 r=6.5 /><circle cx=531 cy=961 r=6.5 /><circle cx=399 cy=875 r=6.5 /><circle cx=246 cy=915 r=6.5 /><circle cx=359 cy=739 r=6.5 /><circle cx=213 cy=750 r=6.5 /><circle cx=336 cy=968 r=6.5 /><circle cx=389 cy=841 r=6.5 /><circle cx=568 cy=1053 r=6.5 /><circle cx=437 cy=941 r=6.5 /><circle cx=552 cy=944 r=6.5 /><circle cx=258 cy=920 r=6.5 /><circle cx=423 cy=824 r=6.5 /><circle cx=550 cy=902 r=6.5 /><circle cx=419 cy=861 r=6.5 /><circle cx=387 cy=816 r=6.5 /><circle cx=515 cy=985 r=6.5 /><circle cx=419 cy=975 r=6.5 /><circle cx=188 cy=840 r=6.5 /><circle cx=451 cy=931 r=6.5 /><circle cx=260 cy=778 r=6.5 /><circle cx=453 cy=1037 r=6.5 /><circle cx=226 cy=808 r=6.5 /><circle cx=427 cy=764 r=6.5 /><circle cx=489 cy=864 r=6.5 /><circle cx=480 cy=867 r=6.5 /><circle cx=373 cy=894 r=6.5 /><circle cx=280 cy=739 r=6.5 /><circle cx=543 cy=1054 r=6.5 /><circle cx=218 cy=772 r=6.5 /><circle cx=412 cy=838 r=6.5 /><circle cx=322 cy=929 r=6.5 /><circle cx=350 cy=958 r=6.5 /><circle cx=344 cy=953 r=6.5 /><circle cx=430 cy=816 r=6.5 /><circle cx=392 cy=762 r=6.5 /><circle cx=534 cy=1019 r=6.5 /><circle cx=466 cy=974 r=6.5 /><circle cx=426 cy=920 r=6.5 /><circle cx=387 cy=759 r=6.5 /><circle cx=305 cy=874 r=6.5 /><circle cx=413 cy=920 r=6.5 /><circle cx=536 cy=1042 r=6.5 /><circle cx=392 cy=975 r=6.5 /><circle cx=393 cy=837 r=6.5 /><circle cx=382 cy=1018 r=6.5 /><circle cx=314 cy=895 r=6.5 /><circle cx=276 cy=798 r=6.5 /><circle cx=274 cy=942 r=6.5 /><circle cx=374 cy=877 r=6.5 /><circle cx=406 cy=811 r=6.5 /><circle cx=203 cy=833 r=6.5 /><circle cx=381 cy=977 r=6.5 /><circle cx=459 cy=1029 r=6.5 /><circle cx=351 cy=764 r=6.5 /><circle cx=457 cy=810 r=6.5 /><circle cx=406 cy=924 r=6.5 /><circle cx=412 cy=812 r=6.5 /><circle cx=396 cy=775 r=6.5 /><circle cx=439 cy=858 r=6.5 /><circle cx=464 cy=942 r=6.5 /><circle cx=362 cy=892 r=6.5 /><circle cx=571 cy=973 r=6.5 /><circle cx=427 cy=880 r=6.5 /><circle cx=270 cy=855 r=6.5 /><circle cx=544 cy=1003 r=6.5 /><circle cx=324 cy=733 r=6.5 /><circle cx=492 cy=926 r=6.5 /><circle cx=468 cy=1011 r=6.5 /><circle cx=473 cy=1071 r=6.5 /><circle cx=399 cy=887 r=6.5 /><circle cx=442 cy=977 r=6.5 /><circle cx=246 cy=853 r=6.5 /><circle cx=444 cy=797 r=6.5 /><circle cx=420 cy=855 r=6.5 /><circle cx=417 cy=1001 r=6.5 /><circle cx=445 cy=903 r=6.5 /><circle cx=403 cy=919 r=6.5 /><circle cx=452 cy=967 r=6.5 /><circle cx=437 cy=984 r=6.5 /><circle cx=474 cy=1007 r=6.5 /><circle cx=372 cy=788 r=6.5 /><circle cx=512 cy=1043 r=6.5 /><circle cx=302 cy=693 r=6.5 /><circle cx=411 cy=1027 r=6.5 /><circle cx=401 cy=781 r=6.5 /><circle cx=440 cy=1041 r=6.5 /><circle cx=443 cy=905 r=6.5 /><circle cx=437 cy=910 r=6.5 /><circle cx=492 cy=1033 r=6.5 /><circle cx=228 cy=808 r=6.5 /><circle cx=387 cy=784 r=6.5 /><circle cx=465 cy=1052 r=6.5 /><circle cx=216 cy=925 r=6.5 /><circle cx=425 cy=957 r=6.5 /><circle cx=396 cy=809 r=6.5 /><circle cx=459 cy=960 r=6.5 /><circle cx=276 cy=724 r=6.5 /><circle cx=410 cy=946 r=6.5 /><circle cx=247 cy=785 r=6.5 /><circle cx=577 cy=983 r=6.5 /><circle cx=488 cy=1019 r=6.5 /><circle cx=500 cy=857 r=6.5 /><circle cx=517 cy=1050 r=6.5 /><circle cx=269 cy=772 r=6.5 /><circle cx=543 cy=1056 r=6.5 /><circle cx=439 cy=984 r=6.5 /><circle cx=543 cy=953 r=6.5 /><circle cx=324 cy=926 r=6.5 /><circle cx=452 cy=947 r=6.5 /><circle cx=406 cy=795 r=6.5 /><circle cx=461 cy=938 r=6.5 /><circle cx=571 cy=997 r=6.5 /><circle cx=494 cy=998 r=6.5 /><circle cx=450 cy=947 r=6.5 /><circle cx=512 cy=908 r=6.5 /><circle cx=336 cy=803 r=6.5 /><circle cx=569 cy=1024 r=6.5 /><circle cx=456 cy=918 r=6.5 /><circle cx=242 cy=797 r=6.5 /><circle cx=494 cy=847 r=6.5 /><circle cx=295 cy=747 r=6.5 /><circle cx=429 cy=920 r=6.5 /><circle cx=510 cy=924 r=6.5 /><circle cx=563 cy=926 r=6.5 /><circle cx=443 cy=907 r=6.5 /><circle cx=470 cy=1045 r=6.5 /><circle cx=462 cy=947 r=6.5 /><circle cx=203 cy=839 r=6.5 /><circle cx=408 cy=778 r=6.5 /><circle cx=365 cy=748 r=6.5 /><circle cx=501 cy=903 r=6.5 /><circle cx=366 cy=849 r=6.5 /><circle cx=326 cy=897 r=6.5 /><circle cx=519 cy=956 r=6.5 /><circle cx=424 cy=980 r=6.5 /><circle cx=456 cy=1073 r=6.5 /><circle cx=573 cy=1010 r=6.5 /><circle cx=396 cy=798 r=6.5 /><circle cx=477 cy=818 r=6.5 /><circle cx=495 cy=1079 r=6.5 /><circle cx=345 cy=934 r=6.5 /><circle cx=288 cy=920 r=6.5 /><circle cx=417 cy=969 r=6.5 /><circle cx=422 cy=778 r=6.5 /><circle cx=369 cy=970 r=6.5 /><circle cx=347 cy=834 r=6.5 /><circle cx=376 cy=763 r=6.5 /><circle cx=349 cy=784 r=6.5 /><circle cx=338 cy=798 r=6.5 /><circle cx=363 cy=866 r=6.5 /><circle cx=260 cy=762 r=6.5 /><circle cx=463 cy=1060 r=6.5 /><circle cx=450 cy=973 r=6.5 /><circle cx=400 cy=873 r=6.5 /><circle cx=546 cy=919 r=6.5 /><circle cx=279 cy=982 r=6.5 /><circle cx=412 cy=849 r=6.5 /><circle cx=433 cy=1052 r=6.5 /><circle cx=461 cy=835 r=6.5 /><circle cx=534 cy=964 r=6.5 /><circle cx=472 cy=990 r=6.5 /><circle cx=492 cy=1061 r=6.5 /><circle cx=429 cy=1074 r=6.5 /><circle cx=544 cy=986 r=6.5 /><circle cx=518 cy=1018 r=6.5 /><circle cx=445 cy=785 r=6.5 /><circle cx=390 cy=801 r=6.5 /><circle cx=216 cy=894 r=6.5 /><circle cx=324 cy=856 r=6.5 /><circle cx=300 cy=858 r=6.5 /><circle cx=549 cy=943 r=6.5 /><circle cx=565 cy=997 r=6.5 /><circle cx=457 cy=881 r=6.5 /><circle cx=216 cy=829 r=6.5 /><circle cx=424 cy=850 r=6.5 /><circle cx=337 cy=914 r=6.5 /><circle cx=314 cy=918 r=6.5 /><circle cx=425 cy=1041 r=6.5 /><circle cx=579 cy=1034 r=6.5 /><circle cx=348 cy=955 r=6.5 /><circle cx=457 cy=871 r=6.5 /><circle cx=288 cy=846 r=6.5 /><circle cx=306 cy=955 r=6.5 /><circle cx=587 cy=1029 r=6.5 /><circle cx=554 cy=1061 r=6.5 /><circle cx=284 cy=954 r=6.5 /><circle cx=405 cy=942 r=6.5 /><circle cx=271 cy=773 r=6.5 /><circle cx=347 cy=859 r=6.5 /><circle cx=266 cy=945 r=6.5 /><circle cx=276 cy=770 r=6.5 /><circle cx=428 cy=856 r=6.5 /><circle cx=496 cy=946 r=6.5 /><circle cx=424 cy=1024 r=6.5 /><circle cx=411 cy=979 r=6.5 /><circle cx=310 cy=860 r=6.5 /><circle cx=393 cy=954 r=6.5 /><circle cx=258 cy=812 r=6.5 /><circle cx=277 cy=941 r=6.5 /><circle cx=233 cy=940 r=6.5 /><circle cx=540 cy=983 r=6.5 /><circle cx=480 cy=847 r=6.5 /><circle cx=491 cy=1059 r=6.5 /><circle cx=551 cy=917 r=6.5 /><circle cx=554 cy=1005 r=6.5 /><circle cx=411 cy=879 r=6.5 /><circle cx=363 cy=879 r=6.5 /><circle cx=521 cy=962 r=6.5 /><circle cx=446 cy=1035 r=6.5 /><circle cx=494 cy=932 r=6.5 /><circle cx=534 cy=1057 r=6.5 /><circle cx=293 cy=915 r=6.5 /><circle cx=434 cy=917 r=6.5 /><circle cx=467 cy=973 r=6.5 /><circle cx=269 cy=859 r=6.5 /><circle cx=423 cy=1005 r=6.5 /><circle cx=525 cy=1068 r=6.5 /><circle cx=532 cy=1021 r=6.5 /><circle cx=383 cy=841 r=6.5 /><circle cx=325 cy=708 r=6.5 /><circle cx=268 cy=918 r=6.5 /><circle cx=475 cy=840 r=6.5 /><circle cx=279 cy=772 r=6.5 /><circle cx=473 cy=845 r=6.5 /><circle cx=506 cy=945 r=6.5 /><circle cx=514 cy=1024 r=6.5 /><circle cx=479 cy=965 r=6.5 /><circle cx=469 cy=1082 r=6.5 /><circle cx=369 cy=780 r=6.5 /><circle cx=443 cy=816 r=6.5 /><circle cx=410 cy=979 r=6.5 /><circle cx=565 cy=1057 r=6.5 /><circle cx=436 cy=932 r=6.5 /><circle cx=319 cy=882 r=6.5 /><circle cx=545 cy=1052 r=6.5 /><circle cx=417 cy=959 r=6.5 /><circle cx=465 cy=838 r=6.5 /><circle cx=487 cy=1025 r=6.5 /><circle cx=422 cy=983 r=6.5 /><circle cx=288 cy=831 r=6.5 /><circle cx=546 cy=1056 r=6.5 /><circle cx=161 cy=774 r=6.5 /><circle cx=396 cy=799 r=6.5 /><circle cx=439 cy=929 r=6.5 /><circle cx=549 cy=954 r=6.5 /><circle cx=565 cy=1048 r=6.5 /><circle cx=365 cy=841 r=6.5 /><circle cx=470 cy=940 r=6.5 /><circle cx=263 cy=875 r=6.5 /><circle cx=450 cy=984 r=6.5 /><circle cx=236 cy=746 r=6.5 /><circle cx=588 cy=1042 r=6.5 /><circle cx=540 cy=920 r=6.5 /><circle cx=314 cy=788 r=6.5 /><circle cx=366 cy=985 r=6.5 /><circle cx=396 cy=972 r=6.5 /><circle cx=467 cy=990 r=6.5 /><circle cx=260 cy=859 r=6.5 /><circle cx=376 cy=900 r=6.5 /><circle cx=478 cy=978 r=6.5 /><circle cx=492 cy=852 r=6.5 /><circle cx=455 cy=977 r=6.5 /><circle cx=344 cy=855 r=6.5 /><circle cx=469 cy=958 r=6.5 /><circle cx=461 cy=1003 r=6.5 /><circle cx=490 cy=898 r=6.5 /><circle cx=351 cy=910 r=6.5 /><circle cx=366 cy=883 r=6.5 /><circle cx=281 cy=934 r=6.5 /><circle cx=358 cy=785 r=6.5 /><circle cx=458 cy=1028 r=6.5 /><circle cx=398 cy=1005 r=6.5 /><circle cx=327 cy=793 r=6.5 /><circle cx=565 cy=957 r=6.5 /><circle cx=470 cy=847 r=6.5 /><circle cx=243 cy=751 r=6.5 /><circle cx=560 cy=1057 r=6.5 /><circle cx=397 cy=864 r=6.5 /><circle cx=396 cy=813 r=6.5 /><circle cx=527 cy=1025 r=6.5 /><circle cx=294 cy=950 r=6.5 /><circle cx=460 cy=978 r=6.5 /><circle cx=540 cy=1013 r=6.5 /><circle cx=411 cy=1008 r=6.5 /><circle cx=488 cy=940 r=6.5 /><circle cx=364 cy=799 r=6.5 /><circle cx=296 cy=868 r=6.5 /><circle cx=457 cy=840 r=6.5 /><circle cx=556 cy=974 r=6.5 /><circle cx=460 cy=873 r=6.5 /><circle cx=255 cy=828 r=6.5 /><circle cx=552 cy=933 r=6.5 /><circle cx=558 cy=1061 r=6.5 /><circle cx=361 cy=998 r=6.5 /><circle cx=434 cy=841 r=6.5 /><circle cx=414 cy=852 r=6.5 /><circle cx=574 cy=1059 r=6.5 /><circle cx=397 cy=900 r=6.5 /><circle cx=238 cy=817 r=6.5 /><circle cx=213 cy=808 r=6.5 /><circle cx=429 cy=1010 r=6.5 /><circle cx=356 cy=963 r=6.5 /><circle cx=449 cy=898 r=6.5 /><circle cx=243 cy=893 r=6.5 /><circle cx=340 cy=843 r=6.5 /><circle cx=483 cy=906 r=6.5 /><circle cx=525 cy=1006 r=6.5 /><circle cx=409 cy=754 r=6.5 /><circle cx=197 cy=926 r=6.5 /><circle cx=542 cy=1028 r=6.5 /><circle cx=255 cy=832 r=6.5 /><circle cx=359 cy=952 r=6.5 /><circle cx=301 cy=744 r=6.5 /><circle cx=567 cy=964 r=6.5 /><circle cx=379 cy=1046 r=6.5 /><circle cx=525 cy=930 r=6.5 /><circle cx=523 cy=888 r=6.5 /><circle cx=253 cy=763 r=6.5 /><circle cx=544 cy=1072 r=6.5 /><circle cx=336 cy=810 r=6.5 /><circle cx=455 cy=1008 r=6.5 /><circle cx=515 cy=872 r=6.5 /><circle cx=350 cy=912 r=6.5 /><circle cx=383 cy=888 r=6.5 /><circle cx=287 cy=933 r=6.5 /><circle cx=366 cy=777 r=6.5 /><circle cx=442 cy=814 r=6.5 /><circle cx=460 cy=1075 r=6.5 /><circle cx=398 cy=858 r=6.5 /><circle cx=500 cy=1045 r=6.5 /><circle cx=368 cy=766 r=6.5 /><circle cx=441 cy=821 r=6.5 /><circle cx=411 cy=742 r=6.5 /><circle cx=392 cy=845 r=6.5 /><circle cx=491 cy=831 r=6.5 /><circle cx=504 cy=930 r=6.5 /><circle cx=325 cy=916 r=6.5 /><circle cx=480 cy=1051 r=6.5 /><circle cx=496 cy=1073 r=6.5 /><circle cx=571 cy=1057 r=6.5 /><circle cx=501 cy=852 r=6.5 /><circle cx=387 cy=1068 r=6.5 /><circle cx=284 cy=778 r=6.5 /><circle cx=541 cy=1074 r=6.5 /><circle cx=563 cy=939 r=6.5 /><circle cx=198 cy=723 r=6.5 /><circle cx=422 cy=876 r=6.5 /><circle cx=479 cy=1064 r=6.5 /><circle cx=371 cy=716 r=6.5 /><circle cx=421 cy=949 r=6.5 /><circle cx=345 cy=731 r=6.5 /><circle cx=475 cy=810 r=6.5 /><circle cx=374 cy=821 r=6.5 /><circle cx=333 cy=789 r=6.5 /><circle cx=452 cy=951 r=6.5 /><circle cx=313 cy=743 r=6.5 /><circle cx=464 cy=819 r=6.5 /><circle cx=327 cy=798 r=6.5 /><circle cx=539 cy=1004 r=6.5 /><circle cx=406 cy=1091 r=6.5 /><circle cx=344 cy=792 r=6.5 /><circle cx=445 cy=856 r=6.5 /><circle cx=412 cy=1020 r=6.5 /><circle cx=404 cy=859 r=6.5 /><circle cx=550 cy=973 r=6.5 /><circle cx=552 cy=961 r=6.5 /><circle cx=470 cy=1000 r=6.5 /><circle cx=329 cy=752 r=6.5 /><circle cx=301 cy=873 r=6.5 /><circle cx=393 cy=850 r=6.5 /><circle cx=440 cy=1001 r=6.5 /><circle cx=451 cy=948 r=6.5 /><circle cx=477 cy=984 r=6.5 /><circle cx=516 cy=1001 r=6.5 /><circle cx=199 cy=775 r=6.5 /><circle cx=405 cy=844 r=6.5 /><circle cx=431 cy=1023 r=6.5 /><circle cx=544 cy=925 r=6.5 /><circle cx=349 cy=819 r=6.5 /><circle cx=475 cy=846 r=6.5 /><circle cx=549 cy=1015 r=6.5 /><circle cx=308 cy=896 r=6.5 /><circle cx=410 cy=832 r=6.5 /><circle cx=251 cy=822 r=6.5 /><circle cx=313 cy=852 r=6.5 /><circle cx=200 cy=773 r=6.5 /><circle cx=234 cy=859 r=6.5 /><circle cx=414 cy=873 r=6.5 /><circle cx=496 cy=957 r=6.5 /><circle cx=454 cy=884 r=6.5 /><circle cx=258 cy=928 r=6.5 /><circle cx=558 cy=931 r=6.5 /><circle cx=428 cy=868 r=6.5 /><circle cx=446 cy=803 r=6.5 /><circle cx=417 cy=997 r=6.5 /><circle cx=355 cy=802 r=6.5 /><circle cx=338 cy=808 r=6.5 /><circle cx=538 cy=1043 r=6.5 /><circle cx=566 cy=1029 r=6.5 /><circle cx=516 cy=1075 r=6.5 /><circle cx=404 cy=756 r=6.5 /><circle cx=414 cy=930 r=6.5 /><circle cx=318 cy=925 r=6.5 /><circle cx=275 cy=877 r=6.5 /><circle cx=499 cy=978 r=6.5 /><circle cx=402 cy=996 r=6.5 /><circle cx=415 cy=934 r=6.5 /><circle cx=452 cy=905 r=6.5 /><circle cx=493 cy=965 r=6.5 /><circle cx=454 cy=1009 r=6.5 /><circle cx=513 cy=855 r=6.5 /><circle cx=534 cy=980 r=6.5 /><circle cx=278 cy=859 r=6.5 /><circle cx=281 cy=746 r=6.5 /><circle cx=294 cy=886 r=6.5 /><circle cx=471 cy=821 r=6.5 /><circle cx=531 cy=1013 r=6.5 /><circle cx=306 cy=850 r=6.5 /><circle cx=389 cy=1013 r=6.5 /><circle cx=444 cy=809 r=6.5 /><circle cx=580 cy=1020 r=6.5 /><circle cx=372 cy=954 r=6.5 /><circle cx=344 cy=950 r=6.5 /><circle cx=340 cy=1006 r=6.5 /><circle cx=527 cy=1046 r=6.5 /><circle cx=452 cy=961 r=6.5 /><circle cx=255 cy=715 r=6.5 /><circle cx=528 cy=956 r=6.5 /><circle cx=401 cy=970 r=6.5 /><circle cx=345 cy=714 r=6.5 /><circle cx=530 cy=995 r=6.5 /><circle cx=383 cy=787 r=6.5 /><circle cx=486 cy=829 r=6.5 /><circle cx=484 cy=955 r=6.5 /><circle cx=465 cy=826 r=6.5 /><circle cx=511 cy=890 r=6.5 /><circle cx=527 cy=992 r=6.5 /><circle cx=406 cy=1077 r=6.5 /><circle cx=440 cy=1015 r=6.5 /><circle cx=326 cy=755 r=6.5 /><circle cx=420 cy=945 r=6.5 /><circle cx=240 cy=769 r=6.5 /><circle cx=474 cy=928 r=6.5 /><circle cx=327 cy=881 r=6.5 /><circle cx=455 cy=1046 r=6.5 /><circle cx=517 cy=876 r=6.5 /><circle cx=491 cy=823 r=6.5 /><circle cx=360 cy=728 r=6.5 /><circle cx=484 cy=930 r=6.5 /><circle cx=358 cy=774 r=6.5 /><circle cx=402 cy=860 r=6.5 /><circle cx=447 cy=1058 r=6.5 /><circle cx=232 cy=870 r=6.5 /><circle cx=408 cy=994 r=6.5 /><circle cx=393 cy=830 r=6.5 /><circle cx=423 cy=862 r=6.5 /><circle cx=344 cy=815 r=6.5 /><circle cx=457 cy=827 r=6.5 /><circle cx=563 cy=972 r=6.5 /><circle cx=472 cy=961 r=6.5 /><circle cx=337 cy=918 r=6.5 /><circle cx=314 cy=757 r=6.5 /><circle cx=431 cy=769 r=6.5 /><circle cx=360 cy=902 r=6.5 /><circle cx=348 cy=886 r=6.5 /><circle cx=447 cy=1009 r=6.5 /><circle cx=273 cy=820 r=6.5 /><circle cx=388 cy=1040 r=6.5 /><circle cx=329 cy=925 r=6.5 /><circle cx=276 cy=841 r=6.5 /><circle cx=340 cy=791 r=6.5 /><circle cx=246 cy=871 r=6.5 /><circle cx=486 cy=927 r=6.5 /><circle cx=431 cy=1010 r=6.5 /><circle cx=380 cy=1040 r=6.5 /><circle cx=227 cy=754 r=6.5 /><circle cx=444 cy=949 r=6.5 /><circle cx=502 cy=1055 r=6.5 /><circle cx=432 cy=978 r=6.5 /><circle cx=570 cy=969 r=6.5 /><circle cx=400 cy=766 r=6.5 /><circle cx=414 cy=829 r=6.5 /><circle cx=369 cy=996 r=6.5 /><circle cx=290 cy=827 r=6.5 /><circle cx=424 cy=1002 r=6.5 /><circle cx=468 cy=951 r=6.5 /><circle cx=224 cy=738 r=6.5 /><circle cx=389 cy=939 r=6.5 /><circle cx=511 cy=892 r=6.5 /><circle cx=486 cy=820 r=6.5 /><circle cx=497 cy=1013 r=6.5 /><circle cx=511 cy=1011 r=6.5 /><circle cx=315 cy=875 r=6.5 /><circle cx=406 cy=850 r=6.5 /><circle cx=404 cy=917 r=6.5 /><circle cx=432 cy=889 r=6.5 /><circle cx=246 cy=764 r=6.5 /><circle cx=446 cy=923 r=6.5 /><circle cx=338 cy=804 r=6.5 /><circle cx=505 cy=945 r=6.5 /><circle cx=447 cy=870 r=6.5 /><circle cx=483 cy=1017 r=6.5 /><circle cx=457 cy=854 r=6.5 /><circle cx=193 cy=934 r=6.5 /><circle cx=383 cy=810 r=6.5 /><circle cx=405 cy=794 r=6.5 /><circle cx=480 cy=847 r=6.5 /><circle cx=526 cy=916 r=6.5 /><circle cx=510 cy=1054 r=6.5 /><circle cx=344 cy=919 r=6.5 /><circle cx=232 cy=884 r=6.5 /><circle cx=284 cy=958 r=6.5 /><circle cx=376 cy=956 r=6.5 /><circle cx=468 cy=989 r=6.5 /><circle cx=536 cy=904 r=6.5 /><circle cx=459 cy=835 r=6.5 /><circle cx=430 cy=772 r=6.5 /><circle cx=538 cy=900 r=6.5 /><circle cx=489 cy=1028 r=6.5 /><circle cx=425 cy=903 r=6.5 /><circle cx=479 cy=831 r=6.5 /><circle cx=470 cy=1066 r=6.5 /><circle cx=418 cy=825 r=6.5 /><circle cx=550 cy=957 r=6.5 /><circle cx=449 cy=847 r=6.5 /><circle cx=424 cy=801 r=6.5 /><circle cx=343 cy=811 r=6.5 /><circle cx=447 cy=906 r=6.5 /><circle cx=569 cy=955 r=6.5 /><circle cx=384 cy=906 r=6.5 /><circle cx=215 cy=795 r=6.5 /><circle cx=465 cy=994 r=6.5 /><circle cx=518 cy=946 r=6.5 /><circle cx=581 cy=1048 r=6.5 /><circle cx=523 cy=1049 r=6.5 /><circle cx=521 cy=973 r=6.5 /><circle cx=384 cy=908 r=6.5 /><circle cx=502 cy=953 r=6.5 /><circle cx=476 cy=975 r=6.5 /><circle cx=387 cy=1015 r=6.5 /><circle cx=491 cy=971 r=6.5 /><circle cx=367 cy=1009 r=6.5 /><circle cx=428 cy=932 r=6.5 /><circle cx=523 cy=866 r=6.5 /><circle cx=560 cy=1077 r=6.5 /><circle cx=357 cy=742 r=6.5 /><circle cx=400 cy=997 r=6.5 /><circle cx=300 cy=917 r=6.5 /><circle cx=329 cy=851 r=6.5 /><circle cx=319 cy=978 r=6.5 /><circle cx=273 cy=775 r=6.5 /><circle cx=338 cy=837 r=6.5 /><circle cx=276 cy=767 r=6.5 /><circle cx=449 cy=1057 r=6.5 /><circle cx=274 cy=898 r=6.5 /><circle cx=433 cy=997 r=6.5 /><circle cx=483 cy=1067 r=6.5 /><circle cx=430 cy=993 r=6.5 /><circle cx=505 cy=1061 r=6.5 /><circle cx=540 cy=1008 r=6.5 /><circle cx=293 cy=919 r=6.5 /><circle cx=564 cy=960 r=6.5 /><circle cx=442 cy=835 r=6.5 /><circle cx=446 cy=1012 r=6.5 /><circle cx=342 cy=804 r=6.5 /><circle cx=188 cy=839 r=6.5 /><circle cx=498 cy=960 r=6.5 /><circle cx=510 cy=1064 r=6.5 /><circle cx=406 cy=912 r=6.5 /><circle cx=348 cy=990 r=6.5 /><circle cx=565 cy=1029 r=6.5 /><circle cx=484 cy=812 r=6.5 /><circle cx=243 cy=773 r=6.5 /><circle cx=481 cy=979 r=6.5 /><circle cx=527 cy=1095 r=6.5 /><circle cx=519 cy=956 r=6.5 /><circle cx=421 cy=963 r=6.5 /><circle cx=535 cy=983 r=6.5 /><circle cx=483 cy=942 r=6.5 /><circle cx=509 cy=998 r=6.5 /><circle cx=215 cy=774 r=6.5 /><circle cx=268 cy=891 r=6.5 /><circle cx=523 cy=957 r=6.5 /><circle cx=374 cy=896 r=6.5 /><circle cx=506 cy=864 r=6.5 /><circle cx=292 cy=772 r=6.5 /><circle cx=471 cy=1062 r=6.5 /><circle cx=352 cy=929 r=6.5 /><circle cx=318 cy=749 r=6.5 /><circle cx=345 cy=987 r=6.5 /><circle cx=466 cy=908 r=6.5 /><circle cx=352 cy=795 r=6.5 /><circle cx=425 cy=927 r=6.5 /><circle cx=402 cy=844 r=6.5 /><circle cx=447 cy=797 r=6.5 /><circle cx=533 cy=1051 r=6.5 /><circle cx=387 cy=893 r=6.5 /><circle cx=512 cy=1074 r=6.5 /><circle cx=494 cy=1030 r=6.5 /><circle cx=213 cy=914 r=6.5 /><circle cx=478 cy=848 r=6.5 /><circle cx=576 cy=1008 r=6.5 /><circle cx=477 cy=881 r=6.5 /><circle cx=567 cy=952 r=6.5 /><circle cx=447 cy=961 r=6.5 /><circle cx=530 cy=1007 r=6.5 /><circle cx=553 cy=923 r=6.5 /><circle cx=279 cy=750 r=6.5 /><circle cx=314 cy=721 r=6.5 /><circle cx=341 cy=902 r=6.5 /><circle cx=385 cy=778 r=6.5 /><circle cx=310 cy=944 r=6.5 /><circle cx=438 cy=883 r=6.5 /><circle cx=214 cy=818 r=6.5 /><circle cx=446 cy=876 r=6.5 /><circle cx=491 cy=872 r=6.5 /><circle cx=268 cy=864 r=6.5 /><circle cx=423 cy=918 r=6.5 /><circle cx=377 cy=964 r=6.5 /><circle cx=430 cy=918 r=6.5 /><circle cx=499 cy=846 r=6.5 /><circle cx=490 cy=838 r=6.5 /><circle cx=465 cy=901 r=6.5 /><circle cx=536 cy=960 r=6.5 /><circle cx=419 cy=972 r=6.5 /><circle cx=347 cy=831 r=6.5 /><circle cx=538 cy=980 r=6.5 /><circle cx=394 cy=872 r=6.5 /><circle cx=496 cy=1051 r=6.5 /><circle cx=210 cy=807 r=6.5 /><circle cx=464 cy=846 r=6.5 /><circle cx=421 cy=1025 r=6.5 /><circle cx=268 cy=903 r=6.5 /><circle cx=475 cy=840 r=6.5 /><circle cx=337 cy=887 r=6.5 /><circle cx=539 cy=1048 r=6.5 /><circle cx=376 cy=1011 r=6.5 /><circle cx=182 cy=833 r=6.5 /><circle cx=404 cy=875 r=6.5 /><circle cx=413 cy=866 r=6.5 /><circle cx=426 cy=763 r=6.5 /><circle cx=427 cy=888 r=6.5 /><circle cx=542 cy=994 r=6.5 /><circle cx=546 cy=918 r=6.5 /><circle cx=516 cy=965 r=6.5 /><circle cx=453 cy=824 r=6.5 /><circle cx=321 cy=963 r=6.5 /><circle cx=585 cy=1000 r=6.5 /><circle cx=571 cy=972 r=6.5 /><circle cx=336 cy=729 r=6.5 /><circle cx=408 cy=773 r=6.5 /><circle cx=397 cy=867 r=6.5 /><circle cx=353 cy=753 r=6.5 /><circle cx=228 cy=908 r=6.5 /><circle cx=516 cy=1040 r=6.5 /><circle cx=412 cy=758 r=6.5 /><circle cx=355 cy=867 r=6.5 /><circle cx=508 cy=948 r=6.5 /><circle cx=504 cy=951 r=6.5 /><circle cx=479 cy=866 r=6.5 /><circle cx=513 cy=935 r=6.5 /><circle cx=441 cy=977 r=6.5 /><circle cx=530 cy=974 r=6.5 /><circle cx=284 cy=950 r=6.5 /><circle cx=310 cy=762 r=6.5 /><circle cx=540 cy=1033 r=6.5 /><circle cx=292 cy=884 r=6.5 /><circle cx=365 cy=996 r=6.5 /><circle cx=551 cy=974 r=6.5 /><circle cx=458 cy=834 r=6.5 /><circle cx=560 cy=985 r=6.5 /><circle cx=316 cy=904 r=6.5 /><circle cx=432 cy=1002 r=6.5 /><circle cx=413 cy=835 r=6.5 /><circle cx=501 cy=847 r=6.5 /><circle cx=246 cy=916 r=6.5 /><circle cx=357 cy=943 r=6.5 /><circle cx=500 cy=1070 r=6.5 /><circle cx=368 cy=765 r=6.5 /><circle cx=391 cy=880 r=6.5 /><circle cx=484 cy=938 r=6.5 /><circle cx=351 cy=873 r=6.5 /><circle cx=622 cy=1047 r=6.5 /><circle cx=631 cy=1067 r=6.5 /><circle cx=414 cy=1162 r=6.5 /><circle cx=471 cy=1160 r=6.5 /><circle cx=424 cy=1134 r=6.5 /></g></g></g><g clip-path="url(#cpA)"><g transform="scale(.5)"><circle class=o cx=405 cy=145 r=5.5 /><circle class=o cx=409 cy=150 r=5.5 /><circle class=o cx=444 cy=147 r=5.5 /><circle class=o cx=425 cy=134 r=5.5 /><circle class=o cx=403 cy=146 r=5.5 /><circle class=o cx=430 cy=135 r=5.5 /><circle class=o cx=413 cy=138 r=5.5 /><circle class=o cx=442 cy=120 r=5.5 /><circle class=o cx=439 cy=126 r=5.5 /><circle class=o cx=426 cy=125 r=5.5 /><circle class=o cx=444 cy=139 r=5.5 /><circle class=o cx=416 cy=145 r=5.5 /><circle class=o cx=443 cy=112 r=5.5 /><circle class=o cx=448 cy=108 r=5.5 /><circle class=o cx=426 cy=140 r=5.5 /><circle class=o cx=434 cy=128 r=5.5 /><circle class=o cx=442 cy=134 r=5.5 /><circle class=o cx=385 cy=149 r=5.5 /><circle class=o cx=385 cy=152 r=5.5 /><circle class=o cx=428 cy=145 r=5.5 /><circle class=o cx=457 cy=131 r=5.5 /><circle class=o cx=421 cy=146 r=5.5 /><circle class=o cx=401 cy=135 r=5.5 /><circle class=o cx=440 cy=137 r=5.5 /><circle class=o cx=437 cy=142 r=5.5 /><circle class=o cx=454 cy=132 r=5.5 /><circle class=o cx=409 cy=142 r=5.5 /><circle class=o cx=445 cy=130 r=5.5 /><circle class=o cx=438 cy=130 r=5.5 /><circle class=o cx=436 cy=144 r=5.5 /><circle class=o cx=442 cy=146 r=5.5 /><circle class=o cx=430 cy=128 r=5.5 /><circle class=o cx=444 cy=143 r=5.5 /><circle class=o cx=426 cy=140 r=5.5 /><circle class=o cx=450 cy=133 r=5.5 /><circle class=o cx=442 cy=144 r=5.5 /><circle class=o cx=451 cy=132 r=5.5 /><circle class=o cx=434 cy=131 r=5.5 /><circle class=o cx=453 cy=113 r=5.5 /><circle class=o cx=455 cy=142 r=5.5 /><circle class=o cx=456 cy=114 r=5.5 /><circle class=o cx=423 cy=132 r=5.5 /><circle class=o cx=420 cy=149 r=5.5 /><circle class=o cx=424 cy=120 r=5.5 /><circle class=o cx=413 cy=149 r=5.5 /><circle class=o cx=399 cy=147 r=5.5 /><circle class=o cx=443 cy=132 r=5.5 /><circle class=o cx=456 cy=136 r=5.5 /><circle class=o cx=412 cy=136 r=5.5 /><circle class=o cx=437 cy=140 r=5.5 /><circle class=o cx=447 cy=121 r=5.5 /><circle class=o cx=416 cy=145 r=5.5 /><circle class=o cx=408 cy=152 r=5.5 /><circle class=o cx=384 cy=151 r=5.5 /><circle class=o cx=430 cy=150 r=5.5 /><circle class=o cx=437 cy=115 r=5.5 /><circle class=o cx=433 cy=120 r=5.5 /><circle class=o cx=408 cy=147 r=5.5 /><circle class=o cx=429 cy=121 r=5.5 /><circle class=o cx=438 cy=129 r=5.5 /><circle class=o cx=437 cy=141 r=5.5 /><circle class=o cx=455 cy=129 r=5.5 /><circle class=o cx=439 cy=124 r=5.5 /><circle class=o cx=434 cy=121 r=5.5 /><circle class=o cx=416 cy=147 r=5.5 /><circle class=o cx=452 cy=152 r=5.5 /><circle class=o cx=425 cy=146 r=5.5 /><circle class=o cx=443 cy=129 r=5.5 /><circle class=o cx=449 cy=130 r=5.5 /><circle class=o cx=415 cy=138 r=5.5 /><circle class=o cx=445 cy=152 r=5.5 /><circle class=o cx=457 cy=125 r=5.5 /><circle class=o cx=453 cy=127 r=5.5 /><circle class=o cx=417 cy=136 r=5.5 /><circle class=o cx=411 cy=145 r=5.5 /><circle class=o cx=391 cy=143 r=5.5 /><circle class=o cx=449 cy=118 r=5.5 /><circle class=o cx=410 cy=137 r=5.5 /><circle class=o cx=429 cy=112 r=5.5 /><circle class=o cx=449 cy=130 r=5.5 /><circle class=o cx=455 cy=141 r=5.5 /><circle class=o cx=436 cy=122 r=5.5 /><circle class=o cx=430 cy=138 r=5.5 /><circle class=o cx=434 cy=147 r=5.5 /><circle class=o cx=410 cy=142 r=5.5 /><circle class=o cx=435 cy=138 r=5.5 /><circle class=o cx=437 cy=129 r=5.5 /><circle class=o cx=443 cy=142 r=5.5 /><circle class=o cx=454 cy=129 r=5.5 /><circle class=o cx=392 cy=150 r=5.5 /><circle class=o cx=452 cy=137 r=5.5 /><circle class=o cx=444 cy=114 r=5.5 /><circle class=o cx=449 cy=151 r=5.5 /><circle class=o cx=428 cy=140 r=5.5 /><circle class=o cx=451 cy=123 r=5.5 /><circle class=o cx=454 cy=134 r=5.5 /><circle class=o cx=452 cy=144 r=5.5 /><circle class=o cx=440 cy=124 r=5.5 /><circle class=o cx=441 cy=149 r=5.5 /><circle class=o cx=435 cy=132 r=5.5 /><circle class=o cx=432 cy=147 r=5.5 /><circle class=o cx=396 cy=141 r=5.5 /><circle class=o cx=425 cy=137 r=5.5 /><circle class=o cx=426 cy=124 r=5.5 /><circle class=o cx=431 cy=143 r=5.5 /><circle class=o cx=423 cy=149 r=5.5 /><circle class=o cx=430 cy=148 r=5.5 /><circle class=o cx=457 cy=135 r=5.5 /><circle class=o cx=416 cy=145 r=5.5 /><circle class=o cx=450 cy=148 r=5.5 /><circle class=o cx=455 cy=130 r=5.5 /><circle class=o cx=450 cy=124 r=5.5 /><circle class=o cx=445 cy=114 r=5.5 /><circle class=o cx=420 cy=135 r=5.5 /><circle class=o cx=449 cy=150 r=5.5 /><circle class=o cx=445 cy=147 r=5.5 /><circle class=o cx=415 cy=132 r=5.5 /><circle class=o cx=440 cy=131 r=5.5 /><circle class=o cx=420 cy=150 r=5.5 /><circle class=o cx=440 cy=129 r=5.5 /><circle class=o cx=453 cy=146 r=5.5 /><circle class=o cx=443 cy=143 r=5.5 /><circle class=o cx=451 cy=143 r=5.5 /><circle class=o cx=433 cy=111 r=5.5 /><circle class=o cx=448 cy=127 r=5.5 /><circle class=o cx=457 cy=123 r=5.5 /><circle class=o cx=457 cy=126 r=5.5 /><circle class=o cx=456 cy=125 r=5.5 /><circle class=o cx=428 cy=132 r=5.5 /><circle class=o cx=426 cy=143 r=5.5 /><circle class=o cx=452 cy=141 r=5.5 /><circle class=o cx=447 cy=116 r=5.5 /><circle class=o cx=430 cy=126 r=5.5 /><circle class=o cx=421 cy=134 r=5.5 /><circle class=o cx=453 cy=146 r=5.5 /><circle class=o cx=430 cy=115 r=5.5 /><circle class=o cx=441 cy=119 r=5.5 /><circle class=o cx=415 cy=142 r=5.5 /><circle class=o cx=448 cy=152 r=5.5 /><circle class=o cx=453 cy=118 r=5.5 /><circle class=o cx=429 cy=120 r=5.5 /><circle class=o cx=445 cy=120 r=5.5 /><circle class=o cx=424 cy=138 r=5.5 /><circle class=o cx=450 cy=146 r=5.5 /><circle class=o cx=407 cy=146 r=5.5 /><circle class=o cx=453 cy=147 r=5.5 /><circle class=o cx=444 cy=123 r=5.5 /><circle class=o cx=439 cy=143 r=5.5 /><circle class=o cx=428 cy=151 r=5.5 /><circle class=o cx=422 cy=142 r=5.5 /><circle class=o cx=394 cy=152 r=5.5 /><circle class=o cx=419 cy=147 r=5.5 /><circle class=o cx=449 cy=148 r=5.5 /><circle class=o cx=419 cy=135 r=5.5 /><circle class=o cx=438 cy=122 r=5.5 /><circle class=o cx=445 cy=122 r=5.5 /><circle class=o cx=440 cy=126 r=5.5 /><circle class=o cx=399 cy=143 r=5.5 /><circle class=o cx=393 cy=145 r=5.5 /><circle class=o cx=436 cy=148 r=5.5 /><circle class=o cx=414 cy=143 r=5.5 /><circle class=o cx=410 cy=151 r=5.5 /><circle class=o cx=450 cy=132 r=5.5 /><circle class=o cx=448 cy=116 r=5.5 /><circle class=o cx=430 cy=131 r=5.5 /><circle class=o cx=435 cy=123 r=5.5 /><circle class=o cx=453 cy=128 r=5.5 /><circle class=o cx=436 cy=129 r=5.5 /><circle class=o cx=408 cy=140 r=5.5 /><circle class=o cx=421 cy=142 r=5.5 /><circle class=o cx=443 cy=123 r=5.5 /><circle class=o cx=454 cy=136 r=5.5 /><circle class=o cx=417 cy=139 r=5.5 /><circle class=o cx=413 cy=144 r=5.5 /><circle class=o cx=431 cy=136 r=5.5 /><circle class=o cx=429 cy=152 r=5.5 /><circle class=o cx=400 cy=148 r=5.5 /><circle class=o cx=407 cy=145 r=5.5 /><circle class=o cx=449 cy=124 r=5.5 /><circle class=o cx=441 cy=113 r=5.5 /><circle class=o cx=437 cy=132 r=5.5 /><circle class=o cx=399 cy=146 r=5.5 /><circle class=o cx=429 cy=123 r=5.5 /><circle class=o cx=452 cy=137 r=5.5 /><circle class=o cx=449 cy=151 r=5.5 /><circle class=o cx=447 cy=135 r=5.5 /><circle class=o cx=431 cy=116 r=5.5 /><circle class=o cx=448 cy=127 r=5.5 /><circle class=o cx=450 cy=124 r=5.5 /><circle class=o cx=426 cy=121 r=5.5 /><circle class=o cx=439 cy=148 r=5.5 /><circle class=o cx=451 cy=122 r=5.5 /><circle class=o cx=424 cy=140 r=5.5 /><circle class=o cx=452 cy=150 r=5.5 /><circle class=o cx=443 cy=126 r=5.5 /><circle class=o cx=412 cy=148 r=5.5 /><circle class=o cx=395 cy=150 r=5.5 /><circle class=o cx=437 cy=148 r=5.5 /><circle class=o cx=452 cy=141 r=5.5 /><circle class=o cx=443 cy=149 r=5.5 /><circle class=o cx=447 cy=130 r=5.5 /><circle class=o cx=429 cy=133 r=5.5 /><circle class=o cx=441 cy=126 r=5.5 /><circle class=o cx=444 cy=124 r=5.5 /><circle class=o cx=443 cy=139 r=5.5 /><circle class=o cx=449 cy=150 r=5.5 /><circle class=o cx=424 cy=140 r=5.5 /><circle class=o cx=451 cy=136 r=5.5 /><circle class=o cx=452 cy=141 r=5.5 /><circle class=o cx=441 cy=131 r=5.5 /><circle class=o cx=417 cy=125 r=5.5 /><circle class=o cx=434 cy=136 r=5.5 /><circle class=o cx=409 cy=147 r=5.5 /><circle class=o cx=426 cy=136 r=5.5 /><circle class=o cx=457 cy=112 r=5.5 /><circle class=o cx=440 cy=133 r=5.5 /><circle class=o cx=454 cy=141 r=5.5 /><circle class=o cx=426 cy=134 r=5.5 /><circle class=o cx=432 cy=134 r=5.5 /><circle class=o cx=457 cy=142 r=5.5 /><circle class=o cx=439 cy=147 r=5.5 /><circle class=o cx=418 cy=145 r=5.5 /><circle class=o cx=447 cy=111 r=5.5 /><circle class=o cx=415 cy=137 r=5.5 /><circle class=o cx=392 cy=142 r=5.5 /><circle class=o cx=445 cy=137 r=5.5 /><circle class=o cx=450 cy=147 r=5.5 /><circle class=o cx=432 cy=143 r=5.5 /><circle class=o cx=449 cy=150 r=5.5 /><circle class=o cx=407 cy=146 r=5.5 /><circle class=o cx=451 cy=142 r=5.5 /><circle class=o cx=440 cy=119 r=5.5 /><circle class=o cx=427 cy=129 r=5.5 /><circle class=o cx=396 cy=149 r=5.5 /><circle class=o cx=447 cy=129 r=5.5 /><circle class=o cx=447 cy=140 r=5.5 /><circle class=o cx=426 cy=152 r=5.5 /><circle class=o cx=443 cy=112 r=5.5 /><circle class=o cx=438 cy=149 r=5.5 /><circle class=o cx=398 cy=144 r=5.5 /><circle class=o cx=434 cy=143 r=5.5 /><circle class=o cx=436 cy=150 r=5.5 /><circle class=o cx=402 cy=147 r=5.5 /><circle class=o cx=447 cy=146 r=5.5 /><circle class=o cx=440 cy=137 r=5.5 /><circle class=o cx=452 cy=141 r=5.5 /><circle class=o cx=451 cy=124 r=5.5 /><circle class=o cx=453 cy=139 r=5.5 /><circle class=o cx=420 cy=140 r=5.5 /><circle class=o cx=390 cy=146 r=5.5 /><circle class=o cx=399 cy=148 r=5.5 /><circle class=o cx=424 cy=122 r=5.5 /><circle class=o cx=404 cy=141 r=5.5 /><circle class=o cx=426 cy=152 r=5.5 /><circle class=o cx=440 cy=145 r=5.5 /><circle class=o cx=454 cy=118 r=5.5 /><circle class=o cx=432 cy=124 r=5.5 /><circle class=o cx=435 cy=110 r=5.5 /><circle class=o cx=439 cy=125 r=5.5 /><circle class=o cx=448 cy=124 r=5.5 /><circle class=o cx=436 cy=139 r=5.5 /><circle class=o cx=446 cy=129 r=5.5 /><circle class=o cx=425 cy=148 r=5.5 /><circle class=o cx=440 cy=127 r=5.5 /><circle class=o cx=433 cy=134 r=5.5 /><circle class=o cx=453 cy=121 r=5.5 /><circle class=o cx=455 cy=130 r=5.5 /><circle class=o cx=443 cy=144 r=5.5 /><circle class=o cx=420 cy=147 r=5.5 /><circle class=o cx=456 cy=111 r=5.5 /><circle class=o cx=420 cy=129 r=5.5 /><circle class=o cx=427 cy=136 r=5.5 /><circle class=o cx=445 cy=125 r=5.5 /><circle class=o cx=423 cy=140 r=5.5 /><circle class=o cx=425 cy=133 r=5.5 /><circle class=o cx=389 cy=148 r=5.5 /><circle class=o cx=408 cy=144 r=5.5 /><circle class=o cx=425 cy=136 r=5.5 /><circle class=o cx=449 cy=125 r=5.5 /><circle class=o cx=400 cy=150 r=5.5 /><circle class=o cx=436 cy=142 r=5.5 /><circle class=o cx=441 cy=141 r=5.5 /><circle class=o cx=455 cy=139 r=5.5 /><circle class=o cx=410 cy=134 r=5.5 /><circle class=o cx=408 cy=141 r=5.5 /><circle class=o cx=407 cy=145 r=5.5 /><circle class=o cx=445 cy=146 r=5.5 /><circle class=o cx=436 cy=135 r=5.5 /><circle class=o cx=419 cy=142 r=5.5 /><circle class=o cx=426 cy=135 r=5.5 /><circle class=o cx=447 cy=147 r=5.5 /><circle class=o cx=440 cy=135 r=5.5 /><circle class=o cx=411 cy=148 r=5.5 /><circle class=o cx=431 cy=147 r=5.5 /><circle class=o cx=403 cy=149 r=5.5 /><circle class=o cx=436 cy=139 r=5.5 /><circle class=o cx=448 cy=112 r=5.5 /><circle class=o cx=433 cy=122 r=5.5 /><circle class=o cx=434 cy=141 r=5.5 /><circle class=o cx=437 cy=119 r=5.5 /><circle class=b cx=409 cy=152 r=5.5 /><circle class=b cx=451 cy=130 r=5.5 /><circle class=b cx=427 cy=155 r=5.5 /><circle class=b cx=431 cy=141 r=5.5 /><circle class=b cx=415 cy=157 r=5.5 /><circle class=b cx=419 cy=148 r=5.5 /><circle class=b cx=437 cy=147 r=5.5 /><circle class=b cx=423 cy=150 r=5.5 /></g></g><g clip-path="url(#cpB)"><g transform="scale(.5)"><circle class=o cx=1138 cy=145 r=5.5 /><circle class=o cx=1123 cy=150 r=5.5 /><circle class=o cx=1198 cy=147 r=5.5 /><circle class=o cx=1185 cy=134 r=5.5 /><circle class=o cx=1179 cy=146 r=5.5 /><circle class=o cx=1069 cy=135 r=5.5 /><circle class=o cx=1104 cy=138 r=5.5 /><circle class=o cx=1137 cy=120 r=5.5 /><circle class=o cx=1162 cy=126 r=5.5 /><circle class=o cx=1198 cy=125 r=5.5 /><circle class=o cx=1063 cy=139 r=5.5 /><circle class=o cx=1172 cy=145 r=5.5 /><circle class=o cx=1112 cy=112 r=5.5 /><circle class=o cx=1094 cy=108 r=5.5 /><circle class=o cx=1114 cy=140 r=5.5 /><circle class=o cx=1068 cy=128 r=5.5 /><circle class=o cx=1153 cy=134 r=5.5 /><circle class=o cx=1110 cy=149 r=5.5 /><circle class=o cx=1113 cy=152 r=5.5 /><circle class=o cx=1113 cy=145 r=5.5 /><circle class=o cx=1075 cy=131 r=5.5 /><circle class=o cx=1137 cy=146 r=5.5 /><circle class=o cx=1138 cy=135 r=5.5 /><circle class=o cx=1204 cy=137 r=5.5 /><circle class=o cx=1064 cy=142 r=5.5 /><circle class=o cx=1058 cy=132 r=5.5 /><circle class=o cx=1090 cy=142 r=5.5 /><circle class=o cx=1072 cy=130 r=5.5 /><circle class=o cx=1109 cy=130 r=5.5 /><circle class=o cx=1192 cy=144 r=5.5 /><circle class=o cx=1042 cy=146 r=5.5 /><circle class=o cx=1187 cy=128 r=5.5 /><circle class=o cx=1095 cy=143 r=5.5 /><circle class=o cx=1193 cy=140 r=5.5 /><circle class=o cx=1138 cy=133 r=5.5 /><circle class=o cx=1141 cy=144 r=5.5 /><circle class=o cx=1135 cy=132 r=5.5 /><circle class=o cx=1197 cy=131 r=5.5 /><circle class=o cx=1125 cy=113 r=5.5 /><circle class=o cx=1131 cy=142 r=5.5 /><circle class=o cx=1135 cy=114 r=5.5 /><circle class=o cx=1151 cy=132 r=5.5 /><circle class=o cx=1202 cy=149 r=5.5 /><circle class=o cx=1161 cy=120 r=5.5 /><circle class=o cx=1177 cy=149 r=5.5 /><circle class=o cx=1090 cy=147 r=5.5 /><circle class=o cx=1117 cy=132 r=5.5 /><circle class=o cx=1153 cy=136 r=5.5 /><circle class=o cx=1070 cy=136 r=5.5 /><circle class=o cx=1183 cy=140 r=5.5 /><circle class=o cx=1103 cy=121 r=5.5 /><circle class=o cx=1200 cy=145 r=5.5 /><circle class=o cx=1133 cy=152 r=5.5 /><circle class=o cx=1146 cy=151 r=5.5 /><circle class=o cx=1152 cy=150 r=5.5 /><circle class=o cx=1134 cy=115 r=5.5 /><circle class=o cx=1080 cy=120 r=5.5 /><circle class=o cx=1152 cy=147 r=5.5 /><circle class=o cx=1176 cy=121 r=5.5 /><circle class=o cx=1070 cy=129 r=5.5 /><circle class=o cx=1167 cy=141 r=5.5 /><circle class=o cx=1160 cy=129 r=5.5 /><circle class=o cx=1082 cy=124 r=5.5 /><circle class=o cx=1128 cy=121 r=5.5 /><circle class=o cx=1203 cy=147 r=5.5 /><circle class=o cx=1201 cy=152 r=5.5 /><circle class=o cx=1014 cy=146 r=5.5 /><circle class=o cx=1094 cy=129 r=5.5 /><circle class=o cx=1132 cy=130 r=5.5 /><circle class=o cx=1106 cy=138 r=5.5 /><circle class=o cx=1078 cy=152 r=5.5 /><circle class=o cx=1100 cy=125 r=5.5 /><circle class=o cx=1167 cy=127 r=5.5 /><circle class=o cx=1203 cy=136 r=5.5 /><circle class=o cx=1192 cy=145 r=5.5 /><circle class=o cx=1073 cy=143 r=5.5 /><circle class=o cx=1137 cy=118 r=5.5 /><circle class=o cx=1201 cy=137 r=5.5 /><circle class=o cx=1096 cy=112 r=5.5 /><circle class=o cx=1117 cy=130 r=5.5 /><circle class=o cx=1136 cy=141 r=5.5 /><circle class=o cx=1141 cy=122 r=5.5 /><circle class=o cx=1153 cy=138 r=5.5 /><circle class=o cx=1145 cy=147 r=5.5 /><circle class=o cx=1104 cy=142 r=5.5 /><circle class=o cx=1158 cy=138 r=5.5 /><circle class=o cx=1024 cy=129 r=5.5 /><circle class=o cx=1103 cy=142 r=5.5 /><circle class=o cx=1121 cy=129 r=5.5 /><circle class=o cx=1191 cy=150 r=5.5 /><circle class=o cx=1047 cy=137 r=5.5 /><circle class=o cx=1129 cy=114 r=5.5 /><circle class=o cx=1172 cy=151 r=5.5 /><circle class=o cx=1100 cy=140 r=5.5 /><circle class=o cx=1094 cy=123 r=5.5 /><circle class=o cx=1132 cy=134 r=5.5 /><circle class=o cx=1180 cy=144 r=5.5 /><circle class=o cx=1113 cy=124 r=5.5 /><circle class=o cx=1096 cy=149 r=5.5 /><circle class=o cx=1151 cy=132 r=5.5 /><circle class=o cx=1143 cy=147 r=5.5 /><circle class=o cx=1189 cy=141 r=5.5 /><circle class=o cx=1034 cy=137 r=5.5 /><circle class=o cx=1081 cy=124 r=5.5 /><circle class=o cx=1159 cy=143 r=5.5 /><circle class=o cx=1140 cy=149 r=5.5 /><circle class=o cx=1120 cy=148 r=5.5 /><circle class=o cx=1090 cy=135 r=5.5 /><circle class=o cx=1154 cy=145 r=5.5 /><circle class=o cx=1134 cy=148 r=5.5 /><circle class=o cx=1028 cy=130 r=5.5 /><circle class=o cx=1175 cy=124 r=5.5 /><circle class=o cx=1118 cy=114 r=5.5 /><circle class=o cx=1166 cy=135 r=5.5 /><circle class=o cx=1066 cy=150 r=5.5 /><circle class=o cx=1152 cy=147 r=5.5 /><circle class=o cx=1132 cy=132 r=5.5 /><circle class=o cx=1076 cy=131 r=5.5 /><circle class=o cx=1167 cy=150 r=5.5 /><circle class=o cx=1115 cy=129 r=5.5 /><circle class=o cx=1046 cy=146 r=5.5 /><circle class=o cx=1200 cy=143 r=5.5 /><circle class=o cx=1107 cy=143 r=5.5 /><circle class=o cx=1077 cy=111 r=5.5 /><circle class=o cx=1075 cy=127 r=5.5 /><circle class=o cx=1099 cy=123 r=5.5 /><circle class=o cx=1125 cy=126 r=5.5 /><circle class=o cx=1060 cy=125 r=5.5 /><circle class=o cx=1079 cy=132 r=5.5 /><circle class=o cx=1080 cy=143 r=5.5 /><circle class=o cx=1153 cy=141 r=5.5 /><circle class=o cx=1062 cy=116 r=5.5 /><circle class=o cx=1125 cy=126 r=5.5 /><circle class=o cx=1174 cy=134 r=5.5 /><circle class=o cx=1134 cy=146 r=5.5 /><circle class=o cx=1104 cy=115 r=5.5 /><circle class=o cx=1169 cy=119 r=5.5 /><circle class=o cx=1066 cy=142 r=5.5 /><circle class=o cx=1169 cy=152 r=5.5 /><circle class=o cx=1108 cy=118 r=5.5 /><circle class=o cx=1032 cy=120 r=5.5 /><circle class=o cx=1166 cy=120 r=5.5 /><circle class=o cx=1071 cy=138 r=5.5 /><circle class=o cx=1196 cy=146 r=5.5 /><circle class=o cx=1161 cy=146 r=5.5 /><circle class=o cx=1065 cy=147 r=5.5 /><circle class=o cx=1074 cy=123 r=5.5 /><circle class=o cx=1063 cy=143 r=5.5 /><circle class=o cx=1173 cy=151 r=5.5 /><circle class=o cx=1180 cy=142 r=5.5 /><circle class=o cx=1203 cy=152 r=5.5 /><circle class=o cx=1175 cy=147 r=5.5 /><circle class=o cx=1090 cy=148 r=5.5 /><circle class=o cx=1127 cy=135 r=5.5 /><circle class=o cx=1083 cy=122 r=5.5 /><circle class=o cx=1124 cy=122 r=5.5 /><circle class=o cx=1189 cy=126 r=5.5 /><circle class=o cx=1183 cy=143 r=5.5 /><circle class=o cx=1136 cy=145 r=5.5 /><circle class=o cx=1116 cy=148 r=5.5 /><circle class=o cx=1090 cy=143 r=5.5 /><circle class=o cx=1161 cy=151 r=5.5 /><circle class=o cx=1122 cy=132 r=5.5 /><circle class=o cx=1159 cy=116 r=5.5 /><circle class=o cx=1074 cy=131 r=5.5 /><circle class=o cx=1127 cy=123 r=5.5 /><circle class=o cx=1139 cy=128 r=5.5 /><circle class=o cx=1136 cy=129 r=5.5 /><circle class=o cx=1197 cy=140 r=5.5 /><circle class=o cx=1091 cy=142 r=5.5 /><circle class=o cx=1093 cy=123 r=5.5 /><circle class=o cx=1179 cy=136 r=5.5 /><circle class=o cx=1182 cy=139 r=5.5 /><circle class=o cx=1101 cy=144 r=5.5 /><circle class=o cx=1068 cy=136 r=5.5 /><circle class=o cx=1042 cy=152 r=5.5 /><circle class=o cx=1173 cy=148 r=5.5 /><circle class=o cx=1085 cy=145 r=5.5 /><circle class=o cx=1191 cy=124 r=5.5 /><circle class=o cx=1138 cy=113 r=5.5 /><circle class=o cx=1099 cy=132 r=5.5 /><circle class=o cx=1128 cy=146 r=5.5 /><circle class=o cx=1160 cy=123 r=5.5 /><circle class=o cx=1131 cy=137 r=5.5 /><circle class=o cx=1110 cy=151 r=5.5 /><circle class=o cx=1173 cy=135 r=5.5 /><circle class=o cx=1104 cy=116 r=5.5 /><circle class=o cx=1061 cy=127 r=5.5 /><circle class=o cx=1162 cy=124 r=5.5 /><circle class=o cx=1127 cy=121 r=5.5 /><circle class=o cx=1173 cy=148 r=5.5 /><circle class=o cx=1175 cy=122 r=5.5 /><circle class=o cx=1107 cy=140 r=5.5 /><circle class=o cx=1077 cy=150 r=5.5 /><circle class=o cx=1062 cy=126 r=5.5 /><circle class=o cx=1082 cy=148 r=5.5 /><circle class=o cx=1185 cy=150 r=5.5 /><circle class=o cx=1127 cy=148 r=5.5 /><circle class=o cx=1062 cy=141 r=5.5 /><circle class=o cx=1084 cy=149 r=5.5 /><circle class=o cx=1144 cy=130 r=5.5 /><circle class=o cx=1198 cy=133 r=5.5 /><circle class=o cx=1202 cy=126 r=5.5 /><circle class=o cx=1190 cy=124 r=5.5 /><circle class=o cx=1122 cy=139 r=5.5 /><circle class=o cx=1187 cy=150 r=5.5 /><circle class=o cx=1160 cy=140 r=5.5 /><circle class=o cx=1176 cy=136 r=5.5 /><circle class=o cx=1128 cy=141 r=5.5 /><circle class=o cx=1173 cy=131 r=5.5 /><circle class=o cx=1086 cy=125 r=5.5 /><circle class=o cx=1136 cy=136 r=5.5 /><circle class=o cx=1083 cy=147 r=5.5 /><circle class=o cx=1065 cy=136 r=5.5 /><circle class=o cx=1098 cy=112 r=5.5 /><circle class=o cx=1180 cy=133 r=5.5 /><circle class=o cx=1086 cy=141 r=5.5 /><circle class=o cx=1021 cy=134 r=5.5 /><circle class=o cx=1201 cy=134 r=5.5 /><circle class=o cx=1111 cy=142 r=5.5 /><circle class=o cx=1078 cy=147 r=5.5 /><circle class=o cx=1159 cy=145 r=5.5 /><circle class=o cx=1074 cy=111 r=5.5 /><circle class=o cx=1152 cy=137 r=5.5 /><circle class=o cx=1141 cy=142 r=5.5 /><circle class=o cx=1107 cy=137 r=5.5 /><circle class=o cx=1191 cy=147 r=5.5 /><circle class=o cx=1098 cy=143 r=5.5 /><circle class=o cx=1203 cy=150 r=5.5 /><circle class=o cx=1137 cy=146 r=5.5 /><circle class=o cx=1086 cy=142 r=5.5 /><circle class=o cx=1073 cy=119 r=5.5 /><circle class=o cx=1149 cy=129 r=5.5 /><circle class=o cx=1165 cy=149 r=5.5 /><circle class=o cx=1032 cy=129 r=5.5 /><circle class=o cx=1114 cy=140 r=5.5 /><circle class=o cx=1135 cy=152 r=5.5 /><circle class=o cx=1116 cy=112 r=5.5 /><circle class=o cx=1033 cy=149 r=5.5 /><circle class=o cx=1179 cy=144 r=5.5 /><circle class=o cx=1144 cy=143 r=5.5 /><circle class=o cx=1133 cy=150 r=5.5 /><circle class=o cx=1146 cy=147 r=5.5 /><circle class=o cx=1084 cy=146 r=5.5 /><circle class=o cx=1124 cy=137 r=5.5 /><circle class=o cx=1113 cy=141 r=5.5 /><circle class=o cx=1123 cy=124 r=5.5 /><circle class=o cx=1078 cy=139 r=5.5 /><circle class=o cx=1082 cy=140 r=5.5 /><circle class=o cx=1102 cy=146 r=5.5 /><circle class=o cx=1149 cy=148 r=5.5 /><circle class=o cx=1127 cy=122 r=5.5 /><circle class=o cx=1116 cy=141 r=5.5 /><circle class=o cx=1095 cy=152 r=5.5 /><circle class=o cx=1124 cy=145 r=5.5 /><circle class=o cx=1112 cy=118 r=5.5 /><circle class=o cx=1136 cy=124 r=5.5 /><circle class=o cx=1061 cy=110 r=5.5 /><circle class=o cx=1037 cy=125 r=5.5 /><circle class=o cx=1127 cy=124 r=5.5 /><circle class=o cx=1116 cy=139 r=5.5 /><circle class=o cx=1104 cy=129 r=5.5 /><circle class=o cx=1183 cy=148 r=5.5 /><circle class=o cx=1136 cy=127 r=5.5 /><circle class=o cx=1111 cy=134 r=5.5 /><circle class=o cx=1115 cy=121 r=5.5 /><circle class=o cx=1205 cy=130 r=5.5 /><circle class=o cx=1051 cy=144 r=5.5 /><circle class=o cx=1180 cy=147 r=5.5 /><circle class=o cx=1102 cy=111 r=5.5 /><circle class=o cx=1152 cy=129 r=5.5 /><circle class=o cx=1066 cy=136 r=5.5 /><circle class=o cx=1133 cy=125 r=5.5 /><circle class=o cx=1206 cy=140 r=5.5 /><circle class=o cx=1171 cy=133 r=5.5 /><circle class=o cx=1180 cy=148 r=5.5 /><circle class=o cx=1192 cy=144 r=5.5 /><circle class=o cx=1068 cy=136 r=5.5 /><circle class=o cx=1151 cy=125 r=5.5 /><circle class=o cx=1106 cy=150 r=5.5 /><circle class=o cx=1131 cy=142 r=5.5 /><circle class=o cx=1087 cy=141 r=5.5 /><circle class=o cx=1138 cy=139 r=5.5 /><circle class=o cx=1181 cy=134 r=5.5 /><circle class=o cx=1095 cy=141 r=5.5 /><circle class=o cx=1099 cy=145 r=5.5 /><circle class=o cx=1178 cy=146 r=5.5 /><circle class=o cx=1199 cy=135 r=5.5 /><circle class=o cx=1163 cy=142 r=5.5 /><circle class=o cx=1091 cy=135 r=5.5 /><circle class=o cx=1100 cy=147 r=5.5 /><circle class=o cx=1105 cy=135 r=5.5 /><circle class=o cx=1107 cy=148 r=5.5 /><circle class=o cx=1133 cy=147 r=5.5 /><circle class=o cx=1079 cy=149 r=5.5 /><circle class=o cx=1048 cy=139 r=5.5 /><circle class=o cx=1064 cy=112 r=5.5 /><circle class=o cx=1156 cy=122 r=5.5 /><circle class=o cx=1152 cy=141 r=5.5 /><circle class=o cx=1084 cy=119 r=5.5 /><circle class=b cx=1211 cy=152 r=5.5 /><circle class=b cx=1211 cy=130 r=5.5 /><circle class=b cx=1244 cy=155 r=5.5 /><circle class=b cx=1219 cy=141 r=5.5 /><circle class=b cx=1219 cy=157 r=5.5 /><circle class=b cx=1209 cy=148 r=5.5 /><circle class=b cx=1223 cy=147 r=5.5 /><circle class=b cx=1215 cy=150 r=5.5 /></g></g><g clip-path="url(#cpC)"><g transform="scale(.5)"><circle class=o cx=405 cy=886 r=5.5 /><circle class=o cx=409 cy=900 r=5.5 /><circle class=o cx=444 cy=827 r=5.5 /><circle class=o cx=425 cy=840 r=5.5 /><circle class=o cx=403 cy=846 r=5.5 /><circle class=o cx=430 cy=954 r=5.5 /><circle class=o cx=413 cy=919 r=5.5 /><circle class=o cx=442 cy=887 r=5.5 /><circle class=o cx=439 cy=863 r=5.5 /><circle class=o cx=426 cy=827 r=5.5 /><circle class=o cx=444 cy=959 r=5.5 /><circle class=o cx=416 cy=853 r=5.5 /><circle class=o cx=443 cy=911 r=5.5 /><circle class=o cx=448 cy=929 r=5.5 /><circle class=o cx=426 cy=909 r=5.5 /><circle class=o cx=434 cy=954 r=5.5 /><circle class=o cx=442 cy=872 r=5.5 /><circle class=o cx=385 cy=914 r=5.5 /><circle class=o cx=385 cy=910 r=5.5 /><circle class=o cx=428 cy=910 r=5.5 /><circle class=o cx=457 cy=948 r=5.5 /><circle class=o cx=421 cy=887 r=5.5 /><circle class=o cx=401 cy=886 r=5.5 /><circle class=o cx=440 cy=822 r=5.5 /><circle class=o cx=437 cy=958 r=5.5 /><circle class=o cx=454 cy=965 r=5.5 /><circle class=o cx=409 cy=933 r=5.5 /><circle class=o cx=445 cy=950 r=5.5 /><circle class=o cx=438 cy=915 r=5.5 /><circle class=o cx=436 cy=833 r=5.5 /><circle class=o cx=442 cy=980 r=5.5 /><circle class=o cx=430 cy=838 r=5.5 /><circle class=o cx=444 cy=928 r=5.5 /><circle class=o cx=426 cy=832 r=5.5 /><circle class=o cx=450 cy=886 r=5.5 /><circle class=o cx=442 cy=883 r=5.5 /><circle class=o cx=451 cy=889 r=5.5 /><circle class=o cx=434 cy=828 r=5.5 /><circle class=o cx=453 cy=899 r=5.5 /><circle class=o cx=455 cy=893 r=5.5 /><circle class=o cx=456 cy=889 r=5.5 /><circle class=o cx=423 cy=873 r=5.5 /><circle class=o cx=420 cy=823 r=5.5 /><circle class=o cx=424 cy=864 r=5.5 /><circle class=o cx=413 cy=848 r=5.5 /><circle class=o cx=399 cy=933 r=5.5 /><circle class=o cx=443 cy=906 r=5.5 /><circle class=o cx=456 cy=871 r=5.5 /><circle class=o cx=412 cy=952 r=5.5 /><circle class=o cx=437 cy=842 r=5.5 /><circle class=o cx=447 cy=920 r=5.5 /><circle class=o cx=416 cy=825 r=5.5 /><circle class=o cx=408 cy=890 r=5.5 /><circle class=o cx=384 cy=879 r=5.5 /><circle class=o cx=430 cy=873 r=5.5 /><circle class=o cx=437 cy=890 r=5.5 /><circle class=o cx=433 cy=943 r=5.5 /><circle class=o cx=408 cy=873 r=5.5 /><circle class=o cx=429 cy=848 r=5.5 /><circle class=o cx=438 cy=953 r=5.5 /><circle class=o cx=437 cy=858 r=5.5 /><circle class=o cx=455 cy=865 r=5.5 /><circle class=o cx=439 cy=941 r=5.5 /><circle class=o cx=434 cy=896 r=5.5 /><circle class=o cx=416 cy=823 r=5.5 /><circle class=o cx=452 cy=824 r=5.5 /><circle class=o cx=425 cy=1007 r=5.5 /><circle class=o cx=443 cy=929 r=5.5 /><circle class=o cx=449 cy=892 r=5.5 /><circle class=o cx=415 cy=917 r=5.5 /><circle class=o cx=445 cy=945 r=5.5 /><circle class=o cx=457 cy=923 r=5.5 /><circle class=o cx=453 cy=858 r=5.5 /><circle class=o cx=417 cy=823 r=5.5 /><circle class=o cx=411 cy=833 r=5.5 /><circle class=o cx=391 cy=949 r=5.5 /><circle class=o cx=449 cy=887 r=5.5 /><circle class=o cx=410 cy=824 r=5.5 /><circle class=o cx=429 cy=927 r=5.5 /><circle class=o cx=449 cy=906 r=5.5 /><circle class=o cx=455 cy=888 r=5.5 /><circle class=o cx=436 cy=883 r=5.5 /><circle class=o cx=430 cy=871 r=5.5 /><circle class=o cx=434 cy=879 r=5.5 /><circle class=o cx=410 cy=919 r=5.5 /><circle class=o cx=435 cy=866 r=5.5 /><circle class=o cx=437 cy=998 r=5.5 /><circle class=o cx=443 cy=920 r=5.5 /><circle class=o cx=454 cy=903 r=5.5 /><circle class=o cx=392 cy=834 r=5.5 /><circle class=o cx=452 cy=975 r=5.5 /><circle class=o cx=444 cy=895 r=5.5 /><circle class=o cx=449 cy=853 r=5.5 /><circle class=o cx=428 cy=923 r=5.5 /><circle class=o cx=451 cy=929 r=5.5 /><circle class=o cx=454 cy=892 r=5.5 /><circle class=o cx=452 cy=845 r=5.5 /><circle class=o cx=440 cy=911 r=5.5 /><circle class=o cx=441 cy=927 r=5.5 /><circle class=o cx=435 cy=874 r=5.5 /><circle class=o cx=432 cy=881 r=5.5 /><circle class=o cx=396 cy=836 r=5.5 /><circle class=o cx=425 cy=988 r=5.5 /><circle class=o cx=426 cy=942 r=5.5 /><circle class=o cx=431 cy=865 r=5.5 /><circle class=o cx=423 cy=884 r=5.5 /><circle class=o cx=430 cy=904 r=5.5 /><circle class=o cx=457 cy=933 r=5.5 /><circle class=o cx=416 cy=871 r=5.5 /><circle class=o cx=450 cy=890 r=5.5 /><circle class=o cx=455 cy=994 r=5.5 /><circle class=o cx=450 cy=850 r=5.5 /><circle class=o cx=445 cy=905 r=5.5 /><circle class=o cx=420 cy=859 r=5.5 /><circle class=o cx=449 cy=957 r=5.5 /><circle class=o cx=445 cy=873 r=5.5 /><circle class=o cx=415 cy=892 r=5.5 /><circle class=o cx=440 cy=947 r=5.5 /><circle class=o cx=420 cy=857 r=5.5 /><circle class=o cx=440 cy=908 r=5.5 /><circle class=o cx=453 cy=976 r=5.5 /><circle class=o cx=443 cy=826 r=5.5 /><circle class=o cx=451 cy=917 r=5.5 /><circle class=o cx=433 cy=946 r=5.5 /><circle class=o cx=448 cy=947 r=5.5 /><circle class=o cx=457 cy=924 r=5.5 /><circle class=o cx=457 cy=899 r=5.5 /><circle class=o cx=456 cy=962 r=5.5 /><circle class=o cx=428 cy=943 r=5.5 /><circle class=o cx=426 cy=943 r=5.5 /><circle class=o cx=452 cy=871 r=5.5 /><circle class=o cx=447 cy=961 r=5.5 /><circle class=o cx=430 cy=899 r=5.5 /><circle class=o cx=421 cy=851 r=5.5 /><circle class=o cx=453 cy=890 r=5.5 /><circle class=o cx=430 cy=919 r=5.5 /><circle class=o cx=441 cy=856 r=5.5 /><circle class=o cx=415 cy=957 r=5.5 /><circle class=o cx=448 cy=856 r=5.5 /><circle class=o cx=453 cy=915 r=5.5 /><circle class=o cx=429 cy=990 r=5.5 /><circle class=o cx=445 cy=859 r=5.5 /><circle class=o cx=424 cy=951 r=5.5 /><circle class=o cx=450 cy=830 r=5.5 /><circle class=o cx=407 cy=863 r=5.5 /><circle class=o cx=453 cy=957 r=5.5 /><circle class=o cx=444 cy=948 r=5.5 /><circle class=o cx=439 cy=959 r=5.5 /><circle class=o cx=428 cy=852 r=5.5 /><circle class=o cx=422 cy=845 r=5.5 /><circle class=o cx=394 cy=823 r=5.5 /><circle class=o cx=419 cy=850 r=5.5 /><circle class=o cx=449 cy=933 r=5.5 /><circle class=o cx=419 cy=896 r=5.5 /><circle class=o cx=438 cy=940 r=5.5 /><circle class=o cx=445 cy=900 r=5.5 /><circle class=o cx=440 cy=836 r=5.5 /><circle class=o cx=399 cy=842 r=5.5 /><circle class=o cx=393 cy=888 r=5.5 /><circle class=o cx=436 cy=907 r=5.5 /><circle class=o cx=414 cy=933 r=5.5 /><circle class=o cx=410 cy=863 r=5.5 /><circle class=o cx=450 cy=902 r=5.5 /><circle class=o cx=448 cy=865 r=5.5 /><circle class=o cx=430 cy=948 r=5.5 /><circle class=o cx=435 cy=897 r=5.5 /><circle class=o cx=453 cy=885 r=5.5 /><circle class=o cx=436 cy=888 r=5.5 /><circle class=o cx=408 cy=828 r=5.5 /><circle class=o cx=421 cy=932 r=5.5 /><circle class=o cx=443 cy=930 r=5.5 /><circle class=o cx=454 cy=846 r=5.5 /><circle class=o cx=417 cy=843 r=5.5 /><circle class=o cx=413 cy=922 r=5.5 /><circle class=o cx=431 cy=954 r=5.5 /><circle class=o cx=429 cy=980 r=5.5 /><circle class=o cx=400 cy=851 r=5.5 /><circle class=o cx=407 cy=938 r=5.5 /><circle class=o cx=449 cy=835 r=5.5 /><circle class=o cx=441 cy=886 r=5.5 /><circle class=o cx=437 cy=924 r=5.5 /><circle class=o cx=399 cy=896 r=5.5 /><circle class=o cx=429 cy=865 r=5.5 /><circle class=o cx=452 cy=893 r=5.5 /><circle class=o cx=449 cy=914 r=5.5 /><circle class=o cx=447 cy=852 r=5.5 /><circle class=o cx=431 cy=919 r=5.5 /><circle class=o cx=448 cy=961 r=5.5 /><circle class=o cx=450 cy=863 r=5.5 /><circle class=o cx=426 cy=897 r=5.5 /><circle class=o cx=439 cy=852 r=5.5 /><circle class=o cx=451 cy=850 r=5.5 /><circle class=o cx=424 cy=917 r=5.5 /><circle class=o cx=452 cy=945 r=5.5 /><circle class=o cx=443 cy=960 r=5.5 /><circle class=o cx=412 cy=941 r=5.5 /><circle class=o cx=395 cy=840 r=5.5 /><circle class=o cx=437 cy=896 r=5.5 /><circle class=o cx=452 cy=961 r=5.5 /><circle class=o cx=443 cy=938 r=5.5 /><circle class=o cx=447 cy=880 r=5.5 /><circle class=o cx=429 cy=827 r=5.5 /><circle class=o cx=441 cy=823 r=5.5 /><circle class=o cx=444 cy=835 r=5.5 /><circle class=o cx=443 cy=902 r=5.5 /><circle class=o cx=449 cy=838 r=5.5 /><circle class=o cx=424 cy=864 r=5.5 /><circle class=o cx=451 cy=848 r=5.5 /><circle class=o cx=452 cy=896 r=5.5 /><circle class=o cx=441 cy=852 r=5.5 /><circle class=o cx=417 cy=936 r=5.5 /><circle class=o cx=434 cy=888 r=5.5 /><circle class=o cx=409 cy=940 r=5.5 /><circle class=o cx=426 cy=957 r=5.5 /><circle class=o cx=457 cy=925 r=5.5 /><circle class=o cx=440 cy=845 r=5.5 /><circle class=o cx=454 cy=936 r=5.5 /><circle class=o cx=426 cy=1001 r=5.5 /><circle class=o cx=432 cy=824 r=5.5 /><circle class=o cx=457 cy=912 r=5.5 /><circle class=o cx=439 cy=944 r=5.5 /><circle class=o cx=418 cy=865 r=5.5 /><circle class=o cx=447 cy=948 r=5.5 /><circle class=o cx=415 cy=873 r=5.5 /><circle class=o cx=392 cy=883 r=5.5 /><circle class=o cx=445 cy=917 r=5.5 /><circle class=o cx=450 cy=834 r=5.5 /><circle class=o cx=432 cy=925 r=5.5 /><circle class=o cx=449 cy=823 r=5.5 /><circle class=o cx=407 cy=887 r=5.5 /><circle class=o cx=451 cy=936 r=5.5 /><circle class=o cx=440 cy=950 r=5.5 /><circle class=o cx=427 cy=875 r=5.5 /><circle class=o cx=396 cy=859 r=5.5 /><circle class=o cx=447 cy=989 r=5.5 /><circle class=o cx=447 cy=910 r=5.5 /><circle class=o cx=426 cy=889 r=5.5 /><circle class=o cx=443 cy=908 r=5.5 /><circle class=o cx=438 cy=988 r=5.5 /><circle class=o cx=398 cy=846 r=5.5 /><circle class=o cx=434 cy=880 r=5.5 /><circle class=o cx=436 cy=891 r=5.5 /><circle class=o cx=402 cy=878 r=5.5 /><circle class=o cx=447 cy=939 r=5.5 /><circle class=o cx=440 cy=900 r=5.5 /><circle class=o cx=452 cy=910 r=5.5 /><circle class=o cx=451 cy=900 r=5.5 /><circle class=o cx=453 cy=945 r=5.5 /><circle class=o cx=420 cy=941 r=5.5 /><circle class=o cx=390 cy=921 r=5.5 /><circle class=o cx=399 cy=875 r=5.5 /><circle class=o cx=424 cy=896 r=5.5 /><circle class=o cx=404 cy=907 r=5.5 /><circle class=o cx=426 cy=928 r=5.5 /><circle class=o cx=440 cy=899 r=5.5 /><circle class=o cx=454 cy=912 r=5.5 /><circle class=o cx=432 cy=888 r=5.5 /><circle class=o cx=435 cy=962 r=5.5 /><circle class=o cx=439 cy=984 r=5.5 /><circle class=o cx=448 cy=897 r=5.5 /><circle class=o cx=436 cy=907 r=5.5 /><circle class=o cx=446 cy=919 r=5.5 /><circle class=o cx=425 cy=842 r=5.5 /><circle class=o cx=440 cy=888 r=5.5 /><circle class=o cx=433 cy=912 r=5.5 /><circle class=o cx=453 cy=909 r=5.5 /><circle class=o cx=455 cy=820 r=5.5 /><circle class=o cx=443 cy=971 r=5.5 /><circle class=o cx=420 cy=845 r=5.5 /><circle class=o cx=456 cy=921 r=5.5 /><circle class=o cx=420 cy=872 r=5.5 /><circle class=o cx=427 cy=956 r=5.5 /><circle class=o cx=445 cy=891 r=5.5 /><circle class=o cx=423 cy=820 r=5.5 /><circle class=o cx=425 cy=854 r=5.5 /><circle class=o cx=389 cy=845 r=5.5 /><circle class=o cx=408 cy=833 r=5.5 /><circle class=o cx=425 cy=954 r=5.5 /><circle class=o cx=449 cy=874 r=5.5 /><circle class=o cx=400 cy=917 r=5.5 /><circle class=o cx=436 cy=893 r=5.5 /><circle class=o cx=441 cy=936 r=5.5 /><circle class=o cx=455 cy=886 r=5.5 /><circle class=o cx=410 cy=844 r=5.5 /><circle class=o cx=408 cy=928 r=5.5 /><circle class=o cx=407 cy=924 r=5.5 /><circle class=o cx=445 cy=847 r=5.5 /><circle class=o cx=436 cy=826 r=5.5 /><circle class=o cx=419 cy=861 r=5.5 /><circle class=o cx=426 cy=932 r=5.5 /><circle class=o cx=447 cy=924 r=5.5 /><circle class=o cx=440 cy=918 r=5.5 /><circle class=o cx=411 cy=916 r=5.5 /><circle class=o cx=431 cy=891 r=5.5 /><circle class=o cx=403 cy=944 r=5.5 /><circle class=o cx=436 cy=974 r=5.5 /><circle class=o cx=448 cy=958 r=5.5 /><circle class=o cx=433 cy=868 r=5.5 /><circle class=o cx=434 cy=872 r=5.5 /><circle class=o cx=437 cy=939 r=5.5 /><circle class=b cx=409 cy=814 r=5.5 /><circle class=b cx=451 cy=814 r=5.5 /><circle class=b cx=427 cy=783 r=5.5 /><circle class=b cx=431 cy=806 r=5.5 /><circle class=b cx=415 cy=806 r=5.5 /><circle class=b cx=419 cy=816 r=5.5 /><circle class=b cx=437 cy=802 r=5.5 /><circle class=b cx=423 cy=810 r=5.5 /></g></g><rect x="59.5" y="12.5" width="268" height="260" fill="none" stroke="#7a7a7a" stroke-width="1"/><rect x="415.5" y="12.5" width="268" height="260" fill="none" stroke="#7a7a7a" stroke-width="1"/><rect x="59.5" y="332.5" width="268" height="260" fill="none" stroke="#7a7a7a" stroke-width="1"/><line x1="56" x2="59" y1="23.9" y2="23.9" stroke="#333333" stroke-width="1"/><text x="54.2" y="28.2" text-anchor="end" class="tk">0%</text><line x1="56" x2="59" y1="88.2" y2="88.2" stroke="#333333" stroke-width="1"/><text x="54.2" y="92.5" text-anchor="end" class="tk">-25%</text><line x1="56" x2="59" y1="152.5" y2="152.5" stroke="#333333" stroke-width="1"/><text x="54.2" y="156.8" text-anchor="end" class="tk">-50%</text><line x1="56" x2="59" y1="216.8" y2="216.8" stroke="#333333" stroke-width="1"/><text x="54.2" y="221.2" text-anchor="end" class="tk">-75%</text><line x1="98.8" x2="98.8" y1="273" y2="276" stroke="#333333" stroke-width="1"/><text x="98.8" y="287" text-anchor="middle" class="tk">-300%</text><line x1="164.2" x2="164.2" y1="273" y2="276" stroke="#333333" stroke-width="1"/><text x="164.2" y="287" text-anchor="middle" class="tk">-200%</text><line x1="229.6" x2="229.6" y1="273" y2="276" stroke="#333333" stroke-width="1"/><text x="229.6" y="287" text-anchor="middle" class="tk">-100%</text><line x1="295.0" x2="295.0" y1="273" y2="276" stroke="#333333" stroke-width="1"/><text x="295.0" y="287" text-anchor="middle" class="tk">0%</text><line x1="412" x2="415" y1="23.9" y2="23.9" stroke="#333333" stroke-width="1"/><text x="410.2" y="28.2" text-anchor="end" class="tk">0%</text><line x1="412" x2="415" y1="88.2" y2="88.2" stroke="#333333" stroke-width="1"/><text x="410.2" y="92.5" text-anchor="end" class="tk">-25%</text><line x1="412" x2="415" y1="152.5" y2="152.5" stroke="#333333" stroke-width="1"/><text x="410.2" y="156.8" text-anchor="end" class="tk">-50%</text><line x1="412" x2="415" y1="216.8" y2="216.8" stroke="#333333" stroke-width="1"/><text x="410.2" y="221.2" text-anchor="end" class="tk">-75%</text><line x1="435.2" x2="435.2" y1="273" y2="276" stroke="#333333" stroke-width="1"/><text x="435.2" y="287" text-anchor="middle" class="tk">-5%</text><line x1="486.2" x2="486.2" y1="273" y2="276" stroke="#333333" stroke-width="1"/><text x="486.2" y="287" text-anchor="middle" class="tk">0%</text><line x1="537.2" x2="537.2" y1="273" y2="276" stroke="#333333" stroke-width="1"/><text x="537.2" y="287" text-anchor="middle" class="tk">5%</text><line x1="588.2" x2="588.2" y1="273" y2="276" stroke="#333333" stroke-width="1"/><text x="588.2" y="287" text-anchor="middle" class="tk">10%</text><line x1="639.2" x2="639.2" y1="273" y2="276" stroke="#333333" stroke-width="1"/><text x="639.2" y="287" text-anchor="middle" class="tk">15%</text><line x1="56" x2="59" y1="374.3" y2="374.3" stroke="#333333" stroke-width="1"/><text x="54.2" y="378.6" text-anchor="end" class="tk">15%</text><line x1="56" x2="59" y1="424.2" y2="424.2" stroke="#333333" stroke-width="1"/><text x="54.2" y="428.5" text-anchor="end" class="tk">10%</text><line x1="56" x2="59" y1="474.1" y2="474.1" stroke="#333333" stroke-width="1"/><text x="54.2" y="478.4" text-anchor="end" class="tk">5%</text><line x1="56" x2="59" y1="524.0" y2="524.0" stroke="#333333" stroke-width="1"/><text x="54.2" y="528.3" text-anchor="end" class="tk">0%</text><line x1="56" x2="59" y1="573.9" y2="573.9" stroke="#333333" stroke-width="1"/><text x="54.2" y="578.2" text-anchor="end" class="tk">-5%</text><line x1="98.8" x2="98.8" y1="593" y2="596" stroke="#333333" stroke-width="1"/><text x="98.8" y="607" text-anchor="middle" class="tk">-300%</text><line x1="164.2" x2="164.2" y1="593" y2="596" stroke="#333333" stroke-width="1"/><text x="164.2" y="607" text-anchor="middle" class="tk">-200%</text><line x1="229.6" x2="229.6" y1="593" y2="596" stroke="#333333" stroke-width="1"/><text x="229.6" y="607" text-anchor="middle" class="tk">-100%</text><line x1="295.0" x2="295.0" y1="593" y2="596" stroke="#333333" stroke-width="1"/><text x="295.0" y="607" text-anchor="middle" class="tk">0%</text><text x="193.5" y="301.5" text-anchor="middle" class="ti">Net CO2e emissions (% change)</text><text x="549.5" y="301.5" text-anchor="middle" class="ti">Bird habitat availability (% change)</text><text x="193.5" y="621.5" text-anchor="middle" class="ti">Net CO2e emissions (% change)</text><text transform="translate(21.2,142.5) rotate(-90)" text-anchor="middle" class="ti">Food production (% change)</text><text transform="translate(377.2,142.5) rotate(-90)" text-anchor="middle" class="ti">Food production (% change)</text><text transform="translate(21.2,462.5) rotate(-90)" text-anchor="middle" class="ti">Bird habitat availability (% change)</text><text x="0.5" y="11" class="tag">A</text><text x="357" y="11" class="tag">B</text><text x="0.5" y="331.3" class="tag">C</text><circle cx="477.2" cy="445.0" r="5.6" fill="#ececec"/><text x="491" y="449.6" class="lg">Inferior</text><circle cx="477.2" cy="462.5" r="5.6" fill="#b3b98e"/><text x="491" y="467.1" class="lg">Superior (food &amp; GHGs)</text><circle cx="477.2" cy="479.9" r="5.6" fill="#2c6e8f"/><text x="491" y="484.5" class="lg">Superior (all 3)</text></svg></body></html>
